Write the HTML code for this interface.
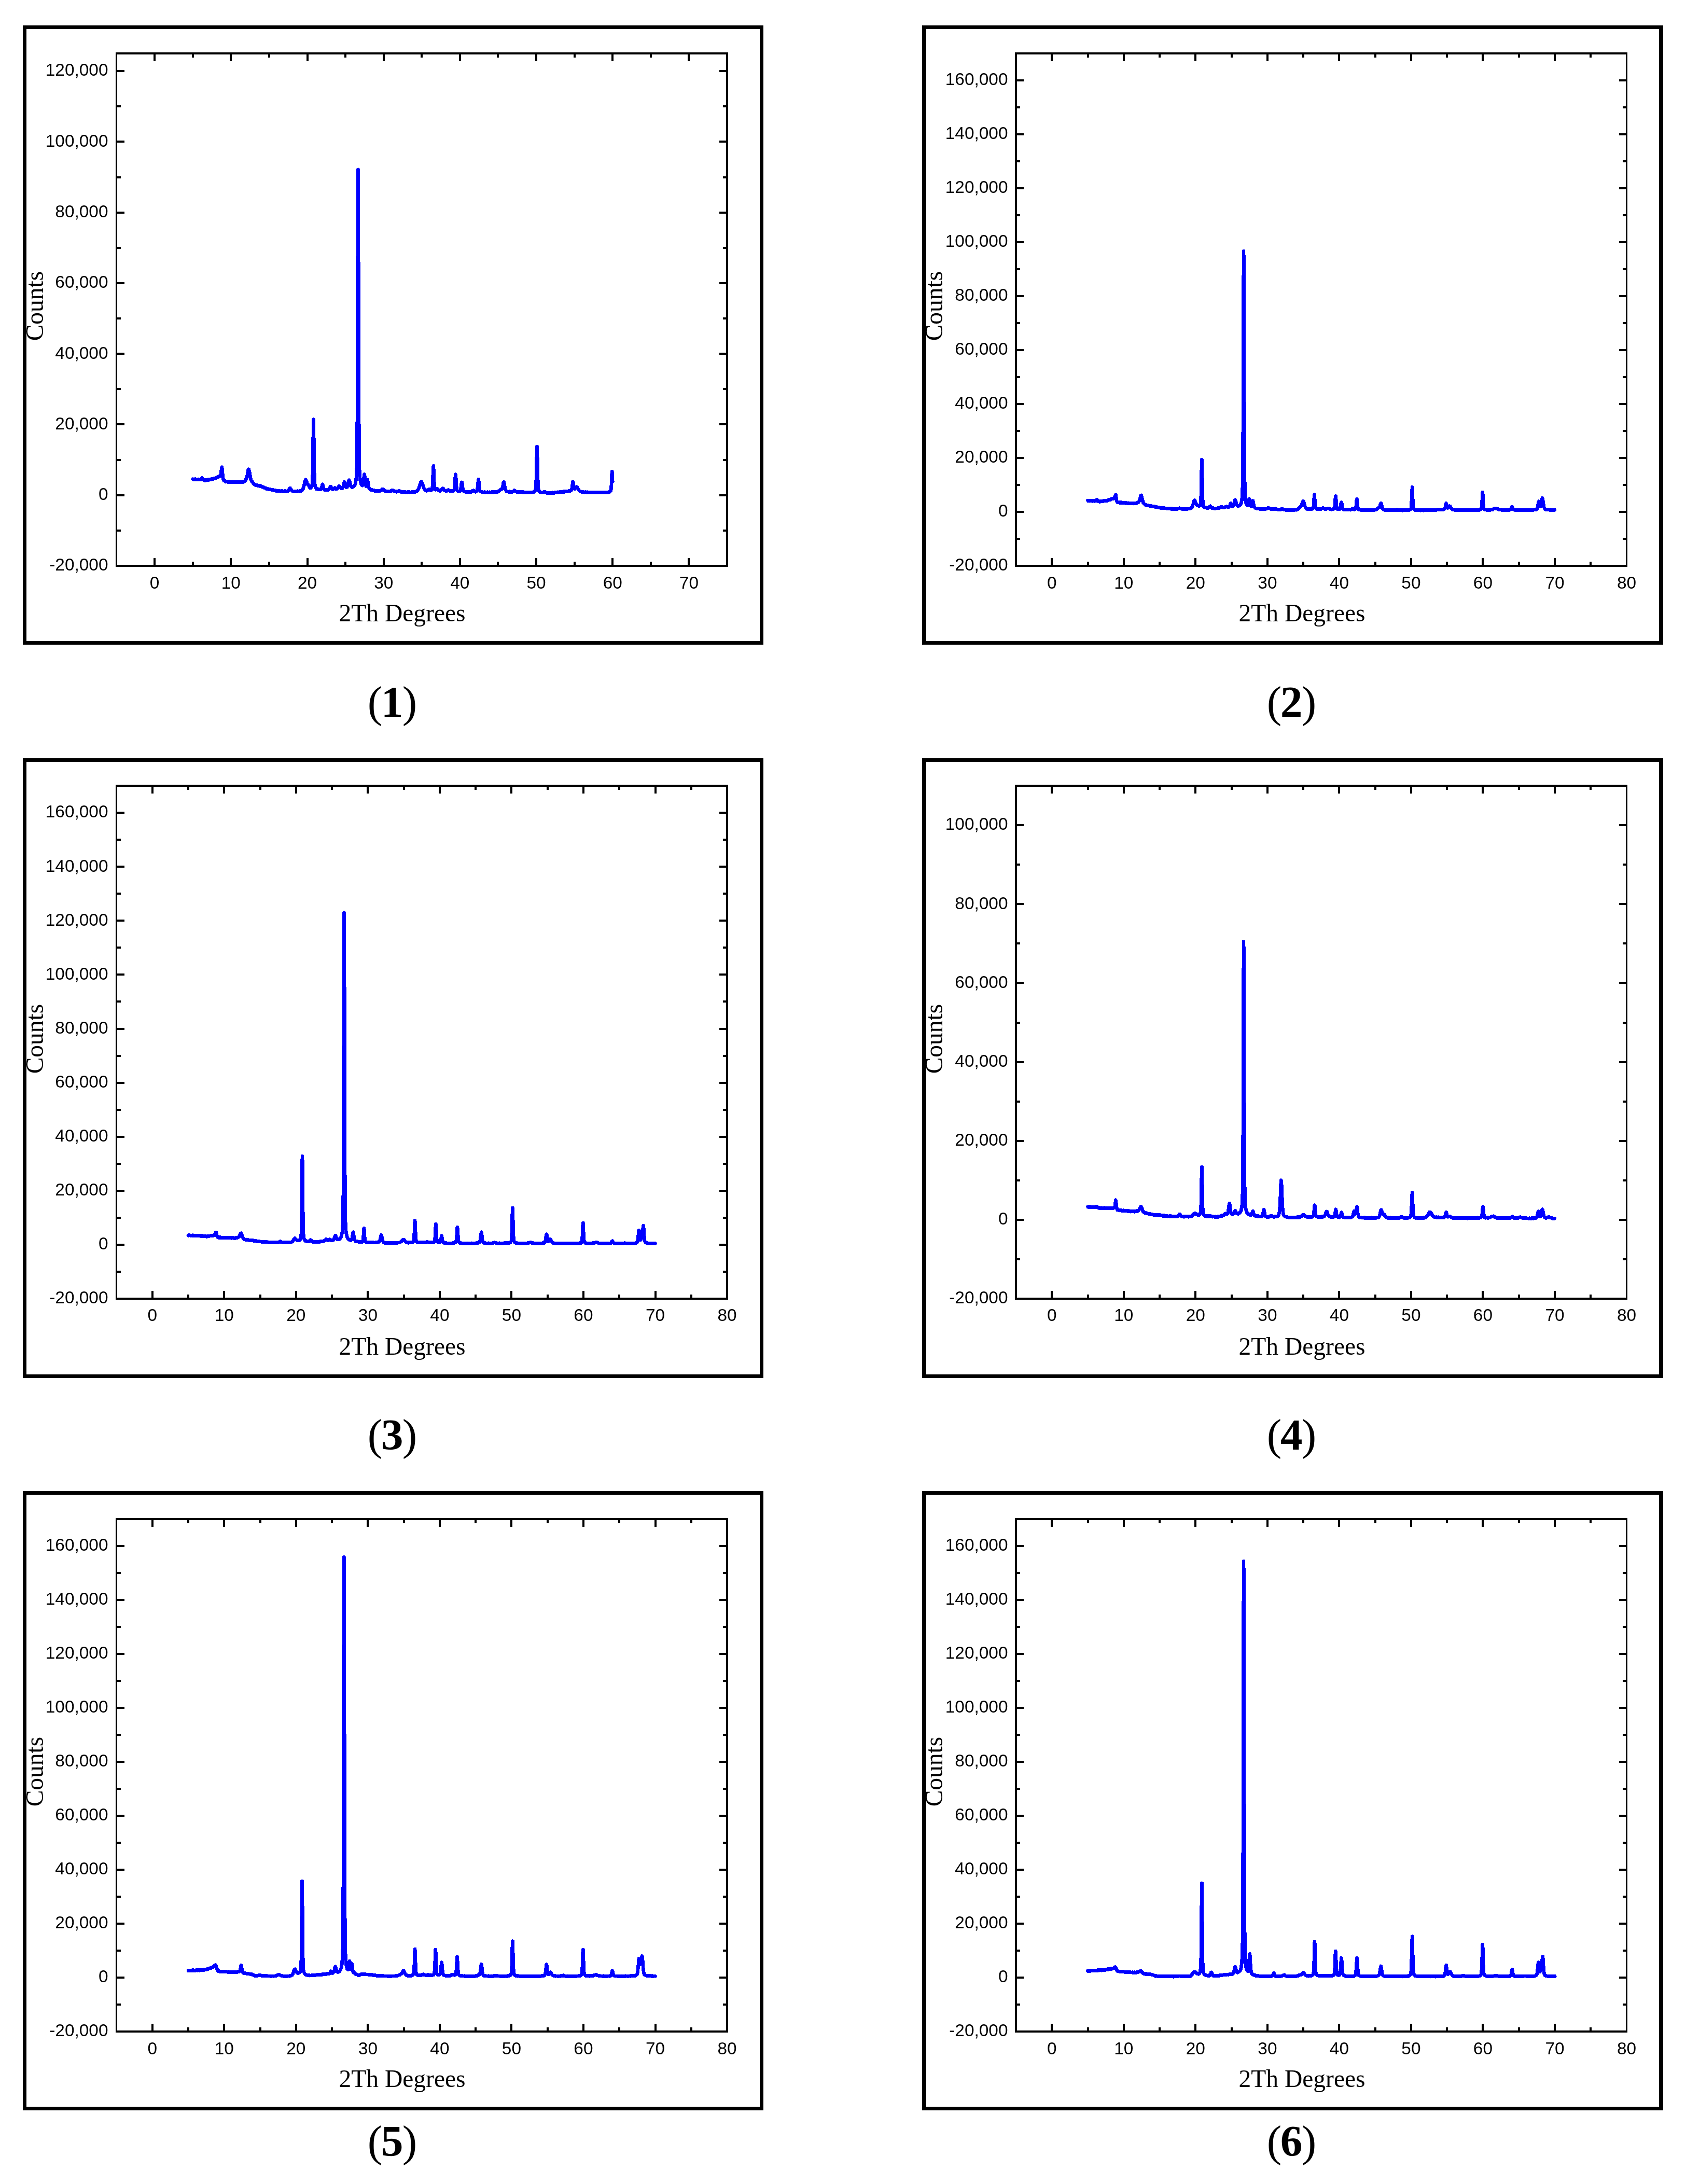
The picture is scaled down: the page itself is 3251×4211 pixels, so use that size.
<!DOCTYPE html>
<html lang="en"><head><meta charset="utf-8"><title>XRD patterns</title>
<style>html,body{margin:0;padding:0;background:#fff}body{width:3251px;height:4211px;overflow:hidden}svg{display:block}.tl{font-family:"Liberation Sans",sans-serif;font-size:33.4px;fill:#000}.ax{font-family:"Liberation Serif",serif;font-size:47.5px;fill:#000}.cap{font-family:"Liberation Serif",serif;font-size:85.5px;fill:#000}.cap .b{font-weight:bold}.tl,.ax,.cap{filter:grayscale(1)}</style></head><body>
<svg width="3251" height="4211" viewBox="0 0 3251 4211">
<rect width="3251" height="4211" fill="#fff"/>
<g transform="translate(0,0)">
<path d="M44 49H1472V1243H44Z M51 56V1236H1465V56Z" fill="#000" fill-rule="evenodd"/>
<path d="M298.1 1091.0 v-15.0 M298.1 103.0 v15.0 M445.3 1091.0 v-15.0 M445.3 103.0 v15.0 M592.5 1091.0 v-15.0 M592.5 103.0 v15.0 M739.7 1091.0 v-15.0 M739.7 103.0 v15.0 M886.8 1091.0 v-15.0 M886.8 103.0 v15.0 M1034.0 1091.0 v-15.0 M1034.0 103.0 v15.0 M1181.2 1091.0 v-15.0 M1181.2 103.0 v15.0 M1328.4 1091.0 v-15.0 M1328.4 103.0 v15.0 M371.7 1091.0 v-8.0 M371.7 103.0 v8.0 M518.9 1091.0 v-8.0 M518.9 103.0 v8.0 M666.1 1091.0 v-8.0 M666.1 103.0 v8.0 M813.2 1091.0 v-8.0 M813.2 103.0 v8.0 M960.4 1091.0 v-8.0 M960.4 103.0 v8.0 M1107.6 1091.0 v-8.0 M1107.6 103.0 v8.0 M1254.8 1091.0 v-8.0 M1254.8 103.0 v8.0 M224.5 1022.9 h8.0 M1402.0 1022.9 h-8.0 M224.5 954.7 h15.0 M1402.0 954.7 h-15.0 M224.5 886.6 h8.0 M1402.0 886.6 h-8.0 M224.5 818.4 h15.0 M1402.0 818.4 h-15.0 M224.5 750.3 h8.0 M1402.0 750.3 h-8.0 M224.5 682.2 h15.0 M1402.0 682.2 h-15.0 M224.5 614.0 h8.0 M1402.0 614.0 h-8.0 M224.5 545.9 h15.0 M1402.0 545.9 h-15.0 M224.5 477.8 h8.0 M1402.0 477.8 h-8.0 M224.5 409.6 h15.0 M1402.0 409.6 h-15.0 M224.5 341.5 h8.0 M1402.0 341.5 h-8.0 M224.5 273.3 h15.0 M1402.0 273.3 h-15.0 M224.5 205.2 h8.0 M1402.0 205.2 h-8.0 M224.5 137.1 h15.0 M1402.0 137.1 h-15.0" stroke="#000" stroke-width="4" fill="none" shape-rendering="crispEdges"/>
<path d="M223 101H1404V1093H223Z M226 105V1089H1400V105Z" fill="#000" fill-rule="evenodd"/>
<defs><polyline id="c1" points="371.7,923.7 372.0,923.7 372.3,924.0 372.6,924.3 372.9,924.4 373.2,924.1 373.5,924.4 373.7,924.5 374.0,924.1 374.3,924.1 374.6,924.0 374.9,924.4 375.2,924.1 375.5,924.2 375.8,924.5 376.1,924.0 376.4,924.1 376.7,923.6 377.0,924.1 377.3,924.2 377.6,923.9 377.9,924.2 378.2,924.0 378.5,924.3 378.8,924.2 379.0,924.0 379.3,924.1 379.6,924.2 379.9,924.6 380.2,924.2 380.5,924.3 380.8,924.1 381.1,924.2 381.4,924.0 381.7,924.3 382.0,924.3 382.3,924.1 382.6,924.6 382.9,924.4 383.2,924.4 383.5,923.8 383.8,924.4 384.1,924.2 384.3,924.2 384.6,924.5 384.9,924.8 385.2,924.2 385.5,924.5 385.8,924.3 386.1,924.8 386.4,924.5 386.7,924.0 387.0,923.9 387.3,924.5 387.6,924.3 387.9,923.7 388.2,923.1 388.5,922.9 388.8,922.5 389.1,922.5 389.4,921.8 389.6,921.9 389.9,921.7 390.2,922.5 390.5,923.2 390.8,923.6 391.1,923.6 391.4,924.7 391.7,924.6 392.0,925.2 392.3,925.2 392.6,925.4 392.9,925.5 393.2,925.2 393.5,925.6 393.8,925.4 394.1,925.8 394.4,926.0 394.6,925.8 394.9,926.7 395.2,926.0 395.5,925.9 395.8,926.3 396.1,925.8 396.4,926.0 396.7,926.5 397.0,925.9 397.3,926.0 397.6,925.9 397.9,925.8 398.2,925.3 398.5,925.6 398.8,925.6 399.1,925.4 399.4,926.0 399.7,925.1 399.9,925.7 400.2,925.2 400.5,925.6 400.8,925.5 401.1,925.3 401.4,924.6 401.7,924.9 402.0,925.2 402.3,925.0 402.6,925.2 402.9,924.9 403.2,925.0 403.5,924.6 403.8,925.1 404.1,924.7 404.4,924.8 404.7,924.7 405.0,924.3 405.2,924.4 405.5,924.3 405.8,924.1 406.1,924.0 406.4,924.6 406.7,924.1 407.0,924.7 407.3,924.2 407.6,923.6 407.9,924.1 408.2,924.1 408.5,924.0 408.8,923.9 409.1,923.9 409.4,924.0 409.7,923.5 410.0,923.4 410.3,923.6 410.5,923.4 410.8,923.2 411.1,923.0 411.4,923.1 411.7,922.9 412.0,923.1 412.3,923.2 412.6,922.9 412.9,922.4 413.2,922.3 413.5,922.4 413.8,922.5 414.1,922.2 414.4,921.7 414.7,921.7 415.0,922.1 415.3,921.8 415.5,922.1 415.8,921.9 416.1,921.4 416.4,921.3 416.7,920.9 417.0,920.8 417.3,920.8 417.6,920.5 417.9,920.9 418.2,920.9 418.5,920.4 418.8,919.7 419.1,920.2 419.4,920.5 419.7,920.0 420.0,919.6 420.3,920.1 420.6,919.5 420.8,919.8 421.1,919.2 421.4,919.2 421.7,919.2 422.0,918.6 422.3,919.2 422.6,919.1 422.9,918.3 423.2,919.0 423.5,917.9 423.8,918.3 424.1,918.3 424.4,917.7 424.7,917.3 425.0,916.8 425.3,916.3 425.6,915.2 425.9,915.0 426.1,912.9 426.4,910.7 426.7,907.4 427.0,905.8 427.3,902.9 427.6,901.3 427.9,900.7 428.2,902.6 428.5,905.4 428.8,909.3 429.1,912.8 429.4,916.7 429.7,919.2 430.0,921.2 430.3,923.0 430.6,924.6 430.9,925.3 431.2,926.6 431.4,926.4 431.7,927.0 432.0,927.2 432.3,927.2 432.6,927.2 432.9,927.1 433.2,927.6 433.5,927.8 433.8,927.6 434.1,928.1 434.4,928.4 434.7,927.8 435.0,928.2 435.3,927.9 435.6,928.5 435.9,929.1 436.2,928.3 436.5,928.4 436.7,928.2 437.0,928.5 437.3,928.6 437.6,928.6 437.9,928.9 438.2,928.8 438.5,929.2 438.8,928.8 439.1,929.2 439.4,929.1 439.7,928.9 440.0,928.8 440.3,929.3 440.6,928.6 440.9,929.2 441.2,928.9 441.5,928.9 441.7,929.0 442.0,929.1 442.3,928.7 442.6,928.9 442.9,929.0 443.2,929.6 443.5,929.3 443.8,928.9 444.1,929.1 444.4,929.4 444.7,929.4 445.0,929.3 445.3,929.1 445.6,929.1 445.9,929.0 446.2,929.5 446.5,929.0 446.8,929.4 447.0,929.4 447.3,928.9 447.6,929.3 447.9,929.4 448.2,929.4 448.5,929.4 448.8,929.0 449.1,929.0 449.4,929.2 449.7,929.3 450.0,929.1 450.3,929.4 450.6,929.3 450.9,929.3 451.2,929.4 451.5,929.1 451.8,929.0 452.1,929.2 452.3,930.0 452.6,929.1 452.9,929.3 453.2,929.6 453.5,929.5 453.8,929.3 454.1,929.3 454.4,929.4 454.7,929.5 455.0,929.6 455.3,929.4 455.6,929.6 455.9,929.8 456.2,929.8 456.5,929.7 456.8,929.6 457.1,929.1 457.4,930.0 457.6,929.6 457.9,929.7 458.2,929.6 458.5,929.4 458.8,929.4 459.1,929.7 459.4,929.8 459.7,930.0 460.0,929.7 460.3,929.4 460.6,929.8 460.9,929.6 461.2,929.6 461.5,929.6 461.8,929.5 462.1,929.8 462.4,929.9 462.6,930.0 462.9,929.5 463.2,929.8 463.5,929.8 463.8,929.5 464.1,929.9 464.4,929.3 464.7,929.5 465.0,929.8 465.3,929.8 465.6,929.4 465.9,930.0 466.2,929.8 466.5,929.6 466.8,929.6 467.1,929.6 467.4,929.5 467.7,929.6 467.9,929.4 468.2,929.0 468.5,929.0 468.8,929.2 469.1,928.5 469.4,929.3 469.7,928.7 470.0,928.4 470.3,928.1 470.6,928.2 470.9,928.2 471.2,927.7 471.5,927.7 471.8,927.4 472.1,928.0 472.4,926.9 472.7,927.0 473.0,926.2 473.2,925.9 473.5,925.6 473.8,925.4 474.1,924.7 474.4,924.3 474.7,923.5 475.0,923.0 475.3,922.4 475.6,920.7 475.9,920.0 476.2,919.6 476.5,917.5 476.8,916.7 477.1,914.9 477.4,913.4 477.7,911.8 478.0,909.9 478.3,908.6 478.5,907.6 478.8,906.0 479.1,905.1 479.6,904.8 480.0,904.9 480.3,906.5 480.6,908.1 480.9,909.3 481.2,910.7 481.5,912.9 481.8,914.7 482.1,916.1 482.4,917.9 482.7,919.4 483.0,921.0 483.3,922.4 483.6,923.4 483.8,924.4 484.1,925.4 484.4,926.0 484.7,926.6 485.0,927.2 485.3,927.7 485.6,928.4 485.9,928.9 486.2,928.8 486.5,929.4 486.8,929.7 487.1,930.4 487.4,930.5 487.7,930.9 488.0,931.3 488.3,931.6 488.6,932.1 488.8,932.0 489.1,932.1 489.4,932.8 489.7,932.9 490.0,933.5 490.3,933.4 490.6,933.4 490.9,934.3 491.2,934.3 491.5,934.2 491.8,934.6 492.1,934.9 492.4,935.5 492.7,935.2 493.0,935.0 493.3,935.0 493.6,935.2 493.9,935.6 494.1,935.6 494.4,936.0 494.7,935.9 495.0,935.5 495.3,935.8 495.6,936.2 495.9,935.7 496.2,936.4 496.5,935.8 496.8,936.3 497.1,936.2 497.4,936.2 497.7,936.4 498.0,936.2 498.3,936.6 498.6,936.7 498.9,936.9 499.2,937.1 499.4,937.0 499.7,936.7 500.0,936.8 500.3,936.8 500.6,936.5 500.9,937.0 501.2,937.2 501.5,937.6 501.8,937.4 502.1,936.9 502.4,937.4 502.7,937.5 503.0,937.5 503.3,938.1 503.6,937.9 503.9,938.1 504.2,938.4 504.5,937.9 504.7,938.0 505.0,938.3 505.3,938.3 505.6,938.7 505.9,938.5 506.2,938.6 506.5,938.6 506.8,938.7 507.1,939.0 507.4,939.3 507.7,939.6 508.0,939.6 508.3,939.5 508.6,939.7 508.9,939.9 509.2,939.7 509.5,940.1 509.7,940.3 510.0,940.5 510.3,940.6 510.6,940.9 510.9,941.1 511.2,940.9 511.5,941.2 511.8,941.3 512.1,941.1 512.4,941.5 512.7,941.4 513.0,941.7 513.3,941.6 513.6,941.9 513.9,942.4 514.2,941.9 514.5,942.3 514.8,942.8 515.0,942.5 515.3,942.5 515.6,942.9 515.9,942.8 516.2,942.6 516.5,942.5 516.8,942.6 517.1,942.6 517.4,942.7 517.7,943.4 518.0,943.1 518.3,943.0 518.6,943.6 518.9,943.0 519.2,943.0 519.5,943.4 519.8,943.4 520.1,943.5 520.3,943.4 520.6,943.5 520.9,943.5 521.2,943.8 521.5,943.6 521.8,943.8 522.1,943.6 522.4,943.8 522.7,944.2 523.0,944.2 523.3,944.0 523.6,944.2 523.9,944.1 524.2,944.1 524.5,944.3 524.8,944.7 525.1,944.6 525.4,944.4 525.6,944.8 525.9,944.4 526.2,944.7 526.5,944.7 526.8,945.0 527.1,944.9 527.4,945.5 527.7,945.1 528.0,945.0 528.3,945.3 528.6,945.4 528.9,945.3 529.2,945.3 529.5,945.6 529.8,945.4 530.1,945.8 530.4,945.4 530.7,945.9 530.9,945.9 531.2,945.5 531.5,946.0 531.8,946.2 532.1,945.9 532.4,946.2 532.7,946.3 533.0,946.2 533.3,946.3 533.6,946.4 533.9,946.4 534.2,946.0 534.5,946.5 534.8,946.2 535.1,946.7 535.4,946.4 535.7,946.8 535.9,946.7 536.2,946.5 536.5,946.7 536.8,947.0 537.1,946.8 537.4,946.7 537.7,946.6 538.0,946.9 538.3,946.8 538.6,946.7 538.9,947.0 539.2,946.8 539.5,946.9 539.8,946.7 540.1,946.8 540.4,946.8 540.7,947.2 541.0,946.9 541.2,946.9 541.5,947.0 541.8,947.0 542.1,947.1 542.4,946.9 542.7,946.8 543.0,946.8 543.3,947.0 543.6,946.7 543.9,946.8 544.2,947.2 544.5,947.0 544.8,947.3 545.1,947.1 545.4,946.9 545.7,946.8 546.0,947.1 546.3,947.4 546.5,947.1 546.8,946.9 547.1,947.1 547.4,946.9 547.7,947.0 548.0,946.9 548.3,947.1 548.6,947.3 548.9,947.1 549.2,946.8 549.5,947.3 549.8,947.5 550.1,946.9 550.4,947.1 550.7,947.3 551.0,947.3 551.3,947.5 551.6,947.1 551.8,947.2 552.1,947.3 552.4,947.2 552.7,947.2 553.0,946.9 553.3,947.1 553.6,946.8 553.9,947.1 554.2,947.0 554.5,946.8 554.8,946.7 555.1,946.5 555.4,946.1 555.7,945.8 556.0,945.9 556.3,945.1 556.6,944.9 556.8,944.2 557.1,944.0 557.4,943.6 557.7,942.7 558.0,942.2 558.3,941.9 558.6,941.4 558.9,941.1 559.2,941.0 559.5,941.0 559.8,941.7 560.1,942.0 560.4,942.3 560.7,942.8 561.0,943.5 561.3,944.3 561.6,944.2 561.9,945.0 562.1,945.5 562.4,945.4 562.7,945.8 563.0,946.0 563.3,946.3 563.6,946.5 563.9,946.9 564.2,946.8 564.5,946.8 564.8,946.8 565.1,946.9 565.4,947.2 565.7,947.1 566.0,947.1 566.3,947.1 566.6,947.3 566.9,947.4 567.2,947.3 567.4,947.1 567.7,947.2 568.0,947.1 568.3,947.5 568.6,947.2 568.9,947.0 569.2,947.5 569.5,947.4 569.8,947.5 570.1,947.0 570.4,947.2 570.7,947.3 571.0,947.1 571.3,947.2 571.6,947.0 571.9,947.0 572.2,947.0 572.5,947.1 572.7,947.0 573.0,947.0 573.3,946.9 573.6,947.4 573.9,947.0 574.2,947.1 574.5,947.0 574.8,947.1 575.1,947.0 575.4,946.9 575.7,947.0 576.0,947.0 576.3,947.1 576.6,947.1 576.9,947.0 577.2,947.2 577.5,946.9 577.8,947.0 578.0,947.1 578.3,947.1 578.6,946.8 578.9,946.8 579.2,946.2 579.5,946.4 579.8,946.5 580.1,946.4 580.4,946.4 580.7,946.3 581.0,946.1 581.3,945.9 581.6,945.8 581.9,945.4 582.2,945.2 582.5,944.7 582.8,945.0 583.0,944.3 583.3,944.1 583.6,943.9 583.9,943.2 584.2,942.9 584.5,941.9 584.8,940.6 585.1,940.1 585.4,939.0 585.7,938.1 586.0,937.6 586.3,936.0 586.6,934.8 586.9,933.4 587.2,932.4 587.5,931.3 587.8,929.0 588.1,927.9 588.3,927.0 588.6,926.3 588.9,925.5 589.4,925.0 589.8,925.4 590.1,925.3 590.4,926.1 590.7,927.0 591.0,928.0 591.3,928.9 591.6,929.8 591.9,930.8 592.2,931.3 592.5,932.2 592.8,933.0 593.1,933.7 593.4,933.6 593.6,934.0 593.9,934.5 594.2,935.4 594.7,935.5 595.1,936.3 595.4,936.5 595.7,937.3 596.0,937.6 596.3,938.5 596.6,938.7 596.9,939.2 597.2,940.2 597.5,940.1 597.8,940.3 598.1,940.6 598.4,940.8 598.7,940.3 598.9,940.6 599.2,940.4 599.5,940.6 599.8,940.6 600.1,939.9 600.4,939.3 600.7,939.0 601.0,938.1 601.3,937.1 601.6,936.1 601.9,934.1 602.2,931.2 602.5,925.7 602.8,917.3 603.1,905.0 603.4,887.4 603.7,864.6 603.9,839.2 604.2,817.2 604.5,808.8 604.8,818.0 605.1,838.5 605.4,864.9 605.7,887.4 606.0,905.0 606.3,917.6 606.6,926.4 606.9,931.2 607.2,933.9 607.5,936.2 607.8,938.3 608.1,938.7 608.4,939.0 608.7,940.4 609.0,940.4 609.2,941.4 609.5,941.1 609.8,941.8 610.1,941.8 610.4,941.9 610.7,942.9 611.0,942.7 611.3,942.5 611.6,943.0 611.9,942.8 612.2,943.1 612.5,942.8 612.8,943.2 613.1,943.3 613.4,943.1 613.7,943.1 614.0,943.4 614.3,943.3 614.5,943.4 614.8,943.6 615.1,943.7 615.4,943.4 615.7,943.6 616.0,943.9 616.3,943.4 616.6,943.5 616.9,943.6 617.2,943.8 617.5,943.6 617.8,943.4 618.1,943.4 618.4,943.6 618.7,943.5 619.0,943.1 619.3,942.8 619.6,942.2 619.8,942.0 620.1,940.7 620.4,939.3 620.7,938.1 621.0,936.8 621.3,935.2 621.6,934.6 621.9,933.9 622.2,934.4 622.5,935.0 622.8,937.3 623.1,938.7 623.4,939.7 623.7,941.2 624.0,942.1 624.3,942.9 624.6,942.9 624.8,943.6 625.1,943.8 625.4,944.3 625.7,943.9 626.0,944.1 626.3,944.1 626.6,944.0 626.9,944.3 627.2,944.6 627.5,944.6 627.8,944.4 628.1,944.2 628.4,944.7 628.7,944.6 629.0,944.6 629.3,944.4 629.6,944.8 629.9,944.6 630.1,944.5 630.4,944.7 630.7,944.7 631.0,944.5 631.3,944.5 631.6,944.4 631.9,944.7 632.2,944.2 632.5,944.4 632.8,944.5 633.1,944.2 633.4,944.2 633.7,943.7 634.0,943.2 634.3,943.5 634.6,942.9 634.9,942.0 635.2,941.7 635.4,940.9 635.7,940.7 636.0,939.8 636.3,939.7 636.6,938.9 636.9,938.1 637.4,938.0 637.8,937.9 638.1,938.2 638.4,939.0 638.7,939.7 639.0,940.2 639.3,941.1 639.6,941.0 639.9,941.5 640.2,942.4 640.5,942.2 640.7,943.1 641.0,942.9 641.3,943.3 641.6,943.6 641.9,943.2 642.2,943.5 642.5,942.9 642.8,943.2 643.1,942.8 643.4,942.7 643.7,942.3 644.0,942.2 644.3,941.7 644.6,941.4 644.9,941.3 645.2,941.2 645.5,941.1 645.8,940.7 646.0,941.4 646.3,941.4 646.6,941.4 646.9,941.7 647.2,942.3 647.5,942.2 647.8,942.4 648.1,942.6 648.4,942.5 648.7,942.8 649.0,942.7 649.3,942.8 649.6,942.2 649.9,942.4 650.2,942.1 650.5,941.9 650.8,941.5 651.0,941.3 651.3,940.8 651.6,940.4 651.9,940.4 652.2,939.3 652.5,939.1 652.8,938.2 653.1,937.9 653.4,937.6 653.8,937.3 654.3,938.0 654.6,938.2 654.9,938.4 655.2,938.6 655.5,939.3 655.8,939.1 656.1,939.8 656.3,940.3 656.6,940.8 656.9,941.0 657.2,941.2 657.5,941.4 657.8,941.5 658.1,941.4 658.4,942.0 658.7,941.6 659.0,941.4 659.3,941.8 659.6,941.5 659.9,941.4 660.2,941.3 660.5,940.6 660.8,940.5 661.1,939.7 661.4,939.2 661.6,938.5 661.9,937.4 662.2,936.4 662.5,935.4 662.8,933.3 663.1,932.2 663.4,930.8 663.7,930.5 664.1,929.4 664.6,929.7 664.9,930.7 665.2,932.1 665.5,933.9 665.8,934.7 666.1,936.1 666.4,937.1 666.7,938.0 666.9,938.9 667.2,939.3 667.5,939.1 667.8,939.1 668.1,939.6 668.4,939.1 668.7,939.7 669.0,939.3 669.3,938.8 669.6,938.9 669.9,937.9 670.2,937.3 670.5,936.6 670.8,935.5 671.1,933.9 671.4,933.1 671.7,931.5 672.0,930.0 672.2,928.3 672.5,927.9 672.8,926.8 673.3,925.8 673.7,926.7 674.0,927.3 674.3,928.3 674.6,929.6 674.9,931.3 675.2,932.3 675.5,933.9 675.8,934.9 676.1,936.2 676.4,936.6 676.7,937.6 677.0,937.8 677.2,938.2 677.5,938.3 677.8,939.0 678.1,939.3 678.4,939.0 678.7,939.1 679.0,939.3 679.3,939.4 679.6,938.9 679.9,939.4 680.2,939.0 680.5,938.6 680.8,938.7 681.1,938.4 681.4,938.2 681.7,938.0 682.0,937.7 682.3,937.5 682.5,937.4 682.8,937.3 683.1,936.7 683.4,936.4 683.7,935.7 684.0,934.9 684.3,934.4 684.6,934.0 684.9,933.0 685.2,932.0 685.5,931.0 685.8,929.2 686.1,927.8 686.4,925.9 686.7,924.0 687.0,921.4 687.3,917.1 687.6,911.6 687.8,904.8 688.1,893.5 688.4,874.9 688.7,842.8 689.0,790.8 689.3,710.8 689.6,605.5 689.9,482.5 690.2,371.7 690.5,326.8 690.8,372.3 691.1,481.6 691.4,604.9 691.7,711.7 692.0,790.4 692.3,842.5 692.6,874.5 692.9,893.9 693.1,903.9 693.4,911.7 693.7,916.7 694.0,920.3 694.3,923.3 694.6,925.7 694.9,927.4 695.2,928.7 695.5,930.3 695.8,931.2 696.1,932.6 696.4,932.9 696.7,934.0 697.0,934.1 697.3,935.0 697.6,935.3 697.9,935.8 698.1,936.1 698.4,936.0 698.7,936.2 699.0,936.0 699.3,935.5 699.6,935.4 699.9,934.5 700.2,933.3 700.5,931.7 700.8,929.4 701.1,926.6 701.4,923.3 701.7,920.5 702.0,917.4 702.3,915.2 702.6,914.4 702.9,915.0 703.2,918.0 703.4,920.9 703.7,924.2 704.0,927.5 704.3,930.7 704.6,933.1 704.9,935.1 705.2,936.1 705.5,936.8 705.8,937.4 706.1,936.8 706.4,936.5 706.7,935.7 707.0,934.5 707.3,932.6 707.6,930.8 707.9,928.5 708.2,926.9 708.5,925.1 708.7,925.0 709.0,926.1 709.3,927.6 709.6,929.1 709.9,931.6 710.2,933.8 710.5,936.3 710.8,937.7 711.1,938.9 711.4,940.0 711.7,940.9 712.0,941.2 712.3,941.8 712.6,942.4 712.9,942.0 713.2,942.6 713.5,942.6 713.8,943.6 714.0,943.7 714.3,943.5 714.6,943.6 714.9,944.0 715.2,943.9 715.5,944.3 715.8,944.5 716.1,944.0 716.4,944.5 716.7,944.3 717.0,944.3 717.3,944.5 717.6,944.4 717.9,944.7 718.2,944.8 718.5,945.0 718.8,945.0 719.0,945.1 719.3,945.4 719.6,945.3 719.9,945.5 720.2,945.0 720.5,945.4 720.8,945.8 721.1,945.6 721.4,946.1 721.7,945.9 722.0,945.7 722.3,946.1 722.6,945.9 722.9,946.3 723.2,946.2 723.5,946.3 723.8,946.8 724.1,946.6 724.3,946.2 724.6,946.7 724.9,946.4 725.2,946.4 725.5,946.7 725.8,946.5 726.1,946.6 726.4,946.8 726.7,946.6 727.0,946.6 727.3,946.9 727.6,946.8 727.9,946.9 728.2,946.7 728.5,946.7 728.8,946.9 729.1,947.0 729.4,946.6 729.6,946.5 729.9,946.8 730.2,946.7 730.5,946.8 730.8,947.1 731.1,946.3 731.4,946.5 731.7,946.8 732.0,946.3 732.3,946.3 732.6,946.2 732.9,946.2 733.2,946.1 733.5,945.9 733.8,946.0 734.1,945.8 734.4,945.9 734.7,945.7 734.9,945.3 735.2,945.0 735.5,945.1 735.8,944.6 736.1,944.2 736.4,944.4 736.7,944.0 737.0,943.4 737.3,943.7 737.6,943.3 738.0,943.4 738.5,943.4 738.8,943.6 739.1,943.8 739.4,943.9 739.7,944.2 740.0,944.5 740.2,945.1 740.5,945.0 740.8,945.5 741.1,945.3 741.4,945.4 741.7,945.8 742.0,946.6 742.3,946.2 742.6,946.5 742.9,946.8 743.2,947.0 743.5,946.7 743.8,947.0 744.1,947.0 744.4,947.1 744.7,947.0 745.0,947.6 745.2,947.0 745.5,947.4 745.8,947.4 746.1,947.2 746.4,947.3 746.7,947.8 747.0,947.3 747.3,947.4 747.6,947.6 747.9,947.5 748.2,947.7 748.5,947.3 748.8,947.2 749.1,947.6 749.4,947.6 749.7,947.7 750.0,947.6 750.3,947.7 750.5,947.5 750.8,947.2 751.1,947.3 751.4,947.3 751.7,947.6 752.0,947.3 752.3,947.5 752.6,947.5 752.9,947.1 753.2,947.1 753.5,946.6 753.8,946.8 754.1,946.8 754.4,946.4 754.7,946.5 755.0,946.0 755.3,945.6 755.6,945.7 755.8,945.5 756.1,945.1 756.4,945.4 756.7,945.1 757.0,945.1 757.3,945.4 757.6,945.4 757.9,945.9 758.2,945.9 758.5,946.1 758.8,946.2 759.1,946.8 759.4,946.8 759.7,947.4 760.0,947.4 760.3,947.3 760.6,947.7 760.9,947.6 761.1,947.8 761.4,947.7 761.7,947.7 762.0,947.9 762.3,947.8 762.6,948.0 762.9,947.9 763.2,947.9 763.5,947.9 763.8,947.9 764.1,947.7 764.4,948.1 764.7,948.0 765.0,948.3 765.3,947.9 765.6,948.2 765.9,948.1 766.1,948.0 766.4,947.8 766.7,947.8 767.0,947.8 767.3,947.6 767.6,947.5 767.9,947.4 768.2,947.4 768.5,947.1 768.8,947.1 769.1,946.6 769.4,946.4 769.7,946.4 770.1,946.5 770.6,946.5 770.9,946.8 771.2,946.7 771.4,947.3 771.7,947.6 772.0,947.6 772.3,947.4 772.6,947.7 772.9,947.7 773.2,948.2 773.5,948.0 773.8,948.0 774.1,948.2 774.4,948.4 774.7,948.3 775.0,948.6 775.3,948.3 775.6,948.8 775.9,948.8 776.2,948.7 776.5,948.8 776.7,948.5 777.0,948.6 777.3,948.9 777.6,948.5 777.9,948.6 778.2,948.9 778.5,948.6 778.8,948.7 779.1,949.0 779.4,949.0 779.7,948.8 780.0,948.7 780.3,948.7 780.6,948.7 780.9,949.0 781.2,949.2 781.5,949.2 781.8,948.7 782.0,948.8 782.3,948.8 782.6,949.0 782.9,949.0 783.2,948.9 783.5,949.0 783.8,949.0 784.1,949.2 784.4,949.2 784.7,949.0 785.0,949.1 785.3,948.8 785.6,949.2 785.9,949.3 786.2,949.3 786.5,949.0 786.8,948.8 787.1,949.1 787.3,949.1 787.6,949.0 787.9,948.8 788.2,948.8 788.5,948.9 788.8,948.9 789.1,949.0 789.4,949.0 789.7,948.9 790.0,948.7 790.3,949.3 790.6,949.1 790.9,948.9 791.2,949.0 791.5,949.0 791.8,949.0 792.1,949.1 792.3,948.9 792.6,948.7 792.9,949.0 793.2,948.8 793.5,948.7 793.8,949.0 794.1,948.9 794.4,949.1 794.7,948.6 795.0,948.6 795.3,948.9 795.6,948.5 795.9,948.7 796.2,949.1 796.5,948.7 796.8,948.7 797.1,948.6 797.4,948.6 797.6,948.8 797.9,948.5 798.2,948.6 798.5,948.3 798.8,948.6 799.1,948.9 799.4,948.2 799.7,948.3 800.0,948.7 800.3,948.4 800.6,948.4 800.9,948.0 801.2,948.2 801.5,947.8 801.8,948.0 802.1,947.7 802.4,947.8 802.7,947.8 802.9,947.3 803.2,947.3 803.5,947.0 803.8,947.2 804.1,946.9 804.4,946.5 804.7,945.8 805.0,945.8 805.3,945.8 805.6,945.6 805.9,944.3 806.2,944.1 806.5,943.9 806.8,942.8 807.1,942.2 807.4,941.3 807.7,940.9 808.0,940.3 808.2,939.2 808.5,938.8 808.8,937.7 809.1,936.8 809.4,935.8 809.7,935.0 810.0,934.1 810.3,933.1 810.6,931.8 810.9,931.1 811.2,930.5 811.5,929.8 811.8,929.2 812.1,929.0 812.4,929.0 812.7,928.6 813.0,929.3 813.2,929.6 813.5,930.4 813.8,930.7 814.1,931.4 814.4,933.2 814.7,933.2 815.0,934.5 815.3,935.1 815.6,936.1 815.9,937.3 816.2,938.2 816.5,938.8 816.8,939.0 817.1,940.5 817.4,941.0 817.7,941.7 818.0,942.3 818.3,942.5 818.5,942.9 818.8,943.7 819.1,944.0 819.4,944.5 819.7,944.5 820.0,945.0 820.3,945.1 820.6,945.5 820.9,945.4 821.2,945.8 821.5,946.0 821.8,945.6 822.1,946.4 822.4,946.1 822.7,946.2 823.0,946.3 823.3,945.7 823.6,946.0 823.8,946.0 824.1,945.9 824.4,945.6 824.7,945.4 825.0,945.3 825.3,945.1 825.6,944.4 825.9,944.4 826.2,944.2 826.5,944.2 826.8,943.9 827.2,943.6 827.7,943.6 828.0,944.0 828.3,943.9 828.6,944.3 828.9,944.5 829.1,944.7 829.4,945.1 829.7,945.2 830.0,945.3 830.3,945.3 830.6,945.0 830.9,945.3 831.2,945.7 831.5,944.9 831.8,945.2 832.1,945.1 832.4,944.6 832.7,944.2 833.0,943.5 833.3,942.4 833.6,940.7 833.9,937.7 834.2,933.5 834.4,928.1 834.7,920.3 835.0,912.0 835.3,903.9 835.8,898.3 836.2,904.1 836.5,912.2 836.8,920.4 837.1,928.3 837.4,933.7 837.7,938.0 838.0,940.3 838.3,942.0 838.6,943.0 838.9,943.7 839.2,944.1 839.4,943.9 839.7,944.2 840.0,944.1 840.3,944.0 840.6,943.7 840.9,943.5 841.2,943.5 841.5,943.2 841.8,942.5 842.1,942.6 842.4,942.4 842.7,942.3 843.0,942.6 843.3,942.5 843.6,942.9 843.9,943.4 844.2,944.0 844.5,943.7 844.7,944.6 845.0,945.0 845.3,945.2 845.6,945.6 845.9,945.6 846.2,945.9 846.5,946.1 846.8,945.9 847.1,946.3 847.4,946.5 847.7,946.1 848.0,946.3 848.3,946.3 848.6,946.4 848.9,946.1 849.2,946.0 849.5,945.8 849.8,945.6 850.0,945.1 850.3,944.8 850.6,944.7 850.9,944.3 851.2,944.1 851.5,943.9 851.8,943.2 852.1,942.6 852.4,942.6 852.7,942.3 853.0,942.1 853.3,942.0 853.6,941.7 853.9,941.7 854.2,942.2 854.5,941.9 854.8,942.2 855.1,942.9 855.3,943.3 855.6,943.8 855.9,943.9 856.2,944.4 856.5,945.0 856.8,945.2 857.1,945.2 857.4,945.6 857.7,945.6 858.0,945.8 858.3,945.8 858.6,946.2 858.9,946.0 859.2,946.1 859.5,946.1 859.8,946.5 860.1,946.4 860.4,946.0 860.6,946.4 860.9,946.5 861.2,946.3 861.5,946.5 861.8,946.3 862.1,946.1 862.4,946.0 862.7,945.6 863.0,945.8 863.3,945.5 863.6,945.3 863.9,945.2 864.2,944.9 864.5,944.6 864.8,944.9 865.1,945.2 865.4,945.2 865.6,945.3 865.9,945.5 866.2,945.7 866.5,945.7 866.8,945.7 867.1,945.7 867.4,946.3 867.7,946.8 868.0,946.3 868.3,946.7 868.6,946.9 868.9,946.7 869.2,946.9 869.5,947.0 869.8,947.1 870.1,946.8 870.4,946.9 870.7,947.1 870.9,947.1 871.2,946.8 871.5,947.1 871.8,947.0 872.1,947.1 872.4,946.9 872.7,946.7 873.0,946.8 873.3,946.6 873.6,946.6 873.9,946.9 874.2,946.4 874.5,946.3 874.8,946.4 875.1,945.7 875.4,945.4 875.7,945.0 876.0,943.9 876.2,942.4 876.5,940.4 876.8,937.7 877.1,933.6 877.4,928.1 877.7,923.7 878.0,918.3 878.5,914.8 878.9,918.4 879.2,923.0 879.5,928.6 879.8,933.6 880.1,937.7 880.4,940.4 880.7,942.7 881.0,944.1 881.3,945.0 881.5,945.5 881.8,946.0 882.1,946.2 882.4,946.4 882.7,946.8 883.0,946.8 883.3,946.9 883.6,946.9 883.9,946.9 884.2,947.2 884.5,947.3 884.8,947.2 885.1,947.2 885.4,947.0 885.7,947.0 886.0,947.0 886.3,947.1 886.5,947.0 886.8,946.6 887.1,946.2 887.4,945.9 887.7,945.4 888.0,944.4 888.3,943.7 888.6,941.7 888.9,939.7 889.2,937.8 889.5,935.4 889.8,933.1 890.1,930.9 890.5,929.8 891.0,931.4 891.3,933.3 891.6,935.5 891.8,938.3 892.1,940.1 892.4,942.0 892.7,943.6 893.0,944.9 893.3,945.4 893.6,946.4 893.9,946.8 894.2,947.0 894.5,947.4 894.8,947.4 895.1,947.7 895.4,947.7 895.7,947.9 896.0,947.9 896.3,948.1 896.6,947.9 896.9,948.0 897.1,948.4 897.4,948.5 897.7,948.5 898.0,948.5 898.3,948.2 898.6,948.4 898.9,948.1 899.2,948.2 899.5,948.7 899.8,948.5 900.1,948.6 900.4,948.3 900.7,948.4 901.0,948.4 901.3,948.7 901.6,948.3 901.9,948.8 902.2,948.6 902.4,948.8 902.7,948.7 903.0,948.6 903.3,948.8 903.6,948.5 903.9,948.5 904.2,948.6 904.5,948.5 904.8,948.4 905.1,948.4 905.4,948.8 905.7,948.5 906.0,948.4 906.3,948.6 906.6,948.6 906.9,948.4 907.2,948.4 907.4,948.5 907.7,948.2 908.0,948.3 908.3,948.1 908.6,948.3 908.9,948.0 909.2,948.4 909.5,948.0 909.8,947.4 910.1,947.7 910.4,947.3 910.7,947.1 911.0,946.7 911.3,946.3 911.6,946.0 911.9,946.1 912.2,945.8 912.6,945.8 913.0,945.7 913.3,945.8 913.6,946.2 913.9,946.2 914.2,946.9 914.5,946.9 914.8,947.4 915.1,947.4 915.4,947.6 915.7,947.4 916.0,947.5 916.3,947.7 916.6,947.9 916.9,948.3 917.2,948.2 917.5,947.9 917.8,947.8 918.0,947.7 918.3,947.8 918.6,947.7 918.9,947.3 919.2,946.7 919.5,946.5 919.8,946.0 920.1,945.1 920.4,943.7 920.7,941.9 921.0,939.8 921.3,936.1 921.6,932.8 921.9,929.2 922.2,926.2 922.6,923.9 923.1,925.8 923.3,929.1 923.6,933.1 923.9,936.3 924.2,939.7 924.5,942.4 924.8,943.7 925.1,945.4 925.4,946.3 925.7,947.0 926.0,947.3 926.3,947.6 926.6,947.8 926.9,947.9 927.2,947.8 927.5,948.1 927.8,948.2 928.1,948.3 928.4,948.3 928.6,948.4 928.9,948.5 929.2,948.8 929.5,948.8 929.8,948.6 930.1,948.8 930.4,948.8 930.7,948.9 931.0,948.9 931.3,948.7 931.6,948.7 931.9,949.1 932.2,948.9 932.5,948.9 932.8,949.0 933.1,948.8 933.4,948.9 933.6,948.9 933.9,949.1 934.2,948.8 934.5,948.9 934.8,948.9 935.1,949.1 935.4,948.8 935.7,949.5 936.0,949.2 936.3,949.3 936.6,949.2 936.9,949.2 937.2,949.1 937.5,949.1 937.8,949.0 938.1,948.9 938.4,949.0 938.7,949.1 938.9,949.1 939.2,949.0 939.5,949.0 939.8,949.2 940.1,948.8 940.4,949.1 940.7,949.0 941.0,949.5 941.3,949.1 941.6,949.2 941.9,948.9 942.2,948.9 942.5,949.1 942.8,949.0 943.1,949.2 943.4,949.3 943.7,948.9 944.0,949.3 944.2,949.2 944.5,949.3 944.8,949.3 945.1,949.2 945.4,949.0 945.7,949.3 946.0,949.0 946.3,949.4 946.6,949.2 946.9,949.2 947.2,949.0 947.5,948.9 947.8,949.4 948.1,949.1 948.4,948.8 948.7,949.1 949.0,948.8 949.3,948.9 949.5,949.0 949.8,949.2 950.1,949.1 950.4,948.8 950.7,949.1 951.0,949.2 951.3,949.0 951.6,948.8 951.9,948.9 952.2,949.2 952.5,949.0 952.8,948.8 953.1,948.7 953.4,948.6 953.7,948.8 954.0,948.8 954.3,949.0 954.6,948.9 954.8,949.0 955.1,948.8 955.4,948.7 955.7,948.8 956.0,948.9 956.3,948.6 956.6,948.6 956.9,948.5 957.2,949.0 957.5,949.0 957.8,948.8 958.1,948.5 958.4,948.3 958.7,948.3 959.0,948.4 959.3,948.3 959.6,948.3 959.8,948.3 960.1,948.2 960.4,947.4 960.7,947.8 961.0,947.5 961.3,947.4 961.6,947.1 961.9,947.1 962.2,946.6 962.5,946.2 962.8,946.4 963.1,946.1 963.4,945.8 963.7,945.4 964.0,945.2 964.3,944.6 964.6,944.3 964.9,943.9 965.1,943.7 965.6,943.7 966.0,943.6 966.3,943.5 966.6,943.7 966.9,943.4 967.2,943.3 967.5,943.1 967.8,942.9 968.1,942.7 968.4,941.7 968.7,941.1 969.0,940.3 969.3,939.2 969.6,937.3 969.9,936.3 970.2,934.2 970.4,932.4 970.7,931.3 971.0,930.2 971.5,929.8 971.9,930.4 972.2,931.9 972.5,933.2 972.8,935.4 973.1,936.6 973.4,938.3 973.7,940.0 974.0,941.2 974.3,942.7 974.6,944.0 974.9,944.3 975.2,945.3 975.5,946.0 975.7,946.4 976.0,946.7 976.3,946.9 976.6,947.3 976.9,947.3 977.2,947.5 977.5,947.4 977.8,947.7 978.1,947.6 978.4,947.9 978.7,947.7 979.0,947.9 979.3,947.7 979.6,947.9 979.9,947.8 980.2,948.1 980.5,948.1 980.7,948.1 981.0,948.2 981.3,948.1 981.6,947.9 981.9,948.3 982.2,948.2 982.5,948.1 982.8,947.9 983.1,947.8 983.4,948.3 983.7,948.3 984.0,948.2 984.3,948.3 984.6,948.6 984.9,948.1 985.2,948.2 985.5,948.2 985.8,948.2 986.0,948.2 986.3,948.3 986.6,948.1 986.9,948.2 987.2,948.1 987.5,948.3 987.8,948.0 988.1,948.0 988.4,948.0 988.7,947.9 989.0,947.7 989.3,947.4 989.6,947.3 989.9,947.2 990.2,946.8 990.5,946.7 990.8,946.2 991.1,946.2 991.3,945.9 991.6,945.6 991.9,945.7 992.2,946.2 992.5,946.2 992.8,946.2 993.1,946.4 993.4,946.8 993.7,947.1 994.0,947.3 994.3,947.6 994.6,947.6 994.9,947.9 995.2,948.0 995.5,948.1 995.8,948.2 996.1,948.5 996.4,948.5 996.6,948.5 996.9,948.9 997.2,948.6 997.5,948.8 997.8,948.6 998.1,948.8 998.4,948.9 998.7,948.6 999.0,948.9 999.3,948.9 999.6,948.7 999.9,949.1 1000.2,948.8 1000.5,948.7 1000.8,949.0 1001.1,948.6 1001.4,948.8 1001.7,948.8 1001.9,948.9 1002.2,948.4 1002.5,948.3 1002.8,948.5 1003.1,948.3 1003.4,948.6 1003.7,948.2 1004.0,948.1 1004.3,948.3 1004.6,948.2 1004.9,948.3 1005.2,948.3 1005.5,948.4 1005.8,948.7 1006.1,948.4 1006.4,948.5 1006.7,948.6 1006.9,948.7 1007.2,948.7 1007.5,949.0 1007.8,949.4 1008.1,949.0 1008.4,949.2 1008.7,949.3 1009.0,949.0 1009.3,949.3 1009.6,949.3 1009.9,948.8 1010.2,949.2 1010.5,949.2 1010.8,949.1 1011.1,949.1 1011.4,949.2 1011.7,949.2 1012.0,949.3 1012.2,949.3 1012.5,949.3 1012.8,949.2 1013.1,949.2 1013.4,949.2 1013.7,949.5 1014.0,949.3 1014.3,949.2 1014.6,949.4 1014.9,949.3 1015.2,949.3 1015.5,949.2 1015.8,949.7 1016.1,949.3 1016.4,949.2 1016.7,949.2 1017.0,949.4 1017.3,949.4 1017.5,949.4 1017.8,949.3 1018.1,949.2 1018.4,949.4 1018.7,949.2 1019.0,949.3 1019.3,949.7 1019.6,949.4 1019.9,949.4 1020.2,949.5 1020.5,949.3 1020.8,949.4 1021.1,949.4 1021.4,949.4 1021.7,949.3 1022.0,949.4 1022.3,949.3 1022.6,949.6 1022.8,949.3 1023.1,949.4 1023.4,949.4 1023.7,949.2 1024.0,949.4 1024.3,949.7 1024.6,949.5 1024.9,949.3 1025.2,949.2 1025.5,949.3 1025.8,949.3 1026.1,949.0 1026.4,949.1 1026.7,949.2 1027.0,949.1 1027.3,948.8 1027.6,948.9 1027.8,948.8 1028.1,948.8 1028.4,948.7 1028.7,948.7 1029.0,948.7 1029.3,948.6 1029.6,948.4 1029.9,947.9 1030.2,947.9 1030.5,947.8 1030.8,947.5 1031.1,947.5 1031.4,946.7 1031.7,946.7 1032.0,945.7 1032.3,945.2 1032.6,944.3 1032.9,942.2 1033.1,940.2 1033.4,936.1 1033.7,929.9 1034.0,921.3 1034.3,908.7 1034.6,894.6 1034.9,878.8 1035.2,866.4 1035.5,860.9 1035.8,865.4 1036.1,878.7 1036.4,893.8 1036.7,909.1 1037.0,920.9 1037.3,929.8 1037.6,936.1 1037.9,940.2 1038.2,942.4 1038.4,944.2 1038.7,945.3 1039.0,945.9 1039.3,947.1 1039.6,947.3 1039.9,947.4 1040.2,947.8 1040.5,948.1 1040.8,948.5 1041.1,948.5 1041.4,948.4 1041.7,948.8 1042.0,949.0 1042.3,949.0 1042.6,948.9 1042.9,949.2 1043.2,949.5 1043.5,949.2 1043.7,949.4 1044.0,949.4 1044.3,949.7 1044.6,949.6 1044.9,949.5 1045.2,949.5 1045.5,949.3 1045.8,949.3 1046.1,949.3 1046.4,949.3 1046.7,949.3 1047.0,949.3 1047.3,949.2 1047.6,949.2 1047.9,949.1 1048.2,948.7 1048.5,949.0 1048.8,948.8 1049.0,948.6 1049.3,948.5 1049.6,948.6 1049.9,948.4 1050.2,948.6 1050.5,948.7 1050.8,948.8 1051.1,948.9 1051.4,948.5 1051.7,949.4 1052.0,949.0 1052.3,949.7 1052.6,949.6 1052.9,949.7 1053.2,949.7 1053.5,950.0 1053.8,950.2 1054.0,950.2 1054.3,950.2 1054.6,950.4 1054.9,950.2 1055.2,950.2 1055.5,950.5 1055.8,950.5 1056.1,950.2 1056.4,950.5 1056.7,950.4 1057.0,950.4 1057.3,950.5 1057.6,950.3 1057.9,950.4 1058.2,950.1 1058.5,950.5 1058.8,950.4 1059.1,950.5 1059.3,950.3 1059.6,950.7 1059.9,950.6 1060.2,950.5 1060.5,950.1 1060.8,950.2 1061.1,950.2 1061.4,950.5 1061.7,950.7 1062.0,950.3 1062.3,950.3 1062.6,950.6 1062.9,950.2 1063.2,950.1 1063.5,950.6 1063.8,950.4 1064.1,950.4 1064.4,950.4 1064.6,950.3 1064.9,950.3 1065.2,950.3 1065.5,949.9 1065.8,950.3 1066.1,950.4 1066.4,950.0 1066.7,950.0 1067.0,950.3 1067.3,950.2 1067.6,950.2 1067.9,950.4 1068.2,950.2 1068.5,949.9 1068.8,950.2 1069.1,950.0 1069.4,950.0 1069.7,950.0 1069.9,949.8 1070.2,949.8 1070.5,949.6 1070.8,949.7 1071.1,949.8 1071.4,949.5 1071.7,949.6 1072.0,949.6 1072.3,949.6 1072.6,949.6 1072.9,949.7 1073.2,949.4 1073.5,949.6 1073.8,949.5 1074.1,949.3 1074.4,949.3 1074.7,949.4 1074.9,949.1 1075.2,949.4 1075.5,948.9 1075.8,949.1 1076.1,949.2 1076.4,949.2 1076.7,949.0 1077.0,949.4 1077.3,949.0 1077.6,949.0 1077.9,948.8 1078.2,948.8 1078.5,948.9 1078.8,948.9 1079.1,949.1 1079.4,948.8 1079.7,949.0 1080.0,949.0 1080.2,948.5 1080.5,948.5 1080.8,948.7 1081.1,948.6 1081.4,948.3 1081.7,948.8 1082.0,948.4 1082.3,948.6 1082.6,948.4 1082.9,948.5 1083.2,948.2 1083.5,948.2 1083.8,948.4 1084.1,948.2 1084.4,948.2 1084.7,948.1 1085.0,948.4 1085.3,948.1 1085.5,948.2 1085.8,948.1 1086.1,948.4 1086.4,947.8 1086.7,948.1 1087.0,948.0 1087.3,948.2 1087.6,948.0 1087.9,947.9 1088.2,947.9 1088.5,948.1 1088.8,947.8 1089.1,947.9 1089.4,947.6 1089.7,947.9 1090.0,947.5 1090.3,947.9 1090.6,947.8 1090.8,947.5 1091.1,947.5 1091.4,947.5 1091.7,947.6 1092.0,947.5 1092.3,947.6 1092.6,947.2 1092.9,947.7 1093.2,947.5 1093.5,947.5 1093.8,947.2 1094.1,947.5 1094.4,947.1 1094.7,947.5 1095.0,947.4 1095.3,947.0 1095.6,947.0 1095.8,947.1 1096.1,946.7 1096.4,947.0 1096.7,947.0 1097.0,946.9 1097.3,946.5 1097.6,946.8 1097.9,946.3 1098.2,946.4 1098.5,946.4 1098.8,946.3 1099.1,946.2 1099.4,946.3 1099.7,946.7 1100.0,946.2 1100.3,946.2 1100.6,946.2 1100.9,946.2 1101.1,945.6 1101.4,945.5 1101.7,944.9 1102.0,944.5 1102.3,943.4 1102.6,942.6 1102.9,940.9 1103.2,939.1 1103.5,937.1 1103.8,934.7 1104.1,932.3 1104.4,931.0 1104.8,929.0 1105.3,930.6 1105.6,931.9 1105.9,934.1 1106.2,936.2 1106.4,938.1 1106.7,939.9 1107.0,940.7 1107.3,941.6 1107.6,942.2 1107.9,942.5 1108.2,942.7 1108.5,942.5 1108.8,942.1 1109.1,941.9 1109.4,941.4 1109.7,941.1 1110.0,940.8 1110.3,940.0 1110.6,940.2 1110.9,939.8 1111.2,939.2 1111.5,939.1 1111.7,939.2 1112.0,938.9 1112.3,939.3 1112.6,939.2 1112.9,939.3 1113.2,939.7 1113.5,940.4 1113.8,941.0 1114.1,941.6 1114.4,941.7 1114.7,942.6 1115.0,943.2 1115.3,943.5 1115.6,943.9 1115.9,944.6 1116.2,944.8 1116.5,945.7 1116.8,945.7 1117.0,946.0 1117.3,946.4 1117.6,946.6 1117.9,946.9 1118.2,947.0 1118.5,947.7 1118.8,947.6 1119.1,947.5 1119.4,947.9 1119.7,948.0 1120.0,947.6 1120.3,948.0 1120.6,948.1 1120.9,948.1 1121.2,948.0 1121.5,948.3 1121.8,948.5 1122.0,948.4 1122.3,948.2 1122.6,948.8 1122.9,948.6 1123.2,948.6 1123.5,948.6 1123.8,948.5 1124.1,948.6 1124.4,949.0 1124.7,948.8 1125.0,948.8 1125.3,948.8 1125.6,948.7 1125.9,948.9 1126.2,949.0 1126.5,948.9 1126.8,948.9 1127.1,948.9 1127.3,949.3 1127.6,949.2 1127.9,949.1 1128.2,948.9 1128.5,949.1 1128.8,949.0 1129.1,948.8 1129.4,949.1 1129.7,949.1 1130.0,949.1 1130.3,949.0 1130.6,949.0 1130.9,949.2 1131.2,949.0 1131.5,949.1 1131.8,949.2 1132.1,949.0 1132.4,948.8 1132.6,949.3 1132.9,949.3 1133.2,949.2 1133.5,949.2 1133.8,949.1 1134.1,949.2 1134.4,949.2 1134.7,949.0 1135.0,949.0 1135.3,949.5 1135.6,949.1 1135.9,949.2 1136.2,949.1 1136.5,949.2 1136.8,949.2 1137.1,949.2 1137.4,949.3 1137.7,949.2 1137.9,949.1 1138.2,949.2 1138.5,949.2 1138.8,949.0 1139.1,949.1 1139.4,949.4 1139.7,949.4 1140.0,949.3 1140.3,949.2 1140.6,949.1 1140.9,949.5 1141.2,949.1 1141.5,949.3 1141.8,949.2 1142.1,949.1 1142.4,949.2 1142.7,949.3 1142.9,949.1 1143.2,949.1 1143.5,949.5 1143.8,949.5 1144.1,949.5 1144.4,949.3 1144.7,949.3 1145.0,949.3 1145.3,949.4 1145.6,949.4 1145.9,949.2 1146.2,949.3 1146.5,949.3 1146.8,949.2 1147.1,949.1 1147.4,949.0 1147.7,949.4 1148.0,949.1 1148.2,949.3 1148.5,949.3 1148.8,949.2 1149.1,949.4 1149.4,949.4 1149.7,949.2 1150.0,949.2 1150.3,949.1 1150.6,949.2 1150.9,949.3 1151.2,949.4 1151.5,949.3 1151.8,949.6 1152.1,949.2 1152.4,949.3 1152.7,949.4 1153.0,949.3 1153.3,949.3 1153.5,949.5 1153.8,949.2 1154.1,949.7 1154.4,949.1 1154.7,949.4 1155.0,949.3 1155.3,949.4 1155.6,949.4 1155.9,949.2 1156.2,949.5 1156.5,949.4 1156.8,949.3 1157.1,949.5 1157.4,949.2 1157.7,949.5 1158.0,949.2 1158.3,949.4 1158.6,949.1 1158.8,949.4 1159.1,949.5 1159.4,949.2 1159.7,949.2 1160.0,949.2 1160.3,949.6 1160.6,949.5 1160.9,949.2 1161.2,949.3 1161.5,949.4 1161.8,949.4 1162.1,949.3 1162.4,949.7 1162.7,949.5 1163.0,949.5 1163.3,949.2 1163.6,949.4 1163.9,949.7 1164.1,949.4 1164.4,949.4 1164.7,949.4 1165.0,949.6 1165.3,949.5 1165.6,949.3 1165.9,949.4 1166.2,949.2 1166.5,949.1 1166.8,949.4 1167.1,949.6 1167.4,949.5 1167.7,949.3 1168.0,949.2 1168.3,949.3 1168.6,949.3 1168.9,949.2 1169.1,949.1 1169.4,949.2 1169.7,949.3 1170.0,949.3 1170.3,949.2 1170.6,949.3 1170.9,949.4 1171.2,949.0 1171.5,949.2 1171.8,949.3 1172.1,949.1 1172.4,949.3 1172.7,949.2 1173.0,949.3 1173.3,949.2 1173.6,949.1 1173.9,948.9 1174.2,948.9 1174.4,948.7 1174.7,948.7 1175.0,948.7 1175.3,948.3 1175.6,948.5 1175.9,948.3 1176.2,947.6 1176.5,947.7 1176.8,947.4 1177.1,946.6 1177.4,946.7 1177.7,945.5 1178.0,944.6 1178.3,942.7 1178.6,939.8 1178.9,935.0 1179.2,928.7 1179.5,921.6 1179.7,914.6 1180.2,908.9 1180.6,914.2 1180.9,921.1 1181.2,928.7"/></defs>
<g fill="none" stroke="#00f" stroke-linejoin="round" stroke-linecap="round"><use href="#c1" stroke-width="5"/><use href="#c1" stroke-width="6.7" shape-rendering="crispEdges"/></g>
<g class="tl" text-anchor="end">
<text x="208.5" y="1100.3">-20,000</text>
<text x="208.5" y="964.0">0</text>
<text x="208.5" y="827.7">20,000</text>
<text x="208.5" y="691.5">40,000</text>
<text x="208.5" y="555.2">60,000</text>
<text x="208.5" y="418.9">80,000</text>
<text x="208.5" y="282.6">100,000</text>
<text x="208.5" y="146.4">120,000</text>
</g>
<g class="tl" text-anchor="middle">
<text x="298.1" y="1135.3">0</text>
<text x="445.3" y="1135.3">10</text>
<text x="592.5" y="1135.3">20</text>
<text x="739.7" y="1135.3">30</text>
<text x="886.8" y="1135.3">40</text>
<text x="1034.0" y="1135.3">50</text>
<text x="1181.2" y="1135.3">60</text>
<text x="1328.4" y="1135.3">70</text>
</g>
<text class="ax" text-anchor="middle" x="775.6" y="1198.0">2Th Degrees</text>
<text class="ax" text-anchor="middle" transform="translate(82.8,590) rotate(-90)">Counts</text>
</g>
<text class="cap" y="1381.5"><tspan x="708.8">(</tspan><tspan class="b" text-anchor="middle" x="756">1</tspan><tspan x="775.8">)</tspan></text>
<g transform="translate(1734,0)">
<path d="M44 49H1473V1243H44Z M52 56V1236H1465V56Z" fill="#000" fill-rule="evenodd"/>
<path d="M294.3 1091.0 v-15.0 M294.3 103.0 v15.0 M432.8 1091.0 v-15.0 M432.8 103.0 v15.0 M571.3 1091.0 v-15.0 M571.3 103.0 v15.0 M709.9 1091.0 v-15.0 M709.9 103.0 v15.0 M848.4 1091.0 v-15.0 M848.4 103.0 v15.0 M986.9 1091.0 v-15.0 M986.9 103.0 v15.0 M1125.4 1091.0 v-15.0 M1125.4 103.0 v15.0 M1264.0 1091.0 v-15.0 M1264.0 103.0 v15.0 M363.5 1091.0 v-8.0 M363.5 103.0 v8.0 M502.1 1091.0 v-8.0 M502.1 103.0 v8.0 M640.6 1091.0 v-8.0 M640.6 103.0 v8.0 M779.1 1091.0 v-8.0 M779.1 103.0 v8.0 M917.6 1091.0 v-8.0 M917.6 103.0 v8.0 M1056.2 1091.0 v-8.0 M1056.2 103.0 v8.0 M1194.7 1091.0 v-8.0 M1194.7 103.0 v8.0 M1333.2 1091.0 v-8.0 M1333.2 103.0 v8.0 M225.0 1039.0 h8.0 M1402.5 1039.0 h-8.0 M225.0 987.0 h15.0 M1402.5 987.0 h-15.0 M225.0 935.0 h8.0 M1402.5 935.0 h-8.0 M225.0 883.0 h15.0 M1402.5 883.0 h-15.0 M225.0 831.0 h8.0 M1402.5 831.0 h-8.0 M225.0 779.0 h15.0 M1402.5 779.0 h-15.0 M225.0 727.0 h8.0 M1402.5 727.0 h-8.0 M225.0 675.0 h15.0 M1402.5 675.0 h-15.0 M225.0 623.0 h8.0 M1402.5 623.0 h-8.0 M225.0 571.0 h15.0 M1402.5 571.0 h-15.0 M225.0 519.0 h8.0 M1402.5 519.0 h-8.0 M225.0 467.0 h15.0 M1402.5 467.0 h-15.0 M225.0 415.0 h8.0 M1402.5 415.0 h-8.0 M225.0 363.0 h15.0 M1402.5 363.0 h-15.0 M225.0 311.0 h8.0 M1402.5 311.0 h-8.0 M225.0 259.0 h15.0 M1402.5 259.0 h-15.0 M225.0 207.0 h8.0 M1402.5 207.0 h-8.0 M225.0 155.0 h15.0 M1402.5 155.0 h-15.0" stroke="#000" stroke-width="4" fill="none" shape-rendering="crispEdges"/>
<path d="M223 101H1404V1093H223Z M227 105V1089H1401V105Z" fill="#000" fill-rule="evenodd"/>
<defs><polyline id="c2" points="363.5,965.0 363.8,965.5 364.1,965.3 364.4,965.4 364.6,965.3 364.9,965.7 365.2,965.5 365.5,965.6 365.7,965.7 366.0,965.6 366.3,965.6 366.6,965.5 366.9,965.7 367.1,965.4 367.4,965.6 367.7,966.1 368.0,965.3 368.2,965.6 368.5,965.7 368.8,965.5 369.1,965.5 369.3,965.5 369.6,965.7 369.9,965.5 370.2,965.9 370.5,965.3 370.7,965.8 371.0,965.6 371.3,965.6 371.6,965.5 371.8,965.6 372.1,965.5 372.4,966.3 372.7,965.7 372.9,965.7 373.2,965.7 373.5,965.3 373.8,965.8 374.1,965.7 374.3,966.0 374.6,965.6 374.9,966.0 375.2,966.0 375.4,965.2 375.7,965.6 376.0,965.7 376.3,965.7 376.6,966.0 376.8,966.0 377.1,965.7 377.4,966.2 377.7,965.7 377.9,966.1 378.2,965.8 378.5,966.0 378.8,965.3 379.0,965.4 379.3,965.5 379.6,965.6 379.9,965.2 380.2,964.7 380.4,964.6 380.7,964.0 381.0,963.6 381.4,963.6 381.8,963.9 382.1,964.3 382.4,964.4 382.6,965.1 382.9,965.2 383.2,965.7 383.5,965.6 383.8,966.2 384.0,966.5 384.3,966.4 384.6,966.7 384.9,966.8 385.1,966.7 385.4,966.6 385.7,967.2 386.0,966.8 386.2,966.9 386.5,966.9 386.8,966.7 387.1,967.2 387.4,966.8 387.6,966.9 387.9,966.8 388.2,966.9 388.5,966.9 388.7,966.9 389.0,966.7 389.3,966.3 389.6,966.5 389.9,966.5 390.1,966.5 390.4,966.7 390.7,966.4 391.0,966.1 391.2,966.7 391.5,966.3 391.8,966.2 392.1,966.3 392.3,966.2 392.6,966.0 392.9,965.8 393.2,966.0 393.5,965.8 393.7,966.1 394.0,965.9 394.3,966.0 394.6,965.9 394.8,966.1 395.1,965.8 395.4,965.6 395.7,965.9 395.9,965.8 396.2,965.7 396.5,965.7 396.8,965.5 397.1,965.6 397.3,965.9 397.6,965.8 397.9,965.4 398.2,965.4 398.4,965.3 398.7,965.4 399.0,965.4 399.3,965.7 399.5,965.1 399.8,965.5 400.1,965.1 400.4,965.4 400.7,965.3 400.9,965.0 401.2,965.1 401.5,965.1 401.8,964.7 402.0,964.6 402.3,964.6 402.6,964.6 402.9,964.6 403.1,964.5 403.4,964.4 403.7,964.2 404.0,963.9 404.3,964.0 404.5,964.1 404.8,963.9 405.1,963.4 405.4,963.6 405.6,963.4 405.9,963.3 406.2,963.2 406.5,963.1 406.8,962.8 407.0,962.8 407.3,963.4 407.6,962.8 407.9,962.1 408.1,962.8 408.4,962.4 408.7,962.1 409.0,962.3 409.2,961.9 409.5,962.3 409.8,962.2 410.1,961.9 410.4,962.0 410.6,961.9 410.9,961.5 411.2,961.5 411.5,961.5 411.7,961.5 412.0,961.3 412.3,961.3 412.6,961.4 412.8,961.0 413.1,961.0 413.4,961.0 413.7,960.7 414.0,961.0 414.2,960.7 414.5,960.6 414.8,960.0 415.1,959.8 415.3,959.0 415.6,958.6 415.9,958.4 416.2,957.6 416.4,956.1 416.7,955.0 417.0,954.1 417.3,954.0 417.6,955.3 417.8,956.9 418.1,959.2 418.4,961.2 418.7,963.1 418.9,964.8 419.2,966.2 419.5,966.7 419.8,967.4 420.0,967.9 420.3,968.1 420.6,968.4 420.9,968.2 421.2,968.5 421.4,968.4 421.7,968.5 422.0,968.5 422.3,968.9 422.5,968.5 422.8,968.7 423.1,968.9 423.4,968.7 423.7,968.7 423.9,968.6 424.2,968.7 424.5,968.8 424.8,969.2 425.0,968.6 425.3,968.7 425.6,968.8 425.9,968.9 426.1,968.8 426.4,969.2 426.7,968.9 427.0,969.1 427.3,969.3 427.5,969.0 427.8,969.1 428.1,968.8 428.4,969.0 428.6,969.5 428.9,969.6 429.2,969.2 429.5,969.3 429.7,969.4 430.0,969.5 430.3,969.3 430.6,969.5 430.9,969.5 431.1,969.2 431.4,969.3 431.7,969.5 432.0,969.6 432.2,969.5 432.5,969.1 432.8,969.6 433.1,969.2 433.3,969.7 433.6,969.6 433.9,969.4 434.2,969.7 434.5,969.6 434.7,969.9 435.0,969.5 435.3,969.4 435.6,969.8 435.8,969.7 436.1,969.8 436.4,970.1 436.7,969.3 437.0,969.7 437.2,969.6 437.5,969.7 437.8,969.8 438.1,969.4 438.3,970.2 438.6,970.0 438.9,970.0 439.2,970.0 439.4,969.8 439.7,970.1 440.0,970.2 440.3,970.2 440.6,969.9 440.8,969.9 441.1,969.9 441.4,969.8 441.7,970.2 441.9,969.9 442.2,970.0 442.5,970.2 442.8,970.3 443.0,970.0 443.3,970.3 443.6,970.3 443.9,970.4 444.2,970.0 444.4,970.3 444.7,970.4 445.0,970.4 445.3,970.4 445.5,970.3 445.8,970.7 446.1,970.6 446.4,970.3 446.6,970.2 446.9,970.6 447.2,970.4 447.5,970.6 447.8,970.9 448.0,970.5 448.3,970.7 448.6,970.4 448.9,970.6 449.1,970.5 449.4,970.8 449.7,970.5 450.0,970.9 450.2,970.5 450.5,970.4 450.8,970.8 451.1,970.5 451.4,970.4 451.6,970.7 451.9,970.4 452.2,970.6 452.5,970.7 452.7,971.0 453.0,970.8 453.3,970.9 453.6,970.2 453.9,970.6 454.1,970.7 454.4,970.9 454.7,970.4 455.0,970.9 455.2,970.3 455.5,970.3 455.8,970.4 456.1,970.5 456.3,970.3 456.6,970.4 456.9,970.0 457.2,969.7 457.5,969.7 457.7,969.6 458.0,969.8 458.3,969.5 458.6,969.6 458.8,969.4 459.1,969.1 459.4,968.6 459.7,968.9 459.9,968.8 460.2,969.0 460.5,968.4 460.8,968.4 461.1,968.2 461.3,968.0 461.6,967.4 461.9,967.1 462.2,966.6 462.4,966.4 462.7,965.9 463.0,965.0 463.3,964.4 463.5,963.6 463.8,962.6 464.1,961.9 464.4,961.1 464.7,959.9 464.9,958.9 465.2,957.4 465.5,956.5 465.8,955.5 466.0,954.8 466.5,954.8 466.9,955.5 467.1,956.1 467.4,956.9 467.7,958.4 468.0,959.5 468.3,961.1 468.5,962.6 468.8,963.7 469.1,965.2 469.4,965.7 469.6,966.9 469.9,967.4 470.2,968.7 470.5,969.0 470.8,969.5 471.0,970.1 471.3,970.4 471.6,970.9 471.9,971.2 472.1,971.5 472.4,971.6 472.7,971.9 473.0,971.9 473.2,972.3 473.5,972.5 473.8,972.7 474.1,973.1 474.4,973.0 474.6,973.1 474.9,973.5 475.2,973.5 475.5,973.5 475.7,973.9 476.0,973.9 476.3,974.1 476.6,973.8 476.8,974.1 477.1,974.2 477.4,974.6 477.7,974.4 478.0,974.6 478.2,974.5 478.5,974.7 478.8,974.7 479.1,974.9 479.3,974.7 479.6,974.5 479.9,975.1 480.2,975.1 480.4,974.9 480.7,974.9 481.0,975.1 481.3,975.0 481.6,975.1 481.8,975.2 482.1,975.1 482.4,975.4 482.7,975.3 482.9,975.4 483.2,975.6 483.5,975.5 483.8,975.8 484.1,975.9 484.3,975.5 484.6,975.9 484.9,975.5 485.2,975.7 485.4,976.0 485.7,976.1 486.0,976.3 486.3,976.0 486.5,976.3 486.8,975.8 487.1,976.4 487.4,976.1 487.7,976.6 487.9,976.3 488.2,976.0 488.5,976.4 488.8,976.4 489.0,976.4 489.3,976.3 489.6,976.3 489.9,976.5 490.1,976.8 490.4,976.5 490.7,976.5 491.0,976.3 491.3,976.7 491.5,976.7 491.8,976.9 492.1,976.8 492.4,976.6 492.6,977.1 492.9,977.0 493.2,977.2 493.5,977.2 493.7,977.2 494.0,977.2 494.3,977.4 494.6,977.4 494.9,977.2 495.1,977.4 495.4,977.4 495.7,977.5 496.0,977.7 496.2,977.7 496.5,977.7 496.8,977.8 497.1,977.7 497.3,978.0 497.6,977.9 497.9,978.1 498.2,978.0 498.5,978.3 498.7,978.3 499.0,978.5 499.3,978.2 499.6,978.4 499.8,978.5 500.1,978.5 500.4,978.7 500.7,978.6 501.0,978.8 501.2,979.0 501.5,978.9 501.8,979.0 502.1,978.7 502.3,979.1 502.6,979.1 502.9,978.9 503.2,979.1 503.4,979.4 503.7,979.2 504.0,979.4 504.3,979.1 504.6,979.5 504.8,979.5 505.1,979.8 505.4,979.6 505.7,979.2 505.9,979.6 506.2,979.7 506.5,979.5 506.8,979.6 507.0,979.6 507.3,979.3 507.6,979.4 507.9,979.4 508.2,979.4 508.4,979.8 508.7,980.0 509.0,979.6 509.3,979.7 509.5,979.8 509.8,979.8 510.1,979.7 510.4,979.7 510.6,979.8 510.9,979.8 511.2,979.9 511.5,979.9 511.8,979.7 512.0,980.0 512.3,979.7 512.6,979.9 512.9,980.0 513.1,979.9 513.4,980.1 513.7,980.1 514.0,980.1 514.2,980.1 514.5,980.0 514.8,979.9 515.1,980.1 515.4,980.3 515.6,980.3 515.9,980.5 516.2,980.2 516.5,980.2 516.7,980.3 517.0,980.3 517.3,980.3 517.6,980.3 517.9,980.3 518.1,980.4 518.4,980.6 518.7,980.3 519.0,980.3 519.2,980.7 519.5,980.6 519.8,980.7 520.1,980.5 520.3,980.7 520.6,980.4 520.9,980.5 521.2,980.7 521.5,980.8 521.7,980.8 522.0,980.7 522.3,980.9 522.6,980.7 522.8,981.0 523.1,980.7 523.4,980.8 523.7,981.1 523.9,981.0 524.2,980.9 524.5,980.9 524.8,981.4 525.1,981.0 525.3,980.8 525.6,981.1 525.9,981.2 526.2,980.9 526.4,981.1 526.7,981.1 527.0,981.1 527.3,981.3 527.5,981.3 527.8,981.4 528.1,981.4 528.4,981.3 528.7,981.4 528.9,981.1 529.2,981.2 529.5,981.2 529.8,981.5 530.0,981.4 530.3,981.4 530.6,981.3 530.9,981.3 531.2,981.5 531.4,981.5 531.7,981.3 532.0,981.1 532.3,981.2 532.5,981.5 532.8,981.5 533.1,981.4 533.4,981.4 533.6,981.2 533.9,981.4 534.2,981.5 534.5,981.3 534.8,981.5 535.0,981.5 535.3,981.3 535.6,981.4 535.9,981.4 536.1,981.3 536.4,981.3 536.7,981.2 537.0,981.2 537.2,981.0 537.5,981.0 537.8,980.9 538.1,980.6 538.4,980.7 538.6,980.3 538.9,980.2 539.2,980.2 539.5,980.0 539.7,980.1 540.0,979.7 540.4,979.7 540.8,979.9 541.1,980.0 541.4,979.9 541.7,980.2 542.0,980.3 542.2,980.4 542.5,980.4 542.8,980.7 543.1,980.7 543.3,981.0 543.6,981.1 543.9,981.0 544.2,981.0 544.4,981.1 544.7,981.3 545.0,981.4 545.3,981.4 545.6,981.2 545.8,981.4 546.1,981.4 546.4,981.2 546.7,981.3 546.9,981.4 547.2,981.1 547.5,981.3 547.8,981.3 548.1,981.2 548.3,981.4 548.6,981.3 548.9,981.4 549.2,981.5 549.4,981.5 549.7,981.3 550.0,981.3 550.3,981.4 550.5,981.4 550.8,981.4 551.1,981.2 551.4,981.2 551.7,981.4 551.9,981.3 552.2,981.6 552.5,981.5 552.8,981.4 553.0,981.4 553.3,981.2 553.6,981.6 553.9,981.2 554.1,981.2 554.4,981.0 554.7,981.3 555.0,981.2 555.3,981.0 555.5,981.1 555.8,981.3 556.1,981.2 556.4,981.3 556.6,981.2 556.9,981.1 557.2,981.0 557.5,981.1 557.7,981.0 558.0,981.0 558.3,981.2 558.6,981.0 558.9,980.9 559.1,981.0 559.4,981.1 559.7,980.9 560.0,980.9 560.2,980.7 560.5,981.0 560.8,980.7 561.1,980.4 561.3,980.4 561.6,980.5 561.9,980.4 562.2,980.3 562.5,980.2 562.7,980.0 563.0,979.7 563.3,979.6 563.6,979.2 563.8,978.8 564.1,978.7 564.4,978.2 564.7,977.9 565.0,977.1 565.2,976.4 565.5,975.9 565.8,975.0 566.1,974.1 566.3,973.2 566.6,972.5 566.9,971.3 567.2,970.5 567.4,969.5 567.7,967.9 568.0,967.0 568.3,966.0 568.6,965.3 568.8,965.0 569.2,964.5 569.7,964.5 569.9,965.1 570.2,965.3 570.5,966.7 570.8,967.0 571.0,968.0 571.3,968.6 571.6,969.4 571.9,970.5 572.2,970.9 572.4,971.6 572.7,972.6 573.0,972.5 573.3,973.5 573.5,973.8 573.8,973.7 574.1,974.1 574.4,974.1 574.6,974.2 574.9,974.4 575.2,974.0 575.5,974.3 575.8,974.2 576.0,974.6 576.3,974.6 576.6,975.0 576.9,975.1 577.1,975.4 577.4,975.6 577.7,975.6 578.0,975.7 578.2,975.6 578.5,975.6 578.8,975.6 579.1,975.2 579.4,975.1 579.6,974.6 579.9,974.6 580.2,974.1 580.5,973.5 580.7,972.3 581.0,970.8 581.3,968.1 581.6,963.4 581.9,956.6 582.1,946.5 582.4,932.2 582.7,915.6 583.0,899.0 583.4,886.3 583.8,899.1 584.1,915.7 584.3,932.5 584.6,946.6 584.9,957.3 585.2,964.6 585.5,968.9 585.7,971.7 586.0,973.4 586.3,974.7 586.6,975.3 586.8,976.2 587.1,976.2 587.4,976.7 587.7,977.0 587.9,977.5 588.2,977.6 588.5,977.7 588.8,978.1 589.1,978.3 589.3,978.3 589.6,978.8 589.9,978.4 590.2,978.6 590.4,978.9 590.7,978.7 591.0,978.7 591.3,978.8 591.5,978.8 591.8,978.8 592.1,979.0 592.4,978.8 592.7,979.1 592.9,979.2 593.2,979.2 593.5,979.3 593.8,979.1 594.0,979.3 594.3,979.2 594.6,979.2 594.9,979.0 595.2,979.0 595.4,979.3 595.7,979.3 596.0,979.3 596.3,979.3 596.5,978.9 596.8,978.9 597.1,979.0 597.4,979.0 597.6,978.7 597.9,978.2 598.2,977.6 598.5,977.6 598.8,976.7 599.0,976.6 599.3,975.9 599.7,975.7 600.1,976.2 600.4,976.5 600.7,977.4 601.0,977.4 601.2,978.0 601.5,978.6 601.8,979.0 602.1,979.0 602.4,979.2 602.6,979.6 602.9,979.4 603.2,979.5 603.5,979.7 603.7,979.7 604.0,980.0 604.3,979.6 604.6,979.6 604.8,979.8 605.1,979.9 605.4,979.9 605.7,979.9 606.0,980.0 606.2,979.8 606.5,980.0 606.8,979.8 607.1,979.8 607.3,980.1 607.6,980.1 607.9,980.4 608.2,980.0 608.4,980.0 608.7,980.1 609.0,979.9 609.3,980.1 609.6,980.2 609.8,979.9 610.1,980.0 610.4,980.3 610.7,980.2 610.9,980.2 611.2,980.1 611.5,980.0 611.8,980.1 612.1,980.1 612.3,980.0 612.6,980.1 612.9,980.2 613.2,980.2 613.4,979.9 613.7,979.8 614.0,980.0 614.3,979.9 614.5,980.0 614.8,980.0 615.1,979.7 615.4,979.9 615.7,979.7 615.9,979.7 616.2,979.5 616.5,979.6 616.8,979.6 617.0,979.5 617.3,979.5 617.6,979.1 617.9,978.9 618.1,979.2 618.4,978.7 618.7,978.8 619.0,978.6 619.3,978.3 619.5,978.1 619.8,977.9 620.1,977.7 620.4,977.1 620.6,977.4 621.1,977.1 621.5,977.2 621.7,977.3 622.0,977.3 622.3,977.7 622.6,977.6 622.9,977.8 623.1,977.7 623.4,978.0 623.7,978.2 624.0,978.3 624.2,978.1 624.5,978.4 624.8,978.5 625.1,978.5 625.4,978.5 625.6,978.3 625.9,978.6 626.2,978.5 626.5,978.3 626.7,978.4 627.0,978.1 627.3,978.2 627.6,977.9 627.8,977.8 628.1,977.6 628.4,977.4 628.7,977.6 629.0,977.5 629.2,977.4 629.5,977.0 629.8,976.9 630.1,976.9 630.3,976.8 630.6,976.8 630.9,976.6 631.2,976.7 631.4,976.9 631.7,976.9 632.0,977.3 632.3,977.0 632.6,976.9 632.8,977.3 633.1,977.4 633.4,977.2 633.7,977.4 633.9,977.4 634.2,977.3 634.5,977.4 634.8,977.2 635.0,977.5 635.3,977.5 635.6,976.9 635.9,976.8 636.2,976.6 636.4,976.3 636.7,975.9 637.0,975.3 637.3,975.0 637.5,974.1 637.8,973.5 638.1,972.3 638.4,971.8 638.6,971.2 638.9,970.7 639.2,970.7 639.5,970.6 639.8,971.0 640.0,971.9 640.3,972.5 640.6,973.1 640.9,973.9 641.1,974.5 641.4,975.1 641.7,975.4 642.0,975.6 642.3,976.3 642.5,976.0 642.8,976.1 643.1,976.1 643.4,975.6 643.6,975.3 643.9,975.3 644.2,975.1 644.5,974.4 644.7,973.9 645.0,973.8 645.3,972.6 645.6,971.2 645.9,970.6 646.1,969.4 646.4,968.1 646.7,966.4 647.0,965.6 647.2,964.5 647.5,963.6 647.8,963.6 648.1,963.8 648.3,964.5 648.6,965.6 648.9,966.8 649.2,967.6 649.5,969.3 649.7,970.1 650.0,971.1 650.3,972.0 650.6,973.1 650.8,973.8 651.1,974.2 651.4,974.4 651.7,974.9 651.9,975.1 652.2,975.4 652.5,975.3 652.8,975.8 653.1,975.8 653.3,975.3 653.6,975.5 653.9,975.4 654.2,975.8 654.4,975.5 654.7,975.4 655.0,975.3 655.3,974.9 655.5,975.1 655.8,974.9 656.1,974.8 656.4,974.6 656.7,974.3 656.9,974.0 657.2,973.6 657.5,973.7 657.8,973.0 658.0,972.6 658.3,972.4 658.6,971.5 658.9,971.1 659.2,970.3 659.4,969.3 659.7,968.1 660.0,967.1 660.3,965.3 660.5,963.6 660.8,961.5 661.1,958.2 661.4,954.3 661.6,948.7 661.9,939.6 662.2,924.2 662.5,898.9 662.8,857.2 663.0,793.4 663.3,709.0 663.6,608.9 663.9,520.6 664.1,484.5 664.4,522.4 664.7,610.1 665.0,708.8 665.2,794.0 665.5,857.6 665.8,899.2 666.1,925.1 666.4,939.8 666.6,948.7 666.9,954.5 667.2,958.7 667.5,961.5 667.7,964.3 668.0,966.0 668.3,967.5 668.6,968.5 668.8,969.9 669.1,970.6 669.4,971.2 669.7,971.7 670.0,972.3 670.2,973.2 670.5,973.4 670.8,973.7 671.1,973.9 671.3,974.1 671.6,974.2 671.9,974.2 672.2,974.2 672.5,973.4 672.7,972.9 673.0,972.1 673.3,970.4 673.6,969.1 673.8,967.4 674.1,965.2 674.4,963.5 674.7,962.1 674.9,961.8 675.2,962.5 675.5,963.7 675.8,965.8 676.1,967.7 676.3,969.9 676.6,971.9 676.9,973.4 677.2,974.3 677.4,975.1 677.7,976.0 678.0,976.1 678.3,976.5 678.5,976.5 678.8,976.6 679.1,976.4 679.4,976.0 679.7,975.4 679.9,974.5 680.2,973.3 680.5,971.9 680.8,970.0 681.0,968.8 681.3,967.1 681.6,965.9 681.9,965.5 682.1,965.9 682.4,967.5 682.7,969.2 683.0,970.7 683.3,972.4 683.5,974.0 683.8,975.2 684.1,976.6 684.4,976.9 684.6,977.7 684.9,977.8 685.2,978.4 685.5,978.9 685.7,979.2 686.0,979.3 686.3,979.4 686.6,979.5 686.9,979.7 687.1,979.9 687.4,979.7 687.7,979.8 688.0,979.9 688.2,979.9 688.5,980.0 688.8,980.3 689.1,980.2 689.4,980.2 689.6,980.2 689.9,980.0 690.2,980.3 690.5,980.3 690.7,980.7 691.0,980.3 691.3,980.6 691.6,980.5 691.8,980.8 692.1,980.7 692.4,980.7 692.7,980.8 693.0,980.9 693.2,981.0 693.5,981.1 693.8,981.0 694.1,981.1 694.3,981.1 694.6,981.3 694.9,981.3 695.2,981.2 695.4,981.2 695.7,981.4 696.0,981.5 696.3,981.4 696.6,981.3 696.8,981.4 697.1,981.3 697.4,981.4 697.7,981.5 697.9,981.7 698.2,981.3 698.5,981.4 698.8,981.5 699.0,981.4 699.3,981.6 699.6,981.3 699.9,981.3 700.2,981.3 700.4,981.5 700.7,981.3 701.0,981.4 701.3,981.3 701.5,981.7 701.8,981.4 702.1,981.3 702.4,981.5 702.6,981.4 702.9,981.5 703.2,981.3 703.5,981.5 703.8,981.5 704.0,981.6 704.3,981.2 704.6,981.6 704.9,981.6 705.1,981.5 705.4,981.4 705.7,981.4 706.0,981.3 706.3,981.1 706.5,981.2 706.8,981.4 707.1,981.2 707.4,981.2 707.6,981.0 707.9,980.9 708.2,980.7 708.5,980.7 708.7,980.4 709.0,980.6 709.3,980.2 709.6,980.1 709.9,980.1 710.1,980.1 710.4,979.8 710.7,979.5 711.0,979.3 711.2,979.6 711.5,979.4 711.8,979.3 712.1,979.5 712.3,979.3 712.6,979.5 712.9,979.6 713.2,979.7 713.5,979.9 713.7,979.9 714.0,980.3 714.3,980.5 714.6,980.6 714.8,980.7 715.1,980.7 715.4,981.1 715.7,981.2 715.9,981.3 716.2,981.4 716.5,981.6 716.8,981.4 717.1,981.4 717.3,981.5 717.6,981.7 717.9,981.5 718.2,981.6 718.4,981.7 718.7,981.6 719.0,981.7 719.3,981.7 719.6,981.7 719.8,981.9 720.1,981.8 720.4,981.8 720.7,981.7 720.9,982.0 721.2,981.7 721.5,981.7 721.8,981.7 722.0,981.5 722.3,981.7 722.6,981.4 722.9,981.5 723.2,981.4 723.4,981.0 723.7,981.1 724.0,980.9 724.3,980.9 724.5,980.9 724.8,980.9 725.1,980.8 725.4,981.0 725.6,981.0 725.9,981.0 726.2,980.9 726.5,981.1 726.8,981.2 727.0,981.6 727.3,981.7 727.6,981.6 727.9,981.7 728.1,982.0 728.4,981.8 728.7,982.0 729.0,982.0 729.2,982.1 729.5,982.0 729.8,982.0 730.1,982.0 730.4,982.3 730.6,982.2 730.9,982.0 731.2,982.2 731.5,982.2 731.7,982.3 732.0,982.4 732.3,982.1 732.6,982.1 732.8,982.4 733.1,982.3 733.4,982.1 733.7,982.3 734.0,982.3 734.2,982.2 734.5,982.2 734.8,982.5 735.1,982.4 735.3,982.0 735.6,982.2 735.9,982.1 736.2,982.1 736.5,981.7 736.7,982.0 737.0,981.7 737.3,981.7 737.6,981.5 737.8,981.6 738.1,981.4 738.5,981.3 738.9,981.4 739.2,981.5 739.5,981.9 739.8,981.8 740.1,982.0 740.3,982.1 740.6,982.3 740.9,982.4 741.2,982.5 741.4,982.5 741.7,982.7 742.0,982.9 742.3,983.1 742.5,983.0 742.8,982.9 743.1,983.1 743.4,983.1 743.7,982.8 743.9,983.1 744.2,983.1 744.5,983.1 744.8,983.1 745.0,983.2 745.3,983.2 745.6,983.4 745.9,983.2 746.1,983.2 746.4,983.4 746.7,983.2 747.0,983.1 747.3,983.6 747.5,983.3 747.8,983.2 748.1,983.3 748.4,983.4 748.6,983.4 748.9,983.4 749.2,983.3 749.5,983.5 749.7,983.6 750.0,983.4 750.3,983.5 750.6,983.2 750.9,983.6 751.1,983.4 751.4,983.5 751.7,983.6 752.0,983.5 752.2,983.7 752.5,983.4 752.8,983.6 753.1,983.6 753.4,983.6 753.6,983.3 753.9,983.4 754.2,983.6 754.5,983.5 754.7,983.4 755.0,983.4 755.3,983.4 755.6,983.7 755.8,983.2 756.1,983.4 756.4,983.3 756.7,983.5 757.0,983.3 757.2,983.2 757.5,983.3 757.8,983.5 758.1,983.4 758.3,983.2 758.6,983.5 758.9,983.3 759.2,983.4 759.4,983.5 759.7,983.2 760.0,983.2 760.3,983.2 760.6,983.3 760.8,983.2 761.1,983.5 761.4,983.3 761.7,983.1 761.9,983.2 762.2,983.1 762.5,983.2 762.8,983.2 763.0,983.3 763.3,983.1 763.6,983.1 763.9,983.2 764.2,983.1 764.4,983.1 764.7,983.0 765.0,982.9 765.3,982.8 765.5,983.2 765.8,982.8 766.1,982.7 766.4,982.9 766.7,982.7 766.9,982.3 767.2,982.6 767.5,982.3 767.8,982.2 768.0,982.3 768.3,982.0 768.6,982.1 768.9,981.7 769.1,981.4 769.4,981.2 769.7,981.0 770.0,980.9 770.3,980.5 770.5,980.2 770.8,980.0 771.1,979.6 771.4,979.4 771.6,979.1 771.9,979.0 772.2,978.4 772.5,978.4 772.7,978.1 773.0,977.8 773.3,977.5 773.6,977.2 773.9,976.7 774.1,976.6 774.4,976.3 774.7,976.0 775.0,975.6 775.2,974.9 775.5,974.4 775.8,974.1 776.1,973.1 776.3,972.6 776.6,971.8 776.9,970.8 777.2,970.2 777.5,969.3 777.7,968.4 778.0,967.9 778.3,967.3 778.6,966.7 778.8,966.4 779.1,966.2 779.4,966.5 779.7,967.0 779.9,967.3 780.2,968.4 780.5,969.2 780.8,970.3 781.1,971.6 781.3,972.6 781.6,973.8 781.9,974.8 782.2,975.4 782.4,976.3 782.7,977.0 783.0,977.6 783.3,978.5 783.6,978.9 783.8,979.7 784.1,979.9 784.4,980.0 784.7,980.5 784.9,980.8 785.2,980.8 785.5,980.7 785.8,981.0 786.0,981.2 786.3,981.2 786.6,981.3 786.9,981.5 787.2,981.5 787.4,981.5 787.7,981.6 788.0,981.5 788.3,981.7 788.5,981.5 788.8,981.7 789.1,981.5 789.4,981.6 789.6,981.8 789.9,981.4 790.2,981.7 790.5,981.8 790.8,981.9 791.0,981.7 791.3,981.7 791.6,981.8 791.9,981.8 792.1,981.8 792.4,981.8 792.7,981.8 793.0,981.8 793.2,981.6 793.5,982.0 793.8,981.4 794.1,981.7 794.4,981.6 794.6,981.7 794.9,981.4 795.2,981.5 795.5,981.5 795.7,981.5 796.0,981.2 796.3,981.1 796.6,981.2 796.8,980.8 797.1,980.9 797.4,980.4 797.7,980.2 798.0,979.9 798.2,978.9 798.5,977.6 798.8,975.7 799.1,972.8 799.3,968.9 799.6,964.1 799.9,959.4 800.2,954.8 800.5,953.5 800.7,955.1 801.0,959.0 801.3,964.3 801.6,968.9 801.8,973.0 802.1,975.7 802.4,977.4 802.7,978.9 802.9,979.9 803.2,980.3 803.5,980.5 803.8,980.9 804.1,980.8 804.3,981.1 804.6,981.3 804.9,981.3 805.2,981.3 805.4,981.7 805.7,981.7 806.0,981.7 806.3,981.9 806.5,981.7 806.8,981.8 807.1,981.7 807.4,981.7 807.7,981.7 807.9,981.8 808.2,981.9 808.5,981.5 808.8,981.7 809.0,981.9 809.3,982.0 809.6,981.8 809.9,981.7 810.1,981.8 810.4,981.8 810.7,981.7 811.0,981.8 811.3,981.9 811.5,981.8 811.8,981.9 812.1,981.6 812.4,981.7 812.6,981.5 812.9,981.2 813.2,981.5 813.5,981.3 813.8,981.2 814.0,981.2 814.3,980.7 814.6,980.7 814.9,980.6 815.1,980.3 815.4,980.3 815.7,980.0 816.0,979.8 816.2,980.0 816.5,979.7 816.9,979.7 817.4,979.8 817.6,979.7 817.9,979.6 818.2,980.2 818.5,980.0 818.7,980.4 819.0,980.4 819.3,980.6 819.6,980.8 819.8,981.1 820.1,981.1 820.4,981.3 820.7,981.1 821.0,981.3 821.2,981.5 821.5,981.5 821.8,981.4 822.1,981.7 822.3,981.6 822.6,981.6 822.9,981.7 823.2,981.4 823.4,981.6 823.7,981.3 824.0,981.4 824.3,981.4 824.6,981.2 824.8,981.0 825.1,981.1 825.4,981.0 825.7,980.8 825.9,980.6 826.2,980.5 826.5,980.6 826.8,980.5 827.0,980.3 827.3,980.3 827.6,980.3 827.9,980.3 828.2,980.5 828.4,980.5 828.7,980.7 829.0,980.4 829.3,981.0 829.5,981.0 829.8,981.1 830.1,981.4 830.4,981.3 830.7,981.5 830.9,981.7 831.2,981.6 831.5,981.5 831.8,981.7 832.0,981.6 832.3,981.7 832.6,981.9 832.9,982.0 833.1,982.2 833.4,982.2 833.7,982.0 834.0,982.0 834.3,982.0 834.5,982.1 834.8,982.0 835.1,982.1 835.4,981.8 835.6,981.9 835.9,982.1 836.2,981.9 836.5,981.6 836.7,981.9 837.0,981.8 837.3,981.7 837.6,981.5 837.9,981.3 838.1,981.2 838.4,980.9 838.7,980.6 839.0,979.9 839.2,978.9 839.5,977.9 839.8,975.7 840.1,973.0 840.3,969.4 840.6,965.3 840.9,961.0 841.2,957.8 841.5,956.4 841.7,957.9 842.0,961.3 842.3,965.2 842.6,969.6 842.8,973.3 843.1,975.8 843.4,977.8 843.7,979.0 843.9,979.8 844.2,980.7 844.5,980.8 844.8,981.1 845.1,981.2 845.3,981.6 845.6,981.5 845.9,981.6 846.2,981.6 846.4,982.0 846.7,981.9 847.0,981.9 847.3,981.9 847.6,982.0 847.8,981.9 848.1,981.8 848.4,981.5 848.7,981.7 848.9,981.4 849.2,981.5 849.5,981.1 849.8,980.8 850.0,980.2 850.3,979.6 850.6,978.4 850.9,976.7 851.2,975.6 851.4,974.0 851.7,971.5 852.0,970.1 852.3,968.9 852.5,968.5 852.8,969.2 853.1,970.3 853.4,972.0 853.6,973.9 853.9,975.8 854.2,977.2 854.5,978.8 854.8,979.5 855.0,980.4 855.3,981.0 855.6,981.6 855.9,981.6 856.1,981.8 856.4,982.2 856.7,982.0 857.0,982.3 857.2,982.5 857.5,982.3 857.8,982.6 858.1,982.6 858.4,982.7 858.6,982.7 858.9,982.6 859.2,982.8 859.5,982.6 859.7,982.8 860.0,982.7 860.3,983.0 860.6,982.8 860.9,982.8 861.1,982.7 861.4,982.8 861.7,982.8 862.0,982.8 862.2,982.9 862.5,982.8 862.8,982.8 863.1,982.9 863.3,983.0 863.6,982.7 863.9,982.7 864.2,982.9 864.5,982.8 864.7,982.7 865.0,982.9 865.3,982.8 865.6,982.8 865.8,982.8 866.1,982.9 866.4,982.9 866.7,982.8 866.9,982.9 867.2,982.7 867.5,982.8 867.8,982.8 868.1,983.0 868.3,982.9 868.6,982.8 868.9,982.8 869.2,982.9 869.4,983.1 869.7,982.8 870.0,982.6 870.3,982.3 870.5,982.6 870.8,982.2 871.1,982.3 871.4,981.9 871.7,981.9 871.9,981.6 872.2,981.4 872.5,981.3 872.8,981.2 873.0,980.8 873.3,981.0 873.6,980.8 873.9,980.9 874.1,980.8 874.4,980.9 874.7,981.3 875.0,981.5 875.3,981.5 875.5,981.5 875.8,981.7 876.1,982.0 876.4,982.1 876.6,982.2 876.9,982.4 877.2,982.2 877.5,982.3 877.8,982.1 878.0,982.3 878.3,982.1 878.6,982.1 878.9,981.9 879.1,981.4 879.4,981.4 879.7,980.8 880.0,980.0 880.2,978.6 880.5,977.3 880.8,975.4 881.1,972.7 881.4,969.5 881.6,966.7 881.9,964.0 882.3,962.3 882.7,963.7 883.0,967.0 883.3,969.7 883.6,973.0 883.8,975.2 884.1,977.4 884.4,978.9 884.7,980.1 885.0,980.9 885.2,981.8 885.5,982.0 885.8,981.8 886.1,982.3 886.3,982.4 886.6,982.5 886.9,982.5 887.2,982.7 887.4,982.7 887.7,982.8 888.0,983.0 888.3,982.9 888.6,982.9 888.8,983.1 889.1,983.1 889.4,983.2 889.7,983.1 889.9,983.3 890.2,983.2 890.5,983.3 890.8,983.1 891.0,983.3 891.3,983.0 891.6,983.1 891.9,983.3 892.2,983.0 892.4,983.3 892.7,983.3 893.0,983.5 893.3,983.3 893.5,983.4 893.8,983.5 894.1,983.5 894.4,983.2 894.7,983.4 894.9,983.4 895.2,983.5 895.5,983.4 895.8,983.5 896.0,983.4 896.3,983.4 896.6,983.3 896.9,983.4 897.1,983.5 897.4,983.5 897.7,983.4 898.0,983.4 898.3,983.5 898.5,983.7 898.8,983.5 899.1,983.7 899.4,983.3 899.6,983.5 899.9,983.3 900.2,983.5 900.5,983.4 900.7,983.3 901.0,983.4 901.3,983.6 901.6,983.7 901.9,983.6 902.1,983.5 902.4,983.6 902.7,983.7 903.0,983.6 903.2,983.5 903.5,983.7 903.8,983.5 904.1,983.4 904.3,983.7 904.6,983.5 904.9,983.5 905.2,983.5 905.5,983.5 905.7,983.6 906.0,983.5 906.3,983.3 906.6,983.5 906.8,983.7 907.1,983.6 907.4,983.3 907.7,983.5 908.0,983.5 908.2,983.7 908.5,983.7 908.8,983.5 909.1,983.5 909.3,983.6 909.6,983.5 909.9,983.5 910.2,983.7 910.4,983.5 910.7,983.4 911.0,983.2 911.3,983.6 911.6,983.4 911.8,983.4 912.1,983.4 912.4,983.4 912.7,983.3 912.9,983.3 913.2,983.5 913.5,983.5 913.8,983.4 914.0,983.6 914.3,983.4 914.6,983.3 914.9,983.4 915.2,983.4 915.4,983.4 915.7,983.3 916.0,983.3 916.3,983.4 916.5,983.2 916.8,983.4 917.1,983.2 917.4,983.1 917.6,983.2 917.9,983.1 918.2,983.1 918.5,982.8 918.8,982.9 919.0,983.0 919.3,982.6 919.6,982.6 919.9,982.2 920.1,982.3 920.4,982.0 920.7,982.0 921.0,981.7 921.2,981.4 921.5,981.1 921.8,980.7 922.1,980.6 922.4,980.4 922.6,980.2 922.9,980.0 923.2,979.7 923.5,979.3 923.9,979.2 924.3,978.8 924.6,979.0 924.9,979.0 925.1,978.8 925.4,978.4 925.7,978.0 926.0,977.7 926.2,977.0 926.5,976.5 926.8,975.8 927.1,974.7 927.3,973.9 927.6,972.8 927.9,971.9 928.2,971.3 928.5,970.5 928.7,970.3 929.0,970.5 929.3,971.1 929.6,972.3 929.8,973.3 930.1,974.8 930.4,975.7 930.7,977.2 930.9,978.1 931.2,979.2 931.5,979.6 931.8,980.6 932.1,980.9 932.3,981.5 932.6,981.8 932.9,982.0 933.2,982.5 933.4,982.5 933.7,982.7 934.0,982.9 934.3,982.7 934.5,982.9 934.8,982.8 935.1,983.0 935.4,983.1 935.7,983.2 935.9,983.2 936.2,983.3 936.5,983.1 936.8,983.3 937.0,983.1 937.3,983.4 937.6,983.3 937.9,983.4 938.1,983.1 938.4,983.6 938.7,983.3 939.0,983.3 939.3,983.3 939.5,983.2 939.8,983.3 940.1,983.7 940.4,983.5 940.6,983.6 940.9,983.5 941.2,983.5 941.5,983.4 941.8,983.4 942.0,983.5 942.3,983.6 942.6,983.5 942.9,983.5 943.1,983.6 943.4,983.5 943.7,983.4 944.0,983.7 944.2,983.4 944.5,983.7 944.8,983.6 945.1,983.8 945.4,983.6 945.6,983.4 945.9,983.7 946.2,983.7 946.5,983.7 946.7,983.6 947.0,983.5 947.3,983.8 947.6,983.5 947.8,983.4 948.1,983.7 948.4,983.6 948.7,983.6 949.0,983.9 949.2,983.7 949.5,983.6 949.8,983.6 950.1,983.6 950.3,983.8 950.6,983.7 950.9,983.7 951.2,983.8 951.4,983.6 951.7,983.5 952.0,983.8 952.3,983.6 952.6,983.6 952.8,983.5 953.1,983.7 953.4,983.8 953.7,983.6 953.9,983.7 954.2,983.8 954.5,983.7 954.8,983.6 955.1,983.6 955.3,983.6 955.6,983.8 955.9,983.8 956.2,983.5 956.4,983.4 956.7,983.4 957.0,983.6 957.3,983.3 957.5,983.4 957.8,983.1 958.1,983.1 958.4,983.0 958.7,983.1 958.9,982.9 959.2,983.2 959.5,982.7 959.8,982.9 960.0,983.0 960.3,982.9 960.6,982.9 960.9,982.9 961.1,983.1 961.4,983.4 961.7,983.1 962.0,983.4 962.3,983.6 962.5,983.3 962.8,983.2 963.1,983.6 963.4,983.4 963.6,983.5 963.9,983.6 964.2,983.5 964.5,983.6 964.7,983.9 965.0,983.7 965.3,983.7 965.6,983.7 965.9,983.6 966.1,983.7 966.4,983.6 966.7,983.4 967.0,983.7 967.2,983.6 967.5,983.5 967.8,983.7 968.1,983.9 968.3,983.7 968.6,983.5 968.9,983.6 969.2,983.8 969.5,983.6 969.7,983.7 970.0,983.7 970.3,983.6 970.6,984.0 970.8,983.5 971.1,983.5 971.4,983.7 971.7,983.8 972.0,983.8 972.2,983.6 972.5,983.7 972.8,983.9 973.1,983.9 973.3,983.6 973.6,983.6 973.9,983.8 974.2,983.5 974.4,983.7 974.7,983.6 975.0,983.8 975.3,983.5 975.6,983.7 975.8,983.7 976.1,983.6 976.4,983.7 976.7,983.5 976.9,983.6 977.2,983.7 977.5,983.7 977.8,983.6 978.0,983.6 978.3,983.6 978.6,983.7 978.9,983.4 979.2,983.5 979.4,983.4 979.7,983.5 980.0,983.5 980.3,983.6 980.5,983.6 980.8,983.4 981.1,983.5 981.4,983.3 981.6,983.2 981.9,983.3 982.2,983.3 982.5,983.2 982.8,983.0 983.0,983.2 983.3,983.0 983.6,982.9 983.9,983.1 984.1,982.8 984.4,982.8 984.7,982.6 985.0,982.4 985.2,982.3 985.5,982.0 985.8,981.6 986.1,981.3 986.4,980.8 986.6,980.1 986.9,978.8 987.2,976.7 987.5,973.8 987.7,969.3 988.0,963.3 988.3,955.9 988.6,948.0 988.9,941.7 989.1,939.1 989.4,941.7 989.7,947.5 990.0,956.1 990.2,963.2 990.5,969.1 990.8,973.7 991.1,976.8 991.3,979.0 991.6,980.1 991.9,980.8 992.2,981.5 992.5,981.8 992.7,982.0 993.0,982.3 993.3,982.5 993.6,982.8 993.8,982.7 994.1,982.6 994.4,982.8 994.7,982.9 994.9,983.5 995.2,983.3 995.5,983.3 995.8,983.3 996.1,983.4 996.3,983.6 996.6,983.4 996.9,983.6 997.2,983.5 997.4,983.4 997.7,983.3 998.0,983.5 998.3,983.5 998.5,983.8 998.8,983.7 999.1,983.5 999.4,983.6 999.7,983.6 999.9,983.7 1000.2,983.7 1000.5,983.6 1000.8,983.5 1001.0,983.7 1001.3,983.9 1001.6,983.4 1001.9,983.6 1002.2,983.8 1002.4,983.6 1002.7,983.6 1003.0,983.8 1003.3,983.8 1003.5,983.6 1003.8,983.7 1004.1,983.6 1004.4,983.8 1004.6,983.8 1004.9,983.9 1005.2,983.8 1005.5,983.5 1005.8,984.0 1006.0,983.7 1006.3,983.9 1006.6,983.9 1006.9,983.6 1007.1,984.0 1007.4,983.8 1007.7,984.0 1008.0,983.9 1008.2,983.7 1008.5,983.8 1008.8,983.7 1009.1,983.7 1009.4,983.9 1009.6,983.8 1009.9,983.8 1010.2,983.9 1010.5,984.1 1010.7,983.9 1011.0,983.8 1011.3,983.8 1011.6,984.0 1011.8,983.9 1012.1,983.8 1012.4,983.9 1012.7,983.7 1013.0,984.0 1013.2,984.0 1013.5,984.0 1013.8,983.6 1014.1,984.0 1014.3,983.9 1014.6,983.8 1014.9,983.9 1015.2,984.1 1015.4,983.9 1015.7,983.7 1016.0,984.0 1016.3,984.0 1016.6,983.8 1016.8,983.8 1017.1,983.9 1017.4,983.6 1017.7,983.8 1017.9,983.9 1018.2,983.8 1018.5,983.7 1018.8,983.8 1019.1,983.8 1019.3,983.5 1019.6,983.6 1019.9,983.7 1020.2,983.7 1020.4,983.6 1020.7,983.6 1021.0,983.6 1021.3,983.8 1021.5,983.5 1021.8,983.6 1022.1,983.8 1022.4,983.5 1022.7,983.5 1022.9,983.5 1023.2,983.6 1023.5,983.6 1023.8,983.6 1024.0,983.6 1024.3,983.4 1024.6,983.4 1024.9,983.6 1025.1,983.4 1025.4,983.3 1025.7,983.3 1026.0,983.4 1026.3,983.5 1026.5,983.5 1026.8,983.5 1027.1,983.5 1027.4,983.5 1027.6,983.4 1027.9,983.3 1028.2,983.4 1028.5,983.1 1028.7,983.4 1029.0,983.2 1029.3,983.1 1029.6,983.3 1029.9,983.1 1030.1,983.2 1030.4,983.0 1030.7,983.1 1031.0,983.3 1031.2,983.3 1031.5,983.4 1031.8,983.3 1032.1,983.2 1032.3,983.1 1032.6,983.4 1032.9,983.4 1033.2,983.2 1033.5,983.2 1033.7,983.0 1034.0,983.1 1034.3,983.2 1034.6,983.0 1034.8,983.2 1035.1,983.0 1035.4,982.9 1035.7,982.9 1036.0,983.1 1036.2,982.8 1036.5,982.9 1036.8,982.9 1037.1,982.8 1037.3,982.7 1037.6,983.0 1037.9,982.9 1038.2,982.9 1038.4,982.8 1038.7,982.8 1039.0,982.7 1039.3,982.8 1039.6,982.7 1039.8,982.6 1040.1,982.7 1040.4,982.9 1040.7,983.0 1040.9,982.8 1041.2,982.7 1041.5,982.7 1041.8,982.7 1042.0,982.7 1042.3,982.5 1042.6,982.6 1042.9,982.7 1043.2,982.7 1043.4,982.5 1043.7,982.6 1044.0,982.6 1044.3,982.5 1044.5,982.6 1044.8,982.7 1045.1,982.6 1045.4,982.6 1045.6,982.6 1045.9,982.5 1046.2,982.3 1046.5,982.4 1046.8,982.5 1047.0,982.2 1047.3,982.3 1047.6,982.5 1047.9,982.2 1048.1,982.4 1048.4,982.2 1048.7,982.2 1049.0,982.0 1049.2,982.2 1049.5,982.0 1049.8,981.8 1050.1,982.0 1050.4,981.7 1050.6,981.6 1050.9,981.5 1051.2,981.2 1051.5,981.3 1051.7,980.9 1052.0,980.3 1052.3,979.6 1052.6,978.8 1052.9,977.7 1053.1,976.4 1053.4,974.8 1053.7,973.4 1054.0,971.8 1054.2,970.9 1054.5,970.3 1054.8,970.7 1055.1,971.9 1055.3,973.1 1055.6,974.5 1055.9,976.0 1056.2,977.0 1056.5,977.8 1056.7,978.7 1057.0,979.2 1057.3,979.4 1057.6,979.6 1057.8,979.2 1058.1,978.9 1058.4,979.0 1058.7,978.1 1058.9,978.3 1059.2,977.6 1059.5,977.3 1059.8,976.7 1060.1,976.4 1060.3,976.1 1060.6,975.7 1060.9,975.7 1061.3,975.7 1061.7,975.7 1062.0,976.2 1062.3,976.1 1062.5,976.8 1062.8,977.2 1063.1,977.8 1063.4,978.4 1063.7,978.9 1063.9,979.3 1064.2,979.7 1064.5,980.2 1064.8,980.5 1065.0,980.7 1065.3,981.1 1065.6,981.5 1065.9,981.6 1066.2,981.7 1066.4,981.9 1066.7,982.2 1067.0,982.4 1067.3,982.3 1067.5,982.8 1067.8,982.5 1068.1,982.8 1068.4,982.8 1068.6,982.8 1068.9,982.8 1069.2,983.1 1069.5,982.9 1069.8,982.8 1070.0,983.1 1070.3,983.0 1070.6,982.8 1070.9,983.1 1071.1,983.0 1071.4,983.2 1071.7,983.2 1072.0,983.5 1072.2,983.2 1072.5,983.0 1072.8,983.1 1073.1,983.4 1073.4,983.3 1073.6,983.4 1073.9,983.3 1074.2,983.4 1074.5,983.2 1074.7,983.4 1075.0,983.2 1075.3,983.4 1075.6,983.2 1075.8,983.5 1076.1,983.6 1076.4,983.5 1076.7,983.5 1077.0,983.4 1077.2,983.4 1077.5,983.6 1077.8,983.3 1078.1,983.5 1078.3,983.5 1078.6,983.6 1078.9,983.4 1079.2,983.5 1079.4,983.7 1079.7,983.5 1080.0,983.5 1080.3,983.5 1080.6,983.6 1080.8,983.5 1081.1,983.7 1081.4,983.4 1081.7,983.6 1081.9,983.7 1082.2,983.5 1082.5,983.4 1082.8,983.4 1083.1,983.7 1083.3,983.6 1083.6,983.5 1083.9,983.5 1084.2,983.5 1084.4,983.5 1084.7,983.7 1085.0,983.4 1085.3,983.7 1085.5,983.5 1085.8,983.6 1086.1,983.5 1086.4,983.4 1086.7,983.5 1086.9,983.6 1087.2,983.5 1087.5,983.5 1087.8,983.6 1088.0,983.5 1088.3,983.7 1088.6,983.5 1088.9,983.7 1089.1,983.5 1089.4,983.5 1089.7,983.5 1090.0,983.4 1090.3,983.4 1090.5,983.6 1090.8,983.5 1091.1,983.7 1091.4,983.7 1091.6,983.4 1091.9,983.8 1092.2,983.4 1092.5,983.5 1092.7,983.6 1093.0,983.5 1093.3,983.6 1093.6,983.4 1093.9,983.6 1094.1,983.4 1094.4,983.6 1094.7,983.7 1095.0,983.5 1095.2,983.5 1095.5,983.5 1095.8,983.4 1096.1,983.6 1096.3,983.7 1096.6,983.6 1096.9,983.5 1097.2,983.5 1097.5,983.7 1097.7,983.5 1098.0,983.7 1098.3,983.5 1098.6,983.5 1098.8,983.5 1099.1,983.5 1099.4,983.7 1099.7,983.6 1100.0,983.6 1100.2,983.6 1100.5,983.6 1100.8,983.5 1101.1,983.4 1101.3,983.4 1101.6,983.5 1101.9,983.5 1102.2,983.5 1102.4,983.7 1102.7,983.4 1103.0,983.6 1103.3,983.4 1103.6,983.5 1103.8,983.5 1104.1,983.3 1104.4,983.4 1104.7,983.4 1104.9,983.6 1105.2,983.6 1105.5,983.6 1105.8,983.5 1106.0,983.6 1106.3,983.6 1106.6,983.3 1106.9,983.7 1107.2,983.2 1107.4,983.5 1107.7,983.5 1108.0,983.7 1108.3,983.5 1108.5,983.4 1108.8,983.4 1109.1,983.7 1109.4,983.6 1109.6,983.3 1109.9,983.4 1110.2,983.3 1110.5,983.4 1110.8,983.3 1111.0,983.5 1111.3,983.4 1111.6,983.4 1111.9,983.7 1112.1,983.4 1112.4,983.5 1112.7,983.4 1113.0,983.4 1113.3,983.6 1113.5,983.2 1113.8,983.4 1114.1,983.3 1114.4,983.6 1114.6,983.3 1114.9,983.3 1115.2,983.3 1115.5,983.5 1115.7,983.2 1116.0,983.5 1116.3,983.2 1116.6,983.2 1116.9,983.1 1117.1,983.3 1117.4,983.1 1117.7,983.4 1118.0,983.0 1118.2,983.1 1118.5,983.0 1118.8,983.0 1119.1,983.2 1119.3,982.7 1119.6,982.8 1119.9,982.6 1120.2,982.9 1120.5,982.4 1120.7,982.5 1121.0,982.4 1121.3,982.0 1121.6,981.8 1121.8,981.2 1122.1,980.7 1122.4,980.2 1122.7,978.9 1122.9,977.0 1123.2,974.1 1123.5,970.2 1123.8,964.9 1124.1,959.1 1124.3,953.3 1124.7,948.9 1125.2,953.0 1125.4,958.6 1125.7,965.3 1126.0,970.3 1126.3,974.2 1126.5,977.0 1126.8,978.9 1127.1,980.0 1127.4,980.9 1127.7,981.5 1127.9,981.7 1128.2,982.3 1128.5,982.3 1128.8,982.4 1129.0,982.4 1129.3,982.7 1129.6,982.6 1129.9,982.8 1130.2,983.0 1130.4,982.9 1130.7,982.8 1131.0,982.9 1131.3,982.9 1131.5,983.0 1131.8,983.0 1132.1,983.0 1132.4,983.4 1132.6,983.2 1132.9,983.1 1133.2,983.3 1133.5,983.1 1133.8,983.3 1134.0,983.1 1134.3,983.4 1134.6,983.1 1134.9,983.4 1135.1,983.3 1135.4,983.4 1135.7,983.0 1136.0,983.2 1136.2,983.4 1136.5,983.2 1136.8,983.2 1137.1,983.1 1137.4,983.3 1137.6,983.2 1137.9,983.1 1138.2,983.2 1138.5,983.0 1138.7,982.8 1139.0,983.0 1139.3,983.0 1139.6,983.1 1139.8,983.5 1140.1,983.1 1140.4,983.2 1140.7,983.2 1141.0,983.1 1141.2,982.8 1141.5,983.0 1141.8,982.7 1142.1,982.8 1142.3,982.8 1142.6,982.6 1142.9,982.7 1143.2,982.6 1143.5,982.5 1143.7,982.2 1144.0,982.5 1144.3,982.0 1144.6,982.0 1144.8,981.9 1145.1,982.0 1145.4,981.7 1145.7,981.5 1145.9,981.5 1146.2,981.3 1146.5,981.2 1146.8,981.1 1147.1,981.1 1147.3,980.9 1147.6,980.6 1147.9,980.6 1148.2,980.8 1148.4,980.6 1148.7,980.4 1149.0,980.3 1149.3,980.4 1149.5,980.2 1150.0,980.3 1150.4,980.4 1150.7,980.1 1150.9,980.2 1151.2,980.4 1151.5,980.4 1151.8,980.7 1152.0,980.8 1152.3,980.8 1152.6,980.9 1152.9,981.1 1153.1,981.2 1153.4,981.4 1153.7,981.4 1154.0,981.4 1154.3,981.6 1154.5,981.9 1154.8,981.8 1155.1,981.9 1155.4,982.1 1155.6,982.2 1155.9,982.3 1156.2,982.3 1156.5,982.4 1156.7,982.4 1157.0,982.6 1157.3,982.6 1157.6,982.8 1157.9,982.8 1158.1,983.0 1158.4,982.8 1158.7,982.8 1159.0,982.9 1159.2,983.0 1159.5,983.0 1159.8,983.0 1160.1,983.2 1160.4,983.1 1160.6,983.1 1160.9,983.1 1161.2,983.3 1161.5,982.9 1161.7,983.1 1162.0,983.3 1162.3,983.1 1162.6,983.2 1162.8,983.2 1163.1,983.3 1163.4,983.2 1163.7,983.3 1164.0,983.3 1164.2,983.3 1164.5,983.3 1164.8,983.2 1165.1,983.3 1165.3,983.2 1165.6,983.3 1165.9,983.5 1166.2,983.3 1166.4,983.3 1166.7,983.3 1167.0,983.4 1167.3,983.5 1167.6,983.2 1167.8,983.2 1168.1,983.4 1168.4,983.3 1168.7,983.5 1168.9,983.3 1169.2,983.5 1169.5,983.3 1169.8,983.2 1170.0,983.4 1170.3,983.4 1170.6,983.4 1170.9,983.4 1171.2,983.4 1171.4,983.2 1171.7,983.4 1172.0,983.2 1172.3,983.2 1172.5,983.3 1172.8,983.3 1173.1,983.3 1173.4,983.4 1173.6,983.1 1173.9,983.5 1174.2,983.3 1174.5,983.1 1174.8,983.4 1175.0,983.0 1175.3,983.3 1175.6,983.2 1175.9,983.0 1176.1,983.0 1176.4,983.1 1176.7,983.0 1177.0,983.2 1177.3,982.9 1177.5,983.1 1177.8,982.9 1178.1,982.8 1178.4,982.6 1178.6,982.3 1178.9,981.9 1179.2,981.5 1179.5,981.0 1179.7,980.4 1180.0,979.9 1180.3,978.9 1180.6,978.3 1180.9,977.7 1181.1,977.4 1181.4,977.0 1181.7,977.3 1182.0,977.7 1182.2,978.4 1182.5,979.3 1182.8,979.9 1183.1,980.6 1183.3,981.2 1183.6,981.7 1183.9,982.1 1184.2,982.3 1184.5,982.5 1184.7,982.9 1185.0,982.9 1185.3,983.0 1185.6,982.8 1185.8,983.0 1186.1,983.1 1186.4,983.2 1186.7,983.3 1186.9,983.1 1187.2,983.4 1187.5,983.4 1187.8,983.3 1188.1,983.4 1188.3,983.2 1188.6,983.1 1188.9,983.3 1189.2,983.5 1189.4,983.1 1189.7,983.1 1190.0,983.3 1190.3,983.2 1190.6,983.4 1190.8,983.4 1191.1,983.4 1191.4,983.6 1191.7,983.2 1191.9,983.3 1192.2,983.3 1192.5,983.3 1192.8,983.3 1193.0,983.3 1193.3,983.1 1193.6,983.5 1193.9,983.4 1194.2,983.3 1194.4,983.5 1194.7,983.2 1195.0,983.4 1195.3,983.6 1195.5,983.4 1195.8,983.4 1196.1,983.1 1196.4,983.4 1196.6,983.3 1196.9,983.4 1197.2,983.3 1197.5,983.5 1197.8,983.2 1198.0,983.3 1198.3,983.5 1198.6,983.2 1198.9,983.3 1199.1,983.4 1199.4,983.5 1199.7,983.4 1200.0,983.3 1200.2,983.4 1200.5,983.4 1200.8,983.3 1201.1,983.6 1201.4,983.2 1201.6,983.3 1201.9,983.5 1202.2,983.3 1202.5,983.6 1202.7,983.3 1203.0,983.1 1203.3,983.2 1203.6,983.2 1203.8,983.4 1204.1,983.1 1204.4,983.4 1204.7,983.4 1205.0,983.5 1205.2,983.4 1205.5,983.5 1205.8,983.3 1206.1,983.4 1206.3,983.4 1206.6,983.3 1206.9,983.2 1207.2,983.3 1207.5,983.4 1207.7,983.4 1208.0,983.3 1208.3,983.5 1208.6,983.3 1208.8,983.5 1209.1,983.4 1209.4,983.2 1209.7,983.3 1209.9,983.2 1210.2,983.3 1210.5,983.4 1210.8,983.2 1211.1,983.5 1211.3,983.4 1211.6,983.3 1211.9,983.3 1212.2,983.2 1212.4,983.1 1212.7,983.2 1213.0,983.3 1213.3,983.2 1213.5,983.2 1213.8,983.2 1214.1,983.3 1214.4,983.1 1214.7,983.3 1214.9,983.2 1215.2,983.4 1215.5,983.2 1215.8,983.4 1216.0,983.3 1216.3,983.6 1216.6,983.3 1216.9,983.3 1217.1,983.1 1217.4,983.4 1217.7,983.1 1218.0,983.4 1218.3,983.1 1218.5,983.0 1218.8,983.2 1219.1,983.2 1219.4,983.2 1219.6,983.2 1219.9,983.3 1220.2,983.0 1220.5,983.0 1220.7,983.0 1221.0,983.3 1221.3,983.2 1221.6,983.1 1221.9,983.1 1222.1,983.0 1222.4,983.4 1222.7,983.0 1223.0,983.1 1223.2,982.9 1223.5,982.8 1223.8,982.8 1224.1,983.0 1224.4,982.8 1224.6,982.8 1224.9,983.0 1225.2,983.0 1225.5,982.9 1225.7,982.6 1226.0,982.6 1226.3,982.8 1226.6,982.7 1226.8,982.6 1227.1,982.4 1227.4,982.3 1227.7,982.3 1228.0,982.5 1228.2,982.2 1228.5,982.2 1228.8,981.9 1229.1,982.1 1229.3,981.6 1229.6,981.0 1229.9,980.5 1230.2,980.1 1230.4,979.6 1230.7,978.4 1231.0,977.3 1231.3,976.1 1231.6,974.8 1231.8,973.1 1232.1,971.0 1232.4,969.7 1232.7,968.2 1232.9,967.3 1233.2,966.8 1233.5,967.0 1233.8,967.9 1234.0,969.6 1234.3,970.6 1234.6,972.3 1234.9,973.1 1235.2,974.4 1235.4,975.4 1235.7,976.5 1236.0,976.7 1236.3,976.8 1236.5,976.6 1236.8,975.8 1237.1,975.2 1237.4,974.1 1237.7,972.6 1237.9,971.3 1238.2,969.5 1238.5,967.9 1238.8,965.7 1239.0,963.7 1239.3,962.4 1239.6,961.1 1240.0,960.4 1240.4,961.2 1240.7,962.4 1241.0,964.0 1241.3,966.4 1241.5,968.2 1241.8,969.8 1242.1,972.0 1242.4,973.6 1242.6,975.2 1242.9,976.3 1243.2,977.6 1243.5,978.3 1243.7,979.4 1244.0,980.0 1244.3,980.3 1244.6,980.8 1244.9,981.5 1245.1,981.4 1245.4,981.7 1245.7,982.0 1246.0,982.0 1246.2,981.9 1246.5,982.4 1246.8,982.2 1247.1,982.4 1247.3,982.1 1247.6,982.2 1247.9,982.6 1248.2,982.6 1248.5,982.6 1248.7,982.9 1249.0,982.6 1249.3,982.8 1249.6,982.8 1249.8,982.8 1250.1,982.5 1250.4,982.9 1250.7,982.9 1250.9,983.1 1251.2,983.0 1251.5,982.9 1251.8,983.0 1252.1,983.0 1252.3,983.0 1252.6,983.1 1252.9,983.1 1253.2,983.0 1253.4,983.0 1253.7,983.2 1254.0,983.0 1254.3,983.0 1254.6,983.1 1254.8,983.1 1255.1,982.9 1255.4,983.3 1255.7,983.1 1255.9,983.0 1256.2,983.3 1256.5,983.2 1256.8,983.1 1257.0,983.2 1257.3,983.3 1257.6,983.2 1257.9,983.3 1258.2,983.2 1258.4,983.3 1258.7,983.1 1259.0,983.3 1259.3,983.2 1259.5,983.2 1259.8,983.1 1260.1,983.3 1260.4,983.3 1260.6,983.3 1260.9,983.1 1261.2,983.2 1261.5,983.3 1261.8,983.2 1262.0,983.2 1262.3,983.3 1262.6,983.1 1262.9,983.4 1263.1,983.0 1263.4,983.1 1263.7,983.1 1264.0,983.3"/></defs>
<g fill="none" stroke="#00f" stroke-linejoin="round" stroke-linecap="round"><use href="#c2" stroke-width="5"/><use href="#c2" stroke-width="6.7" shape-rendering="crispEdges"/></g>
<g class="tl" text-anchor="end">
<text x="209.5" y="1100.3">-20,000</text>
<text x="209.5" y="996.3">0</text>
<text x="209.5" y="892.3">20,000</text>
<text x="209.5" y="788.3">40,000</text>
<text x="209.5" y="684.3">60,000</text>
<text x="209.5" y="580.3">80,000</text>
<text x="209.5" y="476.3">100,000</text>
<text x="209.5" y="372.3">120,000</text>
<text x="209.5" y="268.3">140,000</text>
<text x="209.5" y="164.3">160,000</text>
</g>
<g class="tl" text-anchor="middle">
<text x="294.3" y="1135.3">0</text>
<text x="432.8" y="1135.3">10</text>
<text x="571.3" y="1135.3">20</text>
<text x="709.9" y="1135.3">30</text>
<text x="848.4" y="1135.3">40</text>
<text x="986.9" y="1135.3">50</text>
<text x="1125.4" y="1135.3">60</text>
<text x="1264.0" y="1135.3">70</text>
<text x="1402.5" y="1135.3">80</text>
</g>
<text class="ax" text-anchor="middle" x="776.6" y="1198.0">2Th Degrees</text>
<text class="ax" text-anchor="middle" transform="translate(82.8,590) rotate(-90)">Counts</text>
</g>
<text class="cap" y="1381.5"><tspan x="2442.8">(</tspan><tspan class="b" text-anchor="middle" x="2490">2</tspan><tspan x="2509.8">)</tspan></text>
<g transform="translate(0,1413)">
<path d="M44 49H1472V1244H44Z M51 56V1237H1465V56Z" fill="#000" fill-rule="evenodd"/>
<path d="M293.8 1091.0 v-15.0 M293.8 102.0 v15.0 M432.3 1091.0 v-15.0 M432.3 102.0 v15.0 M570.8 1091.0 v-15.0 M570.8 102.0 v15.0 M709.4 1091.0 v-15.0 M709.4 102.0 v15.0 M847.9 1091.0 v-15.0 M847.9 102.0 v15.0 M986.4 1091.0 v-15.0 M986.4 102.0 v15.0 M1124.9 1091.0 v-15.0 M1124.9 102.0 v15.0 M1263.5 1091.0 v-15.0 M1263.5 102.0 v15.0 M363.0 1091.0 v-8.0 M363.0 102.0 v8.0 M501.6 1091.0 v-8.0 M501.6 102.0 v8.0 M640.1 1091.0 v-8.0 M640.1 102.0 v8.0 M778.6 1091.0 v-8.0 M778.6 102.0 v8.0 M917.1 1091.0 v-8.0 M917.1 102.0 v8.0 M1055.7 1091.0 v-8.0 M1055.7 102.0 v8.0 M1194.2 1091.0 v-8.0 M1194.2 102.0 v8.0 M1332.7 1091.0 v-8.0 M1332.7 102.0 v8.0 M224.5 1038.9 h8.0 M1402.0 1038.9 h-8.0 M224.5 986.9 h15.0 M1402.0 986.9 h-15.0 M224.5 934.8 h8.0 M1402.0 934.8 h-8.0 M224.5 882.8 h15.0 M1402.0 882.8 h-15.0 M224.5 830.7 h8.0 M1402.0 830.7 h-8.0 M224.5 778.7 h15.0 M1402.0 778.7 h-15.0 M224.5 726.6 h8.0 M1402.0 726.6 h-8.0 M224.5 674.6 h15.0 M1402.0 674.6 h-15.0 M224.5 622.5 h8.0 M1402.0 622.5 h-8.0 M224.5 570.5 h15.0 M1402.0 570.5 h-15.0 M224.5 518.4 h8.0 M1402.0 518.4 h-8.0 M224.5 466.4 h15.0 M1402.0 466.4 h-15.0 M224.5 414.3 h8.0 M1402.0 414.3 h-8.0 M224.5 362.3 h15.0 M1402.0 362.3 h-15.0 M224.5 310.2 h8.0 M1402.0 310.2 h-8.0 M224.5 258.2 h15.0 M1402.0 258.2 h-15.0 M224.5 206.1 h8.0 M1402.0 206.1 h-8.0 M224.5 154.1 h15.0 M1402.0 154.1 h-15.0" stroke="#000" stroke-width="4" fill="none" shape-rendering="crispEdges"/>
<path d="M223 100H1404V1093H223Z M226 104V1089H1400V104Z" fill="#000" fill-rule="evenodd"/>
<defs><polyline id="c3" points="363.0,968.8 363.3,968.6 363.6,969.0 363.9,968.6 364.1,968.9 364.4,968.9 364.7,968.5 365.0,968.8 365.2,968.8 365.5,968.7 365.8,968.6 366.1,968.9 366.4,968.8 366.6,969.1 366.9,969.0 367.2,969.0 367.5,969.1 367.7,969.2 368.0,969.2 368.3,969.0 368.6,969.0 368.8,969.0 369.1,968.9 369.4,969.2 369.7,969.0 370.0,968.9 370.2,968.9 370.5,969.2 370.8,969.1 371.1,969.4 371.3,969.1 371.6,969.4 371.9,969.3 372.2,968.9 372.4,969.5 372.7,968.9 373.0,969.0 373.3,969.2 373.6,969.0 373.8,969.0 374.1,969.0 374.4,969.2 374.7,969.3 374.9,969.3 375.2,969.4 375.5,969.2 375.8,969.4 376.1,969.0 376.3,969.6 376.6,969.4 376.9,969.4 377.2,969.6 377.4,968.9 377.7,969.7 378.0,969.3 378.3,969.4 378.5,969.0 378.8,969.7 379.1,969.1 379.4,969.5 379.7,969.4 379.9,969.5 380.2,969.2 380.5,969.6 380.8,969.4 381.0,969.3 381.3,969.1 381.6,969.8 381.9,969.1 382.1,969.2 382.4,969.5 382.7,969.4 383.0,969.5 383.3,969.1 383.5,969.4 383.8,969.5 384.1,969.5 384.4,969.5 384.6,969.6 384.9,969.7 385.2,969.2 385.5,969.9 385.7,970.3 386.0,969.7 386.3,969.7 386.6,969.7 386.9,969.8 387.1,969.8 387.4,969.8 387.7,969.7 388.0,970.0 388.2,970.0 388.5,969.6 388.8,969.9 389.1,970.2 389.4,969.6 389.6,970.0 389.9,970.2 390.2,970.4 390.5,970.1 390.7,970.4 391.0,970.5 391.3,970.5 391.6,970.4 391.8,970.2 392.1,970.5 392.4,970.7 392.7,970.4 393.0,970.5 393.2,970.4 393.5,970.4 393.8,970.7 394.1,970.7 394.3,970.7 394.6,970.9 394.9,970.6 395.2,970.5 395.4,970.8 395.7,970.9 396.0,970.9 396.3,971.0 396.6,971.1 396.8,971.0 397.1,971.1 397.4,971.1 397.7,971.3 397.9,970.9 398.2,970.9 398.5,971.1 398.8,971.3 399.0,970.9 399.3,970.6 399.6,970.9 399.9,970.9 400.2,970.8 400.4,970.6 400.7,970.8 401.0,970.5 401.3,970.6 401.5,970.4 401.8,970.5 402.1,970.5 402.4,970.7 402.6,970.5 402.9,970.4 403.2,970.2 403.5,970.2 403.8,970.3 404.0,970.1 404.3,969.9 404.6,970.1 404.9,970.1 405.1,970.1 405.4,969.8 405.7,969.8 406.0,970.0 406.3,969.7 406.5,969.9 406.8,969.9 407.1,969.5 407.4,969.5 407.6,969.7 407.9,969.5 408.2,969.4 408.5,969.6 408.7,969.4 409.0,969.3 409.3,969.7 409.6,969.2 409.9,969.1 410.1,969.1 410.4,969.4 410.7,969.1 411.0,969.3 411.2,969.0 411.5,968.9 411.8,968.9 412.1,969.1 412.3,969.0 412.6,968.6 412.9,968.9 413.2,968.5 413.5,968.4 413.7,968.4 414.0,967.8 414.3,968.0 414.6,967.2 414.8,967.5 415.1,967.0 415.4,965.7 415.7,964.9 415.9,964.2 416.2,963.3 416.6,962.9 417.1,964.4 417.3,965.4 417.6,966.9 417.9,968.1 418.2,969.0 418.4,970.0 418.7,970.6 419.0,971.3 419.3,971.7 419.5,972.0 419.8,972.3 420.1,972.3 420.4,972.9 420.7,972.5 420.9,973.0 421.2,972.7 421.5,973.1 421.8,972.7 422.0,973.0 422.3,972.9 422.6,972.9 422.9,973.1 423.2,973.2 423.4,973.4 423.7,972.9 424.0,973.2 424.3,973.2 424.5,973.1 424.8,972.8 425.1,973.4 425.4,973.1 425.6,973.2 425.9,973.1 426.2,973.5 426.5,973.3 426.8,973.1 427.0,972.9 427.3,973.0 427.6,973.4 427.9,973.2 428.1,973.3 428.4,973.5 428.7,973.5 429.0,973.1 429.2,973.2 429.5,973.3 429.8,973.1 430.1,973.5 430.4,973.2 430.6,973.3 430.9,973.4 431.2,973.3 431.5,973.3 431.7,973.3 432.0,973.3 432.3,973.1 432.6,973.5 432.8,973.2 433.1,973.3 433.4,973.5 433.7,973.3 434.0,973.6 434.2,973.3 434.5,973.6 434.8,973.6 435.1,973.4 435.3,973.4 435.6,973.4 435.9,973.4 436.2,973.6 436.5,973.7 436.7,973.5 437.0,973.5 437.3,973.7 437.6,973.4 437.8,973.6 438.1,973.8 438.4,973.5 438.7,973.8 438.9,973.8 439.2,973.6 439.5,973.9 439.8,973.6 440.1,973.9 440.3,973.5 440.6,973.8 440.9,973.7 441.2,973.9 441.4,973.8 441.7,973.6 442.0,973.6 442.3,974.0 442.5,973.6 442.8,973.6 443.1,973.8 443.4,973.5 443.7,973.9 443.9,973.8 444.2,973.6 444.5,973.6 444.8,973.6 445.0,974.0 445.3,974.1 445.6,973.8 445.9,974.1 446.1,973.9 446.4,974.1 446.7,973.7 447.0,973.7 447.3,973.8 447.5,973.9 447.8,973.9 448.1,973.9 448.4,973.8 448.6,973.9 448.9,973.8 449.2,974.0 449.5,973.6 449.7,973.9 450.0,973.7 450.3,973.7 450.6,974.1 450.9,974.2 451.1,973.7 451.4,974.0 451.7,973.9 452.0,974.0 452.2,973.9 452.5,974.1 452.8,973.9 453.1,974.0 453.4,973.9 453.6,974.3 453.9,973.8 454.2,973.8 454.5,974.2 454.7,974.0 455.0,973.8 455.3,973.7 455.6,973.7 455.8,973.5 456.1,973.6 456.4,973.7 456.7,973.6 457.0,973.3 457.2,973.5 457.5,973.2 457.8,973.1 458.1,973.1 458.3,972.9 458.6,973.0 458.9,972.9 459.2,972.9 459.4,972.7 459.7,972.7 460.0,972.4 460.3,972.3 460.6,972.1 460.8,971.5 461.1,971.1 461.4,970.8 461.7,970.2 461.9,969.8 462.2,969.3 462.5,969.1 462.8,968.7 463.0,967.7 463.3,967.1 463.6,966.4 463.9,965.9 464.2,965.3 464.4,965.2 464.7,964.8 465.0,965.0 465.3,965.4 465.5,966.1 465.8,966.3 466.1,966.7 466.4,968.1 466.6,968.5 466.9,969.7 467.2,970.5 467.5,971.2 467.8,971.9 468.0,972.8 468.3,973.2 468.6,973.7 468.9,974.2 469.1,974.9 469.4,974.9 469.7,975.1 470.0,975.3 470.3,976.2 470.5,976.2 470.8,976.7 471.1,976.5 471.4,976.5 471.6,976.9 471.9,977.0 472.2,976.8 472.5,976.8 472.7,977.1 473.0,977.1 473.3,977.5 473.6,977.2 473.9,977.2 474.1,977.2 474.4,977.0 474.7,977.5 475.0,977.7 475.2,977.4 475.5,977.6 475.8,977.5 476.1,977.5 476.3,977.5 476.6,977.4 476.9,977.5 477.2,978.0 477.5,977.8 477.7,977.5 478.0,977.9 478.3,977.8 478.6,978.0 478.8,978.1 479.1,977.8 479.4,977.9 479.7,978.2 479.9,978.0 480.2,978.4 480.5,978.3 480.8,978.1 481.1,978.3 481.3,978.5 481.6,978.3 481.9,978.3 482.2,978.2 482.4,978.3 482.7,978.5 483.0,978.5 483.3,978.4 483.6,978.4 483.8,978.2 484.1,978.2 484.4,978.2 484.7,978.3 484.9,978.4 485.2,978.2 485.5,978.4 485.9,978.4 486.3,978.5 486.6,978.8 486.9,978.7 487.2,978.5 487.4,979.0 487.7,979.1 488.0,979.0 488.3,978.8 488.5,979.0 488.8,979.3 489.1,979.4 489.4,979.4 489.6,979.6 489.9,979.5 490.2,979.6 490.5,979.8 490.8,979.7 491.0,979.7 491.3,979.8 491.6,979.9 491.9,979.6 492.1,979.5 492.4,979.9 492.7,979.9 493.0,979.8 493.2,979.9 493.5,980.0 493.8,979.8 494.1,980.1 494.4,980.1 494.6,980.2 494.9,980.2 495.2,980.2 495.5,980.1 495.7,980.0 496.0,980.2 496.3,980.3 496.6,980.5 496.8,980.4 497.1,980.5 497.4,980.4 497.7,980.3 498.0,980.5 498.2,980.6 498.5,980.7 498.8,980.6 499.1,980.6 499.3,980.8 499.6,980.8 499.9,980.6 500.2,981.0 500.5,980.8 500.7,981.0 501.0,980.6 501.3,980.8 501.6,980.8 501.8,980.8 502.1,980.9 502.4,980.9 502.7,981.1 502.9,980.9 503.2,980.9 503.5,981.2 503.8,980.9 504.1,980.9 504.3,981.2 504.6,981.1 504.9,981.1 505.2,981.1 505.4,981.1 505.7,981.3 506.0,981.2 506.3,981.1 506.5,981.1 506.8,981.2 507.1,981.3 507.4,981.2 507.7,981.5 507.9,981.2 508.2,981.3 508.5,981.5 508.8,981.4 509.0,981.6 509.3,981.7 509.6,981.5 509.9,981.5 510.1,981.4 510.4,981.6 510.7,981.7 511.0,981.7 511.3,981.3 511.5,981.6 511.8,981.7 512.1,981.7 512.4,981.8 512.6,981.7 512.9,981.6 513.2,981.6 513.5,981.6 513.7,981.7 514.0,981.9 514.3,981.9 514.6,982.1 514.9,982.0 515.1,981.8 515.4,981.9 515.7,981.9 516.0,982.1 516.2,981.9 516.5,982.0 516.8,982.0 517.1,982.0 517.4,982.3 517.6,982.2 517.9,982.2 518.2,981.9 518.5,982.2 518.7,982.2 519.0,982.1 519.3,982.4 519.6,982.1 519.8,982.4 520.1,982.3 520.4,982.4 520.7,982.2 521.0,982.6 521.2,982.3 521.5,982.5 521.8,982.4 522.1,982.6 522.3,982.4 522.6,982.4 522.9,982.4 523.2,982.5 523.4,982.5 523.7,982.4 524.0,982.6 524.3,982.7 524.6,982.7 524.8,982.5 525.1,982.7 525.4,982.5 525.7,982.6 525.9,982.8 526.2,982.6 526.5,982.5 526.8,982.7 527.0,982.8 527.3,982.8 527.6,982.6 527.9,982.7 528.2,982.7 528.4,982.6 528.7,982.7 529.0,982.7 529.3,982.7 529.5,982.7 529.8,982.7 530.1,982.6 530.4,982.6 530.7,982.7 530.9,982.6 531.2,982.6 531.5,982.6 531.8,982.6 532.0,982.5 532.3,982.6 532.6,982.6 532.9,982.7 533.1,982.6 533.4,982.6 533.7,982.6 534.0,982.7 534.3,982.5 534.5,982.3 534.8,982.5 535.1,982.5 535.4,982.4 535.6,982.5 535.9,982.4 536.2,982.4 536.5,982.4 536.7,982.2 537.0,982.1 537.3,982.0 537.6,982.0 537.9,981.7 538.1,981.7 538.4,981.4 538.7,981.3 539.0,981.2 539.2,980.9 539.5,980.8 539.8,981.0 540.1,980.8 540.3,980.7 540.6,980.7 540.9,980.9 541.2,981.2 541.5,981.0 541.7,981.2 542.0,981.3 542.3,981.5 542.6,981.6 542.8,981.7 543.1,981.7 543.4,981.9 543.7,982.0 543.9,982.3 544.2,982.1 544.5,982.4 544.8,982.3 545.1,982.7 545.3,982.5 545.6,982.5 545.9,982.6 546.2,982.4 546.4,982.5 546.7,982.6 547.0,982.7 547.3,982.4 547.6,982.5 547.8,982.6 548.1,982.7 548.4,982.5 548.7,982.6 548.9,982.7 549.2,982.7 549.5,982.9 549.8,982.6 550.0,982.8 550.3,982.6 550.6,982.7 550.9,982.8 551.2,982.6 551.4,982.7 551.7,982.8 552.0,982.7 552.3,982.6 552.5,982.7 552.8,982.8 553.1,982.7 553.4,982.8 553.6,982.7 553.9,982.7 554.2,982.7 554.5,982.7 554.8,982.9 555.0,982.6 555.3,982.7 555.6,982.7 555.9,982.6 556.1,982.4 556.4,982.8 556.7,982.8 557.0,982.5 557.2,982.7 557.5,982.5 557.8,982.7 558.1,982.7 558.4,982.5 558.6,982.5 558.9,982.5 559.2,982.5 559.5,982.6 559.7,982.6 560.0,982.5 560.3,982.3 560.6,982.4 560.8,982.4 561.1,982.4 561.4,982.1 561.7,981.9 562.0,982.0 562.2,981.9 562.5,981.7 562.8,981.3 563.1,981.4 563.3,981.1 563.6,981.2 563.9,980.7 564.2,980.7 564.5,980.4 564.7,980.0 565.0,979.6 565.3,979.1 565.6,978.7 565.8,978.3 566.1,977.9 566.4,977.0 566.7,976.8 566.9,976.3 567.2,975.7 567.5,975.5 567.8,975.2 568.1,975.0 568.3,974.9 568.6,974.6 568.9,975.2 569.2,975.3 569.4,975.4 569.7,976.0 570.0,976.1 570.3,976.1 570.5,976.7 570.8,976.9 571.1,977.1 571.4,977.7 571.7,977.7 571.9,978.1 572.2,978.3 572.5,978.4 572.8,978.5 573.0,978.6 573.3,978.7 573.6,978.5 573.9,978.5 574.1,978.6 574.4,978.7 574.7,978.8 575.0,978.6 575.3,978.7 575.5,978.7 575.8,978.5 576.1,978.3 576.4,978.2 576.6,978.3 576.9,978.2 577.2,978.0 577.5,977.9 577.8,977.6 578.0,977.2 578.3,977.3 578.6,976.5 578.9,976.8 579.1,976.2 579.4,975.6 579.7,974.8 580.0,973.7 580.2,972.0 580.5,970.6 580.8,967.3 581.1,962.6 581.4,954.0 581.6,940.3 581.9,918.3 582.2,890.6 582.5,857.9 582.7,827.5 583.0,816.2 583.3,828.5 583.6,857.6 583.8,890.8 584.1,919.5 584.4,940.7 584.7,954.4 585.0,962.5 585.2,967.8 585.5,970.9 585.8,972.7 586.1,974.3 586.3,975.0 586.6,976.0 586.9,976.8 587.2,977.1 587.4,977.6 587.7,978.1 588.0,978.3 588.3,978.5 588.6,978.7 588.8,979.2 589.1,979.6 589.4,979.1 589.7,979.6 589.9,979.7 590.2,979.7 590.5,980.0 590.8,979.8 591.0,980.2 591.3,980.2 591.6,980.4 591.9,980.0 592.2,980.3 592.4,980.2 592.7,980.2 593.0,980.6 593.3,980.5 593.5,980.4 593.8,980.5 594.1,980.6 594.4,980.4 594.7,980.4 594.9,980.7 595.2,980.6 595.5,980.5 595.8,980.5 596.0,980.5 596.3,980.6 596.6,980.1 596.9,980.2 597.1,979.9 597.4,979.6 597.7,979.3 598.0,978.8 598.3,978.5 598.5,978.0 598.8,977.6 599.1,977.6 599.4,977.7 599.6,978.0 599.9,978.5 600.2,979.0 600.5,979.2 600.7,979.9 601.0,980.1 601.3,980.3 601.6,980.6 601.9,980.9 602.1,981.0 602.4,980.8 602.7,981.1 603.0,981.1 603.2,981.0 603.5,981.1 603.8,981.4 604.1,981.4 604.3,981.2 604.6,981.5 604.9,981.4 605.2,981.4 605.5,981.4 605.7,981.6 606.0,981.7 606.3,981.3 606.6,981.5 606.8,981.6 607.1,981.7 607.4,981.4 607.7,981.7 607.9,981.6 608.2,981.4 608.5,981.5 608.8,981.5 609.1,981.7 609.3,981.9 609.6,981.7 609.9,981.6 610.2,981.6 610.4,981.4 610.7,981.5 611.0,981.7 611.3,981.5 611.6,981.5 611.8,981.6 612.1,981.3 612.4,981.7 612.7,981.3 612.9,981.2 613.2,981.6 613.5,981.3 613.8,981.2 614.0,981.3 614.3,981.2 614.6,981.1 614.9,981.2 615.2,981.0 615.4,981.1 615.7,981.3 616.0,980.9 616.3,980.9 616.5,981.1 616.8,980.9 617.1,980.7 617.4,981.2 617.6,981.0 617.9,981.0 618.2,980.8 618.5,980.9 618.8,981.0 619.0,980.6 619.3,980.8 619.6,980.6 619.9,980.4 620.1,980.7 620.4,980.6 620.7,980.4 621.0,980.5 621.2,980.4 621.5,980.4 621.8,980.0 622.1,980.2 622.4,980.2 622.6,980.2 622.9,980.1 623.2,980.3 623.5,980.1 623.7,979.9 624.0,980.1 624.3,979.8 624.6,979.7 624.9,979.7 625.1,979.2 625.4,979.3 625.7,979.2 626.0,979.2 626.2,978.9 626.5,978.7 626.8,978.4 627.1,978.1 627.3,977.5 627.6,977.3 627.9,977.0 628.2,976.8 628.5,976.3 628.7,976.7 629.0,976.5 629.3,976.7 629.6,976.6 629.8,976.7 630.1,976.9 630.4,977.2 630.7,977.2 630.9,977.3 631.2,977.7 631.5,977.9 631.8,977.8 632.1,978.1 632.3,978.2 632.6,978.1 632.9,978.5 633.2,977.8 633.4,978.0 633.7,977.9 634.0,977.8 634.3,977.7 634.5,977.8 634.8,977.2 635.1,977.3 635.4,977.2 635.7,976.7 635.9,977.2 636.2,977.4 636.5,977.2 636.8,977.4 637.0,977.7 637.3,977.4 637.6,978.0 637.9,977.9 638.1,978.1 638.4,978.1 638.7,978.4 639.0,978.1 639.3,978.4 639.5,978.6 639.8,978.7 640.1,978.5 640.4,978.7 640.6,978.5 640.9,978.5 641.2,978.6 641.5,978.7 641.8,978.6 642.0,977.7 642.3,977.8 642.6,977.3 642.9,977.5 643.1,977.1 643.4,976.8 643.7,976.5 644.0,976.0 644.2,975.3 644.5,974.8 644.8,973.9 645.1,973.1 645.4,971.7 645.6,971.0 645.9,970.0 646.2,970.0 646.6,969.0 647.0,969.5 647.3,970.2 647.6,970.9 647.8,971.9 648.1,972.9 648.4,973.6 648.7,974.2 649.0,974.8 649.2,975.6 649.5,975.7 649.8,976.3 650.1,976.4 650.3,976.7 650.6,976.5 650.9,976.4 651.2,976.8 651.4,976.6 651.7,977.0 652.0,976.8 652.3,976.3 652.6,976.6 652.8,976.5 653.1,976.7 653.4,976.3 653.7,976.3 653.9,975.9 654.2,976.0 654.5,975.4 654.8,975.8 655.0,975.4 655.3,975.6 655.6,975.1 655.9,974.6 656.2,974.5 656.4,974.4 656.7,973.7 657.0,973.2 657.3,972.8 657.5,972.2 657.8,971.9 658.1,970.7 658.4,970.0 658.7,969.6 658.9,967.7 659.2,966.7 659.5,964.9 659.8,963.5 660.0,960.8 660.3,958.0 660.6,953.6 660.9,948.7 661.1,941.5 661.4,929.9 661.7,910.2 662.0,878.1 662.3,823.8 662.5,743.5 662.8,634.3 663.1,506.9 663.4,394.3 663.6,346.7 663.9,394.0 664.2,506.0 664.5,633.7 664.7,743.2 665.0,823.9 665.3,877.9 665.6,910.8 665.9,930.0 666.1,942.1 666.4,949.1 666.7,954.5 667.0,958.1 667.2,960.9 667.5,963.9 667.8,965.4 668.1,967.3 668.3,968.6 668.6,969.9 668.9,970.7 669.2,971.8 669.5,972.8 669.7,973.0 670.0,973.7 670.3,974.1 670.6,974.5 670.8,975.2 671.1,975.3 671.4,975.7 671.7,976.0 672.0,976.2 672.2,976.4 672.5,976.8 672.8,976.9 673.1,976.9 673.3,977.4 673.6,977.4 673.9,977.6 674.2,977.8 674.4,977.8 674.7,977.8 675.0,977.6 675.3,978.0 675.6,977.8 675.8,977.9 676.1,978.0 676.4,978.5 676.7,978.0 676.9,977.9 677.2,977.9 677.5,977.6 677.8,977.0 678.0,977.0 678.3,976.3 678.6,975.2 678.9,974.5 679.2,973.0 679.4,971.1 679.7,969.1 680.0,967.0 680.3,965.2 680.5,963.4 681.0,962.9 681.4,963.9 681.6,965.8 681.9,967.6 682.2,969.5 682.5,971.5 682.8,973.7 683.0,974.8 683.3,976.2 683.6,977.1 683.9,977.5 684.1,978.3 684.4,978.8 684.7,979.0 685.0,979.3 685.2,979.7 685.5,980.0 685.8,980.1 686.1,980.4 686.4,980.5 686.6,980.4 686.9,980.8 687.2,980.4 687.5,980.8 687.7,980.6 688.0,980.6 688.3,980.8 688.6,980.7 688.9,980.7 689.1,980.6 689.4,980.8 689.7,980.7 690.0,980.9 690.2,981.0 690.5,980.9 690.8,981.2 691.1,981.1 691.3,981.1 691.6,981.1 691.9,981.2 692.2,981.5 692.5,981.2 692.7,981.4 693.0,981.5 693.3,981.6 693.6,981.4 693.8,981.5 694.1,981.5 694.4,981.6 694.7,981.4 694.9,981.7 695.2,981.6 695.5,981.6 695.8,981.5 696.1,981.8 696.3,981.7 696.6,981.7 696.9,981.7 697.2,981.7 697.4,981.7 697.7,981.4 698.0,981.2 698.3,981.4 698.5,981.0 698.8,981.1 699.1,980.7 699.4,980.2 699.7,979.3 699.9,978.1 700.2,976.5 700.5,973.7 700.8,969.8 701.0,965.3 701.3,960.1 701.6,956.7 701.9,955.1 702.1,956.8 702.4,960.3 702.7,965.9 703.0,970.2 703.3,973.1 703.5,976.4 703.8,978.2 704.1,979.5 704.4,980.4 704.6,980.8 704.9,981.3 705.2,981.2 705.5,981.4 705.8,981.6 706.0,981.9 706.3,982.1 706.6,982.0 706.9,982.2 707.1,982.1 707.4,982.4 707.7,982.3 708.0,982.3 708.2,982.3 708.5,982.3 708.8,982.5 709.1,982.5 709.4,982.2 709.6,982.4 709.9,982.6 710.2,982.3 710.5,982.5 710.7,982.5 711.0,982.7 711.3,982.4 711.6,982.6 711.8,982.6 712.1,982.7 712.4,982.7 712.7,982.6 713.0,982.6 713.2,982.4 713.5,982.6 713.8,982.6 714.1,982.4 714.3,982.3 714.6,982.5 714.9,982.2 715.2,982.3 715.4,982.2 715.7,982.3 716.0,982.3 716.3,982.2 716.6,982.4 716.8,982.4 717.1,982.3 717.4,982.5 717.7,982.5 717.9,982.5 718.2,982.7 718.5,982.7 718.8,983.0 719.1,982.9 719.3,982.7 719.6,983.0 719.9,982.9 720.2,982.9 720.4,982.9 720.7,982.8 721.0,982.9 721.3,983.0 721.5,982.8 721.8,983.0 722.1,983.0 722.4,982.9 722.7,982.9 722.9,982.9 723.2,983.0 723.5,983.0 723.8,982.9 724.0,982.8 724.3,982.6 724.6,982.8 724.9,982.8 725.1,983.0 725.4,982.6 725.7,982.6 726.0,982.6 726.3,982.7 726.5,982.8 726.8,982.4 727.1,982.5 727.4,982.2 727.6,982.2 727.9,982.0 728.2,982.1 728.5,981.9 728.7,982.1 729.0,981.7 729.4,981.8 729.9,981.7 730.1,981.7 730.4,981.6 730.7,981.5 731.0,981.2 731.2,981.1 731.5,980.9 731.8,980.3 732.1,979.8 732.3,979.1 732.6,978.2 732.9,977.2 733.2,976.2 733.5,974.7 733.7,974.1 734.0,972.3 734.3,970.7 734.6,970.0 734.8,968.9 735.3,968.3 735.7,968.8 736.0,970.1 736.2,971.1 736.5,972.3 736.8,973.9 737.1,975.0 737.3,976.2 737.6,977.7 737.9,978.9 738.2,979.6 738.4,980.4 738.7,981.0 739.0,981.4 739.3,981.8 739.6,982.0 739.8,982.1 740.1,982.3 740.4,982.5 740.7,982.7 740.9,982.7 741.2,982.8 741.5,982.9 741.8,983.1 742.0,983.4 742.3,982.9 742.6,983.2 742.9,983.2 743.2,983.2 743.4,983.2 743.7,983.3 744.0,983.1 744.3,983.3 744.5,983.3 744.8,983.4 745.1,983.4 745.4,983.3 745.6,983.4 745.9,983.4 746.2,983.5 746.5,983.4 746.8,983.6 747.0,983.5 747.3,983.6 747.6,983.5 747.9,983.4 748.1,983.5 748.4,983.6 748.7,983.5 749.0,983.4 749.2,983.5 749.5,983.5 749.8,983.7 750.1,983.6 750.4,983.7 750.6,983.6 750.9,983.6 751.2,983.6 751.5,983.6 751.7,983.5 752.0,983.7 752.3,983.6 752.6,983.6 752.9,983.8 753.1,983.7 753.4,983.8 753.7,983.7 754.0,983.6 754.2,983.6 754.5,983.6 754.8,983.6 755.1,983.7 755.3,983.4 755.6,983.4 755.9,983.7 756.2,983.7 756.5,983.6 756.7,983.6 757.0,983.5 757.3,983.6 757.6,983.9 757.8,983.3 758.1,983.5 758.4,983.5 758.7,983.6 758.9,983.5 759.2,983.5 759.5,983.6 759.8,983.4 760.1,983.5 760.3,983.4 760.6,983.5 760.9,983.4 761.2,983.7 761.4,983.4 761.7,983.5 762.0,983.5 762.3,983.4 762.5,983.5 762.8,983.4 763.1,983.4 763.4,983.3 763.7,983.2 763.9,983.3 764.2,983.1 764.5,983.3 764.8,983.4 765.0,983.3 765.3,983.4 765.6,983.5 765.9,983.3 766.2,983.5 766.4,983.3 766.7,983.3 767.0,983.3 767.3,983.3 767.5,983.2 767.8,983.2 768.1,983.0 768.4,983.0 768.6,982.9 768.9,983.0 769.2,983.0 769.5,983.0 769.8,982.9 770.0,982.6 770.3,982.7 770.6,982.6 770.9,982.5 771.1,982.2 771.4,982.2 771.7,982.0 772.0,982.0 772.4,981.7 772.8,981.4 773.1,981.4 773.4,981.3 773.6,980.7 773.9,980.7 774.2,980.3 774.5,980.0 774.7,979.7 775.0,979.5 775.3,979.3 775.6,979.0 775.8,978.6 776.1,978.2 776.4,977.9 776.7,977.7 777.0,977.6 777.2,977.3 777.5,977.0 777.9,977.1 778.3,977.3 778.6,977.4 778.9,977.4 779.2,977.6 779.4,978.0 779.7,978.4 780.0,978.8 780.3,979.0 780.6,979.5 780.8,979.7 781.1,979.9 781.4,980.3 781.7,980.4 781.9,981.0 782.2,981.3 782.5,981.2 782.8,981.5 783.1,981.9 783.3,981.9 783.6,982.2 783.9,982.2 784.2,982.3 784.4,982.4 784.7,982.7 785.0,982.8 785.3,982.6 785.5,982.8 785.8,982.7 786.1,983.0 786.4,983.0 786.7,983.2 786.9,982.8 787.2,982.8 787.5,982.9 787.8,983.0 788.0,983.3 788.3,983.2 788.6,983.1 788.9,982.8 789.1,982.9 789.4,983.1 789.7,983.0 790.0,983.0 790.3,983.0 790.5,983.1 790.8,983.1 791.1,982.9 791.4,982.9 791.6,983.0 791.9,982.7 792.2,982.9 792.5,983.0 792.7,982.8 793.0,982.8 793.3,982.9 793.6,982.6 793.9,982.6 794.1,982.7 794.4,982.6 794.7,982.5 795.0,982.5 795.2,982.3 795.5,982.3 795.8,982.2 796.1,981.9 796.3,981.9 796.6,981.6 796.9,981.4 797.2,980.7 797.5,980.3 797.7,979.0 798.0,977.5 798.3,975.4 798.6,971.7 798.8,966.8 799.1,960.3 799.4,952.8 799.7,945.6 800.1,940.8 800.5,945.4 800.8,952.5 801.1,960.5 801.3,966.8 801.6,971.7 801.9,975.3 802.2,977.6 802.4,979.0 802.7,980.1 803.0,980.7 803.3,980.8 803.6,981.3 803.8,981.3 804.1,981.9 804.4,981.8 804.7,981.9 804.9,982.0 805.2,982.3 805.5,982.3 805.8,982.5 806.0,982.6 806.3,982.5 806.6,982.5 806.9,982.6 807.2,982.6 807.4,982.5 807.7,982.7 808.0,982.6 808.3,982.6 808.5,982.6 808.8,982.6 809.1,982.8 809.4,982.7 809.6,982.7 809.9,982.6 810.2,982.9 810.5,982.7 810.8,982.9 811.0,982.6 811.3,982.7 811.6,982.7 811.9,982.6 812.1,982.5 812.4,982.8 812.7,982.6 813.0,982.8 813.2,982.6 813.5,982.7 813.8,982.5 814.1,982.6 814.4,982.5 814.6,982.7 814.9,982.5 815.2,982.6 815.5,982.4 815.7,982.4 816.0,982.6 816.3,982.4 816.6,982.3 816.9,982.1 817.1,982.2 817.4,982.3 817.7,982.3 818.0,982.2 818.2,982.4 818.5,982.3 818.8,982.6 819.1,982.4 819.3,982.2 819.6,982.5 819.9,982.2 820.2,982.2 820.5,982.2 820.7,982.1 821.0,982.1 821.3,982.2 821.6,982.0 821.8,982.2 822.1,981.7 822.4,981.8 822.7,981.7 822.9,981.9 823.2,981.5 823.5,981.6 823.8,981.7 824.1,981.7 824.3,981.7 824.6,981.7 824.9,981.9 825.2,982.0 825.4,982.0 825.7,982.0 826.0,982.0 826.3,982.1 826.5,982.3 826.8,982.3 827.1,982.4 827.4,982.5 827.7,982.7 827.9,982.7 828.2,982.7 828.5,982.6 828.8,982.7 829.0,982.6 829.3,982.6 829.6,982.6 829.9,982.7 830.2,982.8 830.4,982.8 830.7,982.7 831.0,982.9 831.3,982.9 831.5,982.8 831.8,982.6 832.1,982.6 832.4,982.7 832.6,983.0 832.9,982.7 833.2,982.6 833.5,982.6 833.8,982.5 834.0,982.8 834.3,982.6 834.6,982.8 834.9,982.6 835.1,982.5 835.4,982.3 835.7,982.3 836.0,982.5 836.2,982.2 836.5,982.0 836.8,981.6 837.1,981.7 837.4,981.4 837.6,981.0 837.9,980.1 838.2,979.3 838.5,977.6 838.7,975.0 839.0,971.6 839.3,966.3 839.6,960.9 839.8,953.8 840.1,949.1 840.4,946.9 840.7,949.2 841.0,954.4 841.2,960.8 841.5,966.7 841.8,971.6 842.1,975.4 842.3,977.7 842.6,979.3 842.9,980.4 843.2,981.0 843.4,981.6 843.7,981.7 844.0,982.0 844.3,982.3 844.6,982.3 844.8,982.5 845.1,982.6 845.4,982.6 845.7,982.6 845.9,982.8 846.2,982.8 846.5,982.7 846.8,982.7 847.1,982.6 847.3,982.4 847.6,982.8 847.9,982.5 848.2,982.5 848.4,982.1 848.7,981.9 849.0,981.7 849.3,980.7 849.5,980.0 849.8,979.0 850.1,977.5 850.4,975.9 850.7,974.3 850.9,972.4 851.2,970.6 851.6,969.9 852.0,971.1 852.3,972.5 852.6,974.1 852.9,976.2 853.1,977.8 853.4,979.1 853.7,980.4 854.0,981.2 854.3,982.0 854.5,982.3 854.8,982.6 855.1,982.9 855.4,983.1 855.6,983.2 855.9,983.2 856.2,983.5 856.5,983.5 856.7,983.4 857.0,983.6 857.3,983.7 857.6,983.7 857.9,983.8 858.1,983.7 858.4,983.8 858.7,983.9 859.0,983.8 859.2,983.8 859.5,984.1 859.8,984.0 860.1,984.0 860.4,984.1 860.6,983.9 860.9,983.8 861.2,983.9 861.5,983.9 861.7,984.3 862.0,984.1 862.3,984.2 862.6,984.0 862.8,984.1 863.1,984.1 863.4,984.0 863.7,984.0 864.0,983.9 864.2,983.9 864.5,984.0 864.8,984.3 865.1,984.0 865.3,984.1 865.6,984.3 865.9,984.1 866.2,984.1 866.4,984.1 866.7,984.0 867.0,984.3 867.3,984.0 867.6,984.0 867.8,984.2 868.1,984.0 868.4,984.2 868.7,984.2 868.9,984.0 869.2,984.1 869.5,984.3 869.8,984.1 870.0,984.0 870.3,984.1 870.6,984.1 870.9,984.0 871.2,984.0 871.4,984.1 871.7,984.1 872.0,983.9 872.3,983.8 872.5,984.1 872.8,983.8 873.1,983.7 873.4,983.8 873.6,983.5 873.9,983.8 874.2,983.5 874.5,983.3 874.8,983.3 875.0,983.7 875.3,983.3 875.6,983.3 875.9,983.1 876.1,982.9 876.4,982.9 876.7,982.7 877.0,982.8 877.3,982.9 877.5,982.7 877.8,982.5 878.1,982.3 878.4,982.0 878.6,982.1 878.9,981.7 879.2,981.0 879.5,980.5 879.7,979.1 880.0,977.5 880.3,974.9 880.6,971.2 880.9,967.5 881.1,962.7 881.4,958.2 881.7,954.3 882.0,953.0 882.2,954.1 882.5,958.0 882.8,963.1 883.1,967.5 883.3,971.5 883.6,975.3 883.9,977.7 884.2,979.6 884.5,980.8 884.7,981.7 885.0,982.3 885.3,982.4 885.6,982.8 885.8,983.2 886.1,983.2 886.4,983.3 886.7,983.5 886.9,983.4 887.2,983.6 887.5,983.6 887.8,983.8 888.1,983.8 888.3,983.8 888.6,983.9 888.9,983.9 889.2,984.0 889.4,983.9 889.7,983.8 890.0,984.0 890.3,984.2 890.5,984.0 890.8,984.1 891.1,984.0 891.4,983.9 891.7,983.9 891.9,984.0 892.2,984.3 892.5,983.9 892.8,984.0 893.0,984.0 893.3,984.1 893.6,984.2 893.9,984.1 894.2,984.3 894.4,984.0 894.7,984.2 895.0,984.2 895.3,984.1 895.5,984.3 895.8,984.1 896.1,984.2 896.4,983.9 896.6,984.0 896.9,984.1 897.2,984.2 897.5,984.2 897.8,984.2 898.0,984.4 898.3,984.3 898.6,984.3 898.9,984.3 899.1,984.2 899.4,984.4 899.7,984.3 900.0,984.3 900.2,984.3 900.5,984.1 900.8,983.9 901.1,984.2 901.4,984.1 901.6,984.2 901.9,984.2 902.2,984.0 902.5,984.2 902.7,984.2 903.0,984.2 903.3,984.3 903.6,984.1 903.8,984.2 904.1,984.1 904.4,984.3 904.7,984.2 905.0,984.0 905.2,984.3 905.5,984.2 905.8,984.1 906.1,984.2 906.3,984.3 906.6,984.3 906.9,984.2 907.2,984.3 907.5,984.3 907.7,984.2 908.0,984.3 908.3,984.0 908.6,984.3 908.8,984.2 909.1,984.2 909.4,984.1 909.7,984.2 909.9,984.0 910.2,984.0 910.5,984.1 910.8,984.4 911.1,984.4 911.3,984.2 911.6,984.2 911.9,984.1 912.2,984.1 912.4,984.1 912.7,984.2 913.0,984.1 913.3,984.4 913.5,984.0 913.8,984.3 914.1,984.4 914.4,984.2 914.7,984.2 914.9,984.3 915.2,984.1 915.5,984.1 915.8,984.0 916.0,984.0 916.3,984.1 916.6,984.0 916.9,983.9 917.1,984.0 917.4,984.0 917.7,984.2 918.0,983.9 918.3,983.7 918.5,983.8 918.8,983.8 919.1,983.6 919.4,983.6 919.6,983.5 919.9,983.7 920.2,983.6 920.5,983.3 920.7,983.2 921.0,983.1 921.3,983.3 921.6,982.9 921.9,982.6 922.1,982.6 922.4,982.3 922.7,982.4 923.0,982.4 923.4,982.2 923.8,981.8 924.1,981.8 924.4,982.0 924.6,981.7 924.9,981.2 925.2,980.8 925.5,979.8 925.7,978.9 926.0,977.7 926.3,976.3 926.6,974.4 926.8,972.0 927.1,969.7 927.4,967.1 927.7,965.0 928.0,963.3 928.2,962.9 928.5,963.5 928.8,965.3 929.1,967.9 929.3,970.2 929.6,972.7 929.9,974.6 930.2,977.0 930.4,978.5 930.7,979.7 931.0,980.6 931.3,981.4 931.6,982.0 931.8,982.3 932.1,982.8 932.4,982.8 932.7,983.3 932.9,983.3 933.2,983.3 933.5,983.4 933.8,983.6 934.0,983.7 934.3,983.8 934.6,984.0 934.9,984.0 935.2,983.6 935.4,984.0 935.7,984.1 936.0,984.1 936.3,984.0 936.5,984.0 936.8,984.1 937.1,984.1 937.4,984.0 937.6,984.2 937.9,984.0 938.2,983.9 938.5,984.2 938.8,984.1 939.0,984.2 939.3,984.2 939.6,984.3 939.9,984.1 940.1,984.1 940.4,984.0 940.7,983.9 941.0,984.3 941.3,984.0 941.5,984.3 941.8,984.2 942.1,984.3 942.4,984.1 942.6,984.1 942.9,984.2 943.2,984.2 943.5,984.3 943.7,984.2 944.0,984.3 944.3,984.2 944.6,984.4 944.9,984.0 945.1,984.1 945.4,984.3 945.7,984.2 946.0,984.2 946.2,984.2 946.5,984.2 946.8,984.0 947.1,984.2 947.3,984.4 947.6,984.1 947.9,984.1 948.2,984.2 948.5,984.0 948.7,984.1 949.0,984.1 949.3,984.0 949.6,984.1 949.8,984.0 950.1,983.7 950.4,983.7 950.7,983.7 950.9,983.7 951.2,983.5 951.5,983.6 951.8,983.4 952.1,983.4 952.3,983.3 952.6,982.9 952.9,983.1 953.2,982.9 953.4,982.8 953.7,982.7 954.1,982.8 954.6,982.8 954.8,982.8 955.1,982.9 955.4,983.0 955.7,983.2 955.9,983.3 956.2,983.2 956.5,983.5 956.8,983.4 957.0,983.4 957.3,983.8 957.6,983.9 957.9,984.0 958.2,984.0 958.4,983.8 958.7,984.1 959.0,984.2 959.3,984.3 959.5,984.1 959.8,984.1 960.1,984.0 960.4,984.2 960.6,984.2 960.9,984.2 961.2,983.9 961.5,984.1 961.8,984.2 962.0,984.3 962.3,984.3 962.6,984.3 962.9,984.3 963.1,984.2 963.4,984.3 963.7,984.0 964.0,984.3 964.2,984.2 964.5,984.1 964.8,984.1 965.1,984.1 965.4,984.2 965.6,984.2 965.9,984.1 966.2,984.1 966.5,984.2 966.7,984.2 967.0,984.4 967.3,984.2 967.6,984.5 967.8,984.1 968.1,984.3 968.4,984.1 968.7,984.2 969.0,984.3 969.2,984.1 969.5,984.0 969.8,984.3 970.1,984.0 970.3,984.1 970.6,984.2 970.9,984.2 971.2,984.1 971.5,984.0 971.7,984.1 972.0,984.0 972.3,983.9 972.6,983.9 972.8,983.6 973.1,983.7 973.4,983.6 973.7,983.7 973.9,983.7 974.2,983.7 974.6,983.5 975.1,983.5 975.3,983.5 975.6,983.4 975.9,983.5 976.2,983.8 976.4,983.7 976.7,983.5 977.0,983.8 977.3,983.8 977.5,984.0 977.8,984.0 978.1,983.9 978.4,983.9 978.7,983.8 978.9,983.9 979.2,984.1 979.5,983.6 979.8,983.8 980.0,984.0 980.3,983.6 980.6,983.6 980.9,983.7 981.1,983.7 981.4,983.5 981.7,983.8 982.0,983.4 982.3,983.4 982.5,983.2 982.8,983.3 983.1,983.2 983.4,982.8 983.6,983.2 983.9,982.4 984.2,982.2 984.5,982.3 984.7,981.8 985.0,981.4 985.3,980.8 985.6,980.1 985.9,978.9 986.1,976.8 986.4,973.8 986.7,968.9 987.0,962.0 987.2,953.0 987.5,941.1 987.8,929.3 988.1,920.5 988.4,916.2 988.6,920.1 988.9,929.9 989.2,941.6 989.5,953.1 989.7,961.8 990.0,969.1 990.3,973.4 990.6,976.9 990.8,978.4 991.1,979.9 991.4,980.6 991.7,981.3 992.0,981.7 992.2,982.2 992.5,982.4 992.8,982.7 993.1,982.8 993.3,983.0 993.6,983.0 993.9,983.2 994.2,983.4 994.4,983.6 994.7,983.4 995.0,983.7 995.3,983.7 995.6,983.6 995.8,983.7 996.1,983.8 996.4,983.8 996.7,984.1 996.9,983.8 997.2,983.9 997.5,983.9 997.8,984.0 998.0,984.0 998.3,983.9 998.6,984.0 998.9,983.9 999.2,984.0 999.4,984.0 999.7,984.0 1000.0,984.0 1000.3,984.2 1000.5,984.2 1000.8,984.0 1001.1,984.2 1001.4,984.2 1001.7,984.2 1001.9,984.1 1002.2,984.3 1002.5,984.2 1002.8,984.2 1003.0,984.3 1003.3,984.1 1003.6,984.3 1003.9,984.2 1004.1,984.2 1004.4,984.2 1004.7,984.2 1005.0,984.2 1005.3,984.3 1005.5,984.5 1005.8,984.2 1006.1,984.1 1006.4,984.3 1006.6,984.3 1006.9,984.2 1007.2,984.3 1007.5,984.3 1007.7,984.3 1008.0,984.2 1008.3,984.3 1008.6,984.1 1008.9,984.4 1009.1,984.3 1009.4,984.4 1009.7,984.2 1010.0,984.3 1010.2,984.3 1010.5,984.2 1010.8,984.4 1011.1,984.4 1011.3,984.0 1011.6,984.2 1011.9,984.3 1012.2,984.1 1012.5,984.2 1012.7,984.3 1013.0,984.2 1013.3,984.1 1013.6,984.2 1013.8,984.2 1014.1,984.0 1014.4,984.3 1014.7,984.2 1014.9,984.1 1015.2,984.2 1015.5,984.0 1015.8,984.0 1016.1,983.9 1016.3,984.0 1016.6,983.8 1016.9,984.1 1017.2,983.9 1017.4,983.9 1017.7,983.8 1018.0,983.7 1018.3,983.8 1018.6,983.5 1018.8,983.4 1019.1,983.4 1019.4,983.5 1019.7,983.2 1019.9,983.2 1020.2,983.3 1020.5,983.2 1020.8,983.1 1021.0,983.1 1021.3,982.9 1021.6,982.7 1021.9,982.8 1022.2,982.9 1022.4,982.8 1022.7,982.8 1023.0,982.8 1023.3,982.6 1023.5,982.9 1023.8,982.8 1024.1,982.9 1024.4,982.8 1024.6,983.1 1024.9,983.0 1025.2,983.2 1025.5,983.2 1025.8,983.5 1026.0,983.4 1026.3,983.3 1026.6,983.4 1026.9,983.7 1027.1,983.4 1027.4,983.7 1027.7,983.8 1028.0,983.8 1028.2,984.0 1028.5,983.7 1028.8,983.8 1029.1,983.8 1029.4,984.1 1029.6,984.3 1029.9,984.3 1030.2,984.3 1030.5,984.2 1030.7,984.3 1031.0,984.4 1031.3,984.1 1031.6,984.3 1031.8,984.2 1032.1,984.1 1032.4,984.3 1032.7,984.3 1033.0,984.1 1033.2,984.4 1033.5,984.3 1033.8,984.4 1034.1,984.3 1034.3,984.3 1034.6,984.3 1034.9,984.3 1035.2,984.2 1035.5,984.4 1035.7,984.3 1036.0,984.2 1036.3,984.4 1036.6,984.4 1036.8,984.3 1037.1,984.3 1037.4,984.2 1037.7,984.4 1037.9,984.5 1038.2,984.2 1038.5,984.4 1038.8,984.4 1039.1,984.3 1039.3,984.2 1039.6,984.2 1039.9,984.3 1040.2,984.2 1040.4,984.3 1040.7,984.1 1041.0,984.2 1041.3,984.3 1041.5,984.2 1041.8,984.4 1042.1,984.3 1042.4,984.3 1042.7,984.1 1042.9,984.0 1043.2,984.2 1043.5,984.2 1043.8,984.0 1044.0,984.2 1044.3,984.0 1044.6,984.2 1044.9,984.0 1045.1,984.2 1045.4,983.9 1045.7,984.1 1046.0,984.1 1046.3,984.0 1046.5,984.3 1046.8,984.0 1047.1,983.9 1047.4,983.7 1047.6,984.0 1047.9,983.7 1048.2,983.6 1048.5,983.6 1048.8,983.7 1049.0,983.6 1049.3,983.6 1049.6,983.3 1049.9,983.4 1050.1,983.1 1050.4,982.8 1050.7,982.5 1051.0,982.1 1051.2,981.3 1051.5,980.3 1051.8,979.0 1052.1,977.4 1052.4,975.3 1052.6,973.4 1052.9,970.9 1053.2,969.2 1053.5,967.4 1053.7,966.9 1054.0,967.3 1054.3,968.5 1054.6,971.0 1054.8,972.7 1055.1,975.1 1055.4,976.9 1055.7,978.5 1056.0,979.2 1056.2,980.1 1056.5,980.4 1056.8,980.7 1057.1,980.6 1057.3,980.6 1057.6,980.5 1057.9,980.2 1058.2,979.8 1058.4,979.3 1058.7,979.0 1059.0,978.3 1059.3,978.3 1059.6,977.7 1059.8,977.0 1060.1,976.7 1060.4,976.2 1060.7,976.2 1060.9,976.3 1061.2,976.5 1061.5,976.7 1061.8,976.9 1062.0,977.3 1062.3,977.7 1062.6,978.4 1062.9,978.9 1063.2,979.5 1063.4,979.9 1063.7,980.5 1064.0,980.9 1064.3,981.2 1064.5,981.7 1064.8,982.1 1065.1,982.3 1065.4,982.5 1065.7,982.9 1065.9,983.1 1066.2,983.4 1066.5,983.5 1066.8,983.6 1067.0,983.7 1067.3,983.8 1067.6,983.5 1067.9,983.7 1068.1,983.9 1068.4,983.9 1068.7,984.0 1069.0,984.0 1069.3,984.2 1069.5,984.1 1069.8,984.2 1070.1,984.2 1070.4,984.1 1070.6,984.5 1070.9,984.4 1071.2,984.1 1071.5,984.1 1071.7,984.1 1072.0,984.3 1072.3,984.3 1072.6,984.2 1072.9,984.3 1073.1,984.5 1073.4,984.2 1073.7,984.4 1074.0,984.3 1074.2,984.5 1074.5,984.4 1074.8,984.2 1075.1,984.4 1075.3,984.3 1075.6,984.2 1075.9,984.3 1076.2,984.3 1076.5,984.4 1076.7,984.3 1077.0,984.3 1077.3,984.3 1077.6,984.2 1077.8,984.3 1078.1,984.3 1078.4,984.5 1078.7,984.4 1078.9,984.3 1079.2,984.5 1079.5,984.6 1079.8,984.4 1080.1,984.5 1080.3,984.4 1080.6,984.2 1080.9,984.5 1081.2,984.5 1081.4,984.5 1081.7,984.5 1082.0,984.5 1082.3,984.3 1082.6,984.4 1082.8,984.4 1083.1,984.5 1083.4,984.3 1083.7,984.5 1083.9,984.3 1084.2,984.4 1084.5,984.5 1084.8,984.4 1085.0,984.2 1085.3,984.6 1085.6,984.4 1085.9,984.6 1086.2,984.6 1086.4,984.5 1086.7,984.4 1087.0,984.6 1087.3,984.5 1087.5,984.3 1087.8,984.4 1088.1,984.5 1088.4,984.4 1088.6,984.5 1088.9,984.5 1089.2,984.6 1089.5,984.4 1089.8,984.6 1090.0,984.5 1090.3,984.5 1090.6,984.7 1090.9,984.5 1091.1,984.3 1091.4,984.6 1091.7,984.5 1092.0,984.4 1092.2,984.5 1092.5,984.5 1092.8,984.4 1093.1,984.5 1093.4,984.5 1093.6,984.6 1093.9,984.6 1094.2,984.7 1094.5,984.5 1094.7,984.5 1095.0,984.6 1095.3,984.7 1095.6,984.6 1095.8,984.7 1096.1,984.4 1096.4,984.6 1096.7,984.4 1097.0,984.6 1097.2,984.4 1097.5,984.5 1097.8,984.4 1098.1,984.5 1098.3,984.7 1098.6,984.5 1098.9,984.6 1099.2,984.7 1099.5,984.6 1099.7,984.5 1100.0,984.4 1100.3,984.4 1100.6,984.4 1100.8,984.4 1101.1,984.5 1101.4,984.5 1101.7,984.5 1101.9,984.5 1102.2,984.5 1102.5,984.5 1102.8,984.5 1103.1,984.5 1103.3,984.4 1103.6,984.5 1103.9,984.4 1104.2,984.6 1104.4,984.6 1104.7,984.3 1105.0,984.5 1105.3,984.3 1105.5,984.7 1105.8,984.7 1106.1,984.5 1106.4,984.5 1106.7,984.7 1106.9,984.4 1107.2,984.4 1107.5,984.5 1107.8,984.4 1108.0,984.4 1108.3,984.4 1108.6,984.5 1108.9,984.4 1109.1,984.5 1109.4,984.5 1109.7,984.6 1110.0,984.4 1110.3,984.3 1110.5,984.5 1110.8,984.5 1111.1,984.6 1111.4,984.4 1111.6,984.3 1111.9,984.4 1112.2,984.3 1112.5,984.3 1112.8,984.5 1113.0,984.4 1113.3,984.3 1113.6,984.4 1113.9,984.5 1114.1,984.3 1114.4,984.3 1114.7,984.2 1115.0,984.4 1115.2,984.2 1115.5,984.2 1115.8,984.5 1116.1,984.1 1116.4,984.2 1116.6,984.4 1116.9,984.0 1117.2,984.1 1117.5,984.1 1117.7,983.8 1118.0,983.9 1118.3,984.1 1118.6,983.9 1118.8,983.6 1119.1,983.6 1119.4,983.5 1119.7,983.6 1120.0,983.3 1120.2,983.4 1120.5,983.1 1120.8,982.8 1121.1,982.6 1121.3,982.1 1121.6,981.6 1121.9,980.7 1122.2,979.0 1122.4,977.0 1122.7,973.6 1123.0,969.3 1123.3,963.2 1123.6,956.0 1123.8,950.0 1124.2,944.8 1124.7,949.7 1124.9,956.3 1125.2,962.8 1125.5,969.4 1125.8,973.8 1126.0,977.1 1126.3,979.3 1126.6,981.0 1126.9,981.5 1127.2,982.1 1127.4,982.4 1127.7,982.8 1128.0,983.0 1128.3,983.3 1128.5,983.5 1128.8,983.7 1129.1,983.6 1129.4,983.9 1129.7,983.7 1129.9,983.8 1130.2,984.0 1130.5,984.0 1130.8,984.2 1131.0,984.2 1131.3,984.2 1131.6,984.3 1131.9,984.2 1132.1,984.2 1132.4,984.3 1132.7,984.3 1133.0,984.4 1133.3,984.5 1133.5,984.2 1133.8,984.3 1134.1,984.2 1134.4,984.4 1134.6,984.4 1134.9,984.2 1135.2,984.2 1135.5,984.2 1135.7,984.2 1136.0,984.5 1136.3,984.3 1136.6,984.1 1136.9,984.6 1137.1,984.3 1137.4,984.1 1137.7,984.4 1138.0,984.3 1138.2,984.1 1138.5,984.3 1138.8,984.3 1139.1,984.2 1139.3,984.3 1139.6,984.2 1139.9,984.3 1140.2,984.2 1140.5,984.3 1140.7,984.2 1141.0,984.2 1141.3,984.4 1141.6,984.0 1141.8,984.1 1142.1,984.1 1142.4,984.2 1142.7,984.0 1143.0,984.0 1143.2,983.8 1143.5,983.7 1143.8,983.9 1144.1,983.8 1144.3,983.7 1144.6,983.7 1144.9,983.5 1145.2,983.7 1145.4,983.4 1145.7,983.4 1146.0,983.4 1146.3,983.4 1146.6,983.1 1146.8,983.0 1147.1,983.0 1147.4,982.9 1147.7,982.8 1147.9,982.9 1148.2,982.7 1148.5,982.9 1148.8,982.7 1149.0,983.0 1149.5,982.8 1149.9,982.6 1150.2,982.6 1150.4,982.7 1150.7,983.0 1151.0,982.9 1151.3,982.9 1151.5,983.1 1151.8,983.0 1152.1,983.2 1152.4,983.0 1152.6,983.3 1152.9,983.4 1153.2,983.4 1153.5,983.4 1153.8,983.6 1154.0,983.8 1154.3,983.8 1154.6,983.9 1154.9,983.8 1155.1,984.0 1155.4,983.9 1155.7,984.1 1156.0,984.0 1156.2,984.0 1156.5,984.2 1156.8,984.0 1157.1,984.2 1157.4,984.3 1157.6,984.3 1157.9,984.3 1158.2,984.4 1158.5,984.4 1158.7,984.3 1159.0,984.6 1159.3,984.1 1159.6,984.3 1159.9,984.3 1160.1,984.2 1160.4,984.3 1160.7,984.4 1161.0,984.5 1161.2,984.4 1161.5,984.3 1161.8,984.6 1162.1,984.3 1162.3,984.5 1162.6,984.6 1162.9,984.3 1163.2,984.5 1163.5,984.4 1163.7,984.6 1164.0,984.4 1164.3,984.6 1164.6,984.4 1164.8,984.7 1165.1,984.6 1165.4,984.6 1165.7,984.5 1165.9,984.6 1166.2,984.6 1166.5,984.5 1166.8,984.6 1167.1,984.5 1167.3,984.5 1167.6,984.7 1167.9,984.4 1168.2,984.6 1168.4,984.6 1168.7,984.3 1169.0,984.6 1169.3,984.5 1169.5,984.4 1169.8,984.6 1170.1,984.5 1170.4,984.5 1170.7,984.5 1170.9,984.6 1171.2,984.4 1171.5,984.5 1171.8,984.4 1172.0,984.5 1172.3,984.6 1172.6,984.4 1172.9,984.6 1173.1,984.4 1173.4,984.5 1173.7,984.5 1174.0,984.4 1174.3,984.2 1174.5,984.3 1174.8,984.4 1175.1,984.3 1175.4,984.2 1175.6,984.4 1175.9,984.5 1176.2,984.4 1176.5,984.2 1176.8,984.2 1177.0,984.1 1177.3,983.8 1177.6,983.8 1177.9,983.7 1178.1,983.4 1178.4,982.9 1178.7,982.5 1179.0,982.2 1179.2,981.8 1179.5,981.4 1179.8,980.9 1180.1,980.4 1180.4,979.8 1180.8,979.7 1181.2,979.9 1181.5,980.3 1181.7,980.9 1182.0,981.3 1182.3,981.9 1182.6,982.1 1182.8,982.7 1183.1,983.1 1183.4,983.4 1183.7,983.6 1184.0,983.8 1184.2,984.0 1184.5,984.1 1184.8,984.2 1185.1,984.2 1185.3,984.2 1185.6,984.3 1185.9,984.4 1186.2,984.4 1186.4,984.6 1186.7,984.5 1187.0,984.5 1187.3,984.7 1187.6,984.4 1187.8,984.4 1188.1,984.5 1188.4,984.3 1188.7,984.7 1188.9,984.5 1189.2,984.5 1189.5,984.6 1189.8,984.4 1190.1,984.4 1190.3,984.5 1190.6,984.6 1190.9,984.5 1191.2,984.5 1191.4,984.5 1191.7,984.7 1192.0,984.7 1192.3,984.5 1192.5,984.6 1192.8,984.6 1193.1,984.6 1193.4,984.9 1193.7,984.4 1193.9,984.7 1194.2,984.7 1194.5,984.5 1194.8,984.4 1195.0,984.5 1195.3,984.6 1195.6,984.6 1195.9,984.5 1196.1,984.5 1196.4,984.7 1196.7,984.4 1197.0,984.7 1197.3,984.5 1197.5,984.5 1197.8,984.5 1198.1,984.5 1198.4,984.4 1198.6,984.5 1198.9,984.6 1199.2,984.6 1199.5,984.3 1199.7,984.7 1200.0,984.4 1200.3,984.5 1200.6,984.6 1200.9,984.5 1201.1,984.3 1201.4,984.6 1201.7,984.2 1202.0,984.1 1202.2,984.2 1202.5,984.1 1202.8,984.0 1203.1,983.9 1203.3,984.1 1203.6,984.0 1203.9,983.8 1204.2,984.0 1204.5,983.8 1204.7,983.8 1205.0,983.8 1205.3,983.7 1205.6,984.0 1205.8,983.9 1206.1,983.9 1206.4,984.0 1206.7,984.1 1207.0,984.0 1207.2,984.1 1207.5,984.1 1207.8,984.2 1208.1,984.2 1208.3,984.3 1208.6,984.4 1208.9,984.3 1209.2,984.4 1209.4,984.4 1209.7,984.4 1210.0,984.5 1210.3,984.4 1210.6,984.4 1210.8,984.6 1211.1,984.5 1211.4,984.5 1211.7,984.4 1211.9,984.5 1212.2,984.5 1212.5,984.4 1212.8,984.6 1213.0,984.5 1213.3,984.5 1213.6,984.4 1213.9,984.3 1214.2,984.5 1214.4,984.5 1214.7,984.5 1215.0,984.4 1215.3,984.3 1215.5,984.5 1215.8,984.5 1216.1,984.3 1216.4,984.4 1216.6,984.4 1216.9,984.5 1217.2,984.3 1217.5,984.4 1217.8,984.6 1218.0,984.6 1218.3,984.4 1218.6,984.4 1218.9,984.3 1219.1,984.3 1219.4,984.2 1219.7,984.2 1220.0,984.4 1220.2,984.4 1220.5,984.4 1220.8,984.2 1221.1,984.4 1221.4,984.2 1221.6,984.4 1221.9,984.1 1222.2,984.1 1222.5,984.4 1222.7,984.2 1223.0,984.2 1223.3,984.3 1223.6,984.0 1223.9,984.1 1224.1,983.9 1224.4,983.9 1224.7,983.7 1225.0,983.9 1225.2,983.7 1225.5,983.8 1225.8,983.8 1226.1,983.5 1226.3,983.5 1226.6,983.5 1226.9,983.3 1227.2,983.4 1227.5,982.9 1227.7,982.7 1228.0,982.8 1228.3,982.3 1228.6,981.9 1228.8,981.4 1229.1,980.4 1229.4,979.3 1229.7,978.1 1229.9,976.4 1230.2,973.9 1230.5,971.7 1230.8,968.9 1231.1,965.8 1231.3,962.6 1231.6,960.5 1232.0,958.9 1232.4,960.2 1232.7,962.6 1233.0,965.1 1233.3,968.1 1233.5,970.5 1233.8,973.1 1234.1,975.2 1234.4,976.2 1234.7,977.4 1234.9,978.0 1235.2,978.0 1235.5,977.6 1235.8,977.1 1236.0,975.4 1236.3,973.4 1236.6,971.2 1236.9,969.0 1237.2,966.3 1237.4,963.7 1237.8,961.4 1238.3,960.3 1238.5,960.7 1238.8,960.5 1239.1,959.9 1239.4,958.3 1239.6,956.1 1239.9,953.4 1240.2,951.4 1240.6,950.1 1241.0,953.2 1241.3,957.1 1241.6,961.0 1241.9,965.4 1242.1,969.5 1242.4,972.8 1242.7,975.4 1243.0,977.6 1243.2,979.2 1243.5,980.6 1243.8,981.3 1244.1,981.6 1244.4,982.1 1244.6,982.5 1244.9,982.9 1245.2,982.8 1245.5,983.2 1245.7,983.2 1246.0,983.3 1246.3,983.5 1246.6,983.6 1246.8,983.6 1247.1,983.8 1247.4,983.8 1247.7,983.8 1248.0,983.7 1248.2,984.0 1248.5,983.9 1248.8,983.9 1249.1,984.3 1249.3,984.2 1249.6,984.1 1249.9,984.2 1250.2,984.1 1250.4,984.3 1250.7,984.2 1251.0,984.1 1251.3,984.3 1251.6,984.2 1251.8,984.1 1252.1,984.2 1252.4,984.3 1252.7,984.5 1252.9,984.4 1253.2,984.4 1253.5,984.4 1253.8,984.4 1254.1,984.4 1254.3,984.5 1254.6,984.4 1254.9,984.3 1255.2,984.5 1255.4,984.4 1255.7,984.4 1256.0,984.5 1256.3,984.4 1256.5,984.4 1256.8,984.6 1257.1,984.5 1257.4,984.6 1257.7,984.6 1257.9,984.7 1258.2,984.5 1258.5,984.3 1258.8,984.6 1259.0,984.4 1259.3,984.4 1259.6,984.6 1259.9,984.5 1260.1,984.6 1260.4,984.8 1260.7,984.5 1261.0,984.6 1261.3,984.6 1261.5,984.5 1261.8,984.5 1262.1,984.6 1262.4,984.6 1262.6,984.5 1262.9,984.7 1263.2,984.5 1263.5,984.6"/></defs>
<g fill="none" stroke="#00f" stroke-linejoin="round" stroke-linecap="round"><use href="#c3" stroke-width="5"/><use href="#c3" stroke-width="6.7" shape-rendering="crispEdges"/></g>
<g class="tl" text-anchor="end">
<text x="208.5" y="1100.3">-20,000</text>
<text x="208.5" y="996.2">0</text>
<text x="208.5" y="892.1">20,000</text>
<text x="208.5" y="788.0">40,000</text>
<text x="208.5" y="683.9">60,000</text>
<text x="208.5" y="579.8">80,000</text>
<text x="208.5" y="475.7">100,000</text>
<text x="208.5" y="371.6">120,000</text>
<text x="208.5" y="267.5">140,000</text>
<text x="208.5" y="163.4">160,000</text>
</g>
<g class="tl" text-anchor="middle">
<text x="293.8" y="1134.3">0</text>
<text x="432.3" y="1134.3">10</text>
<text x="570.8" y="1134.3">20</text>
<text x="709.4" y="1134.3">30</text>
<text x="847.9" y="1134.3">40</text>
<text x="986.4" y="1134.3">50</text>
<text x="1124.9" y="1134.3">60</text>
<text x="1263.5" y="1134.3">70</text>
<text x="1402.0" y="1134.3">80</text>
</g>
<text class="ax" text-anchor="middle" x="775.6" y="1199.0">2Th Degrees</text>
<text class="ax" text-anchor="middle" transform="translate(82.8,590) rotate(-90)">Counts</text>
</g>
<text class="cap" y="2794.5"><tspan x="708.8">(</tspan><tspan class="b" text-anchor="middle" x="756">3</tspan><tspan x="775.8">)</tspan></text>
<g transform="translate(1734,1413)">
<path d="M44 49H1473V1244H44Z M52 56V1237H1465V56Z" fill="#000" fill-rule="evenodd"/>
<path d="M294.3 1091.0 v-15.0 M294.3 102.0 v15.0 M432.8 1091.0 v-15.0 M432.8 102.0 v15.0 M571.3 1091.0 v-15.0 M571.3 102.0 v15.0 M709.9 1091.0 v-15.0 M709.9 102.0 v15.0 M848.4 1091.0 v-15.0 M848.4 102.0 v15.0 M986.9 1091.0 v-15.0 M986.9 102.0 v15.0 M1125.4 1091.0 v-15.0 M1125.4 102.0 v15.0 M1264.0 1091.0 v-15.0 M1264.0 102.0 v15.0 M363.5 1091.0 v-8.0 M363.5 102.0 v8.0 M502.1 1091.0 v-8.0 M502.1 102.0 v8.0 M640.6 1091.0 v-8.0 M640.6 102.0 v8.0 M779.1 1091.0 v-8.0 M779.1 102.0 v8.0 M917.6 1091.0 v-8.0 M917.6 102.0 v8.0 M1056.2 1091.0 v-8.0 M1056.2 102.0 v8.0 M1194.7 1091.0 v-8.0 M1194.7 102.0 v8.0 M1333.2 1091.0 v-8.0 M1333.2 102.0 v8.0 M225.0 1014.9 h8.0 M1402.5 1014.9 h-8.0 M225.0 938.8 h15.0 M1402.5 938.8 h-15.0 M225.0 862.8 h8.0 M1402.5 862.8 h-8.0 M225.0 786.7 h15.0 M1402.5 786.7 h-15.0 M225.0 710.6 h8.0 M1402.5 710.6 h-8.0 M225.0 634.5 h15.0 M1402.5 634.5 h-15.0 M225.0 558.5 h8.0 M1402.5 558.5 h-8.0 M225.0 482.4 h15.0 M1402.5 482.4 h-15.0 M225.0 406.3 h8.0 M1402.5 406.3 h-8.0 M225.0 330.2 h15.0 M1402.5 330.2 h-15.0 M225.0 254.2 h8.0 M1402.5 254.2 h-8.0 M225.0 178.1 h15.0 M1402.5 178.1 h-15.0" stroke="#000" stroke-width="4" fill="none" shape-rendering="crispEdges"/>
<path d="M223 100H1404V1093H223Z M227 104V1089H1401V104Z" fill="#000" fill-rule="evenodd"/>
<defs><polyline id="c4" points="363.5,914.0 363.8,913.9 364.1,914.2 364.4,914.0 364.6,913.8 364.9,914.0 365.2,913.7 365.5,914.4 365.7,914.1 366.0,914.3 366.3,914.4 366.6,914.2 366.9,914.2 367.1,914.1 367.4,914.1 367.7,913.7 368.0,914.1 368.2,914.7 368.5,914.3 368.8,914.5 369.1,914.5 369.3,914.0 369.6,914.4 369.9,914.9 370.2,914.3 370.5,914.5 370.7,914.8 371.0,914.7 371.3,914.7 371.6,914.5 371.8,914.7 372.1,914.5 372.4,914.1 372.7,914.8 372.9,914.8 373.2,914.7 373.5,914.4 373.8,914.8 374.1,914.3 374.3,915.0 374.6,915.0 374.9,914.7 375.2,915.0 375.4,914.9 375.7,914.6 376.0,914.6 376.3,914.7 376.6,914.8 376.8,914.4 377.1,914.7 377.4,914.8 377.7,914.4 377.9,915.0 378.2,914.7 378.5,914.5 378.8,914.6 379.0,914.7 379.3,914.3 379.6,914.4 379.9,914.2 380.2,914.1 380.4,913.3 380.7,913.7 381.0,913.5 381.3,913.3 381.5,913.7 381.8,914.1 382.1,914.1 382.4,914.5 382.6,914.7 382.9,915.3 383.2,915.1 383.5,915.0 383.8,915.2 384.0,915.2 384.3,915.1 384.6,915.5 384.9,915.1 385.1,916.0 385.4,915.8 385.7,916.4 386.0,915.6 386.2,915.8 386.5,915.4 386.8,916.0 387.1,916.5 387.4,915.7 387.6,916.4 387.9,916.4 388.2,916.1 388.5,916.0 388.7,916.3 389.0,916.1 389.3,916.7 389.6,915.8 389.9,916.3 390.1,916.3 390.4,916.2 390.7,916.3 391.0,916.3 391.2,916.6 391.5,916.4 391.8,916.3 392.1,916.1 392.3,916.4 392.6,916.4 392.9,916.3 393.2,916.3 393.5,916.4 393.7,916.5 394.0,916.5 394.3,916.1 394.6,916.4 394.8,916.4 395.1,915.6 395.4,916.2 395.7,916.2 395.9,916.4 396.2,916.7 396.5,916.2 396.8,916.5 397.1,916.5 397.3,916.2 397.6,916.2 397.9,916.4 398.2,916.5 398.4,916.0 398.7,916.4 399.0,916.8 399.3,916.3 399.5,916.5 399.8,916.5 400.1,916.4 400.4,916.5 400.7,916.0 400.9,916.5 401.2,916.5 401.5,916.3 401.8,916.7 402.0,916.3 402.3,916.6 402.6,916.3 402.9,916.8 403.1,916.5 403.4,917.0 403.7,916.7 404.0,916.6 404.3,916.5 404.5,916.1 404.8,916.1 405.1,916.9 405.4,916.8 405.6,916.3 405.9,916.5 406.2,916.9 406.5,916.5 406.8,916.9 407.0,916.8 407.3,916.9 407.6,916.7 407.9,916.0 408.1,916.5 408.4,916.6 408.7,916.0 409.0,916.7 409.2,916.6 409.5,916.7 409.8,916.5 410.1,916.7 410.4,916.2 410.6,916.6 410.9,916.4 411.2,916.5 411.5,916.7 411.7,916.7 412.0,916.5 412.3,917.0 412.6,916.4 412.8,916.3 413.1,916.2 413.4,916.1 413.7,915.9 414.0,916.0 414.2,915.6 414.5,916.0 414.8,915.1 415.1,915.1 415.3,914.1 415.6,913.4 415.9,912.0 416.2,910.1 416.4,907.2 416.7,905.2 417.0,902.7 417.4,900.6 417.8,903.0 418.1,906.0 418.4,909.2 418.7,912.3 418.9,914.5 419.2,915.8 419.5,917.4 419.8,917.9 420.0,918.5 420.3,919.1 420.6,919.8 420.9,919.3 421.2,919.9 421.4,920.0 421.7,920.2 422.0,920.4 422.3,920.3 422.5,920.3 422.8,920.6 423.1,920.4 423.4,920.2 423.7,920.4 423.9,920.6 424.2,920.3 424.5,920.4 424.8,920.4 425.0,920.8 425.3,921.1 425.6,920.5 425.9,920.7 426.1,920.9 426.4,920.7 426.7,920.9 427.0,921.0 427.3,920.4 427.5,921.3 427.8,920.7 428.1,920.7 428.4,920.6 428.6,920.9 428.9,920.9 429.2,921.3 429.5,921.1 429.7,921.6 430.0,921.3 430.3,921.2 430.6,921.2 430.9,921.3 431.1,921.0 431.4,921.6 431.7,921.2 432.0,921.4 432.2,921.3 432.5,921.3 432.8,920.9 433.1,921.6 433.3,921.1 433.6,921.1 433.9,921.5 434.2,921.6 434.5,921.8 434.7,921.8 435.0,921.1 435.3,922.1 435.6,921.5 435.8,921.8 436.1,921.2 436.4,921.6 436.7,922.0 437.0,921.9 437.2,921.7 437.5,921.8 437.8,922.1 438.1,921.9 438.3,922.0 438.6,921.8 438.9,921.9 439.2,921.9 439.4,922.1 439.7,921.8 440.0,922.2 440.3,922.2 440.6,922.2 440.8,922.2 441.1,922.2 441.4,922.6 441.7,921.9 441.9,922.1 442.2,921.9 442.5,922.4 442.8,922.1 443.0,922.3 443.3,922.3 443.6,921.9 443.9,922.5 444.2,922.3 444.4,922.8 444.7,922.3 445.0,922.5 445.3,922.7 445.5,922.6 445.8,923.0 446.1,922.8 446.4,922.5 446.6,923.2 446.9,922.4 447.2,922.4 447.5,922.8 447.8,923.0 448.0,923.0 448.3,923.0 448.6,922.9 448.9,922.3 449.1,923.0 449.4,922.6 449.7,922.5 450.0,923.0 450.2,922.9 450.5,922.7 450.8,923.0 451.1,922.6 451.4,922.4 451.6,922.9 451.9,923.1 452.2,922.8 452.5,922.8 452.7,923.1 453.0,923.0 453.3,922.9 453.6,922.8 453.9,922.7 454.1,923.1 454.4,923.3 454.7,923.3 455.0,922.6 455.2,923.0 455.5,923.0 455.8,922.3 456.1,922.6 456.3,922.3 456.6,922.8 456.9,922.8 457.2,922.7 457.5,922.4 457.7,922.4 458.0,922.3 458.3,921.8 458.6,922.0 458.8,922.5 459.1,922.0 459.4,921.9 459.7,922.1 459.9,921.3 460.2,921.4 460.5,921.1 460.8,921.4 461.1,921.4 461.3,920.7 461.6,920.6 461.9,920.4 462.2,920.0 462.4,919.6 462.7,919.2 463.0,918.8 463.3,918.2 463.5,917.0 463.8,916.9 464.1,916.7 464.4,915.4 464.7,915.4 464.9,915.1 465.2,914.6 465.5,914.4 465.8,913.3 466.2,913.5 466.6,914.2 466.9,914.7 467.1,915.1 467.4,915.7 467.7,916.8 468.0,917.4 468.3,918.1 468.5,918.8 468.8,919.9 469.1,920.3 469.4,921.0 469.6,921.6 469.9,922.4 470.2,923.0 470.5,923.0 470.8,923.5 471.0,924.1 471.3,924.4 471.6,924.3 471.9,924.3 472.1,924.8 472.4,924.5 472.7,925.1 473.0,925.2 473.2,925.3 473.5,925.2 473.8,925.9 474.1,925.6 474.4,925.4 474.6,926.1 474.9,925.8 475.2,925.7 475.5,925.6 475.7,925.7 476.0,926.1 476.3,925.7 476.6,926.5 476.8,926.6 477.1,926.1 477.4,926.3 477.7,926.7 478.0,926.3 478.2,926.4 478.5,926.5 478.8,926.8 479.1,927.1 479.3,927.2 479.6,927.0 479.9,927.0 480.2,927.2 480.4,927.2 480.7,927.0 481.0,927.5 481.3,927.5 481.6,927.0 481.8,927.6 482.1,927.6 482.4,927.3 482.7,928.0 482.9,927.3 483.2,928.0 483.5,928.0 483.8,928.1 484.1,928.1 484.3,928.1 484.6,927.8 484.9,928.1 485.2,927.9 485.4,928.0 485.7,928.5 486.0,928.3 486.3,928.5 486.5,928.5 486.8,928.4 487.1,928.5 487.4,928.5 487.7,929.1 487.9,928.7 488.2,928.8 488.5,928.4 488.8,928.9 489.0,928.9 489.3,928.9 489.6,928.8 489.9,929.2 490.1,929.1 490.4,929.1 490.7,929.1 491.0,929.2 491.3,929.3 491.5,929.2 491.8,929.5 492.1,929.0 492.4,929.4 492.6,929.7 492.9,929.5 493.2,929.2 493.5,929.5 493.7,929.5 494.0,929.9 494.3,929.2 494.6,929.5 494.9,929.9 495.1,929.7 495.4,929.3 495.7,929.5 496.0,929.9 496.2,929.8 496.5,929.6 496.8,929.3 497.1,929.7 497.3,929.6 497.6,929.9 497.9,929.8 498.2,930.0 498.5,930.1 498.7,930.2 499.0,930.0 499.3,929.7 499.6,930.0 499.8,929.8 500.1,929.9 500.4,930.0 500.7,930.2 501.0,929.7 501.2,929.9 501.5,929.9 501.8,929.7 502.1,930.0 502.3,930.2 502.6,930.2 502.9,930.2 503.2,929.9 503.4,930.6 503.7,930.8 504.0,930.6 504.3,930.5 504.6,930.6 504.8,930.4 505.1,930.5 505.4,930.6 505.7,930.6 505.9,930.3 506.2,930.3 506.5,930.4 506.8,930.8 507.0,930.6 507.3,931.0 507.6,931.2 507.9,930.6 508.2,930.8 508.4,930.8 508.7,930.7 509.0,930.7 509.3,931.0 509.5,931.0 509.8,931.0 510.1,931.0 510.4,931.1 510.6,931.4 510.9,930.8 511.2,931.4 511.5,931.4 511.8,931.2 512.0,931.4 512.3,931.3 512.6,931.0 512.9,931.2 513.1,931.5 513.4,931.4 513.7,931.5 514.0,931.3 514.2,931.7 514.5,931.8 514.8,931.9 515.1,931.6 515.4,931.6 515.6,931.6 515.9,931.6 516.2,932.0 516.5,931.8 516.7,932.0 517.0,931.6 517.3,931.7 517.6,932.1 517.9,931.8 518.1,931.9 518.4,931.9 518.7,931.8 519.0,932.1 519.2,932.0 519.5,932.1 519.8,932.1 520.1,932.2 520.3,931.8 520.6,931.9 520.9,932.1 521.2,932.4 521.5,931.7 521.7,932.1 522.0,932.1 522.3,932.0 522.6,931.8 522.8,932.2 523.1,932.6 523.4,932.2 523.7,932.2 523.9,932.3 524.2,931.9 524.5,932.3 524.8,932.2 525.1,932.4 525.3,932.1 525.6,932.4 525.9,932.1 526.2,932.3 526.4,932.3 526.7,932.3 527.0,932.6 527.3,932.4 527.5,932.3 527.8,932.5 528.1,932.2 528.4,932.3 528.7,932.6 528.9,932.2 529.2,932.5 529.5,932.4 529.8,932.3 530.0,932.7 530.3,932.7 530.6,932.5 530.9,932.6 531.2,932.8 531.4,932.4 531.7,932.5 532.0,932.5 532.3,932.5 532.5,932.5 532.8,932.7 533.1,932.5 533.4,932.7 533.6,932.7 533.9,932.7 534.2,932.4 534.5,933.0 534.8,932.7 535.0,932.4 535.3,932.6 535.6,932.6 535.9,932.3 536.1,932.6 536.4,932.5 536.7,932.3 537.0,932.4 537.2,932.3 537.5,932.1 537.8,931.8 538.1,932.0 538.4,931.5 538.6,931.3 538.9,931.0 539.2,930.7 539.5,929.7 539.7,929.4 540.0,929.0 540.3,928.6 540.6,927.9 541.0,928.0 541.4,928.4 541.7,928.8 542.0,929.2 542.2,929.6 542.5,930.0 542.8,930.9 543.1,930.9 543.3,931.3 543.6,931.4 543.9,931.9 544.2,931.8 544.4,931.9 544.7,932.4 545.0,932.5 545.3,932.3 545.6,932.3 545.8,932.6 546.1,932.4 546.4,932.9 546.7,932.5 546.9,932.6 547.2,932.6 547.5,932.6 547.8,932.6 548.1,932.8 548.3,932.5 548.6,933.1 548.9,932.7 549.2,932.9 549.4,932.5 549.7,933.0 550.0,932.8 550.3,932.8 550.5,932.7 550.8,932.8 551.1,933.0 551.4,932.9 551.7,932.7 551.9,932.7 552.2,933.0 552.5,933.1 552.8,933.1 553.0,932.9 553.3,932.9 553.6,932.9 553.9,933.0 554.1,932.9 554.4,932.7 554.7,932.7 555.0,933.0 555.3,932.8 555.5,932.9 555.8,932.7 556.1,932.7 556.4,932.7 556.6,932.5 556.9,932.7 557.2,932.7 557.5,932.6 557.7,933.1 558.0,932.9 558.3,932.9 558.6,932.7 558.9,932.8 559.1,933.1 559.4,933.0 559.7,932.9 560.0,932.9 560.2,932.8 560.5,932.9 560.8,932.6 561.1,932.9 561.3,932.7 561.6,932.7 561.9,932.5 562.2,932.1 562.5,932.4 562.7,932.2 563.0,932.5 563.3,932.1 563.6,931.7 563.8,931.6 564.1,931.3 564.4,931.3 564.7,930.9 565.0,930.7 565.2,930.3 565.5,930.3 565.8,929.8 566.1,929.8 566.3,929.6 566.6,928.9 566.9,929.1 567.2,928.7 567.4,927.9 567.7,927.9 568.0,927.6 568.3,927.4 568.6,927.2 568.8,926.7 569.2,926.9 569.7,926.9 569.9,926.6 570.2,926.9 570.5,927.2 570.8,927.2 571.0,927.3 571.3,926.9 571.6,927.8 571.9,927.7 572.2,928.3 572.4,928.0 572.7,928.3 573.0,928.3 573.3,928.5 573.5,928.7 573.8,928.7 574.1,928.8 574.4,928.7 574.6,928.9 574.9,929.0 575.2,929.2 575.5,928.8 575.8,929.1 576.0,929.3 576.3,928.9 576.6,928.9 576.9,929.1 577.1,929.1 577.4,929.0 577.7,929.2 578.0,929.4 578.2,928.8 578.5,929.0 578.8,928.4 579.1,928.4 579.4,928.0 579.6,927.8 579.9,927.2 580.2,926.6 580.5,926.0 580.7,924.8 581.0,923.1 581.3,920.6 581.6,916.5 581.9,908.8 582.1,898.5 582.4,884.3 582.7,867.5 583.0,850.6 583.4,836.9 583.8,849.4 584.1,866.4 584.3,883.8 584.6,898.1 584.9,910.0 585.2,916.5 585.5,921.6 585.7,924.4 586.0,925.7 586.3,926.8 586.6,928.0 586.8,928.8 587.1,929.2 587.4,929.4 587.7,929.5 587.9,929.6 588.2,930.1 588.5,930.6 588.8,930.8 589.1,930.8 589.3,930.8 589.6,931.5 589.9,931.2 590.2,931.4 590.4,931.3 590.7,931.8 591.0,931.4 591.3,931.4 591.5,931.4 591.8,931.4 592.1,931.7 592.4,931.8 592.7,932.1 592.9,931.9 593.2,932.1 593.5,931.9 593.8,931.9 594.0,932.0 594.3,931.8 594.6,932.3 594.9,932.2 595.2,931.8 595.4,932.1 595.7,932.0 596.0,932.6 596.3,931.9 596.5,932.2 596.8,932.2 597.1,931.9 597.4,932.0 597.6,932.3 597.9,931.7 598.2,932.1 598.5,932.0 598.8,932.0 599.0,931.9 599.3,931.9 599.7,931.8 600.1,931.9 600.4,932.0 600.7,931.6 601.0,932.0 601.2,932.1 601.5,932.4 601.8,932.0 602.1,932.3 602.4,932.4 602.6,932.6 602.9,932.4 603.2,932.9 603.5,932.8 603.7,932.8 604.0,932.7 604.3,932.7 604.6,933.0 604.8,932.7 605.1,932.9 605.4,933.0 605.7,932.9 606.0,933.0 606.2,933.0 606.5,933.0 606.8,932.9 607.1,933.0 607.3,933.0 607.6,933.2 607.9,932.9 608.2,933.1 608.4,933.2 608.7,932.9 609.0,933.4 609.3,933.3 609.6,933.0 609.8,933.2 610.1,933.2 610.4,933.2 610.7,933.2 610.9,933.1 611.2,933.1 611.5,933.3 611.8,933.3 612.1,933.6 612.3,933.3 612.6,933.2 612.9,933.3 613.2,933.0 613.4,933.2 613.7,933.1 614.0,932.9 614.3,933.2 614.5,932.7 614.8,933.2 615.1,932.9 615.4,933.1 615.7,932.8 615.9,932.9 616.2,932.5 616.5,932.9 616.8,932.4 617.0,932.4 617.3,932.3 617.6,932.1 617.9,932.1 618.1,932.3 618.4,932.0 618.7,932.1 619.0,932.1 619.3,931.9 619.5,931.9 619.8,931.8 620.1,931.5 620.4,931.6 620.6,931.8 621.1,931.4 621.5,931.4 621.7,931.3 622.0,930.7 622.3,931.0 622.6,931.0 622.9,930.8 623.1,931.2 623.4,930.4 623.7,930.7 624.0,930.7 624.2,930.3 624.5,930.5 624.8,930.4 625.1,929.9 625.4,929.6 625.6,929.9 625.9,929.6 626.2,929.5 626.5,929.1 626.7,929.1 627.0,928.7 627.3,928.6 627.6,928.2 627.8,927.8 628.1,928.0 628.4,927.3 628.7,926.9 629.1,927.1 629.5,927.2 629.8,927.3 630.1,927.3 630.3,927.5 630.6,927.8 630.9,927.6 631.2,927.7 631.4,927.7 631.7,927.8 632.0,928.0 632.3,927.8 632.6,927.7 632.8,926.7 633.1,926.8 633.4,925.9 633.7,924.9 633.9,924.1 634.2,922.7 634.5,920.9 634.8,918.7 635.0,917.1 635.3,914.4 635.6,912.0 635.9,909.8 636.2,908.4 636.6,907.1 637.0,907.9 637.3,909.7 637.5,912.2 637.8,914.6 638.1,916.2 638.4,919.0 638.6,921.2 638.9,922.4 639.2,924.1 639.5,925.0 639.8,925.8 640.0,926.8 640.3,927.4 640.6,927.1 640.9,928.0 641.1,928.1 641.4,928.1 641.7,928.1 642.0,928.3 642.3,928.5 642.5,927.7 642.8,928.1 643.1,928.0 643.4,927.7 643.6,927.6 643.9,927.6 644.2,927.4 644.5,927.3 644.7,927.0 645.0,927.0 645.3,926.6 645.6,925.9 645.9,925.2 646.1,924.9 646.4,924.3 646.7,923.4 647.0,922.5 647.2,922.1 647.5,921.7 647.8,921.5 648.1,921.7 648.3,922.1 648.6,922.4 648.9,923.3 649.2,923.8 649.5,924.5 649.7,925.2 650.0,925.5 650.3,925.9 650.6,926.6 650.8,926.5 651.1,926.6 651.4,926.8 651.7,927.1 651.9,927.0 652.2,926.8 652.5,927.1 652.8,926.7 653.1,926.9 653.3,926.7 653.6,927.3 653.9,926.5 654.2,926.4 654.4,926.7 654.7,926.1 655.0,926.3 655.3,926.3 655.5,925.6 655.8,925.4 656.1,925.3 656.4,925.2 656.7,924.9 656.9,925.2 657.2,924.6 657.5,923.9 657.8,923.7 658.0,923.3 658.3,922.9 658.6,922.4 658.9,921.8 659.2,920.8 659.4,920.5 659.7,918.5 660.0,917.4 660.3,916.5 660.5,913.7 660.8,911.2 661.1,908.1 661.4,903.6 661.6,897.4 661.9,887.9 662.2,872.7 662.5,845.8 662.8,800.5 663.0,732.0 663.3,642.6 663.6,536.3 663.9,442.7 664.1,402.8 664.4,442.4 664.7,537.2 665.0,641.1 665.2,732.9 665.5,800.0 665.8,845.1 666.1,872.5 666.4,888.2 666.6,897.8 666.9,904.2 667.2,908.9 667.5,911.8 667.7,914.2 668.0,916.3 668.3,917.8 668.6,919.3 668.8,920.9 669.1,921.3 669.4,922.5 669.7,923.2 670.0,923.9 670.2,924.8 670.5,925.5 670.8,925.3 671.1,925.7 671.3,925.9 671.6,926.7 671.9,926.8 672.2,927.2 672.5,927.2 672.7,927.7 673.0,927.9 673.3,928.2 673.6,928.1 673.8,928.0 674.1,928.6 674.4,928.6 674.7,928.3 674.9,928.9 675.2,929.2 675.5,929.1 675.8,928.8 676.1,929.1 676.3,929.3 676.6,929.3 676.9,929.0 677.2,929.5 677.4,929.0 677.7,929.4 678.0,929.1 678.3,929.4 678.5,929.3 678.8,928.4 679.1,928.6 679.4,928.4 679.7,927.5 679.9,927.1 680.2,926.3 680.5,925.4 680.8,924.3 681.0,923.0 681.3,922.9 681.7,922.1 682.1,922.6 682.4,923.9 682.7,924.4 683.0,925.7 683.3,926.5 683.5,927.6 683.8,928.1 684.1,928.8 684.4,929.4 684.6,929.7 684.9,930.2 685.2,930.4 685.5,930.7 685.7,931.0 686.0,931.2 686.3,931.3 686.6,931.6 686.9,931.5 687.1,931.4 687.4,931.4 687.7,931.7 688.0,931.5 688.2,931.9 688.5,931.8 688.8,931.9 689.1,931.7 689.4,931.9 689.6,932.0 689.9,931.7 690.2,931.7 690.5,932.2 690.7,931.8 691.0,931.9 691.3,931.9 691.6,932.2 691.8,931.9 692.1,932.1 692.4,932.5 692.7,932.7 693.0,932.5 693.2,932.3 693.5,931.8 693.8,932.7 694.1,932.4 694.3,932.5 694.6,932.5 694.9,932.5 695.2,932.5 695.4,932.7 695.7,932.4 696.0,932.6 696.3,932.5 696.6,932.6 696.8,933.0 697.1,932.5 697.4,933.0 697.7,932.8 697.9,932.8 698.2,932.9 698.5,932.8 698.8,933.0 699.0,932.5 699.3,932.5 699.6,932.4 699.9,932.0 700.2,931.7 700.4,931.3 700.7,930.9 701.0,929.6 701.3,928.4 701.5,926.6 701.8,924.8 702.1,923.2 702.4,921.4 702.6,919.9 703.1,919.0 703.5,920.1 703.8,921.7 704.0,923.6 704.3,925.5 704.6,927.2 704.9,928.3 705.1,929.4 705.4,931.1 705.7,931.3 706.0,932.1 706.3,932.4 706.5,932.4 706.8,932.6 707.1,932.1 707.4,932.7 707.6,933.0 707.9,933.2 708.2,932.9 708.5,933.1 708.7,933.1 709.0,933.3 709.3,932.9 709.6,933.0 709.9,932.9 710.1,933.3 710.4,933.2 710.7,933.2 711.0,933.4 711.2,933.1 711.5,933.5 711.8,933.3 712.1,933.4 712.3,933.2 712.6,933.4 712.9,933.2 713.2,933.3 713.5,933.1 713.7,933.1 714.0,932.6 714.3,933.0 714.6,932.5 714.8,932.7 715.1,931.9 715.4,932.2 715.7,931.9 715.9,932.2 716.2,931.5 716.5,931.6 716.8,931.7 717.2,931.5 717.6,931.5 717.9,931.3 718.2,931.9 718.4,931.9 718.7,931.9 719.0,932.1 719.3,932.6 719.6,932.8 719.8,932.5 720.1,932.7 720.4,932.7 720.7,932.8 720.9,933.0 721.2,932.9 721.5,933.2 721.8,933.1 722.0,933.1 722.3,933.2 722.6,933.1 722.9,932.8 723.2,933.1 723.4,932.9 723.7,933.0 724.0,933.3 724.3,932.9 724.5,933.3 724.8,932.9 725.1,933.0 725.4,933.1 725.6,932.8 725.9,932.9 726.2,932.5 726.5,933.1 726.8,932.4 727.0,932.5 727.3,932.5 727.6,932.7 727.9,932.6 728.1,932.7 728.4,932.2 728.7,932.2 729.0,931.8 729.2,931.8 729.5,931.6 729.8,931.8 730.1,931.3 730.4,931.0 730.6,930.7 730.9,931.0 731.2,930.0 731.5,930.1 731.7,929.2 732.0,928.4 732.3,927.1 732.6,926.2 732.8,924.7 733.1,922.8 733.4,920.2 733.7,916.9 734.0,912.5 734.2,907.7 734.5,901.2 734.8,895.4 735.1,887.7 735.3,880.8 735.6,874.2 735.9,868.0 736.2,864.9 736.5,862.7 736.7,864.0 737.0,868.1 737.3,874.1 737.6,880.8 737.8,887.9 738.1,894.9 738.4,901.7 738.7,907.7 738.9,912.4 739.2,917.2 739.5,919.8 739.8,922.9 740.1,924.9 740.3,926.3 740.6,928.0 740.9,928.8 741.2,929.5 741.4,930.2 741.7,930.3 742.0,931.3 742.3,931.3 742.5,931.5 742.8,931.7 743.1,932.1 743.4,931.9 743.7,932.1 743.9,932.5 744.2,932.5 744.5,933.0 744.8,932.7 745.0,932.9 745.3,932.9 745.6,933.0 745.9,933.2 746.1,933.3 746.4,933.6 746.7,933.7 747.0,933.7 747.3,933.4 747.5,933.6 747.8,933.8 748.1,933.8 748.4,933.7 748.6,933.8 748.9,933.6 749.2,934.0 749.5,934.1 749.7,934.3 750.0,934.1 750.3,934.0 750.6,934.3 750.9,934.0 751.1,934.0 751.4,934.3 751.7,934.1 752.0,934.4 752.2,934.1 752.5,934.2 752.8,934.1 753.1,934.4 753.4,934.2 753.6,934.1 753.9,934.3 754.2,934.3 754.5,934.4 754.7,934.1 755.0,934.2 755.3,934.1 755.6,934.1 755.8,934.2 756.1,934.2 756.4,934.4 756.7,934.3 757.0,934.2 757.2,934.5 757.5,934.4 757.8,934.1 758.1,934.0 758.3,934.2 758.6,934.3 758.9,934.0 759.2,934.1 759.4,934.0 759.7,934.1 760.0,934.2 760.3,934.1 760.6,934.0 760.8,934.1 761.1,934.5 761.4,934.0 761.7,934.3 761.9,934.4 762.2,934.4 762.5,934.2 762.8,934.6 763.0,934.4 763.3,934.2 763.6,934.1 763.9,933.9 764.2,934.2 764.4,934.3 764.7,934.3 765.0,934.0 765.3,934.1 765.5,934.1 765.8,934.3 766.1,934.3 766.4,934.2 766.7,934.1 766.9,934.0 767.2,933.8 767.5,934.0 767.8,934.0 768.0,933.9 768.3,934.3 768.6,934.1 768.9,933.9 769.1,933.8 769.4,934.0 769.7,934.2 770.0,934.2 770.3,933.9 770.5,933.8 770.8,934.2 771.1,933.9 771.4,933.8 771.6,933.5 771.9,933.5 772.2,933.7 772.5,933.7 772.7,933.5 773.0,933.5 773.3,933.4 773.6,933.0 773.9,933.0 774.1,933.3 774.4,932.7 774.7,932.5 775.0,932.6 775.2,931.9 775.5,931.9 775.8,931.8 776.1,931.6 776.3,931.1 776.6,930.9 776.9,931.0 777.2,931.0 777.5,930.1 777.7,930.2 778.0,930.4 778.3,929.6 778.6,930.2 778.8,929.7 779.1,929.6 779.4,929.9 779.7,929.9 779.9,929.8 780.2,929.5 780.5,930.3 780.8,930.1 781.1,930.7 781.3,931.0 781.6,931.0 781.9,931.6 782.2,931.2 782.4,931.8 782.7,932.2 783.0,932.1 783.3,932.3 783.6,932.6 783.8,932.5 784.1,932.5 784.4,932.9 784.7,933.1 784.9,932.9 785.2,933.0 785.5,933.3 785.8,933.3 786.0,933.5 786.3,933.6 786.6,933.3 786.9,933.4 787.2,933.2 787.4,933.2 787.7,934.0 788.0,933.8 788.3,933.6 788.5,933.3 788.8,933.6 789.1,933.4 789.4,933.7 789.6,933.4 789.9,933.3 790.2,933.4 790.5,933.4 790.8,933.6 791.0,933.3 791.3,933.7 791.6,933.7 791.9,933.7 792.1,933.5 792.4,933.3 792.7,933.5 793.0,933.4 793.2,933.5 793.5,933.4 793.8,933.4 794.1,933.6 794.4,933.0 794.6,933.2 794.9,933.2 795.2,933.2 795.5,933.4 795.7,933.2 796.0,933.0 796.3,932.9 796.6,932.9 796.8,933.0 797.1,932.8 797.4,932.8 797.7,932.5 798.0,932.2 798.2,931.9 798.5,931.1 798.8,929.8 799.1,929.0 799.3,927.4 799.6,924.7 799.9,921.2 800.2,918.3 800.5,914.3 800.7,911.6 801.0,910.9 801.3,912.0 801.6,915.0 801.8,917.9 802.1,921.7 802.4,924.5 802.7,926.6 802.9,928.8 803.2,930.5 803.5,931.1 803.8,931.9 804.1,931.7 804.3,932.3 804.6,932.6 804.9,932.6 805.2,932.8 805.4,933.0 805.7,933.2 806.0,933.0 806.3,933.2 806.5,933.2 806.8,933.0 807.1,933.0 807.4,933.3 807.7,933.2 807.9,933.4 808.2,933.6 808.5,933.1 808.8,933.0 809.0,933.4 809.3,933.5 809.6,933.6 809.9,933.4 810.1,933.2 810.4,933.2 810.7,933.5 811.0,933.3 811.3,933.6 811.5,933.3 811.8,933.2 812.1,933.2 812.4,933.6 812.6,933.4 812.9,933.3 813.2,933.2 813.5,933.3 813.8,933.1 814.0,933.0 814.3,933.4 814.6,933.1 814.9,932.7 815.1,933.1 815.4,933.1 815.7,932.9 816.0,932.9 816.2,933.0 816.5,933.4 816.8,932.9 817.1,932.9 817.4,932.8 817.6,932.5 817.9,933.0 818.2,932.8 818.5,932.5 818.7,932.2 819.0,932.4 819.3,932.2 819.6,931.8 819.8,931.5 820.1,931.1 820.4,930.9 820.7,930.3 821.0,930.2 821.2,929.2 821.5,928.6 821.8,928.0 822.1,927.5 822.3,926.1 822.6,925.5 822.9,924.9 823.2,924.0 823.4,923.2 823.7,923.2 824.1,922.9 824.6,922.8 824.8,923.5 825.1,924.3 825.4,925.0 825.7,925.4 825.9,926.3 826.2,927.2 826.5,928.3 826.8,928.9 827.0,929.5 827.3,930.3 827.6,930.9 827.9,931.2 828.2,931.3 828.4,931.6 828.7,932.0 829.0,932.1 829.3,932.1 829.5,932.8 829.8,932.6 830.1,932.9 830.4,932.7 830.7,933.3 830.9,933.0 831.2,933.4 831.5,933.2 831.8,933.2 832.0,933.3 832.3,933.1 832.6,933.5 832.9,933.3 833.1,933.2 833.4,933.4 833.7,933.3 834.0,933.4 834.3,933.4 834.5,933.5 834.8,933.6 835.1,933.5 835.4,933.2 835.6,933.3 835.9,933.5 836.2,933.5 836.5,933.2 836.7,933.2 837.0,933.3 837.3,933.1 837.6,933.2 837.9,932.9 838.1,933.2 838.4,932.8 838.7,932.6 839.0,932.3 839.2,932.1 839.5,931.4 839.8,930.2 840.1,928.7 840.3,927.5 840.6,925.4 840.9,922.9 841.2,921.1 841.5,919.3 841.7,918.9 842.0,919.3 842.3,921.1 842.6,922.8 842.8,925.4 843.1,927.5 843.4,928.9 843.7,930.2 843.9,931.6 844.2,932.1 844.5,932.7 844.8,932.9 845.1,933.3 845.3,933.2 845.6,933.2 845.9,933.6 846.2,933.6 846.4,933.6 846.7,933.8 847.0,933.7 847.3,933.8 847.6,933.8 847.8,933.5 848.1,933.8 848.4,933.8 848.7,934.1 848.9,933.5 849.2,933.6 849.5,933.2 849.8,933.4 850.0,933.0 850.3,932.7 850.6,931.8 850.9,931.3 851.2,930.9 851.4,929.1 851.7,928.1 852.0,927.2 852.3,926.2 852.5,925.2 852.8,924.8 853.1,925.5 853.4,926.1 853.6,927.0 853.9,928.5 854.2,929.8 854.5,930.6 854.8,931.5 855.0,932.3 855.3,932.8 855.6,933.0 855.9,933.5 856.1,933.6 856.4,933.7 856.7,934.0 857.0,934.0 857.2,934.2 857.5,934.3 857.8,934.2 858.1,934.2 858.4,934.2 858.6,934.3 858.9,934.6 859.2,934.4 859.5,934.4 859.7,934.3 860.0,934.4 860.3,934.5 860.6,934.5 860.9,934.3 861.1,934.4 861.4,934.5 861.7,934.5 862.0,934.5 862.2,934.6 862.5,934.6 862.8,934.6 863.1,934.5 863.3,934.7 863.6,934.6 863.9,934.5 864.2,934.5 864.5,934.7 864.7,934.7 865.0,934.6 865.3,934.5 865.6,934.5 865.8,934.6 866.1,934.3 866.4,934.4 866.7,934.8 866.9,934.6 867.2,934.4 867.5,934.4 867.8,934.6 868.1,934.5 868.3,934.5 868.6,934.4 868.9,934.6 869.2,934.4 869.4,934.2 869.7,934.3 870.0,934.2 870.3,934.4 870.5,934.1 870.8,934.3 871.1,934.1 871.4,934.0 871.7,934.2 871.9,934.1 872.2,933.7 872.5,933.6 872.8,933.5 873.0,933.5 873.3,933.0 873.6,932.7 873.9,932.6 874.1,932.2 874.4,931.3 874.7,930.7 875.0,930.1 875.3,929.1 875.5,928.2 875.8,926.9 876.1,925.9 876.4,924.6 876.6,923.7 876.9,922.9 877.2,922.1 877.5,922.1 877.8,922.3 878.0,922.9 878.3,923.4 878.6,924.3 878.9,924.9 879.1,925.5 879.4,926.7 879.7,927.0 880.0,927.4 880.2,926.6 880.5,925.9 880.8,925.0 881.1,923.1 881.4,921.0 881.6,919.0 881.9,916.4 882.2,914.3 882.6,913.0 883.0,914.4 883.3,917.4 883.6,920.1 883.8,922.6 884.1,925.4 884.4,927.7 884.7,929.4 885.0,930.4 885.2,931.3 885.5,932.3 885.8,932.6 886.1,933.4 886.3,933.5 886.6,933.7 886.9,934.0 887.2,934.1 887.4,933.7 887.7,934.5 888.0,934.6 888.3,934.4 888.6,934.3 888.8,934.8 889.1,934.7 889.4,934.7 889.7,934.7 889.9,935.0 890.2,934.6 890.5,934.7 890.8,934.8 891.0,935.1 891.3,934.6 891.6,934.9 891.9,935.1 892.2,934.8 892.4,934.8 892.7,935.1 893.0,934.9 893.3,935.1 893.5,935.0 893.8,935.0 894.1,935.2 894.4,935.0 894.7,934.9 894.9,935.1 895.2,935.0 895.5,935.1 895.8,935.1 896.0,934.9 896.3,935.2 896.6,935.2 896.9,934.8 897.1,935.2 897.4,935.2 897.7,935.2 898.0,935.2 898.3,935.2 898.5,935.0 898.8,935.4 899.1,935.5 899.4,935.2 899.6,935.3 899.9,935.3 900.2,935.2 900.5,935.3 900.7,935.4 901.0,935.3 901.3,935.3 901.6,935.4 901.9,935.2 902.1,935.0 902.4,935.2 902.7,935.0 903.0,935.3 903.2,935.2 903.5,935.3 903.8,935.4 904.1,935.4 904.3,935.5 904.6,935.2 904.9,935.3 905.2,935.2 905.5,935.5 905.7,935.5 906.0,935.4 906.3,935.1 906.6,935.0 906.8,934.9 907.1,935.2 907.4,935.3 907.7,935.5 908.0,935.5 908.2,935.3 908.5,935.3 908.8,935.3 909.1,935.4 909.3,935.3 909.6,935.2 909.9,935.2 910.2,935.0 910.4,935.4 910.7,935.2 911.0,935.3 911.3,935.4 911.6,935.2 911.8,935.5 912.1,935.0 912.4,935.2 912.7,935.1 912.9,935.2 913.2,935.0 913.5,935.4 913.8,935.3 914.0,934.9 914.3,935.1 914.6,935.0 914.9,935.2 915.2,935.2 915.4,935.2 915.7,935.0 916.0,935.1 916.3,935.2 916.5,935.5 916.8,935.1 917.1,935.0 917.4,934.9 917.6,935.1 917.9,935.4 918.2,935.2 918.5,934.9 918.8,935.0 919.0,934.9 919.3,935.0 919.6,935.1 919.9,935.0 920.1,935.0 920.4,934.9 920.7,935.1 921.0,934.6 921.2,934.6 921.5,934.9 921.8,934.9 922.1,934.5 922.4,934.5 922.6,934.6 922.9,934.7 923.2,934.2 923.5,934.2 923.7,934.2 924.0,933.8 924.3,934.0 924.6,933.8 924.9,933.5 925.1,933.0 925.4,933.0 925.7,932.1 926.0,931.7 926.2,930.8 926.5,930.0 926.8,929.3 927.1,927.5 927.3,926.1 927.6,924.8 927.9,923.9 928.2,922.4 928.5,921.1 928.7,920.4 929.1,919.7 929.6,920.2 929.8,920.5 930.1,921.4 930.4,922.5 930.7,923.2 930.9,924.6 931.2,925.2 931.5,926.0 931.8,926.4 932.1,927.1 932.3,927.6 932.6,927.9 932.9,927.7 933.2,928.0 933.4,927.5 933.7,927.7 934.0,927.9 934.3,928.0 934.5,928.3 934.8,928.5 935.1,928.5 935.4,929.1 935.7,929.8 935.9,930.1 936.2,930.4 936.5,931.1 936.8,931.1 937.0,932.0 937.3,932.1 937.6,932.7 937.9,932.7 938.1,933.1 938.4,933.5 938.7,933.7 939.0,934.0 939.3,934.4 939.5,934.3 939.8,934.5 940.1,934.5 940.4,934.7 940.6,934.9 940.9,934.8 941.2,934.9 941.5,934.8 941.8,934.8 942.0,935.2 942.3,935.0 942.6,935.1 942.9,935.0 943.1,935.2 943.4,935.2 943.7,934.9 944.0,935.1 944.2,935.4 944.5,935.4 944.8,935.2 945.1,935.3 945.4,935.3 945.6,935.4 945.9,935.1 946.2,935.1 946.5,935.2 946.7,935.3 947.0,935.3 947.3,935.5 947.6,935.0 947.8,935.3 948.1,935.4 948.4,935.1 948.7,935.5 949.0,935.4 949.2,935.4 949.5,935.4 949.8,935.4 950.1,935.4 950.3,935.4 950.6,935.5 950.9,935.3 951.2,935.5 951.4,935.5 951.7,935.2 952.0,935.6 952.3,935.3 952.6,935.2 952.8,935.4 953.1,935.5 953.4,935.4 953.7,935.5 953.9,935.5 954.2,935.2 954.5,935.3 954.8,935.8 955.1,935.7 955.3,935.5 955.6,935.1 955.9,935.6 956.2,935.5 956.4,935.3 956.7,935.4 957.0,935.6 957.3,935.2 957.5,935.3 957.8,935.5 958.1,935.4 958.4,935.5 958.7,935.4 958.9,935.4 959.2,935.5 959.5,935.1 959.8,935.5 960.0,935.5 960.3,935.3 960.6,935.6 960.9,935.3 961.1,935.2 961.4,935.5 961.7,935.5 962.0,935.1 962.3,935.3 962.5,935.7 962.8,935.5 963.1,935.3 963.4,935.2 963.6,935.4 963.9,935.4 964.2,935.1 964.5,935.3 964.7,935.3 965.0,934.7 965.3,934.8 965.6,934.8 965.9,934.6 966.1,934.7 966.4,934.4 966.7,934.3 967.0,933.9 967.2,933.8 967.5,933.7 967.8,933.7 968.1,933.4 968.3,933.2 968.6,933.3 968.9,933.3 969.2,933.4 969.5,933.2 969.7,933.4 970.0,934.1 970.3,934.0 970.6,934.4 970.8,934.4 971.1,934.4 971.4,934.7 971.7,934.5 972.0,934.9 972.2,934.9 972.5,935.2 972.8,935.2 973.1,935.2 973.3,935.4 973.6,935.3 973.9,935.5 974.2,935.3 974.4,935.4 974.7,935.3 975.0,935.1 975.3,935.2 975.6,935.2 975.8,935.4 976.1,935.4 976.4,935.5 976.7,935.2 976.9,935.3 977.2,935.2 977.5,935.6 977.8,935.3 978.0,935.6 978.3,935.3 978.6,935.3 978.9,935.2 979.2,935.1 979.4,935.3 979.7,935.1 980.0,935.0 980.3,935.2 980.5,935.1 980.8,935.1 981.1,935.0 981.4,935.2 981.6,934.9 981.9,934.9 982.2,934.9 982.5,934.9 982.8,934.8 983.0,934.8 983.3,934.5 983.6,934.6 983.9,934.3 984.1,934.4 984.4,933.9 984.7,933.8 985.0,933.9 985.2,933.6 985.5,933.3 985.8,932.7 986.1,932.2 986.4,931.5 986.6,930.0 986.9,928.5 987.2,925.2 987.5,921.2 987.7,915.8 988.0,908.8 988.3,901.3 988.6,893.8 988.9,888.2 989.1,886.0 989.4,888.2 989.7,894.4 990.0,901.2 990.2,909.1 990.5,915.8 990.8,921.0 991.1,925.4 991.3,928.0 991.6,930.1 991.9,931.5 992.2,932.0 992.5,932.9 992.7,933.3 993.0,933.5 993.3,933.8 993.6,934.1 993.8,934.4 994.1,934.3 994.4,934.5 994.7,934.6 994.9,934.7 995.2,934.8 995.5,934.4 995.8,935.1 996.1,934.7 996.3,935.0 996.6,935.1 996.9,934.9 997.2,935.1 997.4,935.2 997.7,935.2 998.0,935.3 998.3,935.2 998.5,935.2 998.8,935.3 999.1,935.4 999.4,935.4 999.7,935.3 999.9,935.1 1000.2,935.5 1000.5,935.3 1000.8,935.7 1001.0,935.3 1001.3,935.4 1001.6,935.1 1001.9,935.6 1002.2,935.3 1002.4,935.2 1002.7,935.3 1003.0,935.7 1003.3,935.1 1003.5,935.3 1003.8,935.3 1004.1,935.5 1004.4,935.4 1004.6,935.3 1004.9,935.3 1005.2,935.1 1005.5,935.4 1005.8,935.5 1006.0,935.4 1006.3,935.6 1006.6,935.4 1006.9,935.0 1007.1,935.4 1007.4,935.4 1007.7,935.4 1008.0,935.2 1008.2,935.2 1008.5,935.1 1008.8,935.6 1009.1,935.1 1009.4,935.4 1009.6,935.2 1009.9,935.2 1010.2,935.2 1010.5,935.3 1010.7,934.9 1011.0,935.3 1011.3,935.4 1011.6,934.8 1011.8,934.9 1012.1,935.0 1012.4,934.9 1012.7,935.1 1013.0,934.7 1013.2,934.7 1013.5,935.0 1013.8,934.8 1014.1,934.7 1014.3,934.6 1014.6,934.6 1014.9,934.2 1015.2,934.4 1015.4,934.0 1015.7,933.7 1016.0,933.8 1016.3,933.7 1016.6,933.3 1016.8,932.9 1017.1,932.8 1017.4,932.6 1017.7,932.5 1017.9,931.9 1018.2,931.5 1018.5,931.1 1018.8,930.3 1019.1,930.3 1019.3,929.8 1019.6,929.6 1019.9,928.7 1020.2,928.5 1020.4,927.4 1020.7,927.6 1021.0,926.9 1021.3,926.7 1021.5,925.7 1021.8,925.4 1022.1,925.4 1022.4,924.9 1022.7,924.0 1022.9,924.2 1023.3,924.2 1023.8,924.2 1024.0,924.4 1024.3,924.7 1024.6,925.2 1024.9,925.3 1025.1,925.3 1025.4,925.9 1025.7,926.3 1026.0,926.7 1026.3,927.5 1026.5,928.0 1026.8,928.3 1027.1,928.8 1027.4,929.4 1027.6,929.8 1027.9,929.9 1028.2,930.7 1028.5,931.0 1028.7,931.1 1029.0,931.3 1029.3,931.7 1029.6,931.8 1029.9,932.3 1030.1,932.4 1030.4,932.5 1030.7,932.6 1031.0,932.7 1031.2,933.0 1031.5,933.1 1031.8,933.4 1032.1,933.6 1032.3,933.6 1032.6,933.7 1032.9,934.0 1033.2,933.8 1033.5,933.8 1033.7,933.8 1034.0,933.9 1034.3,934.0 1034.6,933.9 1034.8,934.0 1035.1,933.9 1035.4,934.3 1035.7,934.3 1036.0,933.8 1036.2,934.0 1036.5,934.2 1036.8,934.1 1037.1,934.1 1037.3,934.2 1037.6,934.1 1037.9,934.3 1038.2,934.3 1038.4,934.5 1038.7,934.3 1039.0,933.9 1039.3,934.2 1039.6,934.5 1039.8,934.4 1040.1,934.3 1040.4,934.2 1040.7,934.3 1040.9,934.6 1041.2,934.6 1041.5,934.6 1041.8,934.6 1042.0,934.6 1042.3,934.5 1042.6,934.5 1042.9,934.5 1043.2,934.7 1043.4,934.7 1043.7,934.4 1044.0,934.6 1044.3,934.5 1044.5,934.6 1044.8,934.8 1045.1,934.6 1045.4,934.8 1045.6,934.7 1045.9,934.8 1046.2,934.7 1046.5,934.3 1046.8,934.9 1047.0,934.4 1047.3,934.4 1047.6,934.7 1047.9,934.4 1048.1,934.5 1048.4,934.6 1048.7,934.2 1049.0,934.4 1049.2,934.7 1049.5,934.5 1049.8,934.2 1050.1,934.1 1050.4,934.3 1050.6,934.1 1050.9,934.0 1051.2,933.9 1051.5,933.6 1051.7,933.2 1052.0,932.7 1052.3,932.2 1052.6,931.1 1052.9,930.4 1053.1,928.9 1053.4,927.7 1053.7,926.2 1054.0,925.1 1054.2,924.7 1054.5,924.2 1054.8,924.3 1055.1,925.4 1055.3,926.4 1055.6,927.6 1055.9,928.6 1056.2,930.0 1056.5,930.7 1056.7,931.5 1057.0,932.3 1057.3,932.5 1057.6,933.1 1057.8,933.2 1058.1,933.0 1058.4,933.3 1058.7,933.3 1058.9,932.7 1059.2,932.7 1059.5,932.8 1059.8,932.5 1060.1,932.3 1060.3,932.4 1060.6,932.4 1060.9,932.4 1061.3,932.1 1061.7,932.2 1062.0,932.4 1062.3,932.6 1062.5,932.8 1062.8,932.9 1063.1,933.1 1063.4,933.6 1063.7,933.3 1063.9,933.6 1064.2,933.9 1064.5,934.2 1064.8,934.4 1065.0,934.3 1065.3,934.6 1065.6,934.8 1065.9,934.8 1066.2,934.9 1066.4,935.0 1066.7,935.2 1067.0,935.2 1067.3,935.1 1067.5,935.1 1067.8,935.1 1068.1,935.2 1068.4,935.3 1068.6,935.1 1068.9,935.5 1069.2,935.5 1069.5,935.4 1069.8,935.2 1070.0,935.5 1070.3,935.6 1070.6,935.4 1070.9,935.5 1071.1,935.5 1071.4,935.3 1071.7,935.6 1072.0,935.3 1072.2,935.4 1072.5,935.7 1072.8,935.4 1073.1,935.5 1073.4,935.4 1073.6,935.9 1073.9,935.4 1074.2,935.5 1074.5,935.6 1074.7,935.5 1075.0,935.9 1075.3,935.5 1075.6,935.6 1075.8,935.6 1076.1,935.7 1076.4,935.9 1076.7,935.8 1077.0,935.3 1077.2,935.9 1077.5,935.9 1077.8,935.5 1078.1,935.6 1078.3,935.8 1078.6,935.7 1078.9,935.6 1079.2,935.6 1079.4,935.6 1079.7,935.7 1080.0,935.8 1080.3,935.8 1080.6,935.8 1080.8,935.6 1081.1,935.7 1081.4,935.7 1081.7,935.8 1081.9,935.7 1082.2,935.7 1082.5,935.7 1082.8,935.8 1083.1,935.7 1083.3,935.9 1083.6,935.9 1083.9,935.4 1084.2,935.8 1084.4,935.9 1084.7,935.8 1085.0,935.5 1085.3,935.7 1085.5,935.8 1085.8,935.7 1086.1,935.7 1086.4,935.6 1086.7,935.7 1086.9,935.9 1087.2,935.6 1087.5,935.7 1087.8,935.7 1088.0,935.6 1088.3,935.7 1088.6,935.6 1088.9,935.8 1089.1,935.8 1089.4,935.6 1089.7,935.6 1090.0,935.7 1090.3,935.7 1090.5,935.9 1090.8,935.9 1091.1,935.9 1091.4,935.8 1091.6,935.6 1091.9,935.7 1092.2,935.7 1092.5,935.9 1092.7,935.6 1093.0,935.6 1093.3,935.7 1093.6,935.5 1093.9,935.7 1094.1,935.4 1094.4,935.7 1094.7,935.8 1095.0,935.9 1095.2,935.8 1095.5,935.6 1095.8,935.5 1096.1,936.1 1096.3,935.9 1096.6,935.6 1096.9,935.5 1097.2,935.5 1097.5,935.6 1097.7,935.5 1098.0,935.9 1098.3,935.6 1098.6,935.5 1098.8,935.4 1099.1,935.5 1099.4,935.8 1099.7,935.5 1100.0,935.7 1100.2,935.4 1100.5,935.6 1100.8,935.7 1101.1,935.6 1101.3,935.3 1101.6,935.3 1101.9,935.8 1102.2,935.5 1102.4,935.6 1102.7,935.6 1103.0,935.4 1103.3,935.4 1103.6,935.5 1103.8,935.6 1104.1,935.5 1104.4,935.6 1104.7,935.7 1104.9,935.7 1105.2,935.4 1105.5,935.7 1105.8,935.8 1106.0,935.4 1106.3,935.6 1106.6,935.4 1106.9,935.8 1107.2,935.7 1107.4,935.6 1107.7,935.4 1108.0,935.5 1108.3,935.4 1108.5,935.5 1108.8,935.2 1109.1,935.5 1109.4,935.4 1109.6,935.8 1109.9,935.8 1110.2,935.5 1110.5,935.7 1110.8,935.6 1111.0,935.4 1111.3,935.4 1111.6,935.5 1111.9,935.5 1112.1,935.5 1112.4,935.4 1112.7,935.2 1113.0,935.6 1113.3,935.1 1113.5,935.5 1113.8,935.5 1114.1,935.4 1114.4,935.4 1114.6,935.2 1114.9,935.5 1115.2,935.1 1115.5,935.3 1115.7,935.0 1116.0,935.4 1116.3,935.3 1116.6,935.3 1116.9,935.2 1117.1,935.5 1117.4,935.4 1117.7,935.4 1118.0,935.0 1118.2,935.0 1118.5,935.0 1118.8,935.0 1119.1,935.0 1119.3,935.2 1119.6,935.2 1119.9,935.2 1120.2,934.8 1120.5,935.0 1120.7,934.6 1121.0,934.5 1121.3,934.4 1121.6,934.6 1121.8,934.1 1122.1,934.1 1122.4,933.7 1122.7,933.1 1122.9,932.8 1123.2,931.6 1123.5,930.2 1123.8,928.0 1124.1,925.7 1124.3,923.1 1124.6,919.7 1124.9,916.7 1125.2,914.5 1125.4,913.5 1125.7,914.5 1126.0,916.6 1126.3,919.5 1126.5,923.0 1126.8,925.9 1127.1,928.3 1127.4,930.2 1127.7,931.5 1127.9,932.8 1128.2,933.3 1128.5,933.8 1128.8,934.1 1129.0,934.1 1129.3,934.5 1129.6,934.2 1129.9,934.5 1130.2,934.6 1130.4,934.9 1130.7,935.2 1131.0,934.9 1131.3,935.0 1131.5,934.6 1131.8,935.1 1132.1,934.9 1132.4,935.0 1132.6,934.9 1132.9,935.0 1133.2,935.1 1133.5,934.9 1133.8,935.3 1134.0,934.8 1134.3,935.0 1134.6,935.0 1134.9,934.9 1135.1,935.0 1135.4,935.1 1135.7,934.9 1136.0,935.3 1136.2,934.9 1136.5,934.7 1136.8,934.7 1137.1,934.7 1137.4,934.6 1137.6,934.7 1137.9,934.6 1138.2,934.3 1138.5,934.2 1138.7,934.3 1139.0,934.3 1139.3,934.2 1139.6,933.9 1139.8,933.8 1140.1,933.7 1140.4,933.8 1140.7,933.5 1141.0,933.4 1141.2,933.2 1141.5,933.1 1141.8,932.8 1142.1,932.8 1142.3,932.8 1142.6,932.9 1142.9,932.3 1143.2,932.3 1143.5,932.4 1143.7,932.1 1144.0,932.3 1144.3,932.3 1144.6,932.1 1144.8,932.1 1145.1,932.2 1145.4,931.9 1145.7,932.4 1145.9,932.6 1146.2,932.9 1146.5,932.8 1146.8,933.0 1147.1,933.2 1147.3,933.2 1147.6,933.2 1147.9,933.4 1148.2,933.5 1148.4,933.9 1148.7,933.9 1149.0,934.1 1149.3,934.2 1149.5,934.2 1149.8,934.7 1150.1,934.4 1150.4,934.4 1150.7,934.8 1150.9,934.7 1151.2,935.0 1151.5,935.0 1151.8,935.2 1152.0,935.1 1152.3,935.1 1152.6,935.3 1152.9,935.2 1153.1,935.1 1153.4,935.5 1153.7,935.3 1154.0,935.5 1154.3,935.3 1154.5,935.3 1154.8,935.3 1155.1,935.3 1155.4,935.4 1155.6,935.4 1155.9,935.4 1156.2,935.4 1156.5,935.7 1156.7,935.5 1157.0,935.4 1157.3,935.8 1157.6,935.3 1157.9,935.5 1158.1,935.7 1158.4,935.5 1158.7,935.5 1159.0,935.5 1159.2,935.5 1159.5,935.7 1159.8,935.6 1160.1,935.4 1160.4,935.5 1160.6,935.7 1160.9,935.5 1161.2,935.4 1161.5,935.3 1161.7,935.7 1162.0,935.7 1162.3,935.7 1162.6,935.4 1162.8,935.4 1163.1,935.6 1163.4,935.4 1163.7,935.9 1164.0,935.6 1164.2,935.7 1164.5,935.5 1164.8,935.6 1165.1,935.4 1165.3,935.8 1165.6,935.7 1165.9,935.5 1166.2,935.3 1166.4,935.6 1166.7,935.5 1167.0,935.5 1167.3,935.6 1167.6,935.4 1167.8,935.6 1168.1,935.4 1168.4,935.5 1168.7,935.8 1168.9,935.8 1169.2,935.5 1169.5,935.9 1169.8,935.6 1170.0,935.5 1170.3,935.6 1170.6,935.6 1170.9,935.5 1171.2,935.8 1171.4,935.8 1171.7,935.4 1172.0,935.9 1172.3,935.7 1172.5,935.4 1172.8,935.9 1173.1,935.4 1173.4,935.7 1173.6,935.5 1173.9,935.6 1174.2,935.5 1174.5,935.4 1174.8,935.4 1175.0,935.4 1175.3,935.6 1175.6,935.6 1175.9,935.6 1176.1,935.7 1176.4,935.7 1176.7,935.4 1177.0,935.4 1177.3,935.6 1177.5,935.4 1177.8,935.6 1178.1,935.6 1178.4,935.2 1178.6,935.0 1178.9,935.1 1179.2,934.6 1179.5,934.3 1179.7,934.3 1180.0,933.8 1180.3,934.2 1180.6,933.8 1180.9,933.5 1181.1,933.3 1181.4,932.9 1181.7,933.0 1182.0,932.8 1182.2,933.1 1182.5,932.8 1182.8,932.7 1183.1,933.3 1183.3,933.7 1183.6,933.7 1183.9,934.1 1184.2,934.4 1184.5,934.6 1184.7,934.8 1185.0,935.0 1185.3,935.2 1185.6,935.3 1185.8,935.5 1186.1,935.5 1186.4,935.5 1186.7,935.4 1186.9,935.5 1187.2,935.4 1187.5,935.6 1187.8,935.6 1188.1,935.9 1188.3,935.4 1188.6,935.5 1188.9,935.8 1189.2,935.7 1189.4,935.4 1189.7,935.7 1190.0,935.6 1190.3,935.8 1190.6,935.6 1190.8,935.7 1191.1,935.6 1191.4,935.8 1191.7,935.5 1191.9,935.8 1192.2,935.4 1192.5,935.7 1192.8,935.3 1193.0,935.0 1193.3,935.2 1193.6,934.9 1193.9,935.4 1194.2,934.9 1194.4,935.1 1194.7,934.7 1195.0,934.5 1195.3,934.7 1195.5,934.3 1195.8,934.4 1196.1,934.1 1196.4,934.1 1196.6,933.7 1196.9,933.8 1197.2,933.8 1197.5,933.7 1197.8,933.6 1198.0,933.7 1198.3,933.8 1198.6,934.0 1198.9,934.0 1199.1,934.3 1199.4,934.4 1199.7,934.5 1200.0,934.7 1200.2,934.8 1200.5,934.9 1200.8,935.2 1201.1,935.3 1201.4,935.3 1201.6,935.4 1201.9,935.6 1202.2,935.4 1202.5,935.8 1202.7,935.7 1203.0,935.5 1203.3,935.8 1203.6,935.7 1203.8,935.9 1204.1,935.7 1204.4,935.6 1204.7,935.7 1205.0,935.7 1205.2,935.9 1205.5,935.7 1205.8,936.0 1206.1,935.8 1206.3,936.0 1206.6,935.9 1206.9,936.1 1207.2,935.8 1207.5,935.6 1207.7,935.7 1208.0,935.8 1208.3,935.8 1208.6,936.0 1208.8,936.1 1209.1,936.0 1209.4,935.9 1209.7,935.9 1209.9,935.8 1210.2,936.1 1210.5,936.0 1210.8,936.0 1211.1,936.0 1211.3,936.1 1211.6,936.0 1211.9,936.0 1212.2,936.0 1212.4,936.2 1212.7,936.1 1213.0,936.2 1213.3,935.9 1213.5,935.9 1213.8,936.2 1214.1,936.1 1214.4,935.8 1214.7,935.7 1214.9,935.8 1215.2,936.0 1215.5,936.2 1215.8,936.0 1216.0,936.0 1216.3,935.9 1216.6,936.2 1216.9,936.1 1217.1,936.1 1217.4,936.0 1217.7,936.2 1218.0,936.2 1218.3,936.1 1218.5,936.0 1218.8,936.2 1219.1,935.8 1219.4,936.0 1219.6,935.9 1219.9,936.0 1220.2,935.7 1220.5,936.1 1220.7,936.1 1221.0,935.9 1221.3,935.9 1221.6,935.9 1221.9,935.9 1222.1,936.2 1222.4,935.8 1222.7,936.1 1223.0,935.9 1223.2,935.8 1223.5,936.1 1223.8,935.8 1224.1,935.9 1224.4,935.8 1224.6,935.5 1224.9,935.9 1225.2,936.0 1225.5,935.9 1225.7,935.7 1226.0,935.6 1226.3,935.8 1226.6,935.5 1226.8,935.5 1227.1,935.3 1227.4,935.6 1227.7,935.4 1228.0,935.1 1228.2,934.9 1228.5,934.8 1228.8,934.4 1229.1,934.1 1229.3,933.8 1229.6,933.2 1229.9,932.5 1230.2,931.4 1230.4,930.2 1230.7,928.7 1231.0,927.6 1231.3,926.4 1231.6,925.3 1231.8,923.8 1232.1,923.3 1232.4,922.8 1232.7,923.2 1232.9,923.5 1233.2,924.6 1233.5,926.1 1233.8,927.7 1234.0,928.3 1234.3,929.4 1234.6,930.6 1234.9,931.5 1235.2,931.7 1235.4,932.2 1235.7,932.4 1236.0,932.0 1236.3,932.2 1236.5,931.8 1236.8,931.2 1237.1,930.5 1237.4,929.4 1237.7,928.0 1237.9,927.3 1238.2,925.8 1238.5,923.9 1238.8,922.9 1239.0,921.6 1239.3,920.7 1239.6,919.3 1240.0,918.8 1240.4,919.2 1240.7,920.2 1241.0,921.6 1241.3,923.3 1241.5,924.7 1241.8,925.9 1242.1,927.4 1242.4,928.8 1242.6,930.2 1242.9,931.3 1243.2,932.0 1243.5,932.6 1243.7,933.3 1244.0,933.7 1244.3,933.9 1244.6,934.4 1244.9,934.5 1245.1,934.8 1245.4,934.8 1245.7,935.4 1246.0,935.4 1246.2,935.2 1246.5,935.3 1246.8,935.3 1247.1,935.5 1247.3,935.2 1247.6,935.3 1247.9,935.2 1248.2,935.0 1248.5,934.9 1248.7,934.7 1249.0,935.1 1249.3,934.9 1249.6,934.7 1249.8,934.8 1250.1,934.3 1250.4,934.4 1250.7,934.3 1250.9,934.5 1251.2,934.0 1251.5,933.9 1251.8,933.5 1252.1,933.7 1252.3,934.0 1252.6,933.6 1252.9,933.7 1253.2,933.9 1253.4,933.7 1253.7,933.6 1254.0,934.0 1254.3,934.1 1254.6,934.2 1254.8,934.4 1255.1,934.1 1255.4,934.8 1255.7,934.8 1255.9,934.8 1256.2,934.9 1256.5,935.3 1256.8,935.3 1257.0,935.5 1257.3,935.6 1257.6,935.7 1257.9,935.8 1258.2,935.9 1258.4,935.9 1258.7,935.8 1259.0,936.2 1259.3,936.0 1259.5,936.4 1259.8,936.1 1260.1,936.0 1260.4,936.2 1260.6,936.3 1260.9,936.2 1261.2,936.2 1261.5,936.3 1261.8,936.2 1262.0,936.6 1262.3,936.5 1262.6,936.7 1262.9,936.5 1263.1,936.6 1263.4,936.3 1263.7,936.6 1264.0,936.1"/></defs>
<g fill="none" stroke="#00f" stroke-linejoin="round" stroke-linecap="round"><use href="#c4" stroke-width="5"/><use href="#c4" stroke-width="6.7" shape-rendering="crispEdges"/></g>
<g class="tl" text-anchor="end">
<text x="209.5" y="1100.3">-20,000</text>
<text x="209.5" y="948.1">0</text>
<text x="209.5" y="796.0">20,000</text>
<text x="209.5" y="643.8">40,000</text>
<text x="209.5" y="491.7">60,000</text>
<text x="209.5" y="339.5">80,000</text>
<text x="209.5" y="187.4">100,000</text>
</g>
<g class="tl" text-anchor="middle">
<text x="294.3" y="1134.3">0</text>
<text x="432.8" y="1134.3">10</text>
<text x="571.3" y="1134.3">20</text>
<text x="709.9" y="1134.3">30</text>
<text x="848.4" y="1134.3">40</text>
<text x="986.9" y="1134.3">50</text>
<text x="1125.4" y="1134.3">60</text>
<text x="1264.0" y="1134.3">70</text>
<text x="1402.5" y="1134.3">80</text>
</g>
<text class="ax" text-anchor="middle" x="776.6" y="1199.0">2Th Degrees</text>
<text class="ax" text-anchor="middle" transform="translate(82.8,590) rotate(-90)">Counts</text>
</g>
<text class="cap" y="2794.5"><tspan x="2442.8">(</tspan><tspan class="b" text-anchor="middle" x="2490">4</tspan><tspan x="2509.8">)</tspan></text>
<g transform="translate(0,2826)">
<path d="M44 49H1472V1243H44Z M51 56V1236H1465V56Z" fill="#000" fill-rule="evenodd"/>
<path d="M293.8 1091.0 v-15.0 M293.8 103.0 v15.0 M432.3 1091.0 v-15.0 M432.3 103.0 v15.0 M570.8 1091.0 v-15.0 M570.8 103.0 v15.0 M709.4 1091.0 v-15.0 M709.4 103.0 v15.0 M847.9 1091.0 v-15.0 M847.9 103.0 v15.0 M986.4 1091.0 v-15.0 M986.4 103.0 v15.0 M1124.9 1091.0 v-15.0 M1124.9 103.0 v15.0 M1263.5 1091.0 v-15.0 M1263.5 103.0 v15.0 M363.0 1091.0 v-8.0 M363.0 103.0 v8.0 M501.6 1091.0 v-8.0 M501.6 103.0 v8.0 M640.1 1091.0 v-8.0 M640.1 103.0 v8.0 M778.6 1091.0 v-8.0 M778.6 103.0 v8.0 M917.1 1091.0 v-8.0 M917.1 103.0 v8.0 M1055.7 1091.0 v-8.0 M1055.7 103.0 v8.0 M1194.2 1091.0 v-8.0 M1194.2 103.0 v8.0 M1332.7 1091.0 v-8.0 M1332.7 103.0 v8.0 M224.5 1039.0 h8.0 M1402.0 1039.0 h-8.0 M224.5 987.0 h15.0 M1402.0 987.0 h-15.0 M224.5 935.0 h8.0 M1402.0 935.0 h-8.0 M224.5 883.0 h15.0 M1402.0 883.0 h-15.0 M224.5 831.0 h8.0 M1402.0 831.0 h-8.0 M224.5 779.0 h15.0 M1402.0 779.0 h-15.0 M224.5 727.0 h8.0 M1402.0 727.0 h-8.0 M224.5 675.0 h15.0 M1402.0 675.0 h-15.0 M224.5 623.0 h8.0 M1402.0 623.0 h-8.0 M224.5 571.0 h15.0 M1402.0 571.0 h-15.0 M224.5 519.0 h8.0 M1402.0 519.0 h-8.0 M224.5 467.0 h15.0 M1402.0 467.0 h-15.0 M224.5 415.0 h8.0 M1402.0 415.0 h-8.0 M224.5 363.0 h15.0 M1402.0 363.0 h-15.0 M224.5 311.0 h8.0 M1402.0 311.0 h-8.0 M224.5 259.0 h15.0 M1402.0 259.0 h-15.0 M224.5 207.0 h8.0 M1402.0 207.0 h-8.0 M224.5 155.0 h15.0 M1402.0 155.0 h-15.0" stroke="#000" stroke-width="4" fill="none" shape-rendering="crispEdges"/>
<path d="M223 101H1404V1093H223Z M226 105V1089H1400V105Z" fill="#000" fill-rule="evenodd"/>
<defs><polyline id="c5" points="363.0,973.6 363.3,973.6 363.6,973.3 363.9,973.7 364.1,973.4 364.4,973.7 364.7,973.2 365.0,973.3 365.2,973.1 365.5,973.4 365.8,973.3 366.1,973.4 366.4,973.4 366.6,973.3 366.9,973.5 367.2,973.4 367.5,973.2 367.7,973.3 368.0,973.4 368.3,972.9 368.6,973.3 368.8,973.4 369.1,973.2 369.4,973.3 369.7,973.3 370.0,973.3 370.2,972.9 370.5,973.2 370.8,973.2 371.1,973.1 371.3,972.9 371.6,973.2 371.9,973.3 372.2,972.8 372.4,973.4 372.7,973.2 373.0,973.1 373.3,972.8 373.6,973.3 373.8,973.6 374.1,973.0 374.4,973.2 374.7,973.2 374.9,973.0 375.2,973.1 375.5,973.1 375.8,973.2 376.1,972.9 376.3,972.8 376.6,973.1 376.9,973.2 377.2,973.0 377.4,973.0 377.7,973.2 378.0,973.1 378.3,972.9 378.5,973.1 378.8,973.1 379.1,973.0 379.4,973.0 379.7,973.0 379.9,973.3 380.2,972.7 380.5,973.0 380.8,973.1 381.0,972.8 381.3,972.9 381.6,973.0 381.9,972.8 382.1,972.6 382.4,972.9 382.7,972.7 383.0,972.6 383.3,973.1 383.5,973.0 383.8,972.8 384.1,973.2 384.4,973.0 384.6,972.7 384.9,972.7 385.2,972.7 385.5,973.1 385.7,972.4 386.0,972.7 386.3,972.6 386.6,972.6 386.9,972.9 387.1,972.9 387.4,972.8 387.7,972.2 388.0,972.7 388.2,972.5 388.5,972.5 388.8,972.3 389.1,972.3 389.4,972.3 389.6,972.5 389.9,972.8 390.2,972.2 390.5,972.2 390.7,972.0 391.0,972.1 391.3,972.2 391.6,972.0 391.8,972.3 392.1,972.2 392.4,972.1 392.7,971.9 393.0,971.5 393.2,971.7 393.5,971.6 393.8,971.7 394.1,971.7 394.3,971.8 394.6,971.7 394.9,972.1 395.2,971.8 395.4,971.8 395.7,971.4 396.0,971.4 396.3,971.3 396.6,971.2 396.8,971.5 397.1,971.2 397.4,971.1 397.7,971.4 397.9,971.1 398.2,971.3 398.5,971.5 398.8,971.1 399.0,971.2 399.3,970.9 399.6,970.9 399.9,970.7 400.2,971.0 400.4,970.2 400.7,970.2 401.0,970.4 401.3,970.4 401.5,970.2 401.8,969.9 402.1,969.9 402.4,969.8 402.6,970.1 402.9,969.8 403.2,969.3 403.5,969.4 403.8,969.6 404.0,969.4 404.3,969.4 404.6,969.2 404.9,968.7 405.1,968.8 405.4,968.5 405.7,968.6 406.0,968.8 406.3,968.6 406.5,967.9 406.8,968.4 407.1,968.4 407.4,967.9 407.6,968.1 407.9,968.0 408.2,967.6 408.5,968.1 408.7,967.6 409.0,967.8 409.3,967.7 409.6,967.5 409.9,966.9 410.1,967.0 410.4,967.2 410.7,966.9 411.0,966.3 411.2,966.2 411.5,966.4 411.8,965.5 412.1,965.9 412.3,965.8 412.6,965.3 412.9,964.8 413.2,964.4 413.5,964.1 413.7,964.0 414.0,963.6 414.3,963.3 414.6,962.9 414.8,962.9 415.1,962.7 415.4,963.0 415.7,963.0 415.9,963.3 416.2,963.5 416.5,964.3 416.8,965.0 417.1,965.8 417.3,966.7 417.6,967.3 417.9,968.3 418.2,969.5 418.4,970.0 418.7,970.9 419.0,971.4 419.3,972.4 419.5,973.0 419.8,973.7 420.1,974.1 420.4,974.4 420.7,974.7 420.9,974.9 421.2,974.8 421.5,975.0 421.8,975.0 422.0,975.2 422.3,975.1 422.6,975.3 422.9,975.3 423.2,975.2 423.4,974.9 423.7,975.1 424.0,975.3 424.3,975.3 424.5,975.1 424.8,975.1 425.1,975.1 425.4,975.4 425.6,975.3 425.9,975.4 426.2,975.5 426.5,975.6 426.8,975.5 427.0,975.8 427.3,975.7 427.6,975.4 427.9,975.7 428.1,975.4 428.4,975.7 428.7,975.6 429.0,975.5 429.2,975.8 429.5,975.7 429.8,975.2 430.1,975.7 430.4,975.8 430.6,975.8 430.9,975.7 431.2,975.7 431.5,975.6 431.7,975.6 432.0,975.8 432.3,975.8 432.6,976.0 432.8,976.0 433.1,975.9 433.4,975.7 433.7,975.8 434.0,975.7 434.2,975.7 434.5,975.9 434.8,975.6 435.1,976.0 435.3,976.0 435.6,976.0 435.9,975.8 436.2,976.0 436.5,976.1 436.7,975.9 437.0,975.8 437.3,976.0 437.6,976.1 437.8,975.9 438.1,975.9 438.4,975.9 438.7,976.2 438.9,976.1 439.2,976.1 439.5,976.4 439.8,976.0 440.1,976.2 440.3,976.2 440.6,975.9 440.9,976.2 441.2,976.4 441.4,976.3 441.7,976.2 442.0,976.2 442.3,976.3 442.5,976.4 442.8,976.4 443.1,976.5 443.4,976.5 443.7,976.4 443.9,976.5 444.2,976.4 444.5,976.5 444.8,976.6 445.0,976.5 445.3,976.5 445.6,976.3 445.9,976.6 446.1,976.4 446.4,976.5 446.7,976.7 447.0,976.4 447.3,976.5 447.5,976.9 447.8,976.5 448.1,976.4 448.4,976.7 448.6,976.3 448.9,976.6 449.2,976.8 449.5,976.5 449.7,976.7 450.0,976.8 450.3,977.0 450.6,976.6 450.9,976.8 451.1,976.6 451.4,976.6 451.7,976.8 452.0,976.8 452.2,976.4 452.5,976.4 452.8,976.6 453.1,976.8 453.4,976.9 453.6,976.8 453.9,976.5 454.2,976.7 454.5,976.8 454.7,976.9 455.0,976.7 455.3,976.8 455.6,976.6 455.8,976.5 456.1,976.4 456.4,976.5 456.7,976.6 457.0,976.4 457.2,976.2 457.5,976.3 457.8,976.6 458.1,976.1 458.3,976.2 458.6,975.7 458.9,976.2 459.2,976.1 459.4,976.1 459.7,975.9 460.0,976.0 460.3,976.1 460.6,976.1 460.8,975.7 461.1,975.6 461.4,975.5 461.7,974.9 461.9,974.9 462.2,974.5 462.5,974.3 462.8,973.5 463.0,972.6 463.3,971.4 463.6,969.8 463.9,968.2 464.2,966.5 464.4,965.0 464.7,964.2 465.0,963.5 465.3,964.2 465.5,965.3 465.8,967.2 466.1,969.1 466.4,970.7 466.6,972.6 466.9,973.9 467.2,974.7 467.5,975.7 467.8,976.1 468.0,976.7 468.3,977.0 468.6,977.2 468.9,977.9 469.1,977.8 469.4,978.1 469.7,978.2 470.0,978.2 470.3,978.1 470.5,978.4 470.8,978.3 471.1,978.7 471.4,978.7 471.6,978.7 471.9,978.6 472.2,978.8 472.5,978.9 472.7,978.9 473.0,979.1 473.3,978.8 473.6,978.9 473.9,979.0 474.1,979.0 474.4,979.2 474.7,979.2 475.0,979.1 475.2,979.3 475.5,979.4 475.8,979.1 476.1,979.1 476.3,979.3 476.6,979.4 476.9,979.4 477.2,979.3 477.5,979.6 477.7,979.6 478.0,979.6 478.3,979.5 478.6,979.7 478.8,979.7 479.1,979.9 479.4,979.9 479.7,980.0 479.9,979.9 480.2,979.8 480.5,980.1 480.8,980.1 481.1,980.1 481.3,980.0 481.6,980.0 481.9,980.3 482.2,980.1 482.4,980.3 482.7,980.1 483.0,980.4 483.3,980.4 483.6,980.4 483.8,980.4 484.1,980.5 484.4,980.4 484.7,980.4 484.9,980.4 485.2,980.5 485.5,980.5 485.8,980.8 486.0,980.8 486.3,980.9 486.6,981.3 486.9,981.1 487.2,981.4 487.4,981.5 487.7,981.6 488.0,981.7 488.3,981.8 488.5,981.9 488.8,982.2 489.1,982.1 489.4,982.3 489.6,982.5 489.9,982.6 490.2,982.6 490.5,982.8 490.8,982.9 491.0,983.0 491.3,983.0 491.6,983.0 491.9,983.2 492.1,983.5 492.4,983.1 492.7,983.4 493.0,983.5 493.2,983.6 493.5,983.3 493.8,983.2 494.1,983.2 494.4,983.4 494.6,983.1 494.9,983.3 495.2,983.4 495.5,983.3 495.7,983.3 496.0,983.3 496.3,983.2 496.6,983.5 496.8,983.0 497.1,983.2 497.4,983.1 497.7,983.2 498.0,983.0 498.2,983.0 498.5,983.1 498.8,982.8 499.1,982.7 499.3,982.8 499.6,982.8 499.9,982.6 500.2,982.5 500.5,982.4 500.7,982.4 501.0,982.3 501.3,982.2 501.6,982.3 501.8,982.5 502.1,982.5 502.4,983.0 502.7,982.9 502.9,983.0 503.2,983.0 503.5,983.0 503.8,983.1 504.1,983.1 504.3,983.4 504.6,983.3 504.9,983.4 505.2,983.4 505.4,983.4 505.7,983.6 506.0,983.5 506.3,983.6 506.5,983.5 506.8,983.6 507.1,983.6 507.4,983.4 507.7,983.6 507.9,983.6 508.2,983.6 508.5,983.8 508.8,983.6 509.0,983.7 509.3,983.7 509.6,983.7 509.9,983.7 510.1,983.7 510.4,983.9 510.7,983.8 511.0,983.9 511.3,983.7 511.5,983.8 511.8,984.0 512.1,983.8 512.4,984.0 512.6,983.8 512.9,983.9 513.2,984.1 513.5,983.9 513.7,983.8 514.0,983.9 514.3,984.0 514.6,983.9 514.9,983.9 515.1,983.8 515.4,983.9 515.7,983.9 516.0,984.1 516.2,983.9 516.5,984.0 516.8,984.0 517.1,984.0 517.4,984.1 517.6,984.0 517.9,984.0 518.2,984.0 518.5,984.0 518.7,984.1 519.0,984.0 519.3,984.0 519.6,984.1 519.8,984.0 520.1,984.2 520.4,984.0 520.7,984.1 521.0,984.2 521.2,984.0 521.5,984.2 521.8,984.1 522.1,984.2 522.3,984.3 522.6,984.0 522.9,984.3 523.2,984.3 523.4,984.1 523.7,984.3 524.0,984.1 524.3,983.9 524.6,984.2 524.8,984.1 525.1,984.1 525.4,984.1 525.7,984.1 525.9,984.0 526.2,984.1 526.5,984.1 526.8,984.1 527.0,984.2 527.3,984.1 527.6,984.1 527.9,984.0 528.2,984.0 528.4,983.9 528.7,984.2 529.0,984.1 529.3,984.0 529.5,984.1 529.8,983.9 530.1,983.9 530.4,983.8 530.7,984.0 530.9,983.9 531.2,983.7 531.5,983.7 531.8,983.6 532.0,983.5 532.3,983.4 532.6,983.4 532.9,983.0 533.1,983.1 533.4,982.9 533.7,982.7 534.0,982.5 534.3,982.6 534.5,982.5 534.8,982.1 535.1,982.0 535.4,982.2 535.6,982.1 535.9,981.7 536.2,981.6 536.5,981.5 536.7,981.3 537.2,981.3 537.6,981.5 537.9,981.1 538.1,981.4 538.4,981.5 538.7,981.7 539.0,982.1 539.2,982.0 539.5,982.2 539.8,982.3 540.1,982.5 540.3,982.6 540.6,982.9 540.9,983.0 541.2,983.0 541.5,983.2 541.7,983.3 542.0,983.3 542.3,983.2 542.6,983.6 542.8,983.5 543.1,983.8 543.4,983.8 543.7,983.7 543.9,983.8 544.2,984.0 544.5,983.8 544.8,983.9 545.1,983.8 545.3,983.9 545.6,983.9 545.9,984.0 546.2,984.0 546.4,984.1 546.7,984.1 547.0,984.2 547.3,984.2 547.6,984.2 547.8,984.1 548.1,984.1 548.4,984.2 548.7,984.1 548.9,984.0 549.2,984.0 549.5,984.1 549.8,984.1 550.0,984.1 550.3,984.0 550.6,984.2 550.9,984.0 551.2,984.3 551.4,983.9 551.7,984.0 552.0,984.3 552.3,984.1 552.5,984.2 552.8,984.2 553.1,984.1 553.4,984.1 553.6,983.9 553.9,984.1 554.2,984.2 554.5,984.0 554.8,984.0 555.0,983.9 555.3,984.0 555.6,984.2 555.9,984.1 556.1,984.0 556.4,984.1 556.7,983.9 557.0,984.0 557.2,983.9 557.5,984.0 557.8,983.9 558.1,984.1 558.4,983.6 558.6,983.9 558.9,983.9 559.2,984.0 559.5,983.8 559.7,983.9 560.0,983.7 560.3,983.5 560.6,983.6 560.8,983.6 561.1,983.2 561.4,983.3 561.7,983.1 562.0,982.9 562.2,982.8 562.5,982.5 562.8,982.5 563.1,982.2 563.3,981.6 563.6,981.5 563.9,981.0 564.2,980.5 564.5,980.1 564.7,979.6 565.0,978.9 565.3,978.3 565.6,977.4 565.8,976.8 566.1,976.0 566.4,975.0 566.7,974.6 566.9,973.8 567.2,972.7 567.5,971.9 567.8,971.6 568.1,971.4 568.3,971.1 568.6,970.8 568.9,971.1 569.2,971.3 569.4,972.2 569.7,972.5 570.0,973.2 570.3,973.8 570.5,974.1 570.8,974.7 571.1,975.4 571.4,975.9 571.7,976.1 571.9,976.6 572.2,977.1 572.5,977.3 572.8,977.6 573.0,978.0 573.3,978.0 573.6,978.0 573.9,978.0 574.1,978.3 574.4,978.3 574.7,978.2 575.0,978.1 575.3,978.3 575.5,978.0 575.8,978.0 576.1,977.9 576.4,978.3 576.6,978.0 576.9,977.5 577.2,977.8 577.5,977.7 577.8,977.2 578.0,976.7 578.3,976.5 578.6,976.3 578.9,975.5 579.1,974.8 579.4,973.9 579.7,972.7 580.0,971.0 580.2,968.4 580.5,964.2 580.8,957.1 581.1,945.4 581.4,926.8 581.6,898.8 581.9,865.2 582.2,828.1 582.6,800.9 583.0,829.7 583.3,865.7 583.6,900.1 583.8,926.8 584.1,946.0 584.4,958.1 584.7,965.4 585.0,969.9 585.2,972.3 585.5,974.3 585.8,975.8 586.1,976.4 586.3,977.3 586.6,978.2 586.9,978.7 587.2,979.0 587.4,979.4 587.7,980.0 588.0,980.0 588.3,980.8 588.6,980.7 588.8,980.8 589.1,981.1 589.4,981.2 589.7,981.5 589.9,981.5 590.2,981.5 590.5,981.8 590.8,981.7 591.0,981.9 591.3,982.2 591.6,982.1 591.9,982.0 592.2,982.3 592.4,982.2 592.7,982.2 593.0,982.5 593.3,982.4 593.5,982.3 593.8,982.4 594.1,982.6 594.4,982.4 594.7,982.6 594.9,982.6 595.2,982.5 595.5,982.6 595.8,982.7 596.0,982.7 596.3,982.7 596.6,982.7 596.9,982.9 597.1,983.1 597.4,982.8 597.7,982.9 598.0,982.9 598.3,983.0 598.5,983.0 598.8,983.0 599.1,983.1 599.4,982.9 599.6,983.0 599.9,983.1 600.2,982.9 600.5,983.0 600.7,982.9 601.0,982.8 601.3,982.5 601.6,982.9 601.9,982.7 602.1,982.7 602.4,982.7 602.7,982.5 603.0,982.7 603.2,982.7 603.5,982.6 603.8,982.8 604.1,982.4 604.3,982.8 604.6,982.6 604.9,982.5 605.2,982.7 605.5,982.6 605.7,982.5 606.0,982.3 606.3,982.4 606.6,982.6 606.8,982.2 607.1,982.2 607.4,982.5 607.7,982.6 607.9,981.9 608.2,982.2 608.5,982.4 608.8,982.0 609.1,981.9 609.3,982.3 609.6,981.9 609.9,981.9 610.2,982.0 610.4,982.0 610.7,981.8 611.0,982.0 611.3,981.8 611.6,981.9 611.8,981.9 612.1,981.7 612.4,981.6 612.7,981.6 612.9,981.7 613.2,981.5 613.5,981.8 613.8,981.7 614.0,981.6 614.3,981.5 614.6,981.9 614.9,981.6 615.2,981.6 615.4,981.5 615.7,981.2 616.0,981.5 616.3,981.5 616.5,981.4 616.8,981.3 617.1,981.4 617.4,981.1 617.6,981.5 617.9,981.2 618.2,981.2 618.5,981.1 618.8,981.0 619.0,981.2 619.3,981.1 619.6,981.1 619.9,981.2 620.1,981.2 620.4,981.2 620.7,980.9 621.0,981.3 621.2,981.1 621.5,980.9 621.8,980.7 622.1,980.9 622.4,980.7 622.6,980.8 622.9,980.9 623.2,981.0 623.5,980.7 623.7,980.5 624.0,980.7 624.3,980.8 624.6,980.5 624.9,980.8 625.1,980.7 625.4,980.4 625.7,980.5 626.0,980.4 626.2,980.4 626.5,980.4 626.8,980.4 627.1,980.4 627.3,980.2 627.6,980.5 627.9,980.5 628.2,980.4 628.5,980.1 628.7,980.3 629.0,980.5 629.3,979.8 629.6,980.3 629.8,980.1 630.1,980.0 630.4,980.0 630.7,980.1 630.9,980.2 631.2,979.9 631.5,980.1 631.8,980.0 632.1,979.8 632.3,980.0 632.6,980.1 632.9,979.9 633.2,979.7 633.4,979.7 633.7,979.9 634.0,979.7 634.3,979.5 634.5,979.3 634.8,979.3 635.1,979.2 635.4,979.0 635.7,978.6 635.9,978.2 636.2,977.9 636.5,977.4 636.8,976.5 637.0,976.2 637.3,975.7 637.6,975.0 638.0,974.8 638.4,975.2 638.7,975.6 639.0,975.8 639.3,976.5 639.5,976.9 639.8,977.4 640.1,978.0 640.4,978.1 640.6,978.4 640.9,978.5 641.2,978.6 641.5,978.6 641.8,978.1 642.0,977.8 642.3,977.7 642.6,977.5 642.9,977.5 643.1,977.0 643.4,976.7 643.7,976.2 644.0,975.6 644.2,974.8 644.5,974.0 644.8,972.8 645.1,971.5 645.4,970.1 645.6,968.9 645.9,967.4 646.2,966.5 646.6,966.0 647.0,966.5 647.3,967.3 647.6,968.7 647.8,969.6 648.1,970.7 648.4,972.2 648.7,972.8 649.0,973.8 649.2,974.5 649.5,975.2 649.8,975.5 650.1,975.9 650.3,976.0 650.6,976.1 650.9,976.2 651.2,976.4 651.4,976.1 651.7,976.3 652.0,976.0 652.3,975.9 652.6,975.9 652.8,975.4 653.1,975.6 653.4,975.4 653.7,975.4 653.9,975.1 654.2,975.2 654.5,974.6 654.8,974.6 655.0,974.3 655.3,973.8 655.6,973.4 655.9,973.3 656.2,972.9 656.4,972.6 656.7,971.9 657.0,971.1 657.3,970.3 657.5,969.9 657.8,968.7 658.1,967.4 658.4,966.5 658.7,965.0 658.9,963.3 659.2,961.0 659.5,959.0 659.8,955.5 660.0,951.5 660.3,946.8 660.6,940.0 660.9,930.7 661.1,916.4 661.4,892.2 661.7,850.7 662.0,781.9 662.3,679.1 662.5,540.0 662.8,380.0 663.1,235.6 663.4,176.3 663.6,235.8 663.9,378.7 664.2,540.8 664.5,677.6 664.7,781.7 665.0,850.7 665.3,891.5 665.6,916.3 665.9,931.1 666.1,940.4 666.4,946.6 666.7,951.6 667.0,955.4 667.2,958.6 667.5,961.2 667.8,963.0 668.1,964.8 668.3,966.3 668.6,967.3 668.9,968.1 669.2,969.4 669.5,969.9 669.7,970.8 670.0,971.0 670.3,971.4 670.6,971.7 670.8,971.8 671.1,971.8 671.4,971.4 671.7,970.5 672.0,969.4 672.2,967.7 672.5,966.3 672.8,963.9 673.1,961.2 673.3,958.6 673.6,956.5 674.0,955.0 674.4,956.8 674.7,959.0 675.0,961.5 675.3,964.5 675.6,967.0 675.8,968.8 676.1,970.6 676.4,971.0 676.7,970.9 676.9,970.1 677.2,969.2 677.5,967.0 677.8,965.0 678.0,962.4 678.3,960.8 678.6,960.5 678.9,961.4 679.2,963.2 679.4,966.1 679.7,968.4 680.0,970.8 680.3,972.6 680.5,974.5 680.8,975.9 681.1,976.3 681.4,977.2 681.6,977.5 681.9,977.8 682.2,977.7 682.5,978.2 682.8,978.1 683.0,978.4 683.3,978.7 683.6,978.6 683.9,978.7 684.1,978.9 684.4,979.1 684.7,978.6 685.0,979.4 685.2,979.7 685.5,979.7 685.8,979.7 686.1,979.9 686.4,980.3 686.6,980.4 686.9,980.2 687.2,980.3 687.5,980.5 687.7,980.7 688.0,981.0 688.3,981.0 688.6,981.1 688.9,981.4 689.1,981.5 689.4,981.6 689.7,982.0 690.0,981.9 690.2,982.3 690.5,982.5 690.8,982.3 691.1,982.8 691.3,982.7 691.6,982.5 691.9,982.5 692.2,982.5 692.5,982.5 692.7,982.2 693.0,982.1 693.3,982.1 693.6,982.1 693.8,982.0 694.1,981.7 694.4,981.6 694.7,981.4 694.9,981.4 695.2,981.1 695.5,981.3 695.8,981.2 696.1,980.8 696.3,980.9 696.6,980.8 696.9,980.6 697.2,980.7 697.4,980.4 697.7,980.5 698.0,980.2 698.3,980.2 698.5,980.2 698.8,980.2 699.1,980.2 699.4,980.5 699.7,980.2 699.9,980.3 700.2,980.4 700.5,980.3 700.8,980.3 701.0,980.3 701.3,980.1 701.6,980.4 701.9,980.4 702.1,980.2 702.4,980.5 702.7,980.6 703.0,980.6 703.3,980.6 703.5,980.6 703.8,980.6 704.1,980.7 704.4,980.8 704.6,980.7 704.9,980.8 705.2,980.8 705.5,980.7 705.8,980.8 706.0,980.9 706.3,981.0 706.6,981.0 706.9,981.1 707.1,980.8 707.4,980.8 707.7,980.9 708.0,980.9 708.2,981.1 708.5,981.0 708.8,981.1 709.1,981.1 709.4,981.2 709.6,981.3 709.9,981.1 710.2,981.1 710.5,981.3 710.7,981.2 711.0,981.2 711.3,981.2 711.6,981.4 711.8,981.4 712.1,981.4 712.4,981.4 712.7,981.5 713.0,981.2 713.2,981.5 713.5,981.1 713.8,981.4 714.1,981.4 714.3,981.5 714.6,981.4 714.9,981.5 715.2,981.5 715.4,981.5 715.7,981.6 716.0,981.6 716.3,981.6 716.6,981.8 716.8,981.9 717.1,981.6 717.4,981.9 717.7,981.9 717.9,981.7 718.2,982.1 718.5,982.1 718.8,982.2 719.1,982.2 719.3,982.1 719.6,982.2 719.9,982.2 720.2,982.5 720.4,982.3 720.7,982.5 721.0,982.6 721.3,982.5 721.5,982.7 721.8,982.4 722.1,982.8 722.4,982.6 722.7,982.8 722.9,982.8 723.2,982.9 723.5,982.6 723.8,983.0 724.0,982.9 724.3,982.9 724.6,983.0 724.9,982.9 725.1,983.1 725.4,983.2 725.7,983.1 726.0,983.0 726.3,983.1 726.5,983.3 726.8,983.1 727.1,983.2 727.4,983.4 727.6,983.3 727.9,983.4 728.2,983.4 728.5,983.4 728.7,983.4 729.0,983.5 729.3,983.5 729.6,983.8 729.9,983.7 730.1,983.5 730.4,983.7 730.7,983.6 731.0,983.6 731.2,983.6 731.5,983.6 731.8,983.5 732.1,983.6 732.3,983.6 732.6,983.8 732.9,983.6 733.2,983.8 733.5,983.5 733.7,983.8 734.0,983.8 734.3,983.7 734.6,983.8 734.8,983.7 735.1,983.7 735.4,983.8 735.7,983.8 736.0,983.6 736.2,983.6 736.5,983.7 736.8,983.8 737.1,983.6 737.3,983.8 737.6,983.8 737.9,983.8 738.2,983.9 738.4,983.9 738.7,983.7 739.0,983.8 739.3,984.0 739.6,983.9 739.8,983.9 740.1,983.9 740.4,983.9 740.7,984.1 740.9,984.1 741.2,984.0 741.5,984.0 741.8,984.1 742.0,984.0 742.3,984.0 742.6,984.0 742.9,984.0 743.2,983.9 743.4,983.9 743.7,984.0 744.0,984.0 744.3,984.0 744.5,984.0 744.8,984.0 745.1,984.0 745.4,984.1 745.6,984.0 745.9,984.0 746.2,984.1 746.5,984.1 746.8,984.2 747.0,984.1 747.3,984.2 747.6,984.3 747.9,984.0 748.1,984.0 748.4,984.2 748.7,984.0 749.0,984.4 749.2,984.1 749.5,984.1 749.8,984.2 750.1,984.2 750.4,984.1 750.6,984.2 750.9,984.3 751.2,984.3 751.5,984.1 751.7,984.1 752.0,984.3 752.3,984.3 752.6,984.1 752.9,984.3 753.1,984.3 753.4,984.2 753.7,984.1 754.0,984.4 754.2,984.1 754.5,984.2 754.8,984.1 755.1,984.3 755.3,984.2 755.6,984.1 755.9,984.0 756.2,984.1 756.5,984.1 756.7,984.0 757.0,984.0 757.3,984.1 757.6,984.1 757.8,984.0 758.1,984.0 758.4,984.1 758.7,983.9 758.9,983.9 759.2,984.0 759.5,984.0 759.8,983.9 760.1,984.1 760.3,984.1 760.6,983.9 760.9,984.1 761.2,984.1 761.4,984.1 761.7,983.9 762.0,983.8 762.3,984.0 762.5,983.8 762.8,983.7 763.1,983.7 763.4,984.0 763.7,983.7 763.9,983.5 764.2,983.8 764.5,983.9 764.8,983.5 765.0,983.6 765.3,983.6 765.6,983.5 765.9,983.7 766.2,983.5 766.4,983.3 766.7,983.2 767.0,983.1 767.3,983.0 767.5,983.0 767.8,982.9 768.1,982.6 768.4,982.8 768.6,982.4 768.9,982.4 769.2,982.2 769.5,981.8 769.8,981.9 770.0,981.8 770.3,981.7 770.6,981.6 770.9,981.3 771.1,981.5 771.4,981.1 771.7,981.0 772.0,980.9 772.2,980.9 772.5,980.8 772.8,980.4 773.1,980.2 773.4,979.9 773.6,979.9 773.9,979.7 774.2,979.5 774.5,979.0 774.7,978.6 775.0,978.3 775.3,977.5 775.6,977.3 775.8,976.7 776.1,976.0 776.4,975.5 776.7,975.0 777.0,974.4 777.2,973.7 777.5,973.9 777.9,973.8 778.3,973.9 778.6,974.3 778.9,974.8 779.2,975.1 779.4,976.0 779.7,976.4 780.0,977.4 780.3,977.9 780.6,978.7 780.8,979.1 781.1,979.6 781.4,980.1 781.7,980.6 781.9,981.1 782.2,981.5 782.5,981.6 782.8,982.0 783.1,982.1 783.3,982.6 783.6,982.6 783.9,982.9 784.2,982.7 784.4,983.0 784.7,983.1 785.0,982.9 785.3,983.1 785.5,983.1 785.8,983.2 786.1,983.1 786.4,983.2 786.7,983.2 786.9,983.3 787.2,983.2 787.5,983.2 787.8,983.3 788.0,983.2 788.3,983.5 788.6,983.4 788.9,983.4 789.1,983.4 789.4,983.3 789.7,983.5 790.0,983.5 790.3,983.3 790.5,983.4 790.8,983.3 791.1,983.3 791.4,983.4 791.6,983.3 791.9,983.1 792.2,983.2 792.5,983.2 792.7,983.1 793.0,983.2 793.3,983.2 793.6,983.1 793.9,982.8 794.1,982.8 794.4,982.6 794.7,982.6 795.0,982.5 795.2,982.6 795.5,982.6 795.8,982.4 796.1,982.0 796.3,981.9 796.6,981.6 796.9,981.0 797.2,980.5 797.5,980.0 797.7,978.6 798.0,976.6 798.3,973.7 798.6,969.7 798.8,963.3 799.1,956.0 799.4,946.7 799.7,938.3 800.1,931.9 800.5,937.8 800.8,946.9 801.1,955.8 801.3,963.4 801.6,969.3 801.9,974.0 802.2,976.6 802.4,978.5 802.7,979.7 803.0,980.5 803.3,980.8 803.6,981.2 803.8,981.4 804.1,981.7 804.4,981.9 804.7,982.1 804.9,982.2 805.2,982.2 805.5,982.3 805.8,982.4 806.0,982.4 806.3,982.5 806.6,982.6 806.9,982.7 807.2,982.5 807.4,982.7 807.7,982.7 808.0,982.7 808.3,982.6 808.5,982.6 808.8,982.8 809.1,982.7 809.4,982.6 809.6,982.8 809.9,982.7 810.2,982.8 810.5,982.8 810.8,982.8 811.0,982.6 811.3,982.5 811.6,982.8 811.9,982.5 812.1,982.4 812.4,982.5 812.7,982.3 813.0,982.2 813.2,981.9 813.5,982.1 813.8,981.7 814.1,981.9 814.4,981.7 814.6,981.3 814.9,981.4 815.2,981.2 815.5,981.3 815.7,981.0 816.0,980.8 816.3,980.9 816.6,981.0 816.9,981.0 817.1,981.0 817.4,981.2 817.7,981.4 818.0,981.3 818.2,981.5 818.5,981.7 818.8,981.9 819.1,981.7 819.3,982.0 819.6,981.9 819.9,981.9 820.2,982.1 820.5,982.2 820.7,982.5 821.0,982.0 821.3,982.2 821.6,982.4 821.8,982.4 822.1,982.3 822.4,982.6 822.7,982.2 822.9,982.2 823.2,982.4 823.5,982.4 823.8,982.0 824.1,982.3 824.3,982.2 824.6,982.2 824.9,982.3 825.2,982.0 825.4,981.8 825.7,982.1 826.0,982.0 826.3,981.7 826.5,982.1 826.8,981.9 827.1,981.9 827.4,982.0 827.7,982.1 827.9,982.0 828.2,982.3 828.5,982.1 828.8,982.0 829.0,982.2 829.3,982.3 829.6,981.9 829.9,982.2 830.2,982.3 830.4,982.2 830.7,982.3 831.0,982.4 831.3,982.3 831.5,982.4 831.8,982.5 832.1,982.2 832.4,982.4 832.6,982.2 832.9,982.6 833.2,982.4 833.5,982.4 833.8,982.2 834.0,982.2 834.3,982.0 834.6,982.0 834.9,982.0 835.1,981.8 835.4,981.6 835.7,981.5 836.0,981.7 836.2,981.2 836.5,980.7 836.8,980.4 837.1,979.6 837.4,979.0 837.6,977.5 837.9,975.4 838.2,971.8 838.5,966.5 838.7,959.7 839.0,951.5 839.3,942.8 839.6,935.8 839.8,933.0 840.1,936.2 840.4,942.8 840.7,951.9 841.0,959.9 841.2,966.8 841.5,971.7 841.8,975.4 842.1,977.4 842.3,978.9 842.6,979.6 842.9,980.4 843.2,980.8 843.4,981.3 843.7,981.2 844.0,981.5 844.3,981.9 844.6,981.7 844.8,981.8 845.1,982.0 845.4,981.8 845.7,982.0 845.9,982.1 846.2,982.0 846.5,982.2 846.8,981.9 847.1,982.0 847.3,981.8 847.6,981.5 847.9,981.5 848.2,981.3 848.4,980.6 848.7,980.2 849.0,979.3 849.3,978.2 849.5,976.6 849.8,974.3 850.1,972.0 850.4,969.2 850.7,965.7 850.9,962.5 851.2,959.8 851.6,957.8 852.0,959.7 852.3,962.3 852.6,965.6 852.9,969.1 853.1,972.2 853.4,974.7 853.7,976.9 854.0,978.6 854.3,979.7 854.5,980.4 854.8,981.3 855.1,981.6 855.4,981.8 855.6,982.3 855.9,982.3 856.2,982.5 856.5,982.5 856.7,982.8 857.0,982.9 857.3,982.7 857.6,982.7 857.9,983.0 858.1,982.9 858.4,983.2 858.7,983.1 859.0,983.2 859.2,983.2 859.5,983.4 859.8,983.3 860.1,983.2 860.4,983.2 860.6,983.3 860.9,983.3 861.2,983.3 861.5,983.2 861.7,983.6 862.0,983.6 862.3,983.4 862.6,983.3 862.8,983.3 863.1,983.4 863.4,983.6 863.7,983.4 864.0,983.5 864.2,983.4 864.5,983.5 864.8,983.3 865.1,983.6 865.3,983.3 865.6,983.6 865.9,983.4 866.2,983.4 866.4,983.6 866.7,983.6 867.0,983.4 867.3,983.4 867.6,983.4 867.8,983.2 868.1,983.1 868.4,983.0 868.7,983.1 868.9,982.9 869.2,982.8 869.5,982.5 869.8,982.4 870.0,982.4 870.3,982.2 870.6,982.3 870.9,981.6 871.2,981.6 871.4,981.4 871.7,981.3 872.0,981.2 872.3,981.3 872.5,981.1 872.8,981.0 873.1,981.1 873.4,981.0 873.6,981.2 873.9,981.2 874.2,981.2 874.5,981.4 874.8,981.6 875.0,981.4 875.3,981.9 875.6,982.0 875.9,981.9 876.1,982.1 876.4,981.9 876.7,982.2 877.0,982.1 877.3,981.9 877.5,982.2 877.8,981.7 878.1,981.6 878.4,981.3 878.6,980.7 878.9,980.2 879.2,978.8 879.5,977.3 879.7,974.4 880.0,971.4 880.3,966.7 880.6,961.5 880.9,955.9 881.1,950.4 881.5,947.0 882.0,950.7 882.2,955.6 882.5,961.9 882.8,967.0 883.1,971.5 883.3,974.8 883.6,977.6 883.9,979.1 884.2,980.2 884.5,981.1 884.7,981.7 885.0,982.1 885.3,982.5 885.6,982.6 885.8,982.7 886.1,982.7 886.4,983.0 886.7,983.2 886.9,983.2 887.2,983.4 887.5,983.6 887.8,983.5 888.1,983.6 888.3,983.5 888.6,983.6 888.9,983.8 889.2,983.8 889.4,983.8 889.7,983.5 890.0,983.9 890.3,983.9 890.5,983.7 890.8,983.7 891.1,983.9 891.4,983.7 891.7,983.9 891.9,984.0 892.2,983.9 892.5,983.8 892.8,983.8 893.0,984.0 893.3,984.1 893.6,984.0 893.9,984.0 894.2,984.1 894.4,984.0 894.7,984.0 895.0,984.2 895.3,984.1 895.5,983.9 895.8,984.1 896.1,983.9 896.4,984.3 896.6,984.2 896.9,984.1 897.2,984.2 897.5,984.1 897.8,984.1 898.0,984.2 898.3,983.9 898.6,983.9 898.9,984.3 899.1,984.2 899.4,984.3 899.7,984.2 900.0,984.2 900.2,984.2 900.5,984.0 900.8,984.0 901.1,984.2 901.4,984.1 901.6,984.1 901.9,984.3 902.2,984.2 902.5,984.3 902.7,984.0 903.0,984.0 903.3,984.1 903.6,984.0 903.8,984.2 904.1,984.3 904.4,984.0 904.7,984.2 905.0,984.1 905.2,984.3 905.5,984.1 905.8,984.2 906.1,984.2 906.3,984.3 906.6,984.2 906.9,984.2 907.2,984.2 907.5,984.0 907.7,984.3 908.0,984.3 908.3,984.3 908.6,984.2 908.8,984.2 909.1,984.3 909.4,984.2 909.7,984.1 909.9,984.2 910.2,984.3 910.5,984.1 910.8,984.2 911.1,984.3 911.3,984.0 911.6,984.2 911.9,984.3 912.2,984.1 912.4,984.2 912.7,984.2 913.0,984.0 913.3,984.2 913.5,984.2 913.8,984.1 914.1,984.1 914.4,984.3 914.7,984.1 914.9,984.0 915.2,984.1 915.5,984.0 915.8,984.2 916.0,983.9 916.3,984.0 916.6,984.1 916.9,984.1 917.1,983.8 917.4,983.9 917.7,983.9 918.0,983.8 918.3,983.8 918.5,983.8 918.8,983.7 919.1,983.7 919.4,983.5 919.6,983.2 919.9,983.6 920.2,983.3 920.5,983.2 920.7,983.0 921.0,983.2 921.3,982.6 921.6,982.6 921.9,982.3 922.1,982.3 922.4,982.4 922.7,982.2 923.0,981.8 923.4,981.8 923.8,981.5 924.1,981.6 924.4,981.3 924.6,980.9 924.9,980.6 925.2,980.3 925.5,979.5 925.7,978.5 926.0,977.3 926.3,975.6 926.6,973.3 926.8,971.0 927.1,968.4 927.4,965.5 927.7,963.2 928.0,961.6 928.2,961.1 928.5,961.9 928.8,963.7 929.1,966.2 929.3,968.8 929.6,971.4 929.9,974.1 930.2,976.2 930.4,978.0 930.7,979.3 931.0,980.4 931.3,981.0 931.6,981.6 931.8,982.2 932.1,982.6 932.4,982.7 932.7,983.1 932.9,983.0 933.2,983.4 933.5,983.4 933.8,983.4 934.0,983.5 934.3,983.7 934.6,983.7 934.9,983.7 935.2,983.9 935.4,983.6 935.7,983.9 936.0,983.8 936.3,983.6 936.5,983.9 936.8,983.9 937.1,983.9 937.4,984.0 937.6,984.1 937.9,984.1 938.2,984.0 938.5,984.0 938.8,983.9 939.0,984.0 939.3,984.0 939.6,984.2 939.9,984.1 940.1,984.0 940.4,984.1 940.7,984.0 941.0,984.1 941.3,984.1 941.5,984.1 941.8,984.2 942.1,983.8 942.4,984.3 942.6,984.0 942.9,984.0 943.2,984.2 943.5,984.1 943.7,984.0 944.0,984.1 944.3,984.1 944.6,984.2 944.9,984.1 945.1,984.2 945.4,984.3 945.7,984.2 946.0,984.1 946.2,984.1 946.5,984.1 946.8,984.2 947.1,984.2 947.3,984.3 947.6,984.2 947.9,984.2 948.2,984.3 948.5,984.0 948.7,984.4 949.0,984.1 949.3,984.2 949.6,984.0 949.8,984.2 950.1,984.1 950.4,984.2 950.7,984.2 950.9,984.1 951.2,984.1 951.5,984.2 951.8,983.9 952.1,984.1 952.3,984.0 952.6,983.9 952.9,983.9 953.2,983.8 953.4,983.9 953.7,983.6 954.0,983.6 954.3,983.6 954.6,983.3 954.8,983.7 955.1,983.5 955.4,983.5 955.7,983.6 955.9,983.5 956.2,983.1 956.5,983.3 956.8,983.1 957.0,983.4 957.3,983.2 957.6,983.4 957.9,983.3 958.2,983.4 958.4,983.3 958.7,983.8 959.0,983.5 959.3,983.3 959.5,983.7 959.8,983.7 960.1,983.8 960.4,983.8 960.6,983.9 960.9,983.9 961.2,984.1 961.5,984.1 961.8,984.0 962.0,984.1 962.3,984.1 962.6,984.0 962.9,984.0 963.1,984.1 963.4,984.1 963.7,984.2 964.0,984.2 964.2,984.1 964.5,984.3 964.8,984.0 965.1,984.3 965.4,984.2 965.6,984.3 965.9,984.3 966.2,984.1 966.5,984.4 966.7,984.0 967.0,984.4 967.3,984.1 967.6,984.2 967.8,984.2 968.1,984.1 968.4,984.0 968.7,984.2 969.0,984.2 969.2,984.2 969.5,984.1 969.8,984.3 970.1,984.1 970.3,984.0 970.6,984.2 970.9,984.2 971.2,984.1 971.5,984.2 971.7,984.1 972.0,984.2 972.3,984.1 972.6,984.3 972.8,984.3 973.1,984.0 973.4,984.2 973.7,984.2 973.9,984.0 974.2,984.2 974.5,984.1 974.8,984.2 975.1,984.1 975.3,984.0 975.6,983.9 975.9,984.0 976.2,984.2 976.4,984.1 976.7,983.9 977.0,984.1 977.3,984.1 977.5,984.0 977.8,983.8 978.1,984.1 978.4,983.8 978.7,983.8 978.9,984.0 979.2,984.0 979.5,983.9 979.8,983.8 980.0,983.8 980.3,983.7 980.6,983.4 980.9,983.5 981.1,983.5 981.4,983.6 981.7,983.4 982.0,983.5 982.3,983.3 982.5,983.1 982.8,982.9 983.1,983.0 983.4,982.9 983.6,982.7 983.9,982.6 984.2,982.2 984.5,981.8 984.7,981.6 985.0,981.3 985.3,980.7 985.6,980.0 985.9,978.5 986.1,976.8 986.4,973.5 986.7,969.2 987.0,962.1 987.2,952.9 987.5,942.0 987.8,930.4 988.1,919.8 988.4,916.7 988.6,920.1 988.9,929.8 989.2,942.1 989.5,952.8 989.7,962.1 990.0,968.7 990.3,973.8 990.6,976.8 990.8,978.8 991.1,980.1 991.4,980.9 991.7,981.3 992.0,981.7 992.2,981.8 992.5,982.1 992.8,982.6 993.1,983.0 993.3,982.9 993.6,983.0 993.9,983.2 994.2,983.4 994.4,983.4 994.7,983.4 995.0,983.5 995.3,983.7 995.6,983.6 995.8,983.8 996.1,983.8 996.4,983.7 996.7,983.9 996.9,983.8 997.2,984.1 997.5,983.8 997.8,983.9 998.0,984.0 998.3,984.0 998.6,984.1 998.9,984.1 999.2,983.8 999.4,984.0 999.7,984.0 1000.0,984.1 1000.3,984.1 1000.5,984.2 1000.8,984.0 1001.1,984.0 1001.4,984.2 1001.7,984.0 1001.9,984.1 1002.2,984.1 1002.5,984.2 1002.8,984.0 1003.0,983.9 1003.3,984.2 1003.6,984.2 1003.9,984.0 1004.1,984.2 1004.4,984.3 1004.7,984.4 1005.0,984.2 1005.3,984.0 1005.5,984.2 1005.8,984.2 1006.1,984.4 1006.4,984.2 1006.6,984.2 1006.9,984.3 1007.2,984.2 1007.5,984.3 1007.7,984.3 1008.0,984.1 1008.3,984.3 1008.6,984.1 1008.9,984.4 1009.1,984.1 1009.4,984.2 1009.7,984.1 1010.0,984.2 1010.2,984.2 1010.5,984.0 1010.8,984.5 1011.1,984.3 1011.3,984.2 1011.6,984.1 1011.9,984.4 1012.2,984.2 1012.5,984.1 1012.7,984.3 1013.0,984.2 1013.3,984.2 1013.6,984.2 1013.8,984.2 1014.1,984.2 1014.4,984.4 1014.7,984.3 1014.9,984.0 1015.2,984.4 1015.5,984.3 1015.8,984.4 1016.1,984.3 1016.3,984.4 1016.6,984.2 1016.9,984.4 1017.2,984.3 1017.4,984.4 1017.7,984.3 1018.0,984.5 1018.3,984.3 1018.6,984.2 1018.8,984.5 1019.1,984.1 1019.4,984.2 1019.7,984.3 1019.9,984.3 1020.2,984.2 1020.5,984.2 1020.8,984.3 1021.0,984.2 1021.3,984.2 1021.6,984.3 1021.9,984.1 1022.2,984.4 1022.4,984.2 1022.7,984.4 1023.0,984.3 1023.3,984.3 1023.5,984.2 1023.8,984.1 1024.1,984.3 1024.4,984.2 1024.6,984.2 1024.9,984.2 1025.2,984.4 1025.5,984.2 1025.8,984.4 1026.0,984.1 1026.3,984.1 1026.6,984.2 1026.9,984.2 1027.1,984.2 1027.4,984.4 1027.7,984.3 1028.0,984.1 1028.2,984.2 1028.5,984.3 1028.8,984.5 1029.1,984.1 1029.4,984.1 1029.6,984.0 1029.9,984.0 1030.2,984.5 1030.5,984.2 1030.7,984.2 1031.0,984.3 1031.3,984.2 1031.6,984.1 1031.8,984.3 1032.1,984.1 1032.4,984.3 1032.7,984.5 1033.0,984.2 1033.2,984.2 1033.5,984.2 1033.8,984.1 1034.1,984.3 1034.3,984.1 1034.6,984.5 1034.9,984.2 1035.2,984.3 1035.5,984.2 1035.7,984.3 1036.0,984.2 1036.3,984.1 1036.6,984.1 1036.8,984.2 1037.1,984.0 1037.4,984.1 1037.7,984.0 1037.9,984.2 1038.2,984.3 1038.5,984.1 1038.8,984.2 1039.1,984.3 1039.3,984.4 1039.6,984.1 1039.9,984.0 1040.2,984.2 1040.4,984.1 1040.7,984.3 1041.0,984.1 1041.3,984.0 1041.5,984.1 1041.8,984.0 1042.1,984.0 1042.4,984.1 1042.7,984.0 1042.9,984.2 1043.2,984.0 1043.5,984.0 1043.8,983.9 1044.0,983.8 1044.3,984.0 1044.6,984.1 1044.9,984.0 1045.1,984.0 1045.4,984.0 1045.7,984.0 1046.0,983.8 1046.3,984.0 1046.5,983.8 1046.8,983.7 1047.1,983.7 1047.4,983.5 1047.6,983.6 1047.9,983.5 1048.2,983.3 1048.5,983.5 1048.8,983.5 1049.0,983.3 1049.3,983.0 1049.6,983.1 1049.9,982.9 1050.1,982.5 1050.4,981.9 1050.7,981.8 1051.0,981.0 1051.2,980.1 1051.5,979.1 1051.8,977.5 1052.1,975.4 1052.4,973.0 1052.6,970.1 1052.9,967.4 1053.2,964.5 1053.5,962.5 1053.7,961.7 1054.0,962.0 1054.3,964.6 1054.6,967.0 1054.8,970.0 1055.1,972.6 1055.4,975.0 1055.7,977.0 1056.0,978.4 1056.2,979.6 1056.5,980.2 1056.8,980.5 1057.1,980.8 1057.3,980.9 1057.6,980.8 1057.9,980.8 1058.2,980.5 1058.4,979.9 1058.7,979.9 1059.0,979.4 1059.3,979.1 1059.6,978.9 1059.8,978.4 1060.1,978.2 1060.4,977.6 1060.7,977.2 1060.9,977.0 1061.2,976.8 1061.5,976.9 1061.8,977.0 1062.0,977.3 1062.3,977.8 1062.6,977.8 1062.9,978.1 1063.2,978.6 1063.4,979.2 1063.7,979.6 1064.0,980.1 1064.3,980.5 1064.5,981.1 1064.8,981.5 1065.1,982.0 1065.4,982.1 1065.7,982.4 1065.9,982.7 1066.2,982.8 1066.5,983.1 1066.8,983.1 1067.0,983.1 1067.3,983.4 1067.6,983.7 1067.9,983.5 1068.1,983.7 1068.4,983.7 1068.7,983.7 1069.0,983.8 1069.3,983.7 1069.5,983.7 1069.8,983.9 1070.1,983.9 1070.4,984.1 1070.6,983.7 1070.9,984.0 1071.2,983.9 1071.5,984.1 1071.7,983.9 1072.0,984.1 1072.3,984.0 1072.6,984.1 1072.9,984.1 1073.1,984.1 1073.4,984.1 1073.7,984.1 1074.0,984.1 1074.2,984.1 1074.5,984.1 1074.8,984.2 1075.1,984.1 1075.3,984.0 1075.6,984.1 1075.9,984.3 1076.2,984.0 1076.5,984.0 1076.7,984.3 1077.0,984.0 1077.3,984.4 1077.6,984.1 1077.8,984.0 1078.1,984.0 1078.4,983.9 1078.7,984.0 1078.9,984.0 1079.2,983.9 1079.5,983.9 1079.8,984.0 1080.1,984.0 1080.3,984.2 1080.6,984.1 1080.9,983.8 1081.2,983.9 1081.4,984.0 1081.7,983.9 1082.0,984.0 1082.3,983.8 1082.6,983.6 1082.8,983.8 1083.1,983.6 1083.4,983.5 1083.7,983.4 1083.9,983.3 1084.2,983.3 1084.5,983.2 1084.8,983.1 1085.0,983.2 1085.3,982.9 1085.6,983.1 1086.0,982.9 1086.4,983.0 1086.7,982.8 1087.0,983.0 1087.3,983.1 1087.5,983.1 1087.8,983.4 1088.1,983.4 1088.4,983.5 1088.6,983.5 1088.9,983.7 1089.2,983.7 1089.5,984.0 1089.8,984.0 1090.0,983.9 1090.3,984.0 1090.6,984.0 1090.9,983.9 1091.1,984.3 1091.4,984.0 1091.7,984.1 1092.0,984.2 1092.2,984.1 1092.5,984.2 1092.8,984.1 1093.1,984.2 1093.4,984.0 1093.6,984.4 1093.9,984.3 1094.2,984.2 1094.5,984.1 1094.7,984.3 1095.0,984.3 1095.3,984.3 1095.6,984.2 1095.8,984.3 1096.1,984.1 1096.4,984.1 1096.7,984.3 1097.0,984.1 1097.2,984.4 1097.5,984.3 1097.8,984.2 1098.1,984.1 1098.3,984.4 1098.6,984.3 1098.9,984.2 1099.2,984.2 1099.5,984.3 1099.7,984.2 1100.0,984.1 1100.3,984.3 1100.6,984.3 1100.8,984.1 1101.1,984.3 1101.4,984.4 1101.7,984.2 1101.9,984.1 1102.2,984.1 1102.5,984.1 1102.8,984.2 1103.1,984.2 1103.3,984.1 1103.6,984.0 1103.9,984.2 1104.2,984.4 1104.4,984.1 1104.7,984.2 1105.0,984.2 1105.3,984.2 1105.5,984.1 1105.8,984.2 1106.1,984.1 1106.4,984.2 1106.7,984.1 1106.9,984.3 1107.2,984.1 1107.5,984.1 1107.8,984.2 1108.0,984.0 1108.3,984.0 1108.6,984.2 1108.9,984.0 1109.1,984.2 1109.4,983.9 1109.7,984.0 1110.0,984.2 1110.3,984.0 1110.5,984.1 1110.8,984.1 1111.1,984.2 1111.4,984.1 1111.6,984.0 1111.9,984.0 1112.2,984.0 1112.5,984.0 1112.8,984.2 1113.0,984.1 1113.3,984.0 1113.6,984.0 1113.9,984.1 1114.1,984.1 1114.4,983.9 1114.7,984.0 1115.0,983.9 1115.2,984.0 1115.5,984.0 1115.8,983.8 1116.1,983.8 1116.4,983.7 1116.6,983.9 1116.9,983.8 1117.2,983.7 1117.5,983.7 1117.7,983.5 1118.0,983.4 1118.3,983.6 1118.6,983.3 1118.8,983.4 1119.1,983.2 1119.4,983.1 1119.7,983.0 1120.0,982.8 1120.2,982.4 1120.5,982.3 1120.8,982.1 1121.1,981.8 1121.3,980.9 1121.6,980.3 1121.9,979.3 1122.2,977.4 1122.4,974.6 1122.7,970.2 1123.0,964.1 1123.3,956.5 1123.6,947.6 1123.8,939.3 1124.2,932.9 1124.7,939.3 1124.9,947.6 1125.2,956.4 1125.5,964.7 1125.8,970.2 1126.0,974.8 1126.3,977.4 1126.6,979.2 1126.9,980.3 1127.2,981.1 1127.4,981.8 1127.7,981.9 1128.0,982.4 1128.3,982.4 1128.5,982.9 1128.8,983.0 1129.1,983.2 1129.4,983.2 1129.7,983.2 1129.9,983.3 1130.2,983.7 1130.5,983.6 1130.8,983.7 1131.0,983.5 1131.3,983.6 1131.6,983.6 1131.9,983.7 1132.1,983.6 1132.4,983.8 1132.7,983.8 1133.0,983.8 1133.3,983.8 1133.5,984.0 1133.8,983.9 1134.1,983.8 1134.4,983.8 1134.6,984.0 1134.9,983.9 1135.2,984.1 1135.5,983.8 1135.7,984.0 1136.0,984.2 1136.3,984.1 1136.6,984.0 1136.9,984.0 1137.1,984.0 1137.4,984.1 1137.7,984.2 1138.0,983.8 1138.2,984.1 1138.5,984.1 1138.8,984.1 1139.1,984.0 1139.3,983.8 1139.6,983.8 1139.9,983.7 1140.2,984.0 1140.5,983.9 1140.7,983.7 1141.0,983.9 1141.3,983.8 1141.6,983.6 1141.8,983.9 1142.1,983.8 1142.4,983.6 1142.7,983.7 1143.0,983.6 1143.2,983.3 1143.5,983.4 1143.8,983.2 1144.1,983.4 1144.3,983.2 1144.6,983.1 1144.9,983.0 1145.2,983.1 1145.4,982.9 1145.7,982.6 1146.0,982.8 1146.3,982.7 1146.6,982.5 1146.8,982.4 1147.1,982.1 1147.4,982.0 1147.7,982.1 1147.9,982.1 1148.2,982.0 1148.5,981.7 1148.8,981.8 1149.0,981.8 1149.3,981.8 1149.6,982.1 1149.9,982.2 1150.2,981.9 1150.4,981.8 1150.7,982.1 1151.0,982.3 1151.3,982.5 1151.5,982.6 1151.8,982.5 1152.1,982.6 1152.4,982.8 1152.6,982.8 1152.9,982.8 1153.2,983.0 1153.5,983.2 1153.8,983.4 1154.0,983.4 1154.3,983.5 1154.6,983.3 1154.9,983.6 1155.1,983.4 1155.4,983.7 1155.7,983.7 1156.0,983.7 1156.2,983.8 1156.5,983.8 1156.8,983.9 1157.1,983.9 1157.4,983.9 1157.6,983.8 1157.9,983.8 1158.2,984.0 1158.5,983.9 1158.7,984.1 1159.0,984.1 1159.3,984.0 1159.6,984.1 1159.9,984.0 1160.1,984.1 1160.4,984.1 1160.7,984.1 1161.0,984.2 1161.2,984.2 1161.5,984.1 1161.8,984.0 1162.1,984.2 1162.3,984.3 1162.6,984.2 1162.9,984.2 1163.2,984.2 1163.5,984.2 1163.7,984.0 1164.0,984.3 1164.3,984.3 1164.6,984.2 1164.8,984.3 1165.1,984.1 1165.4,984.3 1165.7,984.3 1165.9,984.3 1166.2,984.1 1166.5,984.2 1166.8,984.2 1167.1,984.2 1167.3,984.1 1167.6,984.1 1167.9,984.0 1168.2,984.2 1168.4,984.0 1168.7,983.9 1169.0,984.1 1169.3,984.3 1169.5,984.1 1169.8,984.1 1170.1,984.1 1170.4,984.1 1170.7,984.2 1170.9,984.1 1171.2,984.1 1171.5,984.1 1171.8,984.3 1172.0,984.0 1172.3,984.1 1172.6,984.0 1172.9,984.1 1173.1,983.9 1173.4,984.0 1173.7,984.0 1174.0,984.2 1174.3,984.1 1174.5,984.2 1174.8,984.0 1175.1,984.0 1175.4,984.0 1175.6,984.2 1175.9,983.8 1176.2,984.0 1176.5,984.0 1176.8,983.5 1177.0,983.4 1177.3,983.5 1177.6,983.5 1177.9,983.1 1178.1,982.6 1178.4,982.3 1178.7,981.4 1179.0,980.6 1179.2,979.5 1179.5,978.3 1179.8,977.2 1180.1,975.7 1180.4,974.7 1180.8,973.8 1181.2,974.8 1181.5,975.5 1181.7,977.1 1182.0,978.3 1182.3,979.7 1182.6,980.8 1182.8,981.4 1183.1,982.1 1183.4,982.7 1183.7,983.0 1184.0,983.5 1184.2,983.5 1184.5,983.5 1184.8,983.7 1185.1,983.8 1185.3,983.7 1185.6,983.7 1185.9,984.0 1186.2,984.0 1186.4,984.0 1186.7,984.1 1187.0,984.0 1187.3,984.0 1187.6,984.1 1187.8,984.2 1188.1,984.1 1188.4,984.1 1188.7,984.1 1188.9,984.1 1189.2,984.2 1189.5,984.0 1189.8,984.0 1190.1,984.2 1190.3,984.3 1190.6,984.1 1190.9,984.3 1191.2,984.3 1191.4,984.2 1191.7,984.3 1192.0,984.3 1192.3,984.2 1192.5,984.2 1192.8,984.3 1193.1,984.1 1193.4,984.1 1193.7,984.0 1193.9,984.2 1194.2,984.2 1194.5,984.1 1194.8,984.2 1195.0,984.1 1195.3,984.3 1195.6,984.3 1195.9,984.5 1196.1,984.3 1196.4,984.2 1196.7,984.2 1197.0,984.2 1197.3,984.1 1197.5,983.9 1197.8,984.2 1198.1,984.2 1198.4,984.2 1198.6,984.1 1198.9,984.3 1199.2,984.1 1199.5,984.0 1199.7,984.1 1200.0,984.1 1200.3,984.3 1200.6,984.3 1200.9,984.2 1201.1,984.1 1201.4,984.2 1201.7,984.3 1202.0,984.3 1202.2,984.3 1202.5,984.0 1202.8,984.1 1203.1,984.1 1203.3,984.2 1203.6,984.2 1203.9,984.2 1204.2,984.1 1204.5,984.2 1204.7,984.1 1205.0,984.1 1205.3,984.3 1205.6,984.1 1205.8,984.1 1206.1,983.9 1206.4,984.3 1206.7,984.2 1207.0,984.1 1207.2,984.2 1207.5,984.0 1207.8,984.2 1208.1,984.1 1208.3,984.0 1208.6,983.9 1208.9,984.1 1209.2,984.0 1209.4,984.1 1209.7,984.0 1210.0,984.1 1210.3,984.0 1210.6,984.3 1210.8,984.0 1211.1,984.1 1211.4,984.1 1211.7,984.1 1211.9,984.0 1212.2,984.1 1212.5,984.2 1212.8,984.1 1213.0,984.0 1213.3,984.0 1213.6,984.1 1213.9,984.0 1214.2,984.1 1214.4,984.0 1214.7,984.1 1215.0,984.2 1215.3,983.8 1215.5,984.1 1215.8,984.0 1216.1,983.8 1216.4,984.1 1216.6,984.2 1216.9,983.9 1217.2,983.9 1217.5,984.0 1217.8,984.0 1218.0,983.8 1218.3,984.0 1218.6,983.9 1218.9,983.9 1219.1,983.6 1219.4,984.0 1219.7,983.7 1220.0,983.8 1220.2,983.6 1220.5,984.1 1220.8,983.7 1221.1,983.7 1221.4,983.9 1221.6,984.0 1221.9,983.4 1222.2,983.6 1222.5,983.7 1222.7,983.7 1223.0,983.4 1223.3,983.4 1223.6,983.5 1223.9,983.4 1224.1,983.2 1224.4,983.4 1224.7,983.1 1225.0,983.0 1225.2,983.3 1225.5,983.1 1225.8,982.6 1226.1,982.8 1226.3,982.6 1226.6,982.5 1226.9,982.3 1227.2,982.0 1227.5,981.8 1227.7,981.6 1228.0,981.5 1228.3,981.1 1228.6,980.2 1228.8,979.8 1229.1,978.7 1229.4,977.5 1229.7,975.7 1229.9,973.3 1230.2,970.4 1230.5,967.2 1230.8,963.6 1231.1,959.9 1231.3,956.3 1231.6,952.7 1232.0,950.5 1232.4,951.9 1232.7,953.6 1233.0,956.3 1233.3,959.2 1233.5,960.7 1233.8,961.4 1234.1,962.1 1234.4,960.9 1234.7,959.2 1234.9,957.2 1235.2,955.2 1235.5,953.7 1235.8,952.5 1236.0,952.6 1236.3,952.8 1236.6,952.4 1236.9,951.5 1237.2,950.2 1237.4,948.5 1237.7,947.3 1238.0,945.6 1238.3,946.2 1238.5,947.5 1238.8,950.2 1239.1,953.1 1239.4,956.9 1239.6,961.3 1239.9,964.6 1240.2,968.3 1240.5,971.1 1240.8,973.4 1241.0,975.5 1241.3,977.0 1241.6,978.5 1241.9,979.3 1242.1,980.1 1242.4,980.9 1242.7,981.2 1243.0,981.8 1243.2,981.9 1243.5,982.0 1243.8,982.1 1244.1,982.5 1244.4,982.6 1244.6,982.7 1244.9,982.9 1245.2,982.7 1245.5,982.8 1245.7,983.0 1246.0,983.2 1246.3,983.2 1246.6,983.3 1246.8,983.4 1247.1,983.5 1247.4,983.4 1247.7,983.4 1248.0,983.5 1248.2,983.4 1248.5,983.8 1248.8,983.6 1249.1,983.6 1249.3,983.5 1249.6,983.7 1249.9,983.7 1250.2,983.7 1250.4,983.7 1250.7,983.8 1251.0,983.8 1251.3,983.7 1251.6,983.9 1251.8,983.9 1252.1,984.0 1252.4,984.0 1252.7,983.9 1252.9,983.8 1253.2,984.0 1253.5,983.8 1253.8,984.0 1254.1,983.9 1254.3,984.0 1254.6,983.8 1254.9,984.0 1255.2,984.1 1255.4,984.1 1255.7,984.3 1256.0,983.9 1256.3,983.8 1256.5,984.1 1256.8,984.0 1257.1,983.9 1257.4,984.1 1257.7,984.1 1257.9,983.9 1258.2,984.2 1258.5,984.0 1258.8,984.0 1259.0,984.2 1259.3,984.3 1259.6,984.0 1259.9,984.1 1260.1,984.0 1260.4,984.2 1260.7,984.2 1261.0,984.1 1261.3,984.1 1261.5,984.1 1261.8,984.2 1262.1,984.1 1262.4,984.1 1262.6,984.1 1262.9,984.1 1263.2,984.1 1263.5,984.2"/></defs>
<g fill="none" stroke="#00f" stroke-linejoin="round" stroke-linecap="round"><use href="#c5" stroke-width="5"/><use href="#c5" stroke-width="6.7" shape-rendering="crispEdges"/></g>
<g class="tl" text-anchor="end">
<text x="208.5" y="1100.3">-20,000</text>
<text x="208.5" y="996.3">0</text>
<text x="208.5" y="892.3">20,000</text>
<text x="208.5" y="788.3">40,000</text>
<text x="208.5" y="684.3">60,000</text>
<text x="208.5" y="580.3">80,000</text>
<text x="208.5" y="476.3">100,000</text>
<text x="208.5" y="372.3">120,000</text>
<text x="208.5" y="268.3">140,000</text>
<text x="208.5" y="164.3">160,000</text>
</g>
<g class="tl" text-anchor="middle">
<text x="293.8" y="1135.3">0</text>
<text x="432.3" y="1135.3">10</text>
<text x="570.8" y="1135.3">20</text>
<text x="709.4" y="1135.3">30</text>
<text x="847.9" y="1135.3">40</text>
<text x="986.4" y="1135.3">50</text>
<text x="1124.9" y="1135.3">60</text>
<text x="1263.5" y="1135.3">70</text>
<text x="1402.0" y="1135.3">80</text>
</g>
<text class="ax" text-anchor="middle" x="775.6" y="1198.0">2Th Degrees</text>
<text class="ax" text-anchor="middle" transform="translate(82.8,590) rotate(-90)">Counts</text>
</g>
<text class="cap" y="4156.5"><tspan x="708.8">(</tspan><tspan class="b" text-anchor="middle" x="756">5</tspan><tspan x="775.8">)</tspan></text>
<g transform="translate(1734,2826)">
<path d="M44 49H1473V1243H44Z M52 56V1236H1465V56Z" fill="#000" fill-rule="evenodd"/>
<path d="M294.3 1091.0 v-15.0 M294.3 103.0 v15.0 M432.8 1091.0 v-15.0 M432.8 103.0 v15.0 M571.3 1091.0 v-15.0 M571.3 103.0 v15.0 M709.9 1091.0 v-15.0 M709.9 103.0 v15.0 M848.4 1091.0 v-15.0 M848.4 103.0 v15.0 M986.9 1091.0 v-15.0 M986.9 103.0 v15.0 M1125.4 1091.0 v-15.0 M1125.4 103.0 v15.0 M1264.0 1091.0 v-15.0 M1264.0 103.0 v15.0 M363.5 1091.0 v-8.0 M363.5 103.0 v8.0 M502.1 1091.0 v-8.0 M502.1 103.0 v8.0 M640.6 1091.0 v-8.0 M640.6 103.0 v8.0 M779.1 1091.0 v-8.0 M779.1 103.0 v8.0 M917.6 1091.0 v-8.0 M917.6 103.0 v8.0 M1056.2 1091.0 v-8.0 M1056.2 103.0 v8.0 M1194.7 1091.0 v-8.0 M1194.7 103.0 v8.0 M1333.2 1091.0 v-8.0 M1333.2 103.0 v8.0 M225.0 1039.0 h8.0 M1402.5 1039.0 h-8.0 M225.0 987.0 h15.0 M1402.5 987.0 h-15.0 M225.0 935.0 h8.0 M1402.5 935.0 h-8.0 M225.0 883.0 h15.0 M1402.5 883.0 h-15.0 M225.0 831.0 h8.0 M1402.5 831.0 h-8.0 M225.0 779.0 h15.0 M1402.5 779.0 h-15.0 M225.0 727.0 h8.0 M1402.5 727.0 h-8.0 M225.0 675.0 h15.0 M1402.5 675.0 h-15.0 M225.0 623.0 h8.0 M1402.5 623.0 h-8.0 M225.0 571.0 h15.0 M1402.5 571.0 h-15.0 M225.0 519.0 h8.0 M1402.5 519.0 h-8.0 M225.0 467.0 h15.0 M1402.5 467.0 h-15.0 M225.0 415.0 h8.0 M1402.5 415.0 h-8.0 M225.0 363.0 h15.0 M1402.5 363.0 h-15.0 M225.0 311.0 h8.0 M1402.5 311.0 h-8.0 M225.0 259.0 h15.0 M1402.5 259.0 h-15.0 M225.0 207.0 h8.0 M1402.5 207.0 h-8.0 M225.0 155.0 h15.0 M1402.5 155.0 h-15.0" stroke="#000" stroke-width="4" fill="none" shape-rendering="crispEdges"/>
<path d="M223 101H1404V1093H223Z M227 105V1089H1401V105Z" fill="#000" fill-rule="evenodd"/>
<defs><polyline id="c6" points="363.5,974.1 363.8,974.5 364.1,974.3 364.4,974.2 364.6,973.9 364.9,974.2 365.2,974.4 365.5,974.1 365.7,974.3 366.0,973.9 366.3,974.1 366.6,973.8 366.9,974.1 367.1,974.2 367.4,974.3 367.7,974.1 368.0,973.9 368.2,973.8 368.5,973.9 368.8,974.1 369.1,973.9 369.3,974.2 369.6,973.8 369.9,974.0 370.2,973.7 370.5,973.7 370.7,973.8 371.0,974.0 371.3,973.7 371.6,973.8 371.8,973.9 372.1,973.9 372.4,973.6 372.7,973.8 372.9,973.7 373.2,973.5 373.5,973.9 373.8,973.4 374.1,973.5 374.3,973.8 374.6,973.8 374.9,973.8 375.2,973.4 375.4,974.0 375.7,973.4 376.0,973.5 376.3,973.6 376.6,973.6 376.8,973.5 377.1,973.5 377.4,973.3 377.7,973.6 377.9,973.2 378.2,973.2 378.5,973.4 378.8,973.3 379.0,973.4 379.3,973.3 379.6,973.2 379.9,973.0 380.2,973.3 380.4,973.3 380.7,973.2 381.0,973.3 381.3,973.4 381.5,972.9 381.8,973.3 382.1,973.2 382.4,973.3 382.6,973.0 382.9,972.6 383.2,972.6 383.5,972.9 383.8,973.0 384.0,973.0 384.3,973.2 384.6,972.9 384.9,973.0 385.1,972.6 385.4,973.0 385.7,973.1 386.0,973.2 386.2,973.2 386.5,972.8 386.8,972.8 387.1,973.1 387.4,973.1 387.6,972.8 387.9,972.9 388.2,972.8 388.5,972.8 388.7,972.9 389.0,973.1 389.3,972.7 389.6,972.7 389.9,972.7 390.1,972.6 390.4,972.6 390.7,972.8 391.0,972.6 391.2,973.1 391.5,972.5 391.8,972.6 392.1,972.4 392.3,972.4 392.6,972.7 392.9,972.5 393.2,972.3 393.5,972.5 393.7,972.4 394.0,972.5 394.3,972.2 394.6,972.2 394.8,972.4 395.1,972.5 395.4,972.6 395.7,972.0 395.9,972.2 396.2,972.2 396.5,972.1 396.8,972.1 397.1,971.8 397.3,971.8 397.6,972.2 397.9,971.8 398.2,971.7 398.4,971.7 398.7,971.6 399.0,971.3 399.3,971.5 399.5,971.3 399.8,971.3 400.1,971.7 400.4,971.0 400.7,971.3 400.9,971.3 401.2,971.1 401.5,970.8 401.8,971.2 402.0,971.2 402.3,970.9 402.6,971.3 402.9,971.1 403.1,970.9 403.4,970.7 403.7,970.7 404.0,970.6 404.3,970.5 404.5,970.7 404.8,970.7 405.1,970.6 405.4,970.6 405.6,970.3 405.9,970.3 406.2,970.8 406.5,970.3 406.8,970.5 407.0,970.5 407.3,970.0 407.6,969.9 407.9,969.9 408.1,970.0 408.4,969.7 408.7,970.2 409.0,969.9 409.2,970.1 409.5,970.0 409.8,970.2 410.1,969.6 410.4,969.5 410.6,969.6 410.9,969.8 411.2,969.6 411.5,969.7 411.7,969.5 412.0,969.1 412.3,969.0 412.6,969.1 412.8,969.0 413.1,969.0 413.4,968.7 413.7,968.7 414.0,968.3 414.2,968.3 414.5,967.7 414.8,967.6 415.1,967.3 415.3,967.2 415.6,966.7 415.9,966.7 416.2,966.9 416.4,966.9 416.7,966.7 417.0,967.0 417.3,967.4 417.6,968.0 417.8,968.5 418.1,968.9 418.4,969.9 418.7,970.4 418.9,971.4 419.2,972.0 419.5,972.5 419.8,973.1 420.0,973.6 420.3,974.1 420.6,974.4 420.9,974.7 421.2,974.8 421.4,974.7 421.7,974.9 422.0,974.8 422.3,975.0 422.5,975.0 422.8,975.0 423.1,975.1 423.4,975.0 423.7,975.3 423.9,975.2 424.2,975.3 424.5,975.1 424.8,975.2 425.0,975.5 425.3,975.3 425.6,975.3 425.9,975.4 426.1,975.2 426.4,975.4 426.7,975.7 427.0,975.5 427.3,975.4 427.5,975.7 427.8,975.5 428.1,976.0 428.4,975.3 428.6,975.9 428.9,975.7 429.2,975.7 429.5,975.9 429.7,975.7 430.0,975.9 430.3,976.0 430.6,976.1 430.9,975.7 431.1,975.6 431.4,975.9 431.7,975.8 432.0,975.6 432.2,975.8 432.5,975.7 432.8,975.8 433.1,975.8 433.3,975.9 433.6,975.8 433.9,976.0 434.2,976.0 434.5,976.2 434.7,976.4 435.0,976.2 435.3,976.2 435.6,976.0 435.8,976.2 436.1,976.5 436.4,976.1 436.7,976.0 437.0,976.2 437.2,976.2 437.5,976.2 437.8,976.3 438.1,976.1 438.3,976.5 438.6,976.5 438.9,976.6 439.2,976.5 439.4,976.5 439.7,976.5 440.0,976.4 440.3,976.3 440.6,976.7 440.8,976.5 441.1,976.6 441.4,976.7 441.7,976.6 441.9,976.5 442.2,976.9 442.5,976.4 442.8,976.7 443.0,976.8 443.3,976.9 443.6,976.5 443.9,976.6 444.2,976.6 444.4,976.7 444.7,976.5 445.0,976.5 445.3,976.5 445.5,976.8 445.8,976.7 446.1,976.9 446.4,976.9 446.6,976.9 446.9,976.9 447.2,976.9 447.5,976.9 447.8,977.0 448.0,977.0 448.3,977.1 448.6,977.1 448.9,977.1 449.1,976.9 449.4,976.9 449.7,976.9 450.0,976.7 450.2,977.3 450.5,977.0 450.8,977.3 451.1,977.2 451.4,977.3 451.6,977.2 451.9,977.0 452.2,977.0 452.5,977.1 452.7,977.1 453.0,977.2 453.3,977.4 453.6,977.0 453.9,977.3 454.1,977.3 454.4,977.3 454.7,977.4 455.0,977.4 455.2,977.1 455.5,977.4 455.8,977.3 456.1,977.4 456.3,977.4 456.6,977.0 456.9,977.0 457.2,977.1 457.5,976.7 457.7,977.1 458.0,976.8 458.3,976.9 458.6,976.8 458.8,976.7 459.1,976.9 459.4,976.4 459.7,976.6 459.9,976.5 460.2,976.5 460.5,976.3 460.8,976.5 461.1,976.4 461.3,976.0 461.6,976.0 461.9,975.9 462.2,975.7 462.4,975.4 462.7,975.7 463.0,975.8 463.3,975.4 463.5,975.4 463.8,975.0 464.1,975.0 464.4,974.6 464.7,974.1 464.9,974.3 465.2,974.5 465.5,974.3 465.9,974.2 466.3,974.6 466.6,974.9 466.9,974.9 467.1,975.3 467.4,975.6 467.7,976.0 468.0,976.5 468.3,976.9 468.5,977.3 468.8,977.5 469.1,977.9 469.4,978.3 469.6,978.0 469.9,978.4 470.2,978.8 470.5,979.0 470.8,979.2 471.0,979.2 471.3,979.4 471.6,979.8 471.9,979.6 472.1,979.6 472.4,979.9 472.7,980.0 473.0,979.8 473.2,980.0 473.5,979.7 473.8,979.8 474.1,980.2 474.4,979.9 474.6,980.2 474.9,980.1 475.2,979.8 475.5,980.1 475.7,980.0 476.0,980.2 476.3,979.9 476.6,980.2 476.8,979.8 477.1,980.1 477.4,980.3 477.7,980.3 478.0,980.3 478.2,980.1 478.5,980.5 478.8,980.2 479.1,980.2 479.3,980.3 479.6,980.6 479.9,980.3 480.2,980.4 480.4,980.4 480.7,980.7 481.0,980.5 481.3,980.4 481.6,980.6 481.8,980.6 482.1,980.7 482.4,980.7 482.7,980.7 482.9,980.4 483.2,980.8 483.5,980.8 483.8,980.9 484.1,981.0 484.3,980.8 484.6,980.8 484.9,980.9 485.2,981.1 485.4,980.7 485.7,981.0 486.0,981.0 486.3,980.9 486.5,981.1 486.8,981.0 487.1,981.3 487.4,981.2 487.7,981.6 487.9,981.3 488.2,981.5 488.5,981.7 488.8,981.8 489.0,982.1 489.3,982.0 489.6,982.2 489.9,982.2 490.1,982.5 490.4,982.7 490.7,982.7 491.0,982.8 491.3,983.0 491.5,983.1 491.8,983.2 492.1,983.4 492.4,983.5 492.6,983.7 492.9,983.9 493.2,983.8 493.5,984.0 493.7,984.0 494.0,984.2 494.3,983.8 494.6,983.9 494.9,984.1 495.1,984.0 495.4,984.0 495.7,983.8 496.0,984.1 496.2,984.0 496.5,984.2 496.8,984.1 497.1,984.1 497.3,984.2 497.6,984.3 497.9,984.1 498.2,984.3 498.5,984.3 498.7,984.2 499.0,984.0 499.3,984.1 499.6,984.2 499.8,984.4 500.1,984.4 500.4,984.3 500.7,984.2 501.0,984.2 501.2,984.3 501.5,984.4 501.8,984.3 502.1,984.2 502.3,984.3 502.6,984.3 502.9,984.4 503.2,984.4 503.4,984.2 503.7,984.5 504.0,984.3 504.3,984.5 504.6,984.4 504.8,984.4 505.1,984.4 505.4,984.5 505.7,984.5 505.9,984.5 506.2,984.5 506.5,984.5 506.8,984.4 507.0,984.6 507.3,984.5 507.6,984.5 507.9,984.7 508.2,984.6 508.4,984.7 508.7,984.8 509.0,984.6 509.3,984.6 509.5,984.7 509.8,984.6 510.1,984.7 510.4,984.9 510.6,984.7 510.9,984.6 511.2,984.6 511.5,984.8 511.8,984.9 512.0,984.7 512.3,984.8 512.6,984.7 512.9,984.8 513.1,984.7 513.4,984.7 513.7,984.8 514.0,984.8 514.2,984.8 514.5,984.7 514.8,984.8 515.1,984.8 515.4,984.8 515.6,984.8 515.9,984.9 516.2,984.7 516.5,984.9 516.7,985.0 517.0,984.9 517.3,984.8 517.6,984.9 517.9,984.9 518.1,984.8 518.4,984.8 518.7,984.9 519.0,984.9 519.2,984.8 519.5,984.7 519.8,985.0 520.1,984.9 520.3,985.0 520.6,984.9 520.9,984.8 521.2,984.6 521.5,984.8 521.7,984.9 522.0,984.9 522.3,984.8 522.6,984.7 522.8,984.7 523.1,984.8 523.4,984.9 523.7,984.9 523.9,984.8 524.2,984.7 524.5,984.9 524.8,984.9 525.1,984.7 525.3,985.0 525.6,984.7 525.9,984.9 526.2,984.8 526.4,984.9 526.7,984.7 527.0,984.9 527.3,984.8 527.5,984.8 527.8,984.9 528.1,985.0 528.4,984.9 528.7,984.9 528.9,984.8 529.2,985.2 529.5,984.7 529.8,984.6 530.0,984.8 530.3,984.9 530.6,984.9 530.9,984.9 531.2,984.9 531.4,984.6 531.7,985.0 532.0,984.9 532.3,984.8 532.5,984.9 532.8,984.6 533.1,984.8 533.4,984.7 533.6,984.8 533.9,984.7 534.2,984.8 534.5,984.5 534.8,984.7 535.0,984.7 535.3,984.5 535.6,984.7 535.9,984.4 536.1,984.5 536.4,984.5 536.7,984.2 537.0,984.6 537.2,984.1 537.5,984.4 537.8,984.3 538.1,984.1 538.4,984.0 538.6,984.1 538.9,984.0 539.2,984.0 539.5,984.0 539.7,983.9 540.0,983.9 540.4,983.9 540.8,984.0 541.1,984.1 541.4,984.2 541.7,984.0 542.0,984.1 542.2,984.1 542.5,984.1 542.8,984.2 543.1,984.2 543.3,984.3 543.6,984.2 543.9,984.4 544.2,984.5 544.4,984.4 544.7,984.6 545.0,984.4 545.3,984.6 545.6,984.6 545.8,984.5 546.1,984.4 546.4,984.7 546.7,984.7 546.9,984.6 547.2,984.4 547.5,984.9 547.8,984.7 548.1,984.8 548.3,984.8 548.6,984.5 548.9,984.7 549.2,984.7 549.4,984.8 549.7,984.6 550.0,984.6 550.3,984.8 550.5,984.8 550.8,984.7 551.1,984.7 551.4,984.8 551.7,984.8 551.9,984.8 552.2,984.6 552.5,984.9 552.8,984.6 553.0,984.7 553.3,984.7 553.6,984.8 553.9,984.6 554.1,984.7 554.4,984.6 554.7,984.6 555.0,984.7 555.3,984.7 555.5,984.7 555.8,984.6 556.1,984.5 556.4,984.8 556.6,984.7 556.9,984.7 557.2,984.7 557.5,984.8 557.7,984.5 558.0,984.4 558.3,984.7 558.6,984.4 558.9,984.6 559.1,984.5 559.4,984.3 559.7,984.5 560.0,984.3 560.2,984.4 560.5,984.4 560.8,984.4 561.1,984.2 561.3,984.2 561.6,984.0 561.9,983.9 562.2,983.9 562.5,983.6 562.7,983.2 563.0,983.2 563.3,982.8 563.6,982.7 563.8,982.2 564.1,981.7 564.4,981.2 564.7,981.1 565.0,980.6 565.2,980.0 565.5,979.5 565.8,978.8 566.1,978.3 566.3,977.6 566.6,977.2 566.9,976.9 567.2,976.6 567.4,976.5 567.7,976.4 568.0,976.3 568.3,976.2 568.6,976.6 568.8,976.4 569.1,976.6 569.4,976.7 569.7,976.5 569.9,976.7 570.2,976.0 570.5,976.3 570.8,976.4 571.0,976.3 571.3,976.4 571.6,976.6 571.9,976.8 572.2,977.1 572.4,977.5 572.7,977.9 573.0,977.9 573.3,978.4 573.5,978.6 573.8,979.1 574.1,979.3 574.4,979.6 574.6,979.3 574.9,979.6 575.2,979.8 575.5,980.0 575.8,980.1 576.0,980.0 576.3,980.0 576.6,980.3 576.9,980.2 577.1,979.9 577.4,979.9 577.7,979.9 578.0,979.8 578.2,979.7 578.5,979.4 578.8,979.0 579.1,978.6 579.4,978.0 579.6,977.5 579.9,976.7 580.2,976.0 580.5,974.4 580.7,973.0 581.0,970.4 581.3,966.3 581.6,959.6 581.9,947.2 582.1,928.4 582.4,901.4 582.7,867.7 583.0,833.1 583.4,804.8 583.8,832.5 584.1,868.0 584.3,901.3 584.6,929.3 584.9,948.1 585.2,960.0 585.5,967.2 585.7,971.5 586.0,973.9 586.3,975.6 586.6,976.6 586.8,977.6 587.1,978.5 587.4,979.5 587.7,979.8 587.9,980.2 588.2,980.6 588.5,981.1 588.8,981.2 589.1,981.6 589.3,981.8 589.6,981.7 589.9,982.0 590.2,982.2 590.4,982.1 590.7,982.4 591.0,982.7 591.3,982.4 591.5,982.6 591.8,982.7 592.1,982.8 592.4,982.6 592.7,982.8 592.9,983.0 593.2,983.1 593.5,982.9 593.8,983.1 594.0,983.0 594.3,983.0 594.6,982.9 594.9,983.0 595.2,983.3 595.4,983.4 595.7,983.1 596.0,983.0 596.3,983.3 596.5,982.9 596.8,983.0 597.1,982.8 597.4,983.1 597.6,983.1 597.9,982.8 598.2,982.7 598.5,983.0 598.8,982.6 599.0,982.4 599.3,982.2 599.6,982.0 599.9,981.5 600.1,980.9 600.4,980.2 600.7,979.4 601.0,978.3 601.2,978.0 601.5,976.8 601.8,977.0 602.1,977.3 602.4,977.7 602.6,978.7 602.9,979.3 603.2,980.3 603.5,980.5 603.7,981.4 604.0,981.8 604.3,982.2 604.6,982.6 604.8,982.7 605.1,982.8 605.4,982.9 605.7,983.3 606.0,983.0 606.2,983.3 606.5,983.0 606.8,983.1 607.1,983.2 607.3,983.2 607.6,983.3 607.9,983.3 608.2,983.2 608.4,983.2 608.7,983.2 609.0,983.3 609.3,983.1 609.6,983.5 609.8,983.3 610.1,983.2 610.4,983.2 610.7,983.1 610.9,983.3 611.2,983.4 611.5,983.3 611.8,983.3 612.1,983.2 612.3,983.3 612.6,983.4 612.9,983.5 613.2,983.0 613.4,983.3 613.7,983.1 614.0,983.2 614.3,983.2 614.5,983.1 614.8,983.4 615.1,983.2 615.4,983.1 615.7,983.2 615.9,983.2 616.2,983.2 616.5,982.8 616.8,983.0 617.0,983.2 617.3,983.1 617.6,982.9 617.9,982.9 618.1,982.7 618.4,982.8 618.7,982.7 619.0,982.7 619.3,982.7 619.5,982.7 619.8,982.6 620.1,982.7 620.4,982.4 620.6,982.4 620.9,982.5 621.2,982.4 621.5,982.5 621.7,982.3 622.0,982.4 622.3,982.4 622.6,982.2 622.9,982.4 623.1,982.3 623.4,982.1 623.7,982.0 624.0,982.1 624.2,982.1 624.5,981.9 624.8,981.9 625.1,981.8 625.4,981.9 625.6,981.9 625.9,981.7 626.2,981.5 626.5,981.5 626.7,981.5 627.0,981.4 627.3,981.2 627.7,981.3 628.1,981.3 628.4,981.2 628.7,981.3 629.0,981.3 629.2,981.2 629.5,981.2 629.8,981.0 630.1,981.3 630.3,981.2 630.6,981.2 630.9,981.4 631.2,981.3 631.4,981.1 631.7,981.3 632.0,981.0 632.3,981.0 632.6,981.1 632.8,981.1 633.1,981.1 633.4,980.9 633.7,981.0 633.9,981.1 634.2,981.2 634.5,981.2 634.8,981.3 635.0,981.0 635.3,981.1 635.6,980.8 635.9,981.0 636.2,980.9 636.4,980.9 636.7,980.9 637.0,980.8 637.3,980.9 637.5,980.9 637.8,980.8 638.1,980.6 638.4,980.9 638.6,980.9 638.9,981.0 639.2,980.4 639.5,980.6 639.8,980.6 640.0,980.3 640.3,980.3 640.6,980.4 640.9,980.4 641.1,980.6 641.4,980.4 641.7,980.3 642.0,980.3 642.3,980.2 642.5,979.4 642.8,979.1 643.1,979.3 643.4,979.0 643.6,978.9 643.9,978.6 644.2,978.3 644.5,977.9 644.7,977.4 645.0,977.0 645.3,976.1 645.6,975.1 645.9,973.5 646.1,972.9 646.4,971.5 646.7,969.8 647.0,968.8 647.2,967.1 647.5,966.8 647.8,966.2 648.1,966.7 648.3,966.9 648.6,968.3 648.9,969.5 649.2,970.9 649.5,971.8 649.7,973.3 650.0,974.4 650.3,975.0 650.6,975.9 650.8,976.0 651.1,976.6 651.4,976.5 651.7,977.1 651.9,977.0 652.2,977.2 652.5,977.3 652.8,977.2 653.1,976.9 653.3,977.0 653.6,976.6 653.9,976.6 654.2,976.3 654.4,976.2 654.7,976.1 655.0,976.0 655.3,975.7 655.5,975.7 655.8,975.2 656.1,975.0 656.4,974.8 656.7,974.2 656.9,974.0 657.2,973.9 657.5,973.0 657.8,972.4 658.0,971.6 658.3,971.0 658.6,969.9 658.9,969.2 659.2,968.0 659.4,966.5 659.7,964.9 660.0,962.4 660.3,959.9 660.5,957.1 660.8,953.2 661.1,948.2 661.4,942.2 661.6,932.4 661.9,918.0 662.2,894.1 662.5,852.5 662.8,785.4 663.0,683.6 663.3,544.3 663.6,386.3 663.9,245.7 664.1,184.3 664.4,244.6 664.7,386.1 665.0,545.0 665.2,683.6 665.5,785.0 665.8,853.0 666.1,894.3 666.4,918.6 666.6,932.8 666.9,942.6 667.2,949.0 667.5,954.0 667.7,957.4 668.0,960.4 668.3,962.7 668.6,965.2 668.8,967.0 669.1,968.2 669.4,969.7 669.7,970.5 670.0,971.5 670.2,972.1 670.5,972.8 670.8,973.3 671.1,973.6 671.3,973.9 671.6,974.2 671.9,974.6 672.2,974.3 672.5,974.1 672.7,973.5 673.0,973.0 673.3,971.7 673.6,969.3 673.8,967.2 674.1,963.9 674.4,959.7 674.7,955.2 674.9,949.9 675.2,945.5 675.5,941.9 675.8,941.1 676.1,942.6 676.3,946.0 676.6,950.6 676.9,956.4 677.2,960.9 677.4,966.0 677.7,969.4 678.0,972.5 678.3,974.5 678.5,976.4 678.8,977.5 679.1,978.4 679.4,978.8 679.7,979.3 679.9,979.7 680.2,980.2 680.5,980.4 680.8,980.6 681.0,980.6 681.3,980.9 681.6,981.1 681.9,981.1 682.1,981.1 682.4,981.3 682.7,981.4 683.0,981.7 683.3,981.6 683.5,981.9 683.8,981.8 684.1,981.9 684.4,982.3 684.6,982.3 684.9,982.1 685.2,982.2 685.5,982.2 685.7,983.1 686.0,983.1 686.3,983.2 686.6,983.0 686.9,983.2 687.1,983.2 687.4,983.6 687.7,983.5 688.0,983.3 688.2,983.2 688.5,983.5 688.8,983.3 689.1,983.2 689.4,983.7 689.6,983.5 689.9,983.7 690.2,983.6 690.5,983.7 690.7,983.6 691.0,983.9 691.3,983.6 691.6,983.8 691.8,983.7 692.1,983.9 692.4,983.7 692.7,983.8 693.0,983.8 693.2,983.8 693.5,984.0 693.8,984.2 694.1,984.2 694.3,984.3 694.6,984.1 694.9,984.1 695.2,984.4 695.4,984.3 695.7,984.1 696.0,984.3 696.3,984.4 696.6,984.2 696.8,984.2 697.1,984.2 697.4,984.2 697.7,984.1 697.9,984.1 698.2,984.2 698.5,984.3 698.8,984.3 699.0,984.5 699.3,984.4 699.6,984.3 699.9,984.2 700.2,984.4 700.4,984.2 700.7,984.2 701.0,984.1 701.3,984.3 701.5,984.3 701.8,984.3 702.1,984.3 702.4,984.3 702.6,984.3 702.9,984.2 703.2,984.2 703.5,984.3 703.8,984.3 704.0,984.3 704.3,984.4 704.6,984.4 704.9,984.3 705.1,984.3 705.4,984.3 705.7,984.2 706.0,984.3 706.3,984.2 706.5,984.3 706.8,984.2 707.1,984.2 707.4,984.4 707.6,984.3 707.9,984.4 708.2,984.5 708.5,984.2 708.7,984.3 709.0,984.2 709.3,984.5 709.6,984.4 709.9,984.2 710.1,984.3 710.4,984.2 710.7,984.2 711.0,984.4 711.2,984.5 711.5,984.2 711.8,984.4 712.1,984.3 712.3,984.4 712.6,984.3 712.9,984.3 713.2,984.4 713.5,984.3 713.7,984.4 714.0,984.1 714.3,984.3 714.6,984.4 714.8,984.3 715.1,984.4 715.4,984.4 715.7,984.4 715.9,984.3 716.2,984.2 716.5,984.1 716.8,984.2 717.1,984.2 717.3,984.4 717.6,984.2 717.9,984.3 718.2,983.9 718.4,984.0 718.7,984.1 719.0,983.6 719.3,983.8 719.6,983.4 719.8,983.0 720.1,982.5 720.4,982.1 720.7,981.2 720.9,980.7 721.2,979.9 721.5,979.2 721.8,978.6 722.0,978.3 722.3,978.8 722.6,979.1 722.9,979.9 723.2,980.6 723.4,981.4 723.7,982.1 724.0,982.7 724.3,983.0 724.5,983.5 724.8,983.7 725.1,983.7 725.4,984.0 725.6,984.1 725.9,984.3 726.2,984.1 726.5,984.3 726.8,984.0 727.0,984.3 727.3,984.4 727.6,984.4 727.9,984.1 728.1,984.3 728.4,984.4 728.7,984.4 729.0,984.3 729.2,984.5 729.5,984.4 729.8,984.5 730.1,984.6 730.4,984.3 730.6,984.4 730.9,984.5 731.2,984.5 731.5,984.5 731.7,984.2 732.0,984.4 732.3,984.5 732.6,984.5 732.8,984.5 733.1,984.4 733.4,984.4 733.7,984.7 734.0,984.5 734.2,984.4 734.5,984.4 734.8,984.5 735.1,984.5 735.3,984.4 735.6,984.3 735.9,984.4 736.2,984.4 736.5,984.2 736.7,984.1 737.0,984.1 737.3,984.0 737.6,983.9 737.8,984.0 738.1,983.7 738.4,983.8 738.7,983.5 738.9,983.4 739.2,983.2 739.5,983.0 739.8,982.8 740.1,982.8 740.3,982.5 740.6,982.5 740.9,982.2 741.2,982.1 741.4,982.0 741.7,982.1 742.0,981.9 742.3,982.3 742.5,982.3 742.8,982.5 743.1,982.5 743.4,982.8 743.7,982.8 743.9,983.0 744.2,983.4 744.5,983.3 744.8,983.5 745.0,983.8 745.3,983.8 745.6,984.0 745.9,983.9 746.1,984.1 746.4,984.1 746.7,984.2 747.0,984.3 747.3,984.5 747.5,984.5 747.8,984.4 748.1,984.5 748.4,984.6 748.6,984.6 748.9,984.7 749.2,984.6 749.5,984.6 749.7,984.6 750.0,984.6 750.3,984.6 750.6,984.6 750.9,984.8 751.1,984.6 751.4,984.8 751.7,984.6 752.0,984.7 752.2,984.5 752.5,984.7 752.8,984.6 753.1,984.6 753.4,984.5 753.6,984.6 753.9,984.6 754.2,984.7 754.5,984.8 754.7,984.4 755.0,984.7 755.3,985.0 755.6,984.6 755.8,984.5 756.1,984.5 756.4,984.6 756.7,984.7 757.0,984.6 757.2,984.6 757.5,984.6 757.8,984.6 758.1,984.7 758.3,984.7 758.6,984.6 758.9,984.7 759.2,984.6 759.4,984.5 759.7,984.7 760.0,984.5 760.3,984.7 760.6,984.4 760.8,984.5 761.1,984.5 761.4,984.3 761.7,984.6 761.9,984.6 762.2,984.4 762.5,984.5 762.8,984.6 763.0,984.5 763.3,984.4 763.6,984.4 763.9,984.4 764.2,984.4 764.4,984.4 764.7,984.2 765.0,984.5 765.3,984.1 765.5,984.4 765.8,984.3 766.1,983.9 766.4,984.1 766.7,984.1 766.9,984.0 767.2,984.1 767.5,984.1 767.8,983.8 768.0,983.7 768.3,983.9 768.6,983.6 768.9,983.5 769.1,983.4 769.4,983.4 769.7,983.2 770.0,983.1 770.3,983.1 770.5,983.0 770.8,982.6 771.1,982.6 771.4,982.7 771.6,982.2 771.9,982.3 772.2,982.2 772.5,982.0 772.9,981.9 773.3,981.9 773.6,981.7 773.9,981.5 774.1,981.6 774.4,981.7 774.7,981.4 775.0,981.2 775.2,981.2 775.5,981.0 775.8,980.9 776.1,980.4 776.3,979.9 776.6,979.7 776.9,979.4 777.2,979.0 777.5,978.7 777.7,978.4 778.0,977.7 778.3,977.6 778.6,977.3 778.8,977.3 779.1,977.2 779.4,977.3 779.7,977.4 779.9,977.8 780.2,978.1 780.5,978.7 780.8,978.9 781.1,979.7 781.3,979.9 781.6,980.6 781.9,980.6 782.2,981.3 782.4,981.8 782.7,982.1 783.0,982.2 783.3,982.4 783.6,982.6 783.8,983.0 784.1,983.1 784.4,983.2 784.7,983.3 784.9,983.3 785.2,983.4 785.5,983.4 785.8,983.5 786.0,983.8 786.3,983.6 786.6,983.7 786.9,983.8 787.2,983.8 787.4,983.9 787.7,983.8 788.0,983.8 788.3,983.9 788.5,983.8 788.8,984.0 789.1,983.8 789.4,984.1 789.6,983.9 789.9,983.9 790.2,983.8 790.5,984.0 790.8,983.8 791.0,983.9 791.3,983.8 791.6,983.7 791.9,983.9 792.1,983.7 792.4,983.9 792.7,983.7 793.0,984.0 793.2,983.8 793.5,983.8 793.8,983.5 794.1,983.5 794.4,983.5 794.6,983.3 794.9,983.2 795.2,983.3 795.5,983.1 795.7,983.1 796.0,982.8 796.3,982.8 796.6,982.4 796.8,982.1 797.1,982.1 797.4,981.5 797.7,981.3 798.0,980.8 798.2,979.8 798.5,978.7 798.8,977.0 799.1,973.8 799.3,969.2 799.6,962.4 799.9,953.7 800.2,942.3 800.5,931.2 800.7,921.3 801.0,918.0 801.3,921.9 801.6,931.2 801.8,942.9 802.1,953.8 802.4,962.3 802.7,969.0 802.9,973.7 803.2,976.8 803.5,978.6 803.8,979.9 804.1,980.8 804.3,980.7 804.6,981.5 804.9,981.9 805.2,981.9 805.4,982.3 805.7,982.4 806.0,982.5 806.3,982.7 806.5,982.8 806.8,983.0 807.1,983.1 807.4,983.1 807.7,983.1 807.9,982.9 808.2,983.1 808.5,983.5 808.8,983.4 809.0,983.3 809.3,983.4 809.6,983.4 809.9,983.4 810.1,983.3 810.4,983.5 810.7,983.6 811.0,983.5 811.3,983.2 811.5,983.4 811.8,983.5 812.1,983.3 812.4,983.4 812.6,983.3 812.9,983.0 813.2,983.4 813.5,983.3 813.8,983.3 814.0,983.3 814.3,983.4 814.6,983.3 814.9,983.4 815.1,983.2 815.4,983.3 815.7,983.4 816.0,983.2 816.2,983.1 816.5,983.4 816.9,983.1 817.4,983.1 817.6,983.1 817.9,983.1 818.2,983.1 818.5,983.0 818.7,983.3 819.0,983.0 819.3,983.1 819.6,983.4 819.8,983.3 820.1,983.2 820.4,983.3 820.7,983.2 821.0,983.2 821.2,983.4 821.5,983.1 821.8,983.4 822.1,983.3 822.3,983.3 822.6,983.4 822.9,983.4 823.2,983.3 823.4,983.4 823.7,983.5 824.0,983.3 824.3,983.5 824.6,983.5 824.8,983.2 825.1,983.4 825.4,983.3 825.7,983.4 825.9,983.4 826.2,983.5 826.5,983.3 826.8,983.3 827.0,983.2 827.3,983.3 827.6,983.2 827.9,983.1 828.2,983.1 828.4,983.0 828.7,983.3 829.0,983.2 829.3,983.2 829.5,983.4 829.8,983.2 830.1,983.5 830.4,983.2 830.7,983.2 830.9,983.3 831.2,983.3 831.5,983.3 831.8,983.3 832.0,983.3 832.3,983.3 832.6,983.4 832.9,983.3 833.1,983.3 833.4,983.3 833.7,983.4 834.0,983.2 834.3,983.1 834.5,983.2 834.8,983.3 835.1,983.1 835.4,983.0 835.6,983.1 835.9,983.0 836.2,982.6 836.5,982.8 836.7,982.7 837.0,982.6 837.3,982.1 837.6,982.0 837.9,981.7 838.1,981.3 838.4,980.8 838.7,979.8 839.0,978.1 839.2,976.5 839.5,973.4 839.8,969.1 840.1,963.4 840.3,955.7 840.6,948.4 840.9,940.4 841.3,935.9 841.7,941.2 842.0,948.5 842.3,956.4 842.6,963.1 842.8,969.1 843.1,973.7 843.4,976.3 843.7,978.3 843.9,979.7 844.2,980.6 844.5,981.2 844.8,981.6 845.1,981.8 845.3,981.7 845.6,982.1 845.9,982.2 846.2,982.5 846.4,982.3 846.7,982.5 847.0,982.6 847.3,982.5 847.6,982.2 847.8,982.5 848.1,982.3 848.4,982.0 848.7,981.9 848.9,981.7 849.2,981.0 849.5,980.4 849.8,979.4 850.0,978.1 850.3,976.1 850.6,973.9 850.9,970.9 851.2,966.8 851.4,962.1 851.7,958.1 852.0,953.5 852.3,950.3 852.5,949.2 852.8,950.4 853.1,953.4 853.4,958.0 853.6,962.3 853.9,966.7 854.2,970.6 854.5,973.9 854.8,976.6 855.0,978.3 855.3,979.8 855.6,980.7 855.9,981.8 856.1,982.2 856.4,982.5 856.7,982.8 857.0,983.1 857.2,983.2 857.5,983.2 857.8,983.4 858.1,983.5 858.4,983.6 858.6,983.7 858.9,983.8 859.2,983.9 859.5,984.0 859.7,984.0 860.0,983.8 860.3,984.0 860.6,984.2 860.9,984.2 861.1,984.2 861.4,984.3 861.7,984.3 862.0,984.2 862.2,984.4 862.5,984.5 862.8,984.5 863.1,984.5 863.3,984.5 863.6,984.4 863.9,984.3 864.2,984.5 864.5,984.6 864.7,984.4 865.0,984.5 865.3,984.3 865.6,984.4 865.8,984.5 866.1,984.5 866.4,984.5 866.7,984.3 866.9,984.4 867.2,984.5 867.5,984.5 867.8,984.4 868.1,984.6 868.3,984.4 868.6,984.5 868.9,984.6 869.2,984.6 869.4,984.4 869.7,984.6 870.0,984.5 870.3,984.5 870.5,984.4 870.8,984.5 871.1,984.6 871.4,984.4 871.7,984.5 871.9,984.4 872.2,984.4 872.5,984.4 872.8,984.5 873.0,984.4 873.3,984.2 873.6,984.3 873.9,984.2 874.1,984.4 874.4,984.1 874.7,984.4 875.0,984.1 875.3,984.3 875.5,984.2 875.8,984.2 876.1,984.0 876.4,984.3 876.6,984.0 876.9,983.8 877.2,983.8 877.5,983.7 877.8,983.6 878.0,983.4 878.3,983.1 878.6,982.9 878.9,982.6 879.1,982.2 879.4,982.2 879.7,981.1 880.0,980.3 880.2,978.4 880.5,976.4 880.8,973.8 881.1,970.0 881.4,965.8 881.6,961.2 881.9,956.3 882.2,952.1 882.6,949.2 883.0,951.9 883.3,956.1 883.6,961.0 883.8,965.7 884.1,970.0 884.4,973.5 884.7,976.8 885.0,978.6 885.2,980.1 885.5,981.0 885.8,982.2 886.1,982.2 886.3,982.8 886.6,983.0 886.9,983.3 887.2,983.6 887.4,983.4 887.7,983.5 888.0,983.8 888.3,983.7 888.6,983.9 888.8,984.0 889.1,984.1 889.4,984.1 889.7,984.2 889.9,984.2 890.2,984.5 890.5,984.4 890.8,984.2 891.0,984.4 891.3,984.2 891.6,984.4 891.9,984.4 892.2,984.7 892.4,984.4 892.7,984.6 893.0,984.5 893.3,984.5 893.5,984.6 893.8,984.6 894.1,984.5 894.4,984.5 894.7,984.5 894.9,984.6 895.2,984.7 895.5,984.5 895.8,984.7 896.0,984.6 896.3,984.6 896.6,984.8 896.9,984.8 897.1,984.8 897.4,984.6 897.7,984.6 898.0,984.7 898.3,984.6 898.5,984.7 898.8,984.5 899.1,984.8 899.4,984.5 899.6,984.7 899.9,984.6 900.2,984.6 900.5,984.7 900.7,984.6 901.0,984.8 901.3,984.6 901.6,984.7 901.9,984.6 902.1,984.6 902.4,984.8 902.7,984.6 903.0,984.6 903.2,984.8 903.5,984.7 903.8,984.7 904.1,984.8 904.3,984.8 904.6,984.8 904.9,984.7 905.2,984.6 905.5,984.7 905.7,984.8 906.0,984.6 906.3,984.5 906.6,984.7 906.8,984.8 907.1,984.6 907.4,984.8 907.7,984.7 908.0,984.6 908.2,984.7 908.5,984.7 908.8,984.7 909.1,984.8 909.3,984.8 909.6,984.7 909.9,984.8 910.2,984.8 910.4,984.6 910.7,984.6 911.0,984.9 911.3,984.7 911.6,984.6 911.8,984.6 912.1,984.6 912.4,984.8 912.7,984.7 912.9,984.7 913.2,984.6 913.5,984.9 913.8,984.5 914.0,984.5 914.3,984.7 914.6,984.6 914.9,984.9 915.2,984.6 915.4,984.7 915.7,984.8 916.0,984.5 916.3,984.6 916.5,984.6 916.8,984.6 917.1,984.5 917.4,984.5 917.6,984.5 917.9,984.5 918.2,984.3 918.5,984.5 918.8,984.3 919.0,984.4 919.3,984.4 919.6,984.4 919.9,984.2 920.1,984.2 920.4,983.9 920.7,983.9 921.0,984.1 921.2,983.9 921.5,984.0 921.8,984.1 922.1,983.7 922.4,983.6 922.6,983.6 922.9,983.2 923.2,983.3 923.5,983.0 923.9,982.9 924.3,982.6 924.6,982.3 924.9,982.0 925.1,981.8 925.4,981.4 925.7,980.6 926.0,979.5 926.2,978.8 926.5,977.6 926.8,975.9 927.1,974.2 927.3,972.2 927.6,970.4 927.9,968.2 928.2,966.4 928.5,965.4 928.7,964.9 929.0,965.1 929.3,966.6 929.6,968.3 929.8,970.4 930.1,972.1 930.4,974.2 930.7,976.2 930.9,978.0 931.2,979.3 931.5,980.6 931.8,981.2 932.1,982.0 932.3,982.3 932.6,982.9 932.9,983.3 933.2,983.4 933.4,983.5 933.7,983.8 934.0,983.7 934.3,984.1 934.5,983.9 934.8,984.0 935.1,984.1 935.4,984.2 935.7,984.2 935.9,984.3 936.2,984.3 936.5,984.3 936.8,984.3 937.0,984.5 937.3,984.6 937.6,984.3 937.9,984.5 938.1,984.6 938.4,984.7 938.7,984.5 939.0,984.7 939.3,984.4 939.5,984.6 939.8,984.5 940.1,984.8 940.4,984.7 940.6,984.5 940.9,984.6 941.2,984.6 941.5,984.6 941.8,984.5 942.0,984.7 942.3,984.6 942.6,984.7 942.9,984.8 943.1,984.9 943.4,984.5 943.7,984.6 944.0,984.7 944.2,984.6 944.5,984.9 944.8,984.7 945.1,984.5 945.4,984.7 945.6,984.7 945.9,984.9 946.2,984.7 946.5,984.7 946.7,984.8 947.0,984.7 947.3,984.7 947.6,984.9 947.8,984.6 948.1,984.6 948.4,984.7 948.7,984.7 949.0,984.6 949.2,984.5 949.5,984.8 949.8,984.8 950.1,984.8 950.3,984.8 950.6,984.7 950.9,984.8 951.2,984.6 951.4,984.6 951.7,984.6 952.0,984.8 952.3,984.8 952.6,984.6 952.8,984.9 953.1,984.8 953.4,984.7 953.7,984.5 953.9,984.8 954.2,984.8 954.5,984.6 954.8,984.6 955.1,984.5 955.3,984.5 955.6,984.6 955.9,984.6 956.2,984.6 956.4,984.5 956.7,984.5 957.0,984.3 957.3,984.5 957.5,984.2 957.8,984.4 958.1,984.2 958.4,984.4 958.7,984.2 958.9,984.3 959.2,984.3 959.5,984.2 959.8,984.4 960.0,984.5 960.3,984.3 960.6,984.5 960.9,984.4 961.1,984.5 961.4,984.4 961.7,984.5 962.0,984.5 962.3,984.5 962.5,984.6 962.8,984.6 963.1,984.5 963.4,984.6 963.6,984.5 963.9,984.7 964.2,984.7 964.5,984.7 964.7,984.8 965.0,984.8 965.3,984.7 965.6,984.7 965.9,984.8 966.1,984.7 966.4,984.6 966.7,984.6 967.0,984.7 967.2,984.5 967.5,984.5 967.8,984.6 968.1,984.6 968.3,984.8 968.6,984.7 968.9,984.4 969.2,984.7 969.5,985.0 969.7,984.5 970.0,984.8 970.3,984.6 970.6,984.5 970.8,984.6 971.1,984.6 971.4,984.8 971.7,984.7 972.0,984.8 972.2,984.5 972.5,984.8 972.8,984.6 973.1,984.6 973.3,984.5 973.6,984.7 973.9,984.5 974.2,984.5 974.4,984.5 974.7,984.5 975.0,984.7 975.3,984.7 975.6,984.3 975.8,984.6 976.1,984.6 976.4,984.5 976.7,984.3 976.9,984.5 977.2,984.5 977.5,984.7 977.8,984.4 978.0,984.3 978.3,984.5 978.6,984.5 978.9,984.4 979.2,984.2 979.4,984.3 979.7,984.1 980.0,984.4 980.3,984.2 980.5,984.3 980.8,984.3 981.1,983.8 981.4,983.9 981.6,984.1 981.9,983.6 982.2,984.1 982.5,983.8 982.8,983.6 983.0,983.8 983.3,983.4 983.6,983.5 983.9,983.2 984.1,982.8 984.4,982.8 984.7,982.6 985.0,982.3 985.2,981.9 985.5,981.6 985.8,981.0 986.1,980.0 986.4,979.2 986.6,977.5 986.9,974.8 987.2,970.9 987.5,964.7 987.7,956.6 988.0,946.2 988.3,933.8 988.6,921.4 988.9,911.8 989.1,907.8 989.4,912.5 989.7,921.6 990.0,934.4 990.2,946.0 990.5,956.6 990.8,964.7 991.1,970.9 991.3,974.7 991.6,977.1 991.9,979.1 992.2,979.9 992.5,981.1 992.7,981.3 993.0,981.8 993.3,982.1 993.6,982.3 993.8,982.7 994.1,983.0 994.4,983.1 994.7,983.2 994.9,983.6 995.2,983.6 995.5,983.5 995.8,983.8 996.1,983.9 996.3,984.0 996.6,984.1 996.9,983.9 997.2,984.1 997.4,984.3 997.7,984.2 998.0,984.4 998.3,984.2 998.5,984.2 998.8,984.1 999.1,984.4 999.4,984.3 999.7,984.4 999.9,984.5 1000.2,984.3 1000.5,984.4 1000.8,984.5 1001.0,984.6 1001.3,984.6 1001.6,984.5 1001.9,984.7 1002.2,984.5 1002.4,984.8 1002.7,984.6 1003.0,984.5 1003.3,984.7 1003.5,984.6 1003.8,984.6 1004.1,984.7 1004.4,984.6 1004.6,984.4 1004.9,984.6 1005.2,984.7 1005.5,984.9 1005.8,984.5 1006.0,984.6 1006.3,984.7 1006.6,984.8 1006.9,984.8 1007.1,984.6 1007.4,984.6 1007.7,984.6 1008.0,984.7 1008.2,984.9 1008.5,984.8 1008.8,984.9 1009.1,984.7 1009.4,984.7 1009.6,984.7 1009.9,984.8 1010.2,984.6 1010.5,984.6 1010.7,984.6 1011.0,984.9 1011.3,984.8 1011.6,984.7 1011.8,984.8 1012.1,984.7 1012.4,984.7 1012.7,984.7 1013.0,984.9 1013.2,984.7 1013.5,984.9 1013.8,984.7 1014.1,984.7 1014.3,984.7 1014.6,984.6 1014.9,984.7 1015.2,984.6 1015.4,984.7 1015.7,985.0 1016.0,984.7 1016.3,984.9 1016.6,984.8 1016.8,984.6 1017.1,984.8 1017.4,984.8 1017.7,984.9 1017.9,984.8 1018.2,984.8 1018.5,984.9 1018.8,984.6 1019.1,984.8 1019.3,984.9 1019.6,984.7 1019.9,984.9 1020.2,984.8 1020.4,984.8 1020.7,984.8 1021.0,984.8 1021.3,984.8 1021.5,984.7 1021.8,984.7 1022.1,984.9 1022.4,984.7 1022.7,984.7 1022.9,984.7 1023.2,984.8 1023.5,984.9 1023.8,984.7 1024.0,985.1 1024.3,984.7 1024.6,984.8 1024.9,984.8 1025.1,984.8 1025.4,984.7 1025.7,984.8 1026.0,984.6 1026.3,985.0 1026.5,984.8 1026.8,984.9 1027.1,984.9 1027.4,984.9 1027.6,984.8 1027.9,984.8 1028.2,984.6 1028.5,984.6 1028.7,984.7 1029.0,984.9 1029.3,984.9 1029.6,984.8 1029.9,984.7 1030.1,984.8 1030.4,984.7 1030.7,984.8 1031.0,984.8 1031.2,984.8 1031.5,984.7 1031.8,984.6 1032.1,984.8 1032.3,984.8 1032.6,984.9 1032.9,984.7 1033.2,984.7 1033.5,985.0 1033.7,984.8 1034.0,984.6 1034.3,984.8 1034.6,984.6 1034.8,984.8 1035.1,984.8 1035.4,984.7 1035.7,984.6 1036.0,984.7 1036.2,984.9 1036.5,984.7 1036.8,984.8 1037.1,984.6 1037.3,984.8 1037.6,984.7 1037.9,984.9 1038.2,984.6 1038.4,984.7 1038.7,984.8 1039.0,984.7 1039.3,984.8 1039.6,984.8 1039.8,984.6 1040.1,984.9 1040.4,984.7 1040.7,984.6 1040.9,984.6 1041.2,984.7 1041.5,984.6 1041.8,984.6 1042.0,984.5 1042.3,984.7 1042.6,984.4 1042.9,984.9 1043.2,984.6 1043.4,984.5 1043.7,984.7 1044.0,984.5 1044.3,984.5 1044.5,984.5 1044.8,984.5 1045.1,984.4 1045.4,984.6 1045.6,984.6 1045.9,984.4 1046.2,984.5 1046.5,984.5 1046.8,984.3 1047.0,984.3 1047.3,984.4 1047.6,984.2 1047.9,984.2 1048.1,984.3 1048.4,984.0 1048.7,984.2 1049.0,983.9 1049.2,984.1 1049.5,983.8 1049.8,983.8 1050.1,983.6 1050.4,983.5 1050.6,983.3 1050.9,983.1 1051.2,982.8 1051.5,982.4 1051.7,981.8 1052.0,980.8 1052.3,979.8 1052.6,978.0 1052.9,976.0 1053.1,973.7 1053.4,970.9 1053.7,968.2 1054.0,965.7 1054.2,963.8 1054.5,963.0 1054.8,963.3 1055.1,965.4 1055.3,968.2 1055.6,971.0 1055.9,973.3 1056.2,975.8 1056.5,977.3 1056.7,978.9 1057.0,979.7 1057.3,980.5 1057.6,980.7 1057.8,980.8 1058.1,981.0 1058.4,980.7 1058.7,980.5 1058.9,980.3 1059.2,979.6 1059.5,979.3 1059.8,978.9 1060.1,978.1 1060.3,977.8 1060.6,977.2 1060.9,976.9 1061.2,976.5 1061.4,976.2 1061.7,976.2 1062.0,975.9 1062.3,976.2 1062.5,976.1 1062.8,976.6 1063.1,976.8 1063.4,977.5 1063.7,978.1 1063.9,978.6 1064.2,979.3 1064.5,979.5 1064.8,980.4 1065.0,980.9 1065.3,981.2 1065.6,981.6 1065.9,981.9 1066.2,982.3 1066.4,982.8 1066.7,983.1 1067.0,983.3 1067.3,983.6 1067.5,983.5 1067.8,983.8 1068.1,983.7 1068.4,984.0 1068.6,984.0 1068.9,984.2 1069.2,984.3 1069.5,984.1 1069.8,984.4 1070.0,984.0 1070.3,984.4 1070.6,984.2 1070.9,984.3 1071.1,984.3 1071.4,984.3 1071.7,984.5 1072.0,984.5 1072.2,984.6 1072.5,984.5 1072.8,984.4 1073.1,984.5 1073.4,984.5 1073.6,984.4 1073.9,984.5 1074.2,984.6 1074.5,984.5 1074.7,984.6 1075.0,984.5 1075.3,984.7 1075.6,984.5 1075.8,984.7 1076.1,984.7 1076.4,984.6 1076.7,984.4 1077.0,984.7 1077.2,984.6 1077.5,984.4 1077.8,984.5 1078.1,984.7 1078.3,984.5 1078.6,984.7 1078.9,984.5 1079.2,984.5 1079.4,984.8 1079.7,984.5 1080.0,984.6 1080.3,984.5 1080.6,984.7 1080.8,984.6 1081.1,984.7 1081.4,984.5 1081.7,984.4 1081.9,984.5 1082.2,984.4 1082.5,984.4 1082.8,984.4 1083.1,984.3 1083.3,984.1 1083.6,984.1 1083.9,984.0 1084.2,984.3 1084.4,984.1 1084.7,983.8 1085.0,983.8 1085.3,983.8 1085.5,983.5 1085.8,983.5 1086.1,983.2 1086.4,983.2 1086.7,983.2 1086.9,983.0 1087.3,983.1 1087.8,983.2 1088.0,983.4 1088.3,983.4 1088.6,983.5 1088.9,983.5 1089.1,983.4 1089.4,983.7 1089.7,983.7 1090.0,983.9 1090.3,984.1 1090.5,984.1 1090.8,984.2 1091.1,984.3 1091.4,984.4 1091.6,984.4 1091.9,984.5 1092.2,984.8 1092.5,984.7 1092.7,984.5 1093.0,984.7 1093.3,984.6 1093.6,984.7 1093.9,984.6 1094.1,984.7 1094.4,984.7 1094.7,984.8 1095.0,984.9 1095.2,984.8 1095.5,984.7 1095.8,984.6 1096.1,984.7 1096.3,984.8 1096.6,984.4 1096.9,984.6 1097.2,984.8 1097.5,984.9 1097.7,984.7 1098.0,984.8 1098.3,984.8 1098.6,984.7 1098.8,984.5 1099.1,984.7 1099.4,984.5 1099.7,984.6 1100.0,984.8 1100.2,984.6 1100.5,984.6 1100.8,984.7 1101.1,984.8 1101.3,984.8 1101.6,984.7 1101.9,984.7 1102.2,984.7 1102.4,984.6 1102.7,984.6 1103.0,984.7 1103.3,984.6 1103.6,984.8 1103.8,984.7 1104.1,984.6 1104.4,984.9 1104.7,984.9 1104.9,984.5 1105.2,984.8 1105.5,984.6 1105.8,984.8 1106.0,984.8 1106.3,984.7 1106.6,984.7 1106.9,984.8 1107.2,984.8 1107.4,984.6 1107.7,984.6 1108.0,984.6 1108.3,984.6 1108.5,984.7 1108.8,984.6 1109.1,984.6 1109.4,984.8 1109.6,984.4 1109.9,984.6 1110.2,984.7 1110.5,984.6 1110.8,984.5 1111.0,984.7 1111.3,984.7 1111.6,984.8 1111.9,984.6 1112.1,984.7 1112.4,984.5 1112.7,984.8 1113.0,984.6 1113.3,984.5 1113.5,984.5 1113.8,984.4 1114.1,984.5 1114.4,984.6 1114.6,984.4 1114.9,984.4 1115.2,984.5 1115.5,984.3 1115.7,984.5 1116.0,984.3 1116.3,984.3 1116.6,984.3 1116.9,984.1 1117.1,984.2 1117.4,984.3 1117.7,984.2 1118.0,983.9 1118.2,984.0 1118.5,984.1 1118.8,983.8 1119.1,983.7 1119.3,983.5 1119.6,983.5 1119.9,983.3 1120.2,983.0 1120.5,982.9 1120.7,982.6 1121.0,982.1 1121.3,981.9 1121.6,981.4 1121.8,980.9 1122.1,979.6 1122.4,977.8 1122.7,975.0 1122.9,971.1 1123.2,965.5 1123.5,958.6 1123.8,949.2 1124.1,939.1 1124.3,929.9 1124.7,923.0 1125.2,930.0 1125.4,939.0 1125.7,949.2 1126.0,958.5 1126.3,966.0 1126.5,971.3 1126.8,975.1 1127.1,977.8 1127.4,979.5 1127.7,980.6 1127.9,981.4 1128.2,981.8 1128.5,982.4 1128.8,982.5 1129.0,983.0 1129.3,983.0 1129.6,983.2 1129.9,983.3 1130.2,983.5 1130.4,983.7 1130.7,983.7 1131.0,983.9 1131.3,984.0 1131.5,984.0 1131.8,984.0 1132.1,984.0 1132.4,984.1 1132.6,984.3 1132.9,984.2 1133.2,984.4 1133.5,984.2 1133.8,984.4 1134.0,984.5 1134.3,984.5 1134.6,984.4 1134.9,984.4 1135.1,984.5 1135.4,984.5 1135.7,984.5 1136.0,984.6 1136.2,984.6 1136.5,984.5 1136.8,984.5 1137.1,984.6 1137.4,984.6 1137.6,984.4 1137.9,984.4 1138.2,984.6 1138.5,984.7 1138.7,984.4 1139.0,984.5 1139.3,984.5 1139.6,984.7 1139.8,984.5 1140.1,984.4 1140.4,984.6 1140.7,984.5 1141.0,984.5 1141.2,984.2 1141.5,984.5 1141.8,984.5 1142.1,984.4 1142.3,984.4 1142.6,984.6 1142.9,984.3 1143.2,984.4 1143.5,984.2 1143.7,984.3 1144.0,984.5 1144.3,984.3 1144.6,984.3 1144.8,984.3 1145.1,984.2 1145.4,984.1 1145.7,984.0 1145.9,983.9 1146.2,983.8 1146.5,983.9 1146.8,983.7 1147.1,983.5 1147.3,983.7 1147.6,983.5 1147.9,983.5 1148.2,983.4 1148.4,983.2 1148.7,983.2 1149.0,983.4 1149.3,983.1 1149.5,983.2 1150.0,983.1 1150.4,983.0 1150.7,983.1 1150.9,983.0 1151.2,983.1 1151.5,983.6 1151.8,983.3 1152.0,983.5 1152.3,983.5 1152.6,983.9 1152.9,983.6 1153.1,983.8 1153.4,984.0 1153.7,983.9 1154.0,984.0 1154.3,984.0 1154.5,984.2 1154.8,984.1 1155.1,984.4 1155.4,984.2 1155.6,984.2 1155.9,984.2 1156.2,984.5 1156.5,984.4 1156.7,984.4 1157.0,984.4 1157.3,984.6 1157.6,984.7 1157.9,984.6 1158.1,984.6 1158.4,984.5 1158.7,984.6 1159.0,984.7 1159.2,984.9 1159.5,984.7 1159.8,984.5 1160.1,984.8 1160.4,984.8 1160.6,984.7 1160.9,984.8 1161.2,984.9 1161.5,984.7 1161.7,984.7 1162.0,984.9 1162.3,984.9 1162.6,984.8 1162.8,984.6 1163.1,984.6 1163.4,984.8 1163.7,984.6 1164.0,984.8 1164.2,984.8 1164.5,984.6 1164.8,984.7 1165.1,984.8 1165.3,984.9 1165.6,984.7 1165.9,984.8 1166.2,984.7 1166.4,984.7 1166.7,984.8 1167.0,984.8 1167.3,984.8 1167.6,984.6 1167.8,984.8 1168.1,984.7 1168.4,984.6 1168.7,984.8 1168.9,984.6 1169.2,984.7 1169.5,984.7 1169.8,984.8 1170.0,984.5 1170.3,984.6 1170.6,984.8 1170.9,984.7 1171.2,984.7 1171.4,984.6 1171.7,984.6 1172.0,984.6 1172.3,984.8 1172.5,984.7 1172.8,984.7 1173.1,984.7 1173.4,984.8 1173.6,984.6 1173.9,984.7 1174.2,984.3 1174.5,984.5 1174.8,984.7 1175.0,984.5 1175.3,984.5 1175.6,984.5 1175.9,984.6 1176.1,984.5 1176.4,984.4 1176.7,984.2 1177.0,984.2 1177.3,984.2 1177.5,983.9 1177.8,984.2 1178.1,983.7 1178.4,983.7 1178.6,983.4 1178.9,983.1 1179.2,982.8 1179.5,981.7 1179.7,980.6 1180.0,979.5 1180.3,978.1 1180.6,975.9 1180.9,974.3 1181.1,972.8 1181.4,971.6 1181.7,971.1 1182.0,971.6 1182.2,972.7 1182.5,974.2 1182.8,976.2 1183.1,977.9 1183.3,979.6 1183.6,980.8 1183.9,981.5 1184.2,982.5 1184.5,982.9 1184.7,983.2 1185.0,983.6 1185.3,983.8 1185.6,983.9 1185.8,984.2 1186.1,984.1 1186.4,984.3 1186.7,984.6 1186.9,984.5 1187.2,984.3 1187.5,984.6 1187.8,984.5 1188.1,984.4 1188.3,984.6 1188.6,984.6 1188.9,984.6 1189.2,984.7 1189.4,984.8 1189.7,984.6 1190.0,984.8 1190.3,984.8 1190.6,984.7 1190.8,984.8 1191.1,984.6 1191.4,984.7 1191.7,984.7 1191.9,984.6 1192.2,984.8 1192.5,984.6 1192.8,984.7 1193.0,984.8 1193.3,984.7 1193.6,984.5 1193.9,984.7 1194.2,984.7 1194.4,984.8 1194.7,984.7 1195.0,984.9 1195.3,984.7 1195.5,984.7 1195.8,984.9 1196.1,984.6 1196.4,984.5 1196.6,984.6 1196.9,984.8 1197.2,984.7 1197.5,984.7 1197.8,984.7 1198.0,984.6 1198.3,984.6 1198.6,984.5 1198.9,984.6 1199.1,984.7 1199.4,984.7 1199.7,984.8 1200.0,984.8 1200.2,984.5 1200.5,984.6 1200.8,984.5 1201.1,984.6 1201.4,984.7 1201.6,984.7 1201.9,984.8 1202.2,984.4 1202.5,984.5 1202.7,984.4 1203.0,984.6 1203.3,984.4 1203.6,984.4 1203.8,984.4 1204.1,984.0 1204.4,984.3 1204.7,984.3 1205.0,984.0 1205.2,984.0 1205.5,984.0 1205.8,983.9 1206.2,983.9 1206.6,984.0 1206.9,984.0 1207.2,983.9 1207.5,983.9 1207.7,984.1 1208.0,984.1 1208.3,984.1 1208.6,984.3 1208.8,984.4 1209.1,984.3 1209.4,984.3 1209.7,984.2 1209.9,984.5 1210.2,984.5 1210.5,984.5 1210.8,984.5 1211.1,984.4 1211.3,984.4 1211.6,984.7 1211.9,984.6 1212.2,984.7 1212.4,984.7 1212.7,984.9 1213.0,984.5 1213.3,984.8 1213.5,984.7 1213.8,984.7 1214.1,984.7 1214.4,984.7 1214.7,984.6 1214.9,984.6 1215.2,984.5 1215.5,984.8 1215.8,984.7 1216.0,984.5 1216.3,984.5 1216.6,984.5 1216.9,984.6 1217.1,984.6 1217.4,984.7 1217.7,984.7 1218.0,984.6 1218.3,984.5 1218.5,984.7 1218.8,984.7 1219.1,984.6 1219.4,984.6 1219.6,984.6 1219.9,984.5 1220.2,984.6 1220.5,984.4 1220.7,984.4 1221.0,984.3 1221.3,984.2 1221.6,984.4 1221.9,984.4 1222.1,984.2 1222.4,984.1 1222.7,984.3 1223.0,984.6 1223.2,984.1 1223.5,984.2 1223.8,984.3 1224.1,984.2 1224.4,984.0 1224.6,984.1 1224.9,983.9 1225.2,983.8 1225.5,984.1 1225.7,984.1 1226.0,984.1 1226.3,983.7 1226.6,983.5 1226.8,983.6 1227.1,983.4 1227.4,983.1 1227.7,983.0 1228.0,982.9 1228.2,982.6 1228.5,982.5 1228.8,982.3 1229.1,981.6 1229.3,980.7 1229.6,979.8 1229.9,978.6 1230.2,977.0 1230.4,975.0 1230.7,972.6 1231.0,969.8 1231.3,966.5 1231.6,963.5 1231.8,960.9 1232.1,958.8 1232.4,957.7 1232.7,958.5 1232.9,959.8 1233.2,962.7 1233.5,965.7 1233.8,968.4 1234.0,971.2 1234.3,973.4 1234.6,974.6 1234.9,975.2 1235.2,975.9 1235.4,975.6 1235.7,974.4 1236.0,972.9 1236.3,971.0 1236.5,968.5 1236.8,965.3 1237.1,962.7 1237.4,960.7 1237.7,958.9 1237.9,958.5 1238.2,958.6 1238.5,958.8 1238.8,958.6 1239.0,957.8 1239.3,956.4 1239.6,953.9 1239.9,951.2 1240.1,948.5 1240.4,946.6 1240.7,946.2 1241.0,947.6 1241.3,950.5 1241.5,954.9 1241.8,959.1 1242.1,963.7 1242.4,967.7 1242.6,971.1 1242.9,974.0 1243.2,976.2 1243.5,977.9 1243.7,979.8 1244.0,980.3 1244.3,981.3 1244.6,981.8 1244.9,982.0 1245.1,982.4 1245.4,982.9 1245.7,983.0 1246.0,983.1 1246.2,983.0 1246.5,983.0 1246.8,983.5 1247.1,983.7 1247.3,983.5 1247.6,983.7 1247.9,983.8 1248.2,983.8 1248.5,983.9 1248.7,983.8 1249.0,984.1 1249.3,984.0 1249.6,983.9 1249.8,984.1 1250.1,984.1 1250.4,984.3 1250.7,984.4 1250.9,984.1 1251.2,984.4 1251.5,984.4 1251.8,984.3 1252.1,984.4 1252.3,984.3 1252.6,984.4 1252.9,984.4 1253.2,984.3 1253.4,984.3 1253.7,984.4 1254.0,984.7 1254.3,984.6 1254.6,984.7 1254.8,984.6 1255.1,984.6 1255.4,984.6 1255.7,984.5 1255.9,984.5 1256.2,984.5 1256.5,984.5 1256.8,984.6 1257.0,984.7 1257.3,984.7 1257.6,984.8 1257.9,984.5 1258.2,984.7 1258.4,984.7 1258.7,984.5 1259.0,984.7 1259.3,984.6 1259.5,984.7 1259.8,984.6 1260.1,984.7 1260.4,984.5 1260.6,984.7 1260.9,984.7 1261.2,984.7 1261.5,984.7 1261.8,984.7 1262.0,984.8 1262.3,984.7 1262.6,984.7 1262.9,984.7 1263.1,984.7 1263.4,984.7 1263.7,984.8 1264.0,984.5"/></defs>
<g fill="none" stroke="#00f" stroke-linejoin="round" stroke-linecap="round"><use href="#c6" stroke-width="5"/><use href="#c6" stroke-width="6.7" shape-rendering="crispEdges"/></g>
<g class="tl" text-anchor="end">
<text x="209.5" y="1100.3">-20,000</text>
<text x="209.5" y="996.3">0</text>
<text x="209.5" y="892.3">20,000</text>
<text x="209.5" y="788.3">40,000</text>
<text x="209.5" y="684.3">60,000</text>
<text x="209.5" y="580.3">80,000</text>
<text x="209.5" y="476.3">100,000</text>
<text x="209.5" y="372.3">120,000</text>
<text x="209.5" y="268.3">140,000</text>
<text x="209.5" y="164.3">160,000</text>
</g>
<g class="tl" text-anchor="middle">
<text x="294.3" y="1135.3">0</text>
<text x="432.8" y="1135.3">10</text>
<text x="571.3" y="1135.3">20</text>
<text x="709.9" y="1135.3">30</text>
<text x="848.4" y="1135.3">40</text>
<text x="986.9" y="1135.3">50</text>
<text x="1125.4" y="1135.3">60</text>
<text x="1264.0" y="1135.3">70</text>
<text x="1402.5" y="1135.3">80</text>
</g>
<text class="ax" text-anchor="middle" x="776.6" y="1198.0">2Th Degrees</text>
<text class="ax" text-anchor="middle" transform="translate(82.8,590) rotate(-90)">Counts</text>
</g>
<text class="cap" y="4156.5"><tspan x="2442.8">(</tspan><tspan class="b" text-anchor="middle" x="2490">6</tspan><tspan x="2509.8">)</tspan></text>
</svg></body></html>
